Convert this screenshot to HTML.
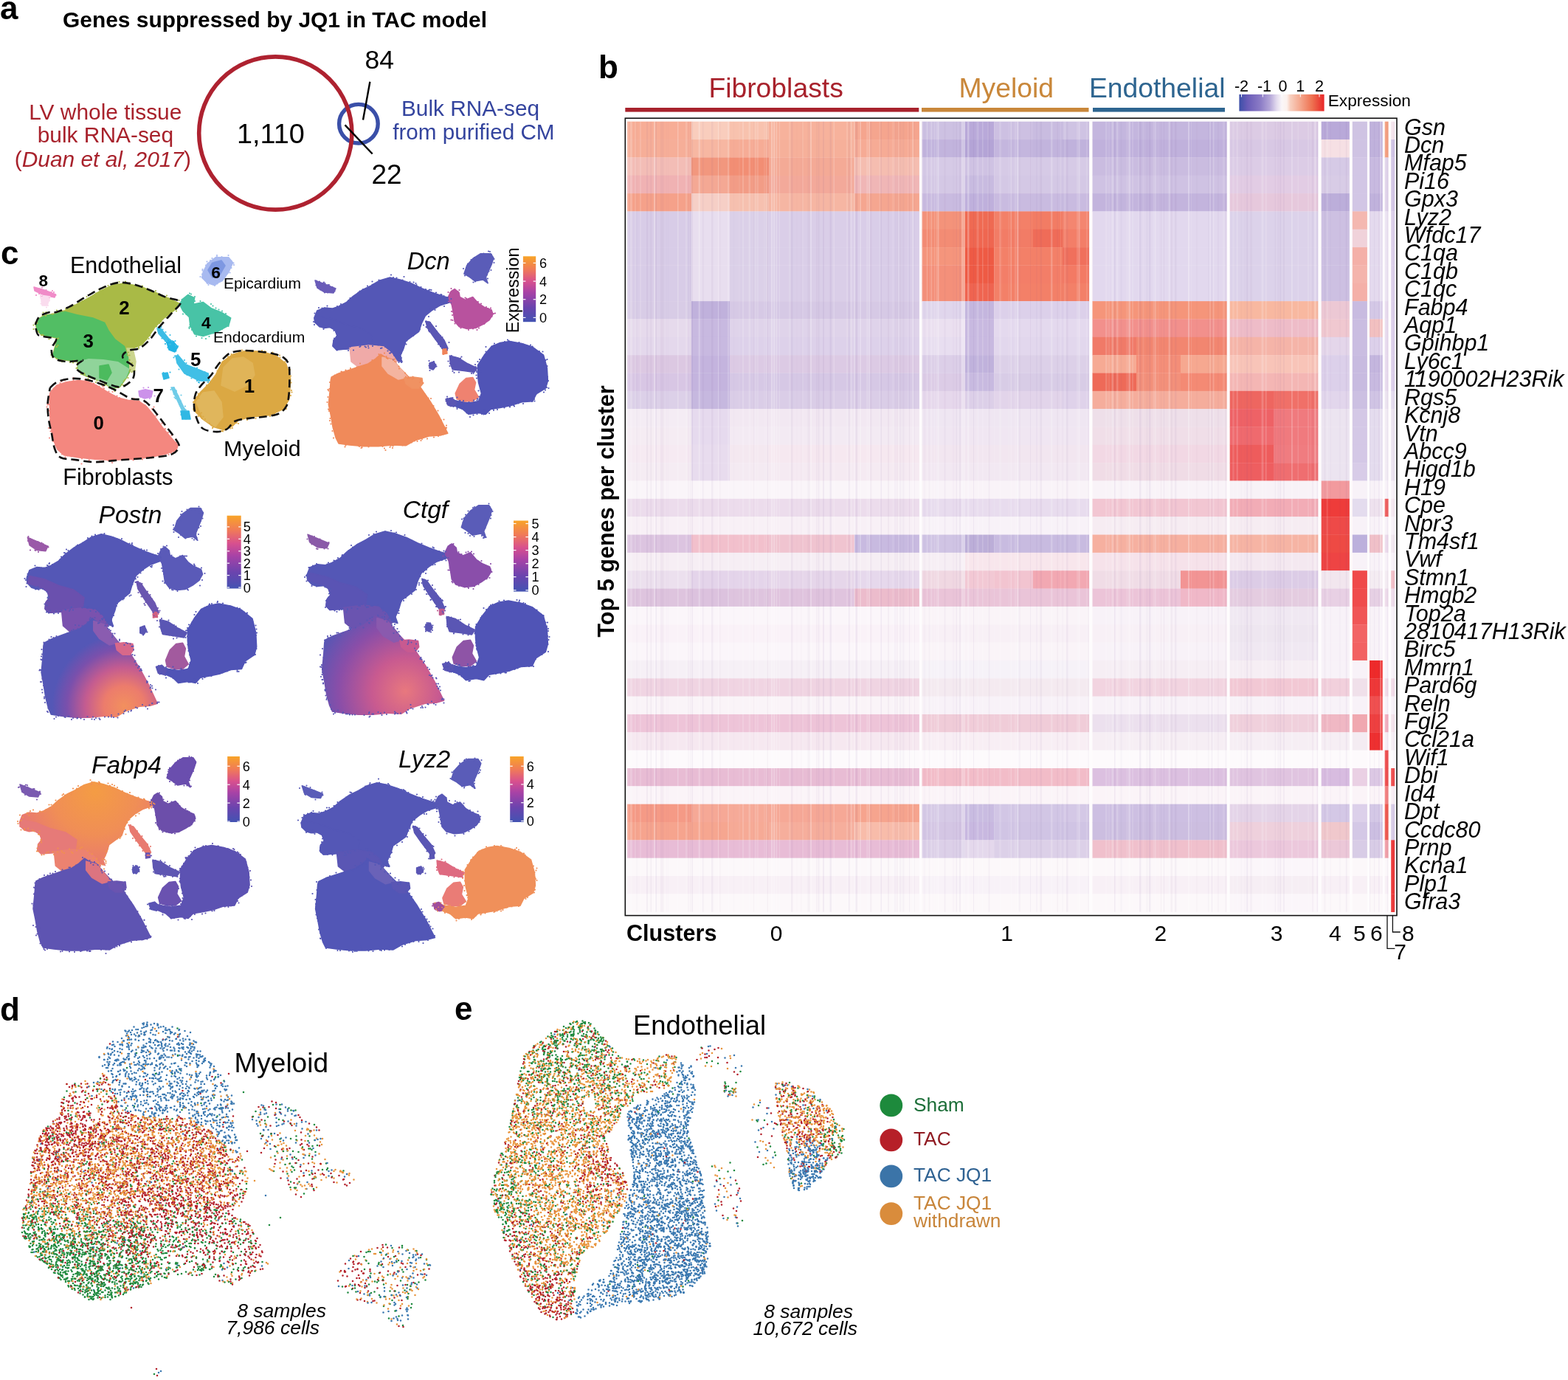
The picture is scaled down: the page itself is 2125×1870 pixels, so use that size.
<!DOCTYPE html>
<html><head><meta charset="utf-8"><title>Figure</title>
<style>
html,body{margin:0;padding:0;background:#fff;}
body{width:2125px;height:1870px;overflow:hidden;position:relative;}
svg{position:absolute;left:0;top:0;}
text{font-family:"Liberation Sans", Arial, sans-serif;}
</style></head><body>
<svg width="2125" height="1870" viewBox="0 0 2125 1870">
<text x="0" y="25.5" font-size="44" fill="#000" font-weight="bold" font-style="normal" text-anchor="start" >a</text>
<text x="85" y="37.2" font-size="28.7" fill="#000" font-weight="bold" font-style="normal" text-anchor="start" textLength="575" lengthAdjust="spacingAndGlyphs">Genes suppressed by JQ1 in TAC model</text>
<text x="142.8" y="162.4" font-size="29.9" fill="#a8222c" font-weight="normal" font-style="normal" text-anchor="middle" >LV whole tissue</text>
<text x="142.9" y="192.8" font-size="29.9" fill="#a8222c" font-weight="normal" font-style="normal" text-anchor="middle" >bulk RNA-seq</text>
<text x="139.4" y="226" font-size="29.9" fill="#a8222c" text-anchor="middle">(<tspan font-style="italic">Duan et al, 2017</tspan>)</text>
<circle cx="485.9" cy="167.7" r="26.3" fill="none" stroke="#3a4fa8" stroke-width="5.4"/>
<circle cx="373.3" cy="180.5" r="103.6" fill="none" stroke="#ae2230" stroke-width="5.6"/>
<text x="366.9" y="193.7" font-size="37.8" fill="#000" font-weight="normal" font-style="normal" text-anchor="middle" >1,110</text>
<text x="494.5" y="92.8" font-size="35.5" fill="#000" font-weight="normal" font-style="normal" text-anchor="start" >84</text>
<text x="503.5" y="249.3" font-size="37" fill="#000" font-weight="normal" font-style="normal" text-anchor="start" >22</text>
<line x1="501.4" y1="110.7" x2="492" y2="162.5" stroke="#000" stroke-width="2.4"/>
<line x1="467.5" y1="169.4" x2="504.7" y2="208.5" stroke="#000" stroke-width="2.4"/>
<text x="637.5" y="157.3" font-size="29.8" fill="#34449e" font-weight="normal" font-style="normal" text-anchor="middle" >Bulk RNA-seq</text>
<text x="641.9" y="188.6" font-size="29.7" fill="#34449e" font-weight="normal" font-style="normal" text-anchor="middle" >from purified CM</text>
<text x="811" y="106.4" font-size="44" fill="#000" font-weight="bold" font-style="normal" text-anchor="start" >b</text>
<text x="1051.6" y="132.3" font-size="37.3" fill="#a8222c" font-weight="normal" font-style="normal" text-anchor="middle" >Fibroblasts</text>
<text x="1363.7" y="132.3" font-size="37.3" fill="#c9873a" font-weight="normal" font-style="normal" text-anchor="middle" >Myeloid</text>
<text x="1568.2" y="132.3" font-size="37.3" fill="#2e6590" font-weight="normal" font-style="normal" text-anchor="middle" >Endothelial</text>
<rect x="847.3" y="146" width="398" height="5.6" fill="#a8222c"/>
<rect x="1249" y="146" width="226.5" height="5.6" fill="#c9873a"/>
<rect x="1481" y="146" width="179" height="5.6" fill="#2e6590"/>
<defs><linearGradient id="hmcb" x1="0" x2="1" y1="0" y2="0">
<stop offset="0" stop-color="#3c4fa8"/><stop offset="0.1" stop-color="#6a5cb8"/><stop offset="0.25" stop-color="#8c7cc6"/>
<stop offset="0.36" stop-color="#b4a6d8"/><stop offset="0.44" stop-color="#e2daee"/><stop offset="0.5" stop-color="#faf6f8"/><stop offset="0.56" stop-color="#fcf2ee"/>
<stop offset="0.6" stop-color="#f8d0c0"/><stop offset="0.72" stop-color="#f4a68c"/><stop offset="0.86" stop-color="#ee7050"/><stop offset="1" stop-color="#e82628"/>
</linearGradient></defs>
<rect x="1679.4" y="127.9" width="115.2" height="22.7" fill="url(#hmcb)"/>
<line x1="1682.5" y1="127.9" x2="1682.5" y2="131.5" stroke="#fff" stroke-width="1"/>
<line x1="1711.3" y1="127.9" x2="1711.3" y2="131.5" stroke="#fff" stroke-width="1"/>
<line x1="1737.1" y1="127.9" x2="1737.1" y2="131.5" stroke="#fff" stroke-width="1"/>
<line x1="1762.3" y1="127.9" x2="1762.3" y2="131.5" stroke="#fff" stroke-width="1"/>
<line x1="1788" y1="127.9" x2="1788" y2="131.5" stroke="#fff" stroke-width="1"/>
<text x="1682.5" y="123.5" font-size="21.6" fill="#000" font-weight="normal" font-style="normal" text-anchor="middle" >-2</text>
<text x="1713.5" y="123.5" font-size="21.6" fill="#000" font-weight="normal" font-style="normal" text-anchor="middle" >-1</text>
<text x="1738.5" y="123.5" font-size="21.6" fill="#000" font-weight="normal" font-style="normal" text-anchor="middle" >0</text>
<text x="1762.3" y="123.5" font-size="21.6" fill="#000" font-weight="normal" font-style="normal" text-anchor="middle" >1</text>
<text x="1788" y="123.5" font-size="21.6" fill="#000" font-weight="normal" font-style="normal" text-anchor="middle" >2</text>
<text x="1799.7" y="144" font-size="22.7" fill="#000" font-weight="normal" font-style="normal" text-anchor="start" >Expression</text>
<rect x="847.3" y="160" width="1046" height="1081" fill="#fefcfd"/>
<rect x="850.0" y="164.70" width="87.4" height="24.64" fill="#f7ad96"/>
<rect x="937.0" y="164.70" width="52.4" height="24.64" fill="#f9cdbd"/>
<rect x="989.0" y="164.70" width="53.4" height="24.64" fill="#f8c2ae"/>
<rect x="1042.0" y="164.70" width="116.4" height="24.64" fill="#f7b29c"/>
<rect x="1158.0" y="164.70" width="87.9" height="24.64" fill="#f5a58e"/>
<rect x="1249.5" y="164.70" width="58.9" height="24.64" fill="#cdc1e2"/>
<rect x="1308.0" y="164.70" width="39.4" height="24.64" fill="#b9a9d9"/>
<rect x="1347.0" y="164.70" width="53.4" height="24.64" fill="#cdc0e2"/>
<rect x="1400.0" y="164.70" width="40.4" height="24.64" fill="#c9bce0"/>
<rect x="1440.0" y="164.70" width="36.1" height="24.64" fill="#cfc3e3"/>
<rect x="1480.5" y="164.70" width="59.9" height="24.64" fill="#c4b6de"/>
<rect x="1540.0" y="164.70" width="60.4" height="24.64" fill="#c4b6de"/>
<rect x="1600.0" y="164.70" width="62.7" height="24.64" fill="#c4b6de"/>
<rect x="1666.7" y="164.70" width="59.7" height="24.64" fill="#dccbe4"/>
<rect x="1726.0" y="164.70" width="60.4" height="24.64" fill="#dccbe4"/>
<rect x="1790.7" y="164.70" width="38.2" height="24.64" fill="#b9a9d9"/>
<rect x="1832.8" y="164.70" width="20.1" height="24.64" fill="#cfc3e3"/>
<rect x="1856.1" y="164.70" width="17.6" height="24.64" fill="#c0b2dc"/>
<rect x="1876.7" y="164.70" width="4.9" height="24.64" fill="#f4a080"/>
<rect x="1885.2" y="164.70" width="5.0" height="24.64" fill="#f4e4ec"/>
<rect x="850.0" y="189.04" width="87.4" height="24.64" fill="#f6ae98"/>
<rect x="937.0" y="189.04" width="52.4" height="24.64" fill="#f7b7a2"/>
<rect x="989.0" y="189.04" width="53.4" height="24.64" fill="#f6ac96"/>
<rect x="1042.0" y="189.04" width="116.4" height="24.64" fill="#f6b09a"/>
<rect x="1158.0" y="189.04" width="87.9" height="24.64" fill="#f6ab95"/>
<rect x="1249.5" y="189.04" width="58.9" height="24.64" fill="#c2b4dd"/>
<rect x="1308.0" y="189.04" width="39.4" height="24.64" fill="#b4a4d6"/>
<rect x="1347.0" y="189.04" width="53.4" height="24.64" fill="#c4b6de"/>
<rect x="1400.0" y="189.04" width="40.4" height="24.64" fill="#c2b4dd"/>
<rect x="1440.0" y="189.04" width="36.1" height="24.64" fill="#c0b2dc"/>
<rect x="1480.5" y="189.04" width="59.9" height="24.64" fill="#c0b1dc"/>
<rect x="1540.0" y="189.04" width="60.4" height="24.64" fill="#c0b1dc"/>
<rect x="1600.0" y="189.04" width="62.7" height="24.64" fill="#c0b1dc"/>
<rect x="1666.7" y="189.04" width="59.7" height="24.64" fill="#d8c8e4"/>
<rect x="1726.0" y="189.04" width="60.4" height="24.64" fill="#d8c8e4"/>
<rect x="1790.7" y="189.04" width="38.2" height="24.64" fill="#f6e0e4"/>
<rect x="1832.8" y="189.04" width="20.1" height="24.64" fill="#cfc3e3"/>
<rect x="1856.1" y="189.04" width="17.6" height="24.64" fill="#c0b2dc"/>
<rect x="1876.7" y="189.04" width="4.9" height="24.64" fill="#f4a080"/>
<rect x="1885.2" y="189.04" width="5.0" height="24.64" fill="#d0c4e4"/>
<rect x="850.0" y="213.38" width="87.4" height="24.64" fill="#f3bdb6"/>
<rect x="937.0" y="213.38" width="52.4" height="24.64" fill="#f2977e"/>
<rect x="989.0" y="213.38" width="53.4" height="24.64" fill="#f28e74"/>
<rect x="1042.0" y="213.38" width="116.4" height="24.64" fill="#f4aa96"/>
<rect x="1158.0" y="213.38" width="87.9" height="24.64" fill="#f5bdb0"/>
<rect x="1249.5" y="213.38" width="58.9" height="24.64" fill="#d6cae6"/>
<rect x="1308.0" y="213.38" width="39.4" height="24.64" fill="#cfc2e3"/>
<rect x="1347.0" y="213.38" width="53.4" height="24.64" fill="#d6cae6"/>
<rect x="1400.0" y="213.38" width="40.4" height="24.64" fill="#d6cae6"/>
<rect x="1440.0" y="213.38" width="36.1" height="24.64" fill="#d6cae6"/>
<rect x="1480.5" y="213.38" width="59.9" height="24.64" fill="#cabce0"/>
<rect x="1540.0" y="213.38" width="60.4" height="24.64" fill="#cabce0"/>
<rect x="1600.0" y="213.38" width="62.7" height="24.64" fill="#cabce0"/>
<rect x="1666.7" y="213.38" width="59.7" height="24.64" fill="#dccce6"/>
<rect x="1726.0" y="213.38" width="60.4" height="24.64" fill="#dccce6"/>
<rect x="1790.7" y="213.38" width="38.2" height="24.64" fill="#d6cae6"/>
<rect x="1832.8" y="213.38" width="20.1" height="24.64" fill="#d2c6e5"/>
<rect x="1856.1" y="213.38" width="17.6" height="24.64" fill="#c8bae0"/>
<rect x="1876.7" y="213.38" width="4.9" height="24.64" fill="#e0d4ea"/>
<rect x="1885.2" y="213.38" width="5.0" height="24.64" fill="#d4c8e6"/>
<rect x="850.0" y="237.72" width="87.4" height="24.64" fill="#f0b2b3"/>
<rect x="937.0" y="237.72" width="52.4" height="24.64" fill="#f4a894"/>
<rect x="989.0" y="237.72" width="53.4" height="24.64" fill="#f29c86"/>
<rect x="1042.0" y="237.72" width="116.4" height="24.64" fill="#f3a99a"/>
<rect x="1158.0" y="237.72" width="87.9" height="24.64" fill="#f0b6b6"/>
<rect x="1249.5" y="237.72" width="58.9" height="24.64" fill="#d4c8e5"/>
<rect x="1308.0" y="237.72" width="39.4" height="24.64" fill="#c8bbe0"/>
<rect x="1347.0" y="237.72" width="53.4" height="24.64" fill="#d4c8e5"/>
<rect x="1400.0" y="237.72" width="40.4" height="24.64" fill="#d4c8e5"/>
<rect x="1440.0" y="237.72" width="36.1" height="24.64" fill="#d4c8e5"/>
<rect x="1480.5" y="237.72" width="59.9" height="24.64" fill="#cfc2e3"/>
<rect x="1540.0" y="237.72" width="60.4" height="24.64" fill="#cfc2e3"/>
<rect x="1600.0" y="237.72" width="62.7" height="24.64" fill="#cfc2e3"/>
<rect x="1666.7" y="237.72" width="59.7" height="24.64" fill="#e2cce4"/>
<rect x="1726.0" y="237.72" width="60.4" height="24.64" fill="#e2cce4"/>
<rect x="1790.7" y="237.72" width="38.2" height="24.64" fill="#d8cce6"/>
<rect x="1832.8" y="237.72" width="20.1" height="24.64" fill="#d2c6e5"/>
<rect x="1856.1" y="237.72" width="17.6" height="24.64" fill="#c8bae0"/>
<rect x="1876.7" y="237.72" width="4.9" height="24.64" fill="#e0d4ea"/>
<rect x="1885.2" y="237.72" width="5.0" height="24.64" fill="#d4c8e6"/>
<rect x="850.0" y="262.06" width="87.4" height="24.64" fill="#f5a18a"/>
<rect x="937.0" y="262.06" width="52.4" height="24.64" fill="#f6cfc6"/>
<rect x="989.0" y="262.06" width="53.4" height="24.64" fill="#f6c0af"/>
<rect x="1042.0" y="262.06" width="116.4" height="24.64" fill="#f6b6a3"/>
<rect x="1158.0" y="262.06" width="87.9" height="24.64" fill="#f5a690"/>
<rect x="1249.5" y="262.06" width="58.9" height="24.64" fill="#c9bbe0"/>
<rect x="1308.0" y="262.06" width="39.4" height="24.64" fill="#bfb0dc"/>
<rect x="1347.0" y="262.06" width="53.4" height="24.64" fill="#c9bbe0"/>
<rect x="1400.0" y="262.06" width="40.4" height="24.64" fill="#c9bbe0"/>
<rect x="1440.0" y="262.06" width="36.1" height="24.64" fill="#c9bbe0"/>
<rect x="1480.5" y="262.06" width="59.9" height="24.64" fill="#c3b4dd"/>
<rect x="1540.0" y="262.06" width="60.4" height="24.64" fill="#c3b4dd"/>
<rect x="1600.0" y="262.06" width="62.7" height="24.64" fill="#c3b4dd"/>
<rect x="1666.7" y="262.06" width="59.7" height="24.64" fill="#e6c8dc"/>
<rect x="1726.0" y="262.06" width="60.4" height="24.64" fill="#e6c8dc"/>
<rect x="1790.7" y="262.06" width="38.2" height="24.64" fill="#bcaeda"/>
<rect x="1832.8" y="262.06" width="20.1" height="24.64" fill="#d2c6e5"/>
<rect x="1856.1" y="262.06" width="17.6" height="24.64" fill="#c0b2dc"/>
<rect x="1876.7" y="262.06" width="4.9" height="24.64" fill="#e0d4ea"/>
<rect x="1885.2" y="262.06" width="5.0" height="24.64" fill="#d4c8e6"/>
<rect x="850.0" y="286.40" width="87.4" height="24.64" fill="#d8cce7"/>
<rect x="937.0" y="286.40" width="52.4" height="24.64" fill="#e8deef"/>
<rect x="989.0" y="286.40" width="53.4" height="24.64" fill="#dbd0e8"/>
<rect x="1042.0" y="286.40" width="116.4" height="24.64" fill="#dacee8"/>
<rect x="1158.0" y="286.40" width="87.9" height="24.64" fill="#d9cde8"/>
<rect x="1249.5" y="286.40" width="58.9" height="24.64" fill="#f4937a"/>
<rect x="1308.0" y="286.40" width="39.4" height="24.64" fill="#ef6a52"/>
<rect x="1347.0" y="286.40" width="53.4" height="24.64" fill="#f38068"/>
<rect x="1400.0" y="286.40" width="40.4" height="24.64" fill="#f27c64"/>
<rect x="1440.0" y="286.40" width="36.1" height="24.64" fill="#f48670"/>
<rect x="1480.5" y="286.40" width="59.9" height="24.64" fill="#e2d8ee"/>
<rect x="1540.0" y="286.40" width="60.4" height="24.64" fill="#e2d8ee"/>
<rect x="1600.0" y="286.40" width="62.7" height="24.64" fill="#e2d8ee"/>
<rect x="1666.7" y="286.40" width="59.7" height="24.64" fill="#dcd2ea"/>
<rect x="1726.0" y="286.40" width="60.4" height="24.64" fill="#dcd2ea"/>
<rect x="1790.7" y="286.40" width="38.2" height="24.64" fill="#cdc0e2"/>
<rect x="1832.8" y="286.40" width="20.1" height="24.64" fill="#f4b8b0"/>
<rect x="1856.1" y="286.40" width="17.6" height="24.64" fill="#e4daee"/>
<rect x="1876.7" y="286.40" width="4.9" height="24.64" fill="#ece4f2"/>
<rect x="1885.2" y="286.40" width="5.0" height="24.64" fill="#dcd0ea"/>
<rect x="850.0" y="310.75" width="87.4" height="24.64" fill="#d8cce7"/>
<rect x="937.0" y="310.75" width="52.4" height="24.64" fill="#e8deef"/>
<rect x="989.0" y="310.75" width="53.4" height="24.64" fill="#dbd0e8"/>
<rect x="1042.0" y="310.75" width="116.4" height="24.64" fill="#dacee8"/>
<rect x="1158.0" y="310.75" width="87.9" height="24.64" fill="#d9cde8"/>
<rect x="1249.5" y="310.75" width="58.9" height="24.64" fill="#f38c74"/>
<rect x="1308.0" y="310.75" width="39.4" height="24.64" fill="#ef6650"/>
<rect x="1347.0" y="310.75" width="53.4" height="24.64" fill="#f27c66"/>
<rect x="1400.0" y="310.75" width="40.4" height="24.64" fill="#ef6c58"/>
<rect x="1440.0" y="310.75" width="36.1" height="24.64" fill="#f37e68"/>
<rect x="1480.5" y="310.75" width="59.9" height="24.64" fill="#e2d8ee"/>
<rect x="1540.0" y="310.75" width="60.4" height="24.64" fill="#e2d8ee"/>
<rect x="1600.0" y="310.75" width="62.7" height="24.64" fill="#e2d8ee"/>
<rect x="1666.7" y="310.75" width="59.7" height="24.64" fill="#dcd2ea"/>
<rect x="1726.0" y="310.75" width="60.4" height="24.64" fill="#dcd2ea"/>
<rect x="1790.7" y="310.75" width="38.2" height="24.64" fill="#cdc0e2"/>
<rect x="1832.8" y="310.75" width="20.1" height="24.64" fill="#f0d2da"/>
<rect x="1856.1" y="310.75" width="17.6" height="24.64" fill="#e4daee"/>
<rect x="1876.7" y="310.75" width="4.9" height="24.64" fill="#ece4f2"/>
<rect x="1885.2" y="310.75" width="5.0" height="24.64" fill="#dcd0ea"/>
<rect x="850.0" y="335.09" width="87.4" height="24.64" fill="#d8cce7"/>
<rect x="937.0" y="335.09" width="52.4" height="24.64" fill="#e8deef"/>
<rect x="989.0" y="335.09" width="53.4" height="24.64" fill="#dbd0e8"/>
<rect x="1042.0" y="335.09" width="116.4" height="24.64" fill="#dacee8"/>
<rect x="1158.0" y="335.09" width="87.9" height="24.64" fill="#d9cde8"/>
<rect x="1249.5" y="335.09" width="58.9" height="24.64" fill="#f5957c"/>
<rect x="1308.0" y="335.09" width="39.4" height="24.64" fill="#ee5a44"/>
<rect x="1347.0" y="335.09" width="53.4" height="24.64" fill="#f38068"/>
<rect x="1400.0" y="335.09" width="40.4" height="24.64" fill="#f38068"/>
<rect x="1440.0" y="335.09" width="36.1" height="24.64" fill="#f0705c"/>
<rect x="1480.5" y="335.09" width="59.9" height="24.64" fill="#e2d8ee"/>
<rect x="1540.0" y="335.09" width="60.4" height="24.64" fill="#e2d8ee"/>
<rect x="1600.0" y="335.09" width="62.7" height="24.64" fill="#e2d8ee"/>
<rect x="1666.7" y="335.09" width="59.7" height="24.64" fill="#dcd2ea"/>
<rect x="1726.0" y="335.09" width="60.4" height="24.64" fill="#dcd2ea"/>
<rect x="1790.7" y="335.09" width="38.2" height="24.64" fill="#cdc0e2"/>
<rect x="1832.8" y="335.09" width="20.1" height="24.64" fill="#f4b0a8"/>
<rect x="1856.1" y="335.09" width="17.6" height="24.64" fill="#e4daee"/>
<rect x="1876.7" y="335.09" width="4.9" height="24.64" fill="#ece4f2"/>
<rect x="1885.2" y="335.09" width="5.0" height="24.64" fill="#dcd0ea"/>
<rect x="850.0" y="359.43" width="87.4" height="24.64" fill="#d8cce7"/>
<rect x="937.0" y="359.43" width="52.4" height="24.64" fill="#e8deef"/>
<rect x="989.0" y="359.43" width="53.4" height="24.64" fill="#dbd0e8"/>
<rect x="1042.0" y="359.43" width="116.4" height="24.64" fill="#dacee8"/>
<rect x="1158.0" y="359.43" width="87.9" height="24.64" fill="#d9cde8"/>
<rect x="1249.5" y="359.43" width="58.9" height="24.64" fill="#f4907a"/>
<rect x="1308.0" y="359.43" width="39.4" height="24.64" fill="#ee5a44"/>
<rect x="1347.0" y="359.43" width="53.4" height="24.64" fill="#f37e68"/>
<rect x="1400.0" y="359.43" width="40.4" height="24.64" fill="#f37e68"/>
<rect x="1440.0" y="359.43" width="36.1" height="24.64" fill="#f37a64"/>
<rect x="1480.5" y="359.43" width="59.9" height="24.64" fill="#e2d8ee"/>
<rect x="1540.0" y="359.43" width="60.4" height="24.64" fill="#e2d8ee"/>
<rect x="1600.0" y="359.43" width="62.7" height="24.64" fill="#e2d8ee"/>
<rect x="1666.7" y="359.43" width="59.7" height="24.64" fill="#dcd2ea"/>
<rect x="1726.0" y="359.43" width="60.4" height="24.64" fill="#dcd2ea"/>
<rect x="1790.7" y="359.43" width="38.2" height="24.64" fill="#cdc0e2"/>
<rect x="1832.8" y="359.43" width="20.1" height="24.64" fill="#f4b4ac"/>
<rect x="1856.1" y="359.43" width="17.6" height="24.64" fill="#e4daee"/>
<rect x="1876.7" y="359.43" width="4.9" height="24.64" fill="#ece4f2"/>
<rect x="1885.2" y="359.43" width="5.0" height="24.64" fill="#dcd0ea"/>
<rect x="850.0" y="383.77" width="87.4" height="24.64" fill="#d8cce7"/>
<rect x="937.0" y="383.77" width="52.4" height="24.64" fill="#e8deef"/>
<rect x="989.0" y="383.77" width="53.4" height="24.64" fill="#dbd0e8"/>
<rect x="1042.0" y="383.77" width="116.4" height="24.64" fill="#dacee8"/>
<rect x="1158.0" y="383.77" width="87.9" height="24.64" fill="#d9cde8"/>
<rect x="1249.5" y="383.77" width="58.9" height="24.64" fill="#f4907a"/>
<rect x="1308.0" y="383.77" width="39.4" height="24.64" fill="#ef6450"/>
<rect x="1347.0" y="383.77" width="53.4" height="24.64" fill="#f38068"/>
<rect x="1400.0" y="383.77" width="40.4" height="24.64" fill="#f38068"/>
<rect x="1440.0" y="383.77" width="36.1" height="24.64" fill="#f38068"/>
<rect x="1480.5" y="383.77" width="59.9" height="24.64" fill="#e2d8ee"/>
<rect x="1540.0" y="383.77" width="60.4" height="24.64" fill="#e2d8ee"/>
<rect x="1600.0" y="383.77" width="62.7" height="24.64" fill="#e2d8ee"/>
<rect x="1666.7" y="383.77" width="59.7" height="24.64" fill="#dcd2ea"/>
<rect x="1726.0" y="383.77" width="60.4" height="24.64" fill="#dcd2ea"/>
<rect x="1790.7" y="383.77" width="38.2" height="24.64" fill="#cdc0e2"/>
<rect x="1832.8" y="383.77" width="20.1" height="24.64" fill="#f4b0a8"/>
<rect x="1856.1" y="383.77" width="17.6" height="24.64" fill="#e4daee"/>
<rect x="1876.7" y="383.77" width="4.9" height="24.64" fill="#ece4f2"/>
<rect x="1885.2" y="383.77" width="5.0" height="24.64" fill="#dcd0ea"/>
<rect x="850.0" y="408.11" width="87.4" height="24.64" fill="#d8cce6"/>
<rect x="937.0" y="408.11" width="52.4" height="24.64" fill="#c0b1dc"/>
<rect x="989.0" y="408.11" width="53.4" height="24.64" fill="#d6c9e5"/>
<rect x="1042.0" y="408.11" width="116.4" height="24.64" fill="#d6c9e5"/>
<rect x="1158.0" y="408.11" width="87.9" height="24.64" fill="#d6c9e5"/>
<rect x="1249.5" y="408.11" width="58.9" height="24.64" fill="#e0d6ec"/>
<rect x="1308.0" y="408.11" width="39.4" height="24.64" fill="#c4b6de"/>
<rect x="1347.0" y="408.11" width="53.4" height="24.64" fill="#dcd0ea"/>
<rect x="1400.0" y="408.11" width="40.4" height="24.64" fill="#dcd0ea"/>
<rect x="1440.0" y="408.11" width="36.1" height="24.64" fill="#dcd0ea"/>
<rect x="1480.5" y="408.11" width="59.9" height="24.64" fill="#f5957a"/>
<rect x="1540.0" y="408.11" width="60.4" height="24.64" fill="#f5957a"/>
<rect x="1600.0" y="408.11" width="62.7" height="24.64" fill="#f5957a"/>
<rect x="1666.7" y="408.11" width="59.7" height="24.64" fill="#f8b8a0"/>
<rect x="1726.0" y="408.11" width="60.4" height="24.64" fill="#f8b8a0"/>
<rect x="1790.7" y="408.11" width="38.2" height="24.64" fill="#ecc8d4"/>
<rect x="1832.8" y="408.11" width="20.1" height="24.64" fill="#c8bbe0"/>
<rect x="1856.1" y="408.11" width="17.6" height="24.64" fill="#d4c8e6"/>
<rect x="1876.7" y="408.11" width="4.9" height="24.64" fill="#e8dcee"/>
<rect x="1885.2" y="408.11" width="5.0" height="24.64" fill="#dcd0ea"/>
<rect x="850.0" y="432.45" width="87.4" height="24.64" fill="#e6daec"/>
<rect x="937.0" y="432.45" width="52.4" height="24.64" fill="#c8b9e0"/>
<rect x="989.0" y="432.45" width="53.4" height="24.64" fill="#dfd3ea"/>
<rect x="1042.0" y="432.45" width="116.4" height="24.64" fill="#dfd3ea"/>
<rect x="1158.0" y="432.45" width="87.9" height="24.64" fill="#dfd3ea"/>
<rect x="1249.5" y="432.45" width="58.9" height="24.64" fill="#ebe0f0"/>
<rect x="1308.0" y="432.45" width="39.4" height="24.64" fill="#c8b9e0"/>
<rect x="1347.0" y="432.45" width="53.4" height="24.64" fill="#e4d9ee"/>
<rect x="1400.0" y="432.45" width="40.4" height="24.64" fill="#e4d9ee"/>
<rect x="1440.0" y="432.45" width="36.1" height="24.64" fill="#e4d9ee"/>
<rect x="1480.5" y="432.45" width="59.9" height="24.64" fill="#f2908c"/>
<rect x="1540.0" y="432.45" width="60.4" height="24.64" fill="#f2908c"/>
<rect x="1600.0" y="432.45" width="62.7" height="24.64" fill="#f2908c"/>
<rect x="1666.7" y="432.45" width="59.7" height="24.64" fill="#eebcc8"/>
<rect x="1726.0" y="432.45" width="60.4" height="24.64" fill="#eebcc8"/>
<rect x="1790.7" y="432.45" width="38.2" height="24.64" fill="#f0c8d0"/>
<rect x="1832.8" y="432.45" width="20.1" height="24.64" fill="#cabde1"/>
<rect x="1856.1" y="432.45" width="17.6" height="24.64" fill="#f2c0c0"/>
<rect x="1876.7" y="432.45" width="4.9" height="24.64" fill="#e8dcee"/>
<rect x="1885.2" y="432.45" width="5.0" height="24.64" fill="#dcd0ea"/>
<rect x="850.0" y="456.79" width="87.4" height="24.64" fill="#e4d8ec"/>
<rect x="937.0" y="456.79" width="52.4" height="24.64" fill="#c8b9e0"/>
<rect x="989.0" y="456.79" width="53.4" height="24.64" fill="#ddd1ea"/>
<rect x="1042.0" y="456.79" width="116.4" height="24.64" fill="#ddd1ea"/>
<rect x="1158.0" y="456.79" width="87.9" height="24.64" fill="#ddd1ea"/>
<rect x="1249.5" y="456.79" width="58.9" height="24.64" fill="#e8def0"/>
<rect x="1308.0" y="456.79" width="39.4" height="24.64" fill="#c8b9e0"/>
<rect x="1347.0" y="456.79" width="53.4" height="24.64" fill="#e2d7ed"/>
<rect x="1400.0" y="456.79" width="40.4" height="24.64" fill="#e2d7ed"/>
<rect x="1440.0" y="456.79" width="36.1" height="24.64" fill="#e2d7ed"/>
<rect x="1480.5" y="456.79" width="59.9" height="24.64" fill="#f07a68"/>
<rect x="1540.0" y="456.79" width="60.4" height="24.64" fill="#f28670"/>
<rect x="1600.0" y="456.79" width="62.7" height="24.64" fill="#f28670"/>
<rect x="1666.7" y="456.79" width="59.7" height="24.64" fill="#f5b4a8"/>
<rect x="1726.0" y="456.79" width="60.4" height="24.64" fill="#f5b4a8"/>
<rect x="1790.7" y="456.79" width="38.2" height="24.64" fill="#e4d6ea"/>
<rect x="1832.8" y="456.79" width="20.1" height="24.64" fill="#cabde1"/>
<rect x="1856.1" y="456.79" width="17.6" height="24.64" fill="#dcd0ea"/>
<rect x="1876.7" y="456.79" width="4.9" height="24.64" fill="#e8dcee"/>
<rect x="1885.2" y="456.79" width="5.0" height="24.64" fill="#dcd0ea"/>
<rect x="850.0" y="481.13" width="87.4" height="24.64" fill="#dcc8e2"/>
<rect x="937.0" y="481.13" width="52.4" height="24.64" fill="#c4b4de"/>
<rect x="989.0" y="481.13" width="53.4" height="24.64" fill="#dccae4"/>
<rect x="1042.0" y="481.13" width="116.4" height="24.64" fill="#dccae4"/>
<rect x="1158.0" y="481.13" width="87.9" height="24.64" fill="#dccae4"/>
<rect x="1249.5" y="481.13" width="58.9" height="24.64" fill="#dccfe8"/>
<rect x="1308.0" y="481.13" width="39.4" height="24.64" fill="#c0b2dc"/>
<rect x="1347.0" y="481.13" width="53.4" height="24.64" fill="#dcd0e8"/>
<rect x="1400.0" y="481.13" width="40.4" height="24.64" fill="#dcd0e8"/>
<rect x="1440.0" y="481.13" width="36.1" height="24.64" fill="#dcd0e8"/>
<rect x="1480.5" y="481.13" width="59.9" height="24.64" fill="#f6aa94"/>
<rect x="1540.0" y="481.13" width="60.4" height="24.64" fill="#f48e78"/>
<rect x="1600.0" y="481.13" width="62.7" height="24.64" fill="#f6a890"/>
<rect x="1666.7" y="481.13" width="59.7" height="24.64" fill="#f8c4b8"/>
<rect x="1726.0" y="481.13" width="60.4" height="24.64" fill="#f8c4b8"/>
<rect x="1790.7" y="481.13" width="38.2" height="24.64" fill="#dcd0ea"/>
<rect x="1832.8" y="481.13" width="20.1" height="24.64" fill="#c8bbe0"/>
<rect x="1856.1" y="481.13" width="17.6" height="24.64" fill="#c4b6de"/>
<rect x="1876.7" y="481.13" width="4.9" height="24.64" fill="#e8dcee"/>
<rect x="1885.2" y="481.13" width="5.0" height="24.64" fill="#dcd0ea"/>
<rect x="850.0" y="505.47" width="87.4" height="24.64" fill="#d8c6e4"/>
<rect x="937.0" y="505.47" width="52.4" height="24.64" fill="#c4b4de"/>
<rect x="989.0" y="505.47" width="53.4" height="24.64" fill="#d6c8e5"/>
<rect x="1042.0" y="505.47" width="116.4" height="24.64" fill="#d6c8e5"/>
<rect x="1158.0" y="505.47" width="87.9" height="24.64" fill="#d6c8e5"/>
<rect x="1249.5" y="505.47" width="58.9" height="24.64" fill="#dccce6"/>
<rect x="1308.0" y="505.47" width="39.4" height="24.64" fill="#c8bae0"/>
<rect x="1347.0" y="505.47" width="53.4" height="24.64" fill="#d8cce6"/>
<rect x="1400.0" y="505.47" width="40.4" height="24.64" fill="#d8cce6"/>
<rect x="1440.0" y="505.47" width="36.1" height="24.64" fill="#d8cce6"/>
<rect x="1480.5" y="505.47" width="59.9" height="24.64" fill="#ee6a58"/>
<rect x="1540.0" y="505.47" width="60.4" height="24.64" fill="#f3907a"/>
<rect x="1600.0" y="505.47" width="62.7" height="24.64" fill="#f48a74"/>
<rect x="1666.7" y="505.47" width="59.7" height="24.64" fill="#f4b6b4"/>
<rect x="1726.0" y="505.47" width="60.4" height="24.64" fill="#f4b6b4"/>
<rect x="1790.7" y="505.47" width="38.2" height="24.64" fill="#dcd0ea"/>
<rect x="1832.8" y="505.47" width="20.1" height="24.64" fill="#c8bbe0"/>
<rect x="1856.1" y="505.47" width="17.6" height="24.64" fill="#c8bae0"/>
<rect x="1876.7" y="505.47" width="4.9" height="24.64" fill="#e8dcee"/>
<rect x="1885.2" y="505.47" width="5.0" height="24.64" fill="#dcd0ea"/>
<rect x="850.0" y="529.81" width="87.4" height="24.64" fill="#dcd0e8"/>
<rect x="937.0" y="529.81" width="52.4" height="24.64" fill="#c6b8df"/>
<rect x="989.0" y="529.81" width="53.4" height="24.64" fill="#dacde7"/>
<rect x="1042.0" y="529.81" width="116.4" height="24.64" fill="#dacde7"/>
<rect x="1158.0" y="529.81" width="87.9" height="24.64" fill="#dacde7"/>
<rect x="1249.5" y="529.81" width="58.9" height="24.64" fill="#e6d8ec"/>
<rect x="1308.0" y="529.81" width="39.4" height="24.64" fill="#dccfe8"/>
<rect x="1347.0" y="529.81" width="53.4" height="24.64" fill="#e2d4ea"/>
<rect x="1400.0" y="529.81" width="40.4" height="24.64" fill="#e2d4ea"/>
<rect x="1440.0" y="529.81" width="36.1" height="24.64" fill="#dfd2ea"/>
<rect x="1480.5" y="529.81" width="59.9" height="24.64" fill="#f5ad9c"/>
<rect x="1540.0" y="529.81" width="60.4" height="24.64" fill="#f5ad9c"/>
<rect x="1600.0" y="529.81" width="62.7" height="24.64" fill="#f5ad9c"/>
<rect x="1666.7" y="529.81" width="59.7" height="24.64" fill="#ee6660"/>
<rect x="1726.0" y="529.81" width="60.4" height="24.64" fill="#f07068"/>
<rect x="1790.7" y="529.81" width="38.2" height="24.64" fill="#e2d6ec"/>
<rect x="1832.8" y="529.81" width="20.1" height="24.64" fill="#ccc0e2"/>
<rect x="1856.1" y="529.81" width="17.6" height="24.64" fill="#d0c4e4"/>
<rect x="1876.7" y="529.81" width="4.9" height="24.64" fill="#ece4f0"/>
<rect x="1885.2" y="529.81" width="5.0" height="24.64" fill="#e4dcee"/>
<rect x="850.0" y="554.15" width="87.4" height="24.64" fill="#f4ecf4"/>
<rect x="937.0" y="554.15" width="52.4" height="24.64" fill="#e6daee"/>
<rect x="989.0" y="554.15" width="53.4" height="24.64" fill="#f2e8f2"/>
<rect x="1042.0" y="554.15" width="116.4" height="24.64" fill="#f2e8f2"/>
<rect x="1158.0" y="554.15" width="87.9" height="24.64" fill="#f2e8f2"/>
<rect x="1249.5" y="554.15" width="58.9" height="24.64" fill="#efe6f2"/>
<rect x="1308.0" y="554.15" width="39.4" height="24.64" fill="#efe6f2"/>
<rect x="1347.0" y="554.15" width="53.4" height="24.64" fill="#efe6f2"/>
<rect x="1400.0" y="554.15" width="40.4" height="24.64" fill="#efe6f2"/>
<rect x="1440.0" y="554.15" width="36.1" height="24.64" fill="#efe6f2"/>
<rect x="1480.5" y="554.15" width="59.9" height="24.64" fill="#eedfe9"/>
<rect x="1540.0" y="554.15" width="60.4" height="24.64" fill="#eedfe9"/>
<rect x="1600.0" y="554.15" width="62.7" height="24.64" fill="#eedfe9"/>
<rect x="1666.7" y="554.15" width="59.7" height="24.64" fill="#ee6266"/>
<rect x="1726.0" y="554.15" width="60.4" height="24.64" fill="#f07a7e"/>
<rect x="1790.7" y="554.15" width="38.2" height="24.64" fill="#ece4f0"/>
<rect x="1832.8" y="554.15" width="20.1" height="24.64" fill="#d4c8e6"/>
<rect x="1856.1" y="554.15" width="17.6" height="24.64" fill="#e4dcee"/>
<rect x="1876.7" y="554.15" width="4.9" height="24.64" fill="#f2ecf4"/>
<rect x="1885.2" y="554.15" width="5.0" height="24.64" fill="#ece4f0"/>
<rect x="850.0" y="578.50" width="87.4" height="24.64" fill="#f5ecf3"/>
<rect x="937.0" y="578.50" width="52.4" height="24.64" fill="#e6daee"/>
<rect x="989.0" y="578.50" width="53.4" height="24.64" fill="#f3eaf3"/>
<rect x="1042.0" y="578.50" width="116.4" height="24.64" fill="#f3eaf3"/>
<rect x="1158.0" y="578.50" width="87.9" height="24.64" fill="#f3eaf3"/>
<rect x="1249.5" y="578.50" width="58.9" height="24.64" fill="#f0e6f2"/>
<rect x="1308.0" y="578.50" width="39.4" height="24.64" fill="#f0e6f2"/>
<rect x="1347.0" y="578.50" width="53.4" height="24.64" fill="#f0e6f2"/>
<rect x="1400.0" y="578.50" width="40.4" height="24.64" fill="#f0e6f2"/>
<rect x="1440.0" y="578.50" width="36.1" height="24.64" fill="#f0e6f2"/>
<rect x="1480.5" y="578.50" width="59.9" height="24.64" fill="#f0dee8"/>
<rect x="1540.0" y="578.50" width="60.4" height="24.64" fill="#f0dee8"/>
<rect x="1600.0" y="578.50" width="62.7" height="24.64" fill="#f0dee8"/>
<rect x="1666.7" y="578.50" width="59.7" height="24.64" fill="#ef6a6e"/>
<rect x="1726.0" y="578.50" width="60.4" height="24.64" fill="#f07a7e"/>
<rect x="1790.7" y="578.50" width="38.2" height="24.64" fill="#ece4f0"/>
<rect x="1832.8" y="578.50" width="20.1" height="24.64" fill="#d4c8e6"/>
<rect x="1856.1" y="578.50" width="17.6" height="24.64" fill="#e4dcee"/>
<rect x="1876.7" y="578.50" width="4.9" height="24.64" fill="#f2ecf4"/>
<rect x="1885.2" y="578.50" width="5.0" height="24.64" fill="#ece4f0"/>
<rect x="850.0" y="602.84" width="87.4" height="24.64" fill="#f6eaf2"/>
<rect x="937.0" y="602.84" width="52.4" height="24.64" fill="#e8dcee"/>
<rect x="989.0" y="602.84" width="53.4" height="24.64" fill="#f4e8f0"/>
<rect x="1042.0" y="602.84" width="116.4" height="24.64" fill="#f6e8f0"/>
<rect x="1158.0" y="602.84" width="87.9" height="24.64" fill="#f6e8f0"/>
<rect x="1249.5" y="602.84" width="58.9" height="24.64" fill="#f2e6f0"/>
<rect x="1308.0" y="602.84" width="39.4" height="24.64" fill="#f2e6f0"/>
<rect x="1347.0" y="602.84" width="53.4" height="24.64" fill="#f2e6f0"/>
<rect x="1400.0" y="602.84" width="40.4" height="24.64" fill="#f2e6f0"/>
<rect x="1440.0" y="602.84" width="36.1" height="24.64" fill="#f2e6f0"/>
<rect x="1480.5" y="602.84" width="59.9" height="24.64" fill="#f2d8e4"/>
<rect x="1540.0" y="602.84" width="60.4" height="24.64" fill="#f2d8e4"/>
<rect x="1600.0" y="602.84" width="62.7" height="24.64" fill="#f2d8e4"/>
<rect x="1666.7" y="602.84" width="59.7" height="24.64" fill="#ee5c5c"/>
<rect x="1726.0" y="602.84" width="60.4" height="24.64" fill="#f07c80"/>
<rect x="1790.7" y="602.84" width="38.2" height="24.64" fill="#ece4f0"/>
<rect x="1832.8" y="602.84" width="20.1" height="24.64" fill="#d4c8e6"/>
<rect x="1856.1" y="602.84" width="17.6" height="24.64" fill="#e4dcee"/>
<rect x="1876.7" y="602.84" width="4.9" height="24.64" fill="#f2ecf4"/>
<rect x="1885.2" y="602.84" width="5.0" height="24.64" fill="#ece4f0"/>
<rect x="850.0" y="627.18" width="87.4" height="24.64" fill="#f5ecf3"/>
<rect x="937.0" y="627.18" width="52.4" height="24.64" fill="#e8dcee"/>
<rect x="989.0" y="627.18" width="53.4" height="24.64" fill="#f4eaf2"/>
<rect x="1042.0" y="627.18" width="116.4" height="24.64" fill="#f5eaf2"/>
<rect x="1158.0" y="627.18" width="87.9" height="24.64" fill="#f5eaf2"/>
<rect x="1249.5" y="627.18" width="58.9" height="24.64" fill="#f2e8f2"/>
<rect x="1308.0" y="627.18" width="39.4" height="24.64" fill="#f2e8f2"/>
<rect x="1347.0" y="627.18" width="53.4" height="24.64" fill="#f2e8f2"/>
<rect x="1400.0" y="627.18" width="40.4" height="24.64" fill="#f2e8f2"/>
<rect x="1440.0" y="627.18" width="36.1" height="24.64" fill="#f2e8f2"/>
<rect x="1480.5" y="627.18" width="59.9" height="24.64" fill="#f0dce6"/>
<rect x="1540.0" y="627.18" width="60.4" height="24.64" fill="#f0dce6"/>
<rect x="1600.0" y="627.18" width="62.7" height="24.64" fill="#f0dce6"/>
<rect x="1666.7" y="627.18" width="59.7" height="24.64" fill="#ee5e60"/>
<rect x="1726.0" y="627.18" width="60.4" height="24.64" fill="#ef6e70"/>
<rect x="1790.7" y="627.18" width="38.2" height="24.64" fill="#ece4f0"/>
<rect x="1832.8" y="627.18" width="20.1" height="24.64" fill="#d8cce8"/>
<rect x="1856.1" y="627.18" width="17.6" height="24.64" fill="#e4dcee"/>
<rect x="1876.7" y="627.18" width="4.9" height="24.64" fill="#f2ecf4"/>
<rect x="1885.2" y="627.18" width="5.0" height="24.64" fill="#ece4f0"/>
<rect x="850.0" y="651.52" width="87.4" height="24.64" fill="#faf5f9"/>
<rect x="937.0" y="651.52" width="52.4" height="24.64" fill="#faf5f9"/>
<rect x="989.0" y="651.52" width="53.4" height="24.64" fill="#faf5f9"/>
<rect x="1042.0" y="651.52" width="116.4" height="24.64" fill="#faf5f9"/>
<rect x="1158.0" y="651.52" width="87.9" height="24.64" fill="#faf5f9"/>
<rect x="1249.5" y="651.52" width="58.9" height="24.64" fill="#f9f3f8"/>
<rect x="1308.0" y="651.52" width="39.4" height="24.64" fill="#f9f3f8"/>
<rect x="1347.0" y="651.52" width="53.4" height="24.64" fill="#f9f3f8"/>
<rect x="1400.0" y="651.52" width="40.4" height="24.64" fill="#f9f3f8"/>
<rect x="1440.0" y="651.52" width="36.1" height="24.64" fill="#f9f3f8"/>
<rect x="1480.5" y="651.52" width="59.9" height="24.64" fill="#f9f3f8"/>
<rect x="1540.0" y="651.52" width="60.4" height="24.64" fill="#f9f3f8"/>
<rect x="1600.0" y="651.52" width="62.7" height="24.64" fill="#f9f3f8"/>
<rect x="1666.7" y="651.52" width="59.7" height="24.64" fill="#f8f2f7"/>
<rect x="1726.0" y="651.52" width="60.4" height="24.64" fill="#f8f2f7"/>
<rect x="1790.7" y="651.52" width="38.2" height="24.64" fill="#f29a9e"/>
<rect x="1832.8" y="651.52" width="20.1" height="24.64" fill="#f8f2f8"/>
<rect x="1856.1" y="651.52" width="17.6" height="24.64" fill="#f8f2f8"/>
<rect x="1876.7" y="651.52" width="4.9" height="24.64" fill="#f8f2f8"/>
<rect x="1885.2" y="651.52" width="5.0" height="24.64" fill="#f8f2f8"/>
<rect x="850.0" y="675.86" width="87.4" height="24.64" fill="#ecdcec"/>
<rect x="937.0" y="675.86" width="52.4" height="24.64" fill="#ecdcec"/>
<rect x="989.0" y="675.86" width="53.4" height="24.64" fill="#ecdcec"/>
<rect x="1042.0" y="675.86" width="116.4" height="24.64" fill="#ecdcec"/>
<rect x="1158.0" y="675.86" width="87.9" height="24.64" fill="#ecdcec"/>
<rect x="1249.5" y="675.86" width="58.9" height="24.64" fill="#e8dcee"/>
<rect x="1308.0" y="675.86" width="39.4" height="24.64" fill="#e8dcee"/>
<rect x="1347.0" y="675.86" width="53.4" height="24.64" fill="#e8dcee"/>
<rect x="1400.0" y="675.86" width="40.4" height="24.64" fill="#e8dcee"/>
<rect x="1440.0" y="675.86" width="36.1" height="24.64" fill="#e8dcee"/>
<rect x="1480.5" y="675.86" width="59.9" height="24.64" fill="#f2c6d2"/>
<rect x="1540.0" y="675.86" width="60.4" height="24.64" fill="#f2c6d2"/>
<rect x="1600.0" y="675.86" width="62.7" height="24.64" fill="#f2c6d2"/>
<rect x="1666.7" y="675.86" width="59.7" height="24.64" fill="#f2acb6"/>
<rect x="1726.0" y="675.86" width="60.4" height="24.64" fill="#f2acb6"/>
<rect x="1790.7" y="675.86" width="38.2" height="24.64" fill="#ee3c3a"/>
<rect x="1832.8" y="675.86" width="20.1" height="24.64" fill="#e4dcee"/>
<rect x="1856.1" y="675.86" width="17.6" height="24.64" fill="#eee2ee"/>
<rect x="1876.7" y="675.86" width="4.9" height="24.64" fill="#ee6060"/>
<rect x="1885.2" y="675.86" width="5.0" height="24.64" fill="#f4e8f0"/>
<rect x="850.0" y="700.20" width="87.4" height="24.64" fill="#f8f0f6"/>
<rect x="937.0" y="700.20" width="52.4" height="24.64" fill="#f8f0f6"/>
<rect x="989.0" y="700.20" width="53.4" height="24.64" fill="#f8f0f6"/>
<rect x="1042.0" y="700.20" width="116.4" height="24.64" fill="#f8f0f6"/>
<rect x="1158.0" y="700.20" width="87.9" height="24.64" fill="#f8f0f6"/>
<rect x="1249.5" y="700.20" width="58.9" height="24.64" fill="#f8f2f8"/>
<rect x="1308.0" y="700.20" width="39.4" height="24.64" fill="#f8f2f8"/>
<rect x="1347.0" y="700.20" width="53.4" height="24.64" fill="#f8f2f8"/>
<rect x="1400.0" y="700.20" width="40.4" height="24.64" fill="#f8f2f8"/>
<rect x="1440.0" y="700.20" width="36.1" height="24.64" fill="#f8f2f8"/>
<rect x="1480.5" y="700.20" width="59.9" height="24.64" fill="#f6ecf2"/>
<rect x="1540.0" y="700.20" width="60.4" height="24.64" fill="#f6ecf2"/>
<rect x="1600.0" y="700.20" width="62.7" height="24.64" fill="#f6ecf2"/>
<rect x="1666.7" y="700.20" width="59.7" height="24.64" fill="#f6ecf2"/>
<rect x="1726.0" y="700.20" width="60.4" height="24.64" fill="#f6ecf2"/>
<rect x="1790.7" y="700.20" width="38.2" height="24.64" fill="#ee4a48"/>
<rect x="1832.8" y="700.20" width="20.1" height="24.64" fill="#f8f2f8"/>
<rect x="1856.1" y="700.20" width="17.6" height="24.64" fill="#f8f2f8"/>
<rect x="1876.7" y="700.20" width="4.9" height="24.64" fill="#f8f2f8"/>
<rect x="1885.2" y="700.20" width="5.0" height="24.64" fill="#f8f2f8"/>
<rect x="850.0" y="724.54" width="87.4" height="24.64" fill="#dcc4e0"/>
<rect x="937.0" y="724.54" width="52.4" height="24.64" fill="#f2c0cc"/>
<rect x="989.0" y="724.54" width="53.4" height="24.64" fill="#f2c0cc"/>
<rect x="1042.0" y="724.54" width="116.4" height="24.64" fill="#f0c4d0"/>
<rect x="1158.0" y="724.54" width="87.9" height="24.64" fill="#c8bae0"/>
<rect x="1249.5" y="724.54" width="58.9" height="24.64" fill="#d0c4e4"/>
<rect x="1308.0" y="724.54" width="39.4" height="24.64" fill="#bcaed8"/>
<rect x="1347.0" y="724.54" width="53.4" height="24.64" fill="#c8bbe0"/>
<rect x="1400.0" y="724.54" width="40.4" height="24.64" fill="#c8bbe0"/>
<rect x="1440.0" y="724.54" width="36.1" height="24.64" fill="#c8bbe0"/>
<rect x="1480.5" y="724.54" width="59.9" height="24.64" fill="#f6b0a0"/>
<rect x="1540.0" y="724.54" width="60.4" height="24.64" fill="#f6b0a0"/>
<rect x="1600.0" y="724.54" width="62.7" height="24.64" fill="#f6b0a0"/>
<rect x="1666.7" y="724.54" width="59.7" height="24.64" fill="#f6b4a4"/>
<rect x="1726.0" y="724.54" width="60.4" height="24.64" fill="#f6b4a4"/>
<rect x="1790.7" y="724.54" width="38.2" height="24.64" fill="#ee4a44"/>
<rect x="1832.8" y="724.54" width="20.1" height="24.64" fill="#bcb0dc"/>
<rect x="1856.1" y="724.54" width="17.6" height="24.64" fill="#f0c0c8"/>
<rect x="1876.7" y="724.54" width="4.9" height="24.64" fill="#ecdcec"/>
<rect x="1885.2" y="724.54" width="5.0" height="24.64" fill="#f2e8f0"/>
<rect x="850.0" y="748.88" width="87.4" height="24.64" fill="#f6eef4"/>
<rect x="937.0" y="748.88" width="52.4" height="24.64" fill="#f6eef4"/>
<rect x="989.0" y="748.88" width="53.4" height="24.64" fill="#f6eef4"/>
<rect x="1042.0" y="748.88" width="116.4" height="24.64" fill="#f6eef4"/>
<rect x="1158.0" y="748.88" width="87.9" height="24.64" fill="#f6eef4"/>
<rect x="1249.5" y="748.88" width="58.9" height="24.64" fill="#f6eef4"/>
<rect x="1308.0" y="748.88" width="39.4" height="24.64" fill="#f8e6ec"/>
<rect x="1347.0" y="748.88" width="53.4" height="24.64" fill="#f8e6ec"/>
<rect x="1400.0" y="748.88" width="40.4" height="24.64" fill="#f8e6ec"/>
<rect x="1440.0" y="748.88" width="36.1" height="24.64" fill="#f8e6ec"/>
<rect x="1480.5" y="748.88" width="59.9" height="24.64" fill="#f6e2ea"/>
<rect x="1540.0" y="748.88" width="60.4" height="24.64" fill="#f6e2ea"/>
<rect x="1600.0" y="748.88" width="62.7" height="24.64" fill="#f6e2ea"/>
<rect x="1666.7" y="748.88" width="59.7" height="24.64" fill="#f4e8f0"/>
<rect x="1726.0" y="748.88" width="60.4" height="24.64" fill="#f4e8f0"/>
<rect x="1790.7" y="748.88" width="38.2" height="24.64" fill="#ee4444"/>
<rect x="1832.8" y="748.88" width="20.1" height="24.64" fill="#f8f2f8"/>
<rect x="1856.1" y="748.88" width="17.6" height="24.64" fill="#f8f2f8"/>
<rect x="1876.7" y="748.88" width="4.9" height="24.64" fill="#f8f2f8"/>
<rect x="1885.2" y="748.88" width="5.0" height="24.64" fill="#f8f2f8"/>
<rect x="850.0" y="773.22" width="87.4" height="24.64" fill="#ece0ee"/>
<rect x="937.0" y="773.22" width="52.4" height="24.64" fill="#e4d4ea"/>
<rect x="989.0" y="773.22" width="53.4" height="24.64" fill="#e4d4ea"/>
<rect x="1042.0" y="773.22" width="116.4" height="24.64" fill="#e6d6ea"/>
<rect x="1158.0" y="773.22" width="87.9" height="24.64" fill="#e6d8ec"/>
<rect x="1249.5" y="773.22" width="58.9" height="24.64" fill="#f0d8e2"/>
<rect x="1308.0" y="773.22" width="39.4" height="24.64" fill="#f2c8d4"/>
<rect x="1347.0" y="773.22" width="53.4" height="24.64" fill="#f2c4d0"/>
<rect x="1400.0" y="773.22" width="40.4" height="24.64" fill="#f2a8b2"/>
<rect x="1440.0" y="773.22" width="36.1" height="24.64" fill="#f2a8b2"/>
<rect x="1480.5" y="773.22" width="59.9" height="24.64" fill="#f0dce6"/>
<rect x="1540.0" y="773.22" width="60.4" height="24.64" fill="#f0dce6"/>
<rect x="1600.0" y="773.22" width="62.7" height="24.64" fill="#f29494"/>
<rect x="1666.7" y="773.22" width="59.7" height="24.64" fill="#dccce6"/>
<rect x="1726.0" y="773.22" width="60.4" height="24.64" fill="#dccce6"/>
<rect x="1790.7" y="773.22" width="38.2" height="24.64" fill="#f2e6ee"/>
<rect x="1832.8" y="773.22" width="20.1" height="24.64" fill="#ef4a4a"/>
<rect x="1856.1" y="773.22" width="17.6" height="24.64" fill="#f4ecf2"/>
<rect x="1876.7" y="773.22" width="4.9" height="24.64" fill="#f4ecf2"/>
<rect x="1885.2" y="773.22" width="5.0" height="24.64" fill="#f2c0c8"/>
<rect x="850.0" y="797.56" width="87.4" height="24.64" fill="#dec4de"/>
<rect x="937.0" y="797.56" width="52.4" height="24.64" fill="#dcc2de"/>
<rect x="989.0" y="797.56" width="53.4" height="24.64" fill="#dec4de"/>
<rect x="1042.0" y="797.56" width="116.4" height="24.64" fill="#e0c4de"/>
<rect x="1158.0" y="797.56" width="87.9" height="24.64" fill="#ecbccc"/>
<rect x="1249.5" y="797.56" width="58.9" height="24.64" fill="#eac4d8"/>
<rect x="1308.0" y="797.56" width="39.4" height="24.64" fill="#eac4d8"/>
<rect x="1347.0" y="797.56" width="53.4" height="24.64" fill="#eac4d8"/>
<rect x="1400.0" y="797.56" width="40.4" height="24.64" fill="#eac4d8"/>
<rect x="1440.0" y="797.56" width="36.1" height="24.64" fill="#eac4d8"/>
<rect x="1480.5" y="797.56" width="59.9" height="24.64" fill="#ecc4d8"/>
<rect x="1540.0" y="797.56" width="60.4" height="24.64" fill="#ecc4d8"/>
<rect x="1600.0" y="797.56" width="62.7" height="24.64" fill="#f0b8c8"/>
<rect x="1666.7" y="797.56" width="59.7" height="24.64" fill="#e4cce0"/>
<rect x="1726.0" y="797.56" width="60.4" height="24.64" fill="#e4cce0"/>
<rect x="1790.7" y="797.56" width="38.2" height="24.64" fill="#e8d0e4"/>
<rect x="1832.8" y="797.56" width="20.1" height="24.64" fill="#ef4c4c"/>
<rect x="1856.1" y="797.56" width="17.6" height="24.64" fill="#e6d0e4"/>
<rect x="1876.7" y="797.56" width="4.9" height="24.64" fill="#eedcea"/>
<rect x="1885.2" y="797.56" width="5.0" height="24.64" fill="#eedcea"/>
<rect x="850.0" y="821.90" width="87.4" height="24.64" fill="#fbf6fa"/>
<rect x="937.0" y="821.90" width="52.4" height="24.64" fill="#fbf6fa"/>
<rect x="989.0" y="821.90" width="53.4" height="24.64" fill="#fbf6fa"/>
<rect x="1042.0" y="821.90" width="116.4" height="24.64" fill="#fbf6fa"/>
<rect x="1158.0" y="821.90" width="87.9" height="24.64" fill="#fbf6fa"/>
<rect x="1249.5" y="821.90" width="58.9" height="24.64" fill="#faf4f8"/>
<rect x="1308.0" y="821.90" width="39.4" height="24.64" fill="#faf4f8"/>
<rect x="1347.0" y="821.90" width="53.4" height="24.64" fill="#faf4f8"/>
<rect x="1400.0" y="821.90" width="40.4" height="24.64" fill="#faf4f8"/>
<rect x="1440.0" y="821.90" width="36.1" height="24.64" fill="#faf4f8"/>
<rect x="1480.5" y="821.90" width="59.9" height="24.64" fill="#f8f2f8"/>
<rect x="1540.0" y="821.90" width="60.4" height="24.64" fill="#f8f2f8"/>
<rect x="1600.0" y="821.90" width="62.7" height="24.64" fill="#f8f2f8"/>
<rect x="1666.7" y="821.90" width="59.7" height="24.64" fill="#f0e8f2"/>
<rect x="1726.0" y="821.90" width="60.4" height="24.64" fill="#f0e8f2"/>
<rect x="1790.7" y="821.90" width="38.2" height="24.64" fill="#f8f2f8"/>
<rect x="1832.8" y="821.90" width="20.1" height="24.64" fill="#f05656"/>
<rect x="1856.1" y="821.90" width="17.6" height="24.64" fill="#f8f2f8"/>
<rect x="1876.7" y="821.90" width="4.9" height="24.64" fill="#f8f2f8"/>
<rect x="1885.2" y="821.90" width="5.0" height="24.64" fill="#f8f2f8"/>
<rect x="850.0" y="846.25" width="87.4" height="24.64" fill="#faf2f8"/>
<rect x="937.0" y="846.25" width="52.4" height="24.64" fill="#faf2f8"/>
<rect x="989.0" y="846.25" width="53.4" height="24.64" fill="#faf2f8"/>
<rect x="1042.0" y="846.25" width="116.4" height="24.64" fill="#faf2f8"/>
<rect x="1158.0" y="846.25" width="87.9" height="24.64" fill="#faf2f8"/>
<rect x="1249.5" y="846.25" width="58.9" height="24.64" fill="#f8f0f6"/>
<rect x="1308.0" y="846.25" width="39.4" height="24.64" fill="#f8f0f6"/>
<rect x="1347.0" y="846.25" width="53.4" height="24.64" fill="#f8f0f6"/>
<rect x="1400.0" y="846.25" width="40.4" height="24.64" fill="#f8f0f6"/>
<rect x="1440.0" y="846.25" width="36.1" height="24.64" fill="#f8f0f6"/>
<rect x="1480.5" y="846.25" width="59.9" height="24.64" fill="#f8f0f6"/>
<rect x="1540.0" y="846.25" width="60.4" height="24.64" fill="#f8f0f6"/>
<rect x="1600.0" y="846.25" width="62.7" height="24.64" fill="#f8f0f6"/>
<rect x="1666.7" y="846.25" width="59.7" height="24.64" fill="#eee6f0"/>
<rect x="1726.0" y="846.25" width="60.4" height="24.64" fill="#eee6f0"/>
<rect x="1790.7" y="846.25" width="38.2" height="24.64" fill="#f8f2f8"/>
<rect x="1832.8" y="846.25" width="20.1" height="24.64" fill="#f26464"/>
<rect x="1856.1" y="846.25" width="17.6" height="24.64" fill="#f8f2f8"/>
<rect x="1876.7" y="846.25" width="4.9" height="24.64" fill="#f8f2f8"/>
<rect x="1885.2" y="846.25" width="5.0" height="24.64" fill="#f8f2f8"/>
<rect x="850.0" y="870.59" width="87.4" height="24.64" fill="#fbf6fa"/>
<rect x="937.0" y="870.59" width="52.4" height="24.64" fill="#fbf6fa"/>
<rect x="989.0" y="870.59" width="53.4" height="24.64" fill="#fbf6fa"/>
<rect x="1042.0" y="870.59" width="116.4" height="24.64" fill="#fbf6fa"/>
<rect x="1158.0" y="870.59" width="87.9" height="24.64" fill="#fbf6fa"/>
<rect x="1249.5" y="870.59" width="58.9" height="24.64" fill="#faf4f8"/>
<rect x="1308.0" y="870.59" width="39.4" height="24.64" fill="#faf4f8"/>
<rect x="1347.0" y="870.59" width="53.4" height="24.64" fill="#faf4f8"/>
<rect x="1400.0" y="870.59" width="40.4" height="24.64" fill="#faf4f8"/>
<rect x="1440.0" y="870.59" width="36.1" height="24.64" fill="#faf4f8"/>
<rect x="1480.5" y="870.59" width="59.9" height="24.64" fill="#f8f2f8"/>
<rect x="1540.0" y="870.59" width="60.4" height="24.64" fill="#f8f2f8"/>
<rect x="1600.0" y="870.59" width="62.7" height="24.64" fill="#f8f2f8"/>
<rect x="1666.7" y="870.59" width="59.7" height="24.64" fill="#f0e8f2"/>
<rect x="1726.0" y="870.59" width="60.4" height="24.64" fill="#f0e8f2"/>
<rect x="1790.7" y="870.59" width="38.2" height="24.64" fill="#f8f2f8"/>
<rect x="1832.8" y="870.59" width="20.1" height="24.64" fill="#f26262"/>
<rect x="1856.1" y="870.59" width="17.6" height="24.64" fill="#f8f2f8"/>
<rect x="1876.7" y="870.59" width="4.9" height="24.64" fill="#f8f2f8"/>
<rect x="1885.2" y="870.59" width="5.0" height="24.64" fill="#f8f2f8"/>
<rect x="850.0" y="894.93" width="87.4" height="24.64" fill="#f6f0f6"/>
<rect x="937.0" y="894.93" width="52.4" height="24.64" fill="#f6f0f6"/>
<rect x="989.0" y="894.93" width="53.4" height="24.64" fill="#f6f0f6"/>
<rect x="1042.0" y="894.93" width="116.4" height="24.64" fill="#f6f0f6"/>
<rect x="1158.0" y="894.93" width="87.9" height="24.64" fill="#f6f0f6"/>
<rect x="1249.5" y="894.93" width="58.9" height="24.64" fill="#f6f2f8"/>
<rect x="1308.0" y="894.93" width="39.4" height="24.64" fill="#f6f2f8"/>
<rect x="1347.0" y="894.93" width="53.4" height="24.64" fill="#f6f2f8"/>
<rect x="1400.0" y="894.93" width="40.4" height="24.64" fill="#f6f2f8"/>
<rect x="1440.0" y="894.93" width="36.1" height="24.64" fill="#f6f2f8"/>
<rect x="1480.5" y="894.93" width="59.9" height="24.64" fill="#f6eef4"/>
<rect x="1540.0" y="894.93" width="60.4" height="24.64" fill="#f6eef4"/>
<rect x="1600.0" y="894.93" width="62.7" height="24.64" fill="#f6eef4"/>
<rect x="1666.7" y="894.93" width="59.7" height="24.64" fill="#f6eef4"/>
<rect x="1726.0" y="894.93" width="60.4" height="24.64" fill="#f6eef4"/>
<rect x="1790.7" y="894.93" width="38.2" height="24.64" fill="#f8f2f8"/>
<rect x="1832.8" y="894.93" width="20.1" height="24.64" fill="#f8f2f8"/>
<rect x="1856.1" y="894.93" width="17.6" height="24.64" fill="#ee2a2a"/>
<rect x="1876.7" y="894.93" width="4.9" height="24.64" fill="#f8f2f8"/>
<rect x="1885.2" y="894.93" width="5.0" height="24.64" fill="#f8f2f8"/>
<rect x="850.0" y="919.27" width="87.4" height="24.64" fill="#f0d4e2"/>
<rect x="937.0" y="919.27" width="52.4" height="24.64" fill="#f0d4e2"/>
<rect x="989.0" y="919.27" width="53.4" height="24.64" fill="#f0d4e2"/>
<rect x="1042.0" y="919.27" width="116.4" height="24.64" fill="#f0d4e2"/>
<rect x="1158.0" y="919.27" width="87.9" height="24.64" fill="#f0d4e2"/>
<rect x="1249.5" y="919.27" width="58.9" height="24.64" fill="#f4eaf0"/>
<rect x="1308.0" y="919.27" width="39.4" height="24.64" fill="#f4eaf0"/>
<rect x="1347.0" y="919.27" width="53.4" height="24.64" fill="#f4eaf0"/>
<rect x="1400.0" y="919.27" width="40.4" height="24.64" fill="#f4eaf0"/>
<rect x="1440.0" y="919.27" width="36.1" height="24.64" fill="#f4eaf0"/>
<rect x="1480.5" y="919.27" width="59.9" height="24.64" fill="#f2d4e0"/>
<rect x="1540.0" y="919.27" width="60.4" height="24.64" fill="#f2d4e0"/>
<rect x="1600.0" y="919.27" width="62.7" height="24.64" fill="#f2d4e0"/>
<rect x="1666.7" y="919.27" width="59.7" height="24.64" fill="#f2c8d4"/>
<rect x="1726.0" y="919.27" width="60.4" height="24.64" fill="#f2c8d4"/>
<rect x="1790.7" y="919.27" width="38.2" height="24.64" fill="#f2d0dc"/>
<rect x="1832.8" y="919.27" width="20.1" height="24.64" fill="#f0e0ea"/>
<rect x="1856.1" y="919.27" width="17.6" height="24.64" fill="#ee3838"/>
<rect x="1876.7" y="919.27" width="4.9" height="24.64" fill="#f2dce8"/>
<rect x="1885.2" y="919.27" width="5.0" height="24.64" fill="#f2dce8"/>
<rect x="850.0" y="943.61" width="87.4" height="24.64" fill="#faf4f8"/>
<rect x="937.0" y="943.61" width="52.4" height="24.64" fill="#faf4f8"/>
<rect x="989.0" y="943.61" width="53.4" height="24.64" fill="#faf4f8"/>
<rect x="1042.0" y="943.61" width="116.4" height="24.64" fill="#faf4f8"/>
<rect x="1158.0" y="943.61" width="87.9" height="24.64" fill="#faf4f8"/>
<rect x="1249.5" y="943.61" width="58.9" height="24.64" fill="#f8f2f8"/>
<rect x="1308.0" y="943.61" width="39.4" height="24.64" fill="#f8f2f8"/>
<rect x="1347.0" y="943.61" width="53.4" height="24.64" fill="#f8f2f8"/>
<rect x="1400.0" y="943.61" width="40.4" height="24.64" fill="#f8f2f8"/>
<rect x="1440.0" y="943.61" width="36.1" height="24.64" fill="#f8f2f8"/>
<rect x="1480.5" y="943.61" width="59.9" height="24.64" fill="#f8f2f8"/>
<rect x="1540.0" y="943.61" width="60.4" height="24.64" fill="#f8f2f8"/>
<rect x="1600.0" y="943.61" width="62.7" height="24.64" fill="#f8f2f8"/>
<rect x="1666.7" y="943.61" width="59.7" height="24.64" fill="#f8f2f8"/>
<rect x="1726.0" y="943.61" width="60.4" height="24.64" fill="#f8f2f8"/>
<rect x="1790.7" y="943.61" width="38.2" height="24.64" fill="#f8f2f8"/>
<rect x="1832.8" y="943.61" width="20.1" height="24.64" fill="#f8f2f8"/>
<rect x="1856.1" y="943.61" width="17.6" height="24.64" fill="#f05050"/>
<rect x="1876.7" y="943.61" width="4.9" height="24.64" fill="#f8f2f8"/>
<rect x="1885.2" y="943.61" width="5.0" height="24.64" fill="#f8f2f8"/>
<rect x="850.0" y="967.95" width="87.4" height="24.64" fill="#eec4d8"/>
<rect x="937.0" y="967.95" width="52.4" height="24.64" fill="#eec4d8"/>
<rect x="989.0" y="967.95" width="53.4" height="24.64" fill="#eec4d8"/>
<rect x="1042.0" y="967.95" width="116.4" height="24.64" fill="#eec4d8"/>
<rect x="1158.0" y="967.95" width="87.9" height="24.64" fill="#eec4d8"/>
<rect x="1249.5" y="967.95" width="58.9" height="24.64" fill="#f0ccd8"/>
<rect x="1308.0" y="967.95" width="39.4" height="24.64" fill="#f0ccd8"/>
<rect x="1347.0" y="967.95" width="53.4" height="24.64" fill="#f0ccd8"/>
<rect x="1400.0" y="967.95" width="40.4" height="24.64" fill="#f0ccd8"/>
<rect x="1440.0" y="967.95" width="36.1" height="24.64" fill="#f0ccd8"/>
<rect x="1480.5" y="967.95" width="59.9" height="24.64" fill="#ece0ee"/>
<rect x="1540.0" y="967.95" width="60.4" height="24.64" fill="#ece0ee"/>
<rect x="1600.0" y="967.95" width="62.7" height="24.64" fill="#ece0ee"/>
<rect x="1666.7" y="967.95" width="59.7" height="24.64" fill="#f0d0dc"/>
<rect x="1726.0" y="967.95" width="60.4" height="24.64" fill="#f0d0dc"/>
<rect x="1790.7" y="967.95" width="38.2" height="24.64" fill="#f0b8c4"/>
<rect x="1832.8" y="967.95" width="20.1" height="24.64" fill="#f0a8b0"/>
<rect x="1856.1" y="967.95" width="17.6" height="24.64" fill="#ee4040"/>
<rect x="1876.7" y="967.95" width="4.9" height="24.64" fill="#f2b0c0"/>
<rect x="1885.2" y="967.95" width="5.0" height="24.64" fill="#f4e4ec"/>
<rect x="850.0" y="992.29" width="87.4" height="24.64" fill="#f6e8f0"/>
<rect x="937.0" y="992.29" width="52.4" height="24.64" fill="#f6e8f0"/>
<rect x="989.0" y="992.29" width="53.4" height="24.64" fill="#f6e8f0"/>
<rect x="1042.0" y="992.29" width="116.4" height="24.64" fill="#f6e8f0"/>
<rect x="1158.0" y="992.29" width="87.9" height="24.64" fill="#f6e8f0"/>
<rect x="1249.5" y="992.29" width="58.9" height="24.64" fill="#f8eef4"/>
<rect x="1308.0" y="992.29" width="39.4" height="24.64" fill="#f8eef4"/>
<rect x="1347.0" y="992.29" width="53.4" height="24.64" fill="#f8eef4"/>
<rect x="1400.0" y="992.29" width="40.4" height="24.64" fill="#f8eef4"/>
<rect x="1440.0" y="992.29" width="36.1" height="24.64" fill="#f8eef4"/>
<rect x="1480.5" y="992.29" width="59.9" height="24.64" fill="#f6eef4"/>
<rect x="1540.0" y="992.29" width="60.4" height="24.64" fill="#f6eef4"/>
<rect x="1600.0" y="992.29" width="62.7" height="24.64" fill="#f6eef4"/>
<rect x="1666.7" y="992.29" width="59.7" height="24.64" fill="#f6eef4"/>
<rect x="1726.0" y="992.29" width="60.4" height="24.64" fill="#f6eef4"/>
<rect x="1790.7" y="992.29" width="38.2" height="24.64" fill="#f6eef4"/>
<rect x="1832.8" y="992.29" width="20.1" height="24.64" fill="#f4ecf2"/>
<rect x="1856.1" y="992.29" width="17.6" height="24.64" fill="#ee3030"/>
<rect x="1876.7" y="992.29" width="4.9" height="24.64" fill="#f6eef4"/>
<rect x="1885.2" y="992.29" width="5.0" height="24.64" fill="#f6eef4"/>
<rect x="850.0" y="1016.63" width="87.4" height="24.64" fill="#fdfafc"/>
<rect x="937.0" y="1016.63" width="52.4" height="24.64" fill="#fdfafc"/>
<rect x="989.0" y="1016.63" width="53.4" height="24.64" fill="#fdfafc"/>
<rect x="1042.0" y="1016.63" width="116.4" height="24.64" fill="#fdfafc"/>
<rect x="1158.0" y="1016.63" width="87.9" height="24.64" fill="#fdfafc"/>
<rect x="1249.5" y="1016.63" width="58.9" height="24.64" fill="#fdfafc"/>
<rect x="1308.0" y="1016.63" width="39.4" height="24.64" fill="#fdfafc"/>
<rect x="1347.0" y="1016.63" width="53.4" height="24.64" fill="#fdfafc"/>
<rect x="1400.0" y="1016.63" width="40.4" height="24.64" fill="#fdfafc"/>
<rect x="1440.0" y="1016.63" width="36.1" height="24.64" fill="#fdfafc"/>
<rect x="1480.5" y="1016.63" width="59.9" height="24.64" fill="#fdfafc"/>
<rect x="1540.0" y="1016.63" width="60.4" height="24.64" fill="#fdfafc"/>
<rect x="1600.0" y="1016.63" width="62.7" height="24.64" fill="#fdfafc"/>
<rect x="1666.7" y="1016.63" width="59.7" height="24.64" fill="#fdfafc"/>
<rect x="1726.0" y="1016.63" width="60.4" height="24.64" fill="#fdfafc"/>
<rect x="1790.7" y="1016.63" width="38.2" height="24.64" fill="#fdfafc"/>
<rect x="1832.8" y="1016.63" width="20.1" height="24.64" fill="#fdfafc"/>
<rect x="1856.1" y="1016.63" width="17.6" height="24.64" fill="#fdfafc"/>
<rect x="1876.7" y="1016.63" width="4.9" height="24.64" fill="#ee5050"/>
<rect x="1885.2" y="1016.63" width="5.0" height="24.64" fill="#fdfafc"/>
<rect x="850.0" y="1040.97" width="87.4" height="24.64" fill="#e8bcd4"/>
<rect x="937.0" y="1040.97" width="52.4" height="24.64" fill="#e8bcd4"/>
<rect x="989.0" y="1040.97" width="53.4" height="24.64" fill="#e8bcd4"/>
<rect x="1042.0" y="1040.97" width="116.4" height="24.64" fill="#e8bcd4"/>
<rect x="1158.0" y="1040.97" width="87.9" height="24.64" fill="#e8bcd4"/>
<rect x="1249.5" y="1040.97" width="58.9" height="24.64" fill="#f2bcc8"/>
<rect x="1308.0" y="1040.97" width="39.4" height="24.64" fill="#f2bcc8"/>
<rect x="1347.0" y="1040.97" width="53.4" height="24.64" fill="#f2bcc8"/>
<rect x="1400.0" y="1040.97" width="40.4" height="24.64" fill="#f2bcc8"/>
<rect x="1440.0" y="1040.97" width="36.1" height="24.64" fill="#f2bcc8"/>
<rect x="1480.5" y="1040.97" width="59.9" height="24.64" fill="#dcc0e0"/>
<rect x="1540.0" y="1040.97" width="60.4" height="24.64" fill="#dcc0e0"/>
<rect x="1600.0" y="1040.97" width="62.7" height="24.64" fill="#dcc0e0"/>
<rect x="1666.7" y="1040.97" width="59.7" height="24.64" fill="#e0c4e0"/>
<rect x="1726.0" y="1040.97" width="60.4" height="24.64" fill="#e0c4e0"/>
<rect x="1790.7" y="1040.97" width="38.2" height="24.64" fill="#d8bce0"/>
<rect x="1832.8" y="1040.97" width="20.1" height="24.64" fill="#ead0e4"/>
<rect x="1856.1" y="1040.97" width="17.6" height="24.64" fill="#dcc8e4"/>
<rect x="1876.7" y="1040.97" width="4.9" height="24.64" fill="#ee5050"/>
<rect x="1885.2" y="1040.97" width="5.0" height="24.64" fill="#ee5050"/>
<rect x="850.0" y="1065.31" width="87.4" height="24.64" fill="#fbf4f8"/>
<rect x="937.0" y="1065.31" width="52.4" height="24.64" fill="#fbf4f8"/>
<rect x="989.0" y="1065.31" width="53.4" height="24.64" fill="#fbf4f8"/>
<rect x="1042.0" y="1065.31" width="116.4" height="24.64" fill="#fbf4f8"/>
<rect x="1158.0" y="1065.31" width="87.9" height="24.64" fill="#fbf4f8"/>
<rect x="1249.5" y="1065.31" width="58.9" height="24.64" fill="#fbf4f8"/>
<rect x="1308.0" y="1065.31" width="39.4" height="24.64" fill="#fbf4f8"/>
<rect x="1347.0" y="1065.31" width="53.4" height="24.64" fill="#fbf4f8"/>
<rect x="1400.0" y="1065.31" width="40.4" height="24.64" fill="#fbf4f8"/>
<rect x="1440.0" y="1065.31" width="36.1" height="24.64" fill="#fbf4f8"/>
<rect x="1480.5" y="1065.31" width="59.9" height="24.64" fill="#fbf4f8"/>
<rect x="1540.0" y="1065.31" width="60.4" height="24.64" fill="#fbf4f8"/>
<rect x="1600.0" y="1065.31" width="62.7" height="24.64" fill="#fbf4f8"/>
<rect x="1666.7" y="1065.31" width="59.7" height="24.64" fill="#fbf4f8"/>
<rect x="1726.0" y="1065.31" width="60.4" height="24.64" fill="#fbf4f8"/>
<rect x="1790.7" y="1065.31" width="38.2" height="24.64" fill="#fbf4f8"/>
<rect x="1832.8" y="1065.31" width="20.1" height="24.64" fill="#fbf4f8"/>
<rect x="1856.1" y="1065.31" width="17.6" height="24.64" fill="#fbf4f8"/>
<rect x="1876.7" y="1065.31" width="4.9" height="24.64" fill="#f28080"/>
<rect x="1885.2" y="1065.31" width="5.0" height="24.64" fill="#f8eef4"/>
<rect x="850.0" y="1089.65" width="87.4" height="24.64" fill="#f59a86"/>
<rect x="937.0" y="1089.65" width="52.4" height="24.64" fill="#f6a896"/>
<rect x="989.0" y="1089.65" width="53.4" height="24.64" fill="#f6aa98"/>
<rect x="1042.0" y="1089.65" width="116.4" height="24.64" fill="#f6a896"/>
<rect x="1158.0" y="1089.65" width="87.9" height="24.64" fill="#f6a48e"/>
<rect x="1249.5" y="1089.65" width="58.9" height="24.64" fill="#d6cae6"/>
<rect x="1308.0" y="1089.65" width="39.4" height="24.64" fill="#c9bce1"/>
<rect x="1347.0" y="1089.65" width="53.4" height="24.64" fill="#d2c6e5"/>
<rect x="1400.0" y="1089.65" width="40.4" height="24.64" fill="#d2c6e5"/>
<rect x="1440.0" y="1089.65" width="36.1" height="24.64" fill="#d4c8e6"/>
<rect x="1480.5" y="1089.65" width="59.9" height="24.64" fill="#cdbfe2"/>
<rect x="1540.0" y="1089.65" width="60.4" height="24.64" fill="#cdbfe2"/>
<rect x="1600.0" y="1089.65" width="62.7" height="24.64" fill="#cdbfe2"/>
<rect x="1666.7" y="1089.65" width="59.7" height="24.64" fill="#e4d4e8"/>
<rect x="1726.0" y="1089.65" width="60.4" height="24.64" fill="#e4d4e8"/>
<rect x="1790.7" y="1089.65" width="38.2" height="24.64" fill="#d4c8e6"/>
<rect x="1832.8" y="1089.65" width="20.1" height="24.64" fill="#dcd0ea"/>
<rect x="1856.1" y="1089.65" width="17.6" height="24.64" fill="#d4c8e6"/>
<rect x="1876.7" y="1089.65" width="4.9" height="24.64" fill="#ee5a50"/>
<rect x="1885.2" y="1089.65" width="5.0" height="24.64" fill="#d8cce6"/>
<rect x="850.0" y="1114.00" width="87.4" height="24.64" fill="#f6a48e"/>
<rect x="937.0" y="1114.00" width="52.4" height="24.64" fill="#f6a690"/>
<rect x="989.0" y="1114.00" width="53.4" height="24.64" fill="#f6aa96"/>
<rect x="1042.0" y="1114.00" width="116.4" height="24.64" fill="#f6ae9c"/>
<rect x="1158.0" y="1114.00" width="87.9" height="24.64" fill="#f8bcaa"/>
<rect x="1249.5" y="1114.00" width="58.9" height="24.64" fill="#d4c6e4"/>
<rect x="1308.0" y="1114.00" width="39.4" height="24.64" fill="#c8b8e0"/>
<rect x="1347.0" y="1114.00" width="53.4" height="24.64" fill="#d0c4e4"/>
<rect x="1400.0" y="1114.00" width="40.4" height="24.64" fill="#d0c4e4"/>
<rect x="1440.0" y="1114.00" width="36.1" height="24.64" fill="#d0c4e4"/>
<rect x="1480.5" y="1114.00" width="59.9" height="24.64" fill="#ccbee0"/>
<rect x="1540.0" y="1114.00" width="60.4" height="24.64" fill="#ccbee0"/>
<rect x="1600.0" y="1114.00" width="62.7" height="24.64" fill="#ccbee0"/>
<rect x="1666.7" y="1114.00" width="59.7" height="24.64" fill="#eed0dc"/>
<rect x="1726.0" y="1114.00" width="60.4" height="24.64" fill="#eed0dc"/>
<rect x="1790.7" y="1114.00" width="38.2" height="24.64" fill="#f0c8cc"/>
<rect x="1832.8" y="1114.00" width="20.1" height="24.64" fill="#d4c8e6"/>
<rect x="1856.1" y="1114.00" width="17.6" height="24.64" fill="#ccbfe2"/>
<rect x="1876.7" y="1114.00" width="4.9" height="24.64" fill="#ee5a50"/>
<rect x="1885.2" y="1114.00" width="5.0" height="24.64" fill="#d8cce6"/>
<rect x="850.0" y="1138.34" width="87.4" height="24.64" fill="#e8bcd6"/>
<rect x="937.0" y="1138.34" width="52.4" height="24.64" fill="#e8bcd6"/>
<rect x="989.0" y="1138.34" width="53.4" height="24.64" fill="#e8bcd6"/>
<rect x="1042.0" y="1138.34" width="116.4" height="24.64" fill="#e8bcd6"/>
<rect x="1158.0" y="1138.34" width="87.9" height="24.64" fill="#e8bcd6"/>
<rect x="1249.5" y="1138.34" width="58.9" height="24.64" fill="#dcd0e8"/>
<rect x="1308.0" y="1138.34" width="39.4" height="24.64" fill="#e4d8ec"/>
<rect x="1347.0" y="1138.34" width="53.4" height="24.64" fill="#dcd0e8"/>
<rect x="1400.0" y="1138.34" width="40.4" height="24.64" fill="#dcd0e8"/>
<rect x="1440.0" y="1138.34" width="36.1" height="24.64" fill="#dcd0e8"/>
<rect x="1480.5" y="1138.34" width="59.9" height="24.64" fill="#f0c0cc"/>
<rect x="1540.0" y="1138.34" width="60.4" height="24.64" fill="#f0c0cc"/>
<rect x="1600.0" y="1138.34" width="62.7" height="24.64" fill="#f0c0cc"/>
<rect x="1666.7" y="1138.34" width="59.7" height="24.64" fill="#ecc8dc"/>
<rect x="1726.0" y="1138.34" width="60.4" height="24.64" fill="#ecc8dc"/>
<rect x="1790.7" y="1138.34" width="38.2" height="24.64" fill="#ecc8d8"/>
<rect x="1832.8" y="1138.34" width="20.1" height="24.64" fill="#d8cce6"/>
<rect x="1856.1" y="1138.34" width="17.6" height="24.64" fill="#d8cce6"/>
<rect x="1876.7" y="1138.34" width="4.9" height="24.64" fill="#f0a0a8"/>
<rect x="1885.2" y="1138.34" width="5.0" height="24.64" fill="#ec3c3c"/>
<rect x="850.0" y="1162.68" width="87.4" height="24.64" fill="#fcf8fa"/>
<rect x="937.0" y="1162.68" width="52.4" height="24.64" fill="#fcf8fa"/>
<rect x="989.0" y="1162.68" width="53.4" height="24.64" fill="#fcf8fa"/>
<rect x="1042.0" y="1162.68" width="116.4" height="24.64" fill="#fcf8fa"/>
<rect x="1158.0" y="1162.68" width="87.9" height="24.64" fill="#fcf8fa"/>
<rect x="1249.5" y="1162.68" width="58.9" height="24.64" fill="#fcf8fa"/>
<rect x="1308.0" y="1162.68" width="39.4" height="24.64" fill="#fcf8fa"/>
<rect x="1347.0" y="1162.68" width="53.4" height="24.64" fill="#fcf8fa"/>
<rect x="1400.0" y="1162.68" width="40.4" height="24.64" fill="#fcf8fa"/>
<rect x="1440.0" y="1162.68" width="36.1" height="24.64" fill="#fcf8fa"/>
<rect x="1480.5" y="1162.68" width="59.9" height="24.64" fill="#fcf8fa"/>
<rect x="1540.0" y="1162.68" width="60.4" height="24.64" fill="#fcf8fa"/>
<rect x="1600.0" y="1162.68" width="62.7" height="24.64" fill="#fcf8fa"/>
<rect x="1666.7" y="1162.68" width="59.7" height="24.64" fill="#fbf6fa"/>
<rect x="1726.0" y="1162.68" width="60.4" height="24.64" fill="#fbf6fa"/>
<rect x="1790.7" y="1162.68" width="38.2" height="24.64" fill="#fcf8fa"/>
<rect x="1832.8" y="1162.68" width="20.1" height="24.64" fill="#fcf8fa"/>
<rect x="1856.1" y="1162.68" width="17.6" height="24.64" fill="#fcf8fa"/>
<rect x="1876.7" y="1162.68" width="4.9" height="24.64" fill="#fcf8fa"/>
<rect x="1885.2" y="1162.68" width="5.0" height="24.64" fill="#ec3c3c"/>
<rect x="850.0" y="1187.02" width="87.4" height="24.64" fill="#f8f0f6"/>
<rect x="937.0" y="1187.02" width="52.4" height="24.64" fill="#f8f0f6"/>
<rect x="989.0" y="1187.02" width="53.4" height="24.64" fill="#f8f0f6"/>
<rect x="1042.0" y="1187.02" width="116.4" height="24.64" fill="#f8f0f6"/>
<rect x="1158.0" y="1187.02" width="87.9" height="24.64" fill="#f8f0f6"/>
<rect x="1249.5" y="1187.02" width="58.9" height="24.64" fill="#f8f2f8"/>
<rect x="1308.0" y="1187.02" width="39.4" height="24.64" fill="#f8f2f8"/>
<rect x="1347.0" y="1187.02" width="53.4" height="24.64" fill="#f8f2f8"/>
<rect x="1400.0" y="1187.02" width="40.4" height="24.64" fill="#f8f2f8"/>
<rect x="1440.0" y="1187.02" width="36.1" height="24.64" fill="#f8f2f8"/>
<rect x="1480.5" y="1187.02" width="59.9" height="24.64" fill="#f8f0f6"/>
<rect x="1540.0" y="1187.02" width="60.4" height="24.64" fill="#f8f0f6"/>
<rect x="1600.0" y="1187.02" width="62.7" height="24.64" fill="#f8f0f6"/>
<rect x="1666.7" y="1187.02" width="59.7" height="24.64" fill="#f6eef4"/>
<rect x="1726.0" y="1187.02" width="60.4" height="24.64" fill="#f6eef4"/>
<rect x="1790.7" y="1187.02" width="38.2" height="24.64" fill="#f8f0f6"/>
<rect x="1832.8" y="1187.02" width="20.1" height="24.64" fill="#f8f0f6"/>
<rect x="1856.1" y="1187.02" width="17.6" height="24.64" fill="#f8f0f6"/>
<rect x="1876.7" y="1187.02" width="4.9" height="24.64" fill="#f8f0f6"/>
<rect x="1885.2" y="1187.02" width="5.0" height="24.64" fill="#ec3c3c"/>
<rect x="850.0" y="1211.36" width="87.4" height="24.64" fill="#fcf8fa"/>
<rect x="937.0" y="1211.36" width="52.4" height="24.64" fill="#fcf8fa"/>
<rect x="989.0" y="1211.36" width="53.4" height="24.64" fill="#fcf8fa"/>
<rect x="1042.0" y="1211.36" width="116.4" height="24.64" fill="#fcf8fa"/>
<rect x="1158.0" y="1211.36" width="87.9" height="24.64" fill="#fcf8fa"/>
<rect x="1249.5" y="1211.36" width="58.9" height="24.64" fill="#fcf8fa"/>
<rect x="1308.0" y="1211.36" width="39.4" height="24.64" fill="#fcf8fa"/>
<rect x="1347.0" y="1211.36" width="53.4" height="24.64" fill="#fcf8fa"/>
<rect x="1400.0" y="1211.36" width="40.4" height="24.64" fill="#fcf8fa"/>
<rect x="1440.0" y="1211.36" width="36.1" height="24.64" fill="#fcf8fa"/>
<rect x="1480.5" y="1211.36" width="59.9" height="24.64" fill="#fcf8fa"/>
<rect x="1540.0" y="1211.36" width="60.4" height="24.64" fill="#fcf8fa"/>
<rect x="1600.0" y="1211.36" width="62.7" height="24.64" fill="#fcf8fa"/>
<rect x="1666.7" y="1211.36" width="59.7" height="24.64" fill="#fbf6fa"/>
<rect x="1726.0" y="1211.36" width="60.4" height="24.64" fill="#fbf6fa"/>
<rect x="1790.7" y="1211.36" width="38.2" height="24.64" fill="#fcf8fa"/>
<rect x="1832.8" y="1211.36" width="20.1" height="24.64" fill="#fcf8fa"/>
<rect x="1856.1" y="1211.36" width="17.6" height="24.64" fill="#fcf8fa"/>
<rect x="1876.7" y="1211.36" width="4.9" height="24.64" fill="#fcf8fa"/>
<rect x="1885.2" y="1211.36" width="5.0" height="24.64" fill="#ec3c3c"/>
<g><rect x="850.0" y="164.7" width="2.0" height="1071.0" fill="#fff" opacity="0.20"/>
<rect x="853.5" y="164.7" width="1.5" height="1071.0" fill="#fff" opacity="0.18"/>
<rect x="855.0" y="164.7" width="2.0" height="1071.0" fill="#fff" opacity="0.19"/>
<rect x="860.0" y="164.7" width="2.0" height="1071.0" fill="#fff" opacity="0.11"/>
<rect x="862.5" y="164.7" width="1.0" height="1071.0" fill="#5a3a8a" opacity="0.03"/>
<rect x="867.0" y="164.7" width="2.0" height="1071.0" fill="#fff" opacity="0.13"/>
<rect x="876.0" y="164.7" width="2.0" height="1071.0" fill="#5a3a8a" opacity="0.05"/>
<rect x="881.5" y="164.7" width="1.5" height="1071.0" fill="#5a3a8a" opacity="0.05"/>
<rect x="886.0" y="164.7" width="2.0" height="1071.0" fill="#fff" opacity="0.28"/>
<rect x="888.5" y="164.7" width="1.5" height="1071.0" fill="#5a3a8a" opacity="0.06"/>
<rect x="895.0" y="164.7" width="2.0" height="1071.0" fill="#5a3a8a" opacity="0.04"/>
<rect x="897.0" y="164.7" width="2.5" height="1071.0" fill="#5a3a8a" opacity="0.04"/>
<rect x="903.0" y="164.7" width="1.0" height="1071.0" fill="#5a3a8a" opacity="0.02"/>
<rect x="905.0" y="164.7" width="1.0" height="1071.0" fill="#5a3a8a" opacity="0.02"/>
<rect x="918.0" y="164.7" width="1.5" height="1071.0" fill="#fff" opacity="0.24"/>
<rect x="929.0" y="164.7" width="2.5" height="1071.0" fill="#fff" opacity="0.15"/>
<rect x="932.5" y="164.7" width="1.0" height="1071.0" fill="#5a3a8a" opacity="0.05"/>
<rect x="935.0" y="164.7" width="1.0" height="1071.0" fill="#5a3a8a" opacity="0.03"/>
<rect x="936.5" y="164.7" width="1.5" height="1071.0" fill="#5a3a8a" opacity="0.03"/>
<rect x="938.0" y="164.7" width="1.0" height="1071.0" fill="#5a3a8a" opacity="0.06"/>
<rect x="946.5" y="164.7" width="2.5" height="1071.0" fill="#fff" opacity="0.22"/>
<rect x="952.0" y="164.7" width="1.5" height="1071.0" fill="#5a3a8a" opacity="0.05"/>
<rect x="964.0" y="164.7" width="2.5" height="1071.0" fill="#5a3a8a" opacity="0.05"/>
<rect x="973.0" y="164.7" width="1.0" height="1071.0" fill="#fff" opacity="0.26"/>
<rect x="975.5" y="164.7" width="1.0" height="1071.0" fill="#5a3a8a" opacity="0.04"/>
<rect x="986.0" y="164.7" width="2.0" height="1071.0" fill="#fff" opacity="0.18"/>
<rect x="994.0" y="164.7" width="1.0" height="1071.0" fill="#5a3a8a" opacity="0.02"/>
<rect x="1001.5" y="164.7" width="1.0" height="1071.0" fill="#fff" opacity="0.11"/>
<rect x="1006.0" y="164.7" width="2.0" height="1071.0" fill="#fff" opacity="0.16"/>
<rect x="1014.5" y="164.7" width="2.5" height="1071.0" fill="#fff" opacity="0.17"/>
<rect x="1021.0" y="164.7" width="1.0" height="1071.0" fill="#5a3a8a" opacity="0.03"/>
<rect x="1023.0" y="164.7" width="1.5" height="1071.0" fill="#fff" opacity="0.17"/>
<rect x="1025.5" y="164.7" width="2.5" height="1071.0" fill="#fff" opacity="0.13"/>
<rect x="1035.0" y="164.7" width="2.0" height="1071.0" fill="#fff" opacity="0.08"/>
<rect x="1038.0" y="164.7" width="1.5" height="1071.0" fill="#fff" opacity="0.17"/>
<rect x="1039.5" y="164.7" width="1.5" height="1071.0" fill="#5a3a8a" opacity="0.04"/>
<rect x="1045.0" y="164.7" width="2.0" height="1071.0" fill="#fff" opacity="0.27"/>
<rect x="1048.0" y="164.7" width="2.5" height="1071.0" fill="#fff" opacity="0.23"/>
<rect x="1052.0" y="164.7" width="1.0" height="1071.0" fill="#fff" opacity="0.27"/>
<rect x="1056.0" y="164.7" width="1.0" height="1071.0" fill="#fff" opacity="0.19"/>
<rect x="1069.0" y="164.7" width="2.5" height="1071.0" fill="#fff" opacity="0.12"/>
<rect x="1072.0" y="164.7" width="2.5" height="1071.0" fill="#5a3a8a" opacity="0.05"/>
<rect x="1079.5" y="164.7" width="1.0" height="1071.0" fill="#5a3a8a" opacity="0.02"/>
<rect x="1085.0" y="164.7" width="1.5" height="1071.0" fill="#5a3a8a" opacity="0.02"/>
<rect x="1087.5" y="164.7" width="1.0" height="1071.0" fill="#fff" opacity="0.18"/>
<rect x="1094.5" y="164.7" width="1.0" height="1071.0" fill="#5a3a8a" opacity="0.04"/>
<rect x="1095.5" y="164.7" width="2.5" height="1071.0" fill="#5a3a8a" opacity="0.03"/>
<rect x="1098.0" y="164.7" width="2.0" height="1071.0" fill="#fff" opacity="0.25"/>
<rect x="1106.0" y="164.7" width="1.5" height="1071.0" fill="#5a3a8a" opacity="0.04"/>
<rect x="1108.5" y="164.7" width="2.0" height="1071.0" fill="#5a3a8a" opacity="0.05"/>
<rect x="1115.0" y="164.7" width="2.0" height="1071.0" fill="#5a3a8a" opacity="0.06"/>
<rect x="1124.5" y="164.7" width="2.5" height="1071.0" fill="#5a3a8a" opacity="0.06"/>
<rect x="1129.5" y="164.7" width="1.5" height="1071.0" fill="#fff" opacity="0.19"/>
<rect x="1147.5" y="164.7" width="1.0" height="1071.0" fill="#fff" opacity="0.27"/>
<rect x="1150.0" y="164.7" width="1.5" height="1071.0" fill="#5a3a8a" opacity="0.06"/>
<rect x="1152.5" y="164.7" width="2.5" height="1071.0" fill="#fff" opacity="0.18"/>
<rect x="1157.0" y="164.7" width="2.0" height="1071.0" fill="#fff" opacity="0.22"/>
<rect x="1159.5" y="164.7" width="2.5" height="1071.0" fill="#5a3a8a" opacity="0.06"/>
<rect x="1163.0" y="164.7" width="1.0" height="1071.0" fill="#fff" opacity="0.12"/>
<rect x="1165.0" y="164.7" width="2.0" height="1071.0" fill="#fff" opacity="0.23"/>
<rect x="1174.5" y="164.7" width="1.5" height="1071.0" fill="#fff" opacity="0.22"/>
<rect x="1177.0" y="164.7" width="2.0" height="1071.0" fill="#fff" opacity="0.23"/>
<rect x="1179.0" y="164.7" width="2.5" height="1071.0" fill="#5a3a8a" opacity="0.04"/>
<rect x="1191.5" y="164.7" width="1.5" height="1071.0" fill="#fff" opacity="0.13"/>
<rect x="1193.5" y="164.7" width="1.5" height="1071.0" fill="#5a3a8a" opacity="0.06"/>
<rect x="1203.0" y="164.7" width="2.0" height="1071.0" fill="#5a3a8a" opacity="0.04"/>
<rect x="1209.0" y="164.7" width="1.0" height="1071.0" fill="#fff" opacity="0.13"/>
<rect x="1211.0" y="164.7" width="1.0" height="1071.0" fill="#fff" opacity="0.17"/>
<rect x="1212.5" y="164.7" width="1.0" height="1071.0" fill="#5a3a8a" opacity="0.06"/>
<rect x="1215.0" y="164.7" width="1.5" height="1071.0" fill="#5a3a8a" opacity="0.04"/>
<rect x="1217.0" y="164.7" width="1.5" height="1071.0" fill="#fff" opacity="0.14"/>
<rect x="1219.0" y="164.7" width="2.5" height="1071.0" fill="#5a3a8a" opacity="0.03"/>
<rect x="1223.0" y="164.7" width="2.5" height="1071.0" fill="#5a3a8a" opacity="0.03"/>
<rect x="1230.0" y="164.7" width="1.0" height="1071.0" fill="#fff" opacity="0.11"/>
<rect x="1232.0" y="164.7" width="1.0" height="1071.0" fill="#5a3a8a" opacity="0.05"/>
<rect x="1236.0" y="164.7" width="1.0" height="1071.0" fill="#fff" opacity="0.18"/>
<rect x="1237.0" y="164.7" width="1.0" height="1071.0" fill="#fff" opacity="0.24"/>
<rect x="1239.0" y="164.7" width="1.0" height="1071.0" fill="#5a3a8a" opacity="0.03"/>
<rect x="1249.5" y="164.7" width="1.0" height="1071.0" fill="#fff" opacity="0.17"/>
<rect x="1251.5" y="164.7" width="2.5" height="1071.0" fill="#5a3a8a" opacity="0.02"/>
<rect x="1256.0" y="164.7" width="1.0" height="1071.0" fill="#fff" opacity="0.24"/>
<rect x="1259.0" y="164.7" width="1.0" height="1071.0" fill="#5a3a8a" opacity="0.03"/>
<rect x="1260.0" y="164.7" width="1.0" height="1071.0" fill="#fff" opacity="0.12"/>
<rect x="1262.0" y="164.7" width="1.0" height="1071.0" fill="#fff" opacity="0.26"/>
<rect x="1266.0" y="164.7" width="1.0" height="1071.0" fill="#fff" opacity="0.16"/>
<rect x="1268.5" y="164.7" width="2.5" height="1071.0" fill="#fff" opacity="0.14"/>
<rect x="1271.0" y="164.7" width="1.5" height="1071.0" fill="#fff" opacity="0.27"/>
<rect x="1279.5" y="164.7" width="2.0" height="1071.0" fill="#5a3a8a" opacity="0.04"/>
<rect x="1291.0" y="164.7" width="2.5" height="1071.0" fill="#5a3a8a" opacity="0.02"/>
<rect x="1295.5" y="164.7" width="1.5" height="1071.0" fill="#5a3a8a" opacity="0.05"/>
<rect x="1300.0" y="164.7" width="2.0" height="1071.0" fill="#5a3a8a" opacity="0.05"/>
<rect x="1303.0" y="164.7" width="2.5" height="1071.0" fill="#fff" opacity="0.25"/>
<rect x="1305.5" y="164.7" width="2.5" height="1071.0" fill="#fff" opacity="0.24"/>
<rect x="1311.0" y="164.7" width="2.5" height="1071.0" fill="#fff" opacity="0.27"/>
<rect x="1319.0" y="164.7" width="1.0" height="1071.0" fill="#5a3a8a" opacity="0.06"/>
<rect x="1323.5" y="164.7" width="1.0" height="1071.0" fill="#fff" opacity="0.14"/>
<rect x="1324.5" y="164.7" width="2.0" height="1071.0" fill="#fff" opacity="0.16"/>
<rect x="1331.0" y="164.7" width="1.5" height="1071.0" fill="#fff" opacity="0.18"/>
<rect x="1338.5" y="164.7" width="1.0" height="1071.0" fill="#fff" opacity="0.20"/>
<rect x="1339.5" y="164.7" width="2.0" height="1071.0" fill="#5a3a8a" opacity="0.04"/>
<rect x="1347.0" y="164.7" width="1.0" height="1071.0" fill="#fff" opacity="0.12"/>
<rect x="1354.5" y="164.7" width="1.5" height="1071.0" fill="#fff" opacity="0.20"/>
<rect x="1356.5" y="164.7" width="1.0" height="1071.0" fill="#fff" opacity="0.12"/>
<rect x="1366.5" y="164.7" width="1.5" height="1071.0" fill="#fff" opacity="0.09"/>
<rect x="1369.5" y="164.7" width="1.5" height="1071.0" fill="#fff" opacity="0.23"/>
<rect x="1375.5" y="164.7" width="1.0" height="1071.0" fill="#fff" opacity="0.27"/>
<rect x="1378.0" y="164.7" width="2.5" height="1071.0" fill="#fff" opacity="0.28"/>
<rect x="1380.5" y="164.7" width="2.5" height="1071.0" fill="#5a3a8a" opacity="0.03"/>
<rect x="1396.0" y="164.7" width="1.0" height="1071.0" fill="#5a3a8a" opacity="0.05"/>
<rect x="1404.5" y="164.7" width="1.0" height="1071.0" fill="#5a3a8a" opacity="0.06"/>
<rect x="1409.5" y="164.7" width="2.5" height="1071.0" fill="#5a3a8a" opacity="0.05"/>
<rect x="1424.0" y="164.7" width="2.5" height="1071.0" fill="#fff" opacity="0.20"/>
<rect x="1432.5" y="164.7" width="1.5" height="1071.0" fill="#5a3a8a" opacity="0.04"/>
<rect x="1437.0" y="164.7" width="1.0" height="1071.0" fill="#fff" opacity="0.10"/>
<rect x="1439.5" y="164.7" width="1.0" height="1071.0" fill="#5a3a8a" opacity="0.03"/>
<rect x="1442.0" y="164.7" width="2.5" height="1071.0" fill="#fff" opacity="0.10"/>
<rect x="1445.0" y="164.7" width="2.5" height="1071.0" fill="#5a3a8a" opacity="0.05"/>
<rect x="1459.5" y="164.7" width="1.0" height="1071.0" fill="#fff" opacity="0.26"/>
<rect x="1461.5" y="164.7" width="2.0" height="1071.0" fill="#fff" opacity="0.25"/>
<rect x="1472.5" y="164.7" width="1.0" height="1071.0" fill="#fff" opacity="0.23"/>
<rect x="1474.5" y="164.7" width="1.2" height="1071.0" fill="#5a3a8a" opacity="0.04"/>
<rect x="1498.0" y="164.7" width="2.5" height="1071.0" fill="#fff" opacity="0.15"/>
<rect x="1502.5" y="164.7" width="1.0" height="1071.0" fill="#fff" opacity="0.19"/>
<rect x="1506.5" y="164.7" width="1.0" height="1071.0" fill="#fff" opacity="0.22"/>
<rect x="1507.5" y="164.7" width="1.5" height="1071.0" fill="#fff" opacity="0.22"/>
<rect x="1510.0" y="164.7" width="1.5" height="1071.0" fill="#5a3a8a" opacity="0.06"/>
<rect x="1513.0" y="164.7" width="2.5" height="1071.0" fill="#fff" opacity="0.18"/>
<rect x="1518.5" y="164.7" width="2.0" height="1071.0" fill="#5a3a8a" opacity="0.03"/>
<rect x="1526.0" y="164.7" width="1.5" height="1071.0" fill="#fff" opacity="0.10"/>
<rect x="1528.5" y="164.7" width="1.0" height="1071.0" fill="#fff" opacity="0.25"/>
<rect x="1530.0" y="164.7" width="2.0" height="1071.0" fill="#fff" opacity="0.27"/>
<rect x="1534.5" y="164.7" width="1.0" height="1071.0" fill="#fff" opacity="0.25"/>
<rect x="1542.0" y="164.7" width="2.0" height="1071.0" fill="#fff" opacity="0.09"/>
<rect x="1544.0" y="164.7" width="2.5" height="1071.0" fill="#5a3a8a" opacity="0.06"/>
<rect x="1548.5" y="164.7" width="2.0" height="1071.0" fill="#fff" opacity="0.09"/>
<rect x="1553.5" y="164.7" width="2.0" height="1071.0" fill="#5a3a8a" opacity="0.03"/>
<rect x="1557.0" y="164.7" width="2.5" height="1071.0" fill="#5a3a8a" opacity="0.06"/>
<rect x="1562.5" y="164.7" width="2.5" height="1071.0" fill="#fff" opacity="0.12"/>
<rect x="1565.0" y="164.7" width="2.0" height="1071.0" fill="#fff" opacity="0.18"/>
<rect x="1569.0" y="164.7" width="1.0" height="1071.0" fill="#fff" opacity="0.08"/>
<rect x="1573.0" y="164.7" width="1.0" height="1071.0" fill="#5a3a8a" opacity="0.04"/>
<rect x="1577.0" y="164.7" width="1.0" height="1071.0" fill="#5a3a8a" opacity="0.05"/>
<rect x="1583.5" y="164.7" width="2.5" height="1071.0" fill="#fff" opacity="0.21"/>
<rect x="1586.5" y="164.7" width="2.5" height="1071.0" fill="#5a3a8a" opacity="0.04"/>
<rect x="1592.0" y="164.7" width="2.5" height="1071.0" fill="#5a3a8a" opacity="0.05"/>
<rect x="1610.0" y="164.7" width="2.0" height="1071.0" fill="#fff" opacity="0.28"/>
<rect x="1614.0" y="164.7" width="1.0" height="1071.0" fill="#fff" opacity="0.11"/>
<rect x="1621.5" y="164.7" width="1.0" height="1071.0" fill="#5a3a8a" opacity="0.04"/>
<rect x="1637.0" y="164.7" width="1.5" height="1071.0" fill="#5a3a8a" opacity="0.03"/>
<rect x="1639.5" y="164.7" width="1.0" height="1071.0" fill="#fff" opacity="0.28"/>
<rect x="1642.0" y="164.7" width="1.0" height="1071.0" fill="#5a3a8a" opacity="0.06"/>
<rect x="1643.5" y="164.7" width="2.0" height="1071.0" fill="#fff" opacity="0.18"/>
<rect x="1650.5" y="164.7" width="1.0" height="1071.0" fill="#5a3a8a" opacity="0.05"/>
<rect x="1657.5" y="164.7" width="1.0" height="1071.0" fill="#fff" opacity="0.21"/>
<rect x="1659.0" y="164.7" width="1.0" height="1071.0" fill="#fff" opacity="0.09"/>
<rect x="1660.5" y="164.7" width="1.8" height="1071.0" fill="#5a3a8a" opacity="0.04"/>
<rect x="1670.2" y="164.7" width="2.5" height="1071.0" fill="#fff" opacity="0.13"/>
<rect x="1675.7" y="164.7" width="2.0" height="1071.0" fill="#fff" opacity="0.18"/>
<rect x="1681.7" y="164.7" width="1.0" height="1071.0" fill="#5a3a8a" opacity="0.03"/>
<rect x="1686.7" y="164.7" width="1.0" height="1071.0" fill="#5a3a8a" opacity="0.03"/>
<rect x="1689.2" y="164.7" width="2.0" height="1071.0" fill="#5a3a8a" opacity="0.06"/>
<rect x="1694.2" y="164.7" width="2.5" height="1071.0" fill="#5a3a8a" opacity="0.04"/>
<rect x="1709.2" y="164.7" width="2.0" height="1071.0" fill="#fff" opacity="0.14"/>
<rect x="1711.2" y="164.7" width="1.0" height="1071.0" fill="#fff" opacity="0.26"/>
<rect x="1714.7" y="164.7" width="2.0" height="1071.0" fill="#fff" opacity="0.17"/>
<rect x="1727.7" y="164.7" width="1.0" height="1071.0" fill="#5a3a8a" opacity="0.05"/>
<rect x="1731.7" y="164.7" width="1.0" height="1071.0" fill="#5a3a8a" opacity="0.05"/>
<rect x="1734.2" y="164.7" width="2.0" height="1071.0" fill="#5a3a8a" opacity="0.05"/>
<rect x="1739.2" y="164.7" width="1.5" height="1071.0" fill="#5a3a8a" opacity="0.06"/>
<rect x="1750.2" y="164.7" width="1.5" height="1071.0" fill="#fff" opacity="0.28"/>
<rect x="1758.7" y="164.7" width="1.0" height="1071.0" fill="#fff" opacity="0.20"/>
<rect x="1772.2" y="164.7" width="1.5" height="1071.0" fill="#fff" opacity="0.17"/>
<rect x="1775.7" y="164.7" width="1.0" height="1071.0" fill="#fff" opacity="0.12"/>
<rect x="1778.2" y="164.7" width="1.5" height="1071.0" fill="#5a3a8a" opacity="0.04"/>
<rect x="1781.2" y="164.7" width="2.5" height="1071.0" fill="#fff" opacity="0.23"/>
<rect x="1784.7" y="164.7" width="1.3" height="1071.0" fill="#5a3a8a" opacity="0.05"/>
<rect x="1794.2" y="164.7" width="2.5" height="1071.0" fill="#5a3a8a" opacity="0.03"/>
<rect x="1797.7" y="164.7" width="2.0" height="1071.0" fill="#fff" opacity="0.14"/>
<rect x="1802.7" y="164.7" width="1.0" height="1071.0" fill="#5a3a8a" opacity="0.03"/>
<rect x="1815.2" y="164.7" width="1.5" height="1071.0" fill="#5a3a8a" opacity="0.03"/>
<rect x="1823.7" y="164.7" width="2.0" height="1071.0" fill="#5a3a8a" opacity="0.05"/>
<rect x="1856.1" y="164.7" width="1.0" height="1071.0" fill="#5a3a8a" opacity="0.05"/>
<rect x="1862.1" y="164.7" width="1.0" height="1071.0" fill="#5a3a8a" opacity="0.05"/>
<rect x="1868.1" y="164.7" width="1.5" height="1071.0" fill="#5a3a8a" opacity="0.05"/>
<rect x="1870.1" y="164.7" width="2.0" height="1071.0" fill="#fff" opacity="0.27"/>
<rect x="1876.7" y="164.7" width="1.0" height="1071.0" fill="#fff" opacity="0.12"/>
<rect x="1879.7" y="164.7" width="1.5" height="1071.0" fill="#5a3a8a" opacity="0.05"/>
<rect x="1888.7" y="164.7" width="1.0" height="1071.0" fill="#5a3a8a" opacity="0.05"/></g>
<rect x="847.3" y="160.2" width="1045.7" height="1080.4" fill="none" stroke="#111" stroke-width="1.6"/>
<text x="1903" y="182.5" font-size="30.5" fill="#000" font-weight="normal" font-style="italic" text-anchor="start" >Gsn</text>
<text x="1903" y="206.9" font-size="30.5" fill="#000" font-weight="normal" font-style="italic" text-anchor="start" >Dcn</text>
<text x="1903" y="231.3" font-size="30.5" fill="#000" font-weight="normal" font-style="italic" text-anchor="start" >Mfap5</text>
<text x="1903" y="255.7" font-size="30.5" fill="#000" font-weight="normal" font-style="italic" text-anchor="start" >Pi16</text>
<text x="1903" y="280.1" font-size="30.5" fill="#000" font-weight="normal" font-style="italic" text-anchor="start" >Gpx3</text>
<text x="1903" y="304.6" font-size="30.5" fill="#000" font-weight="normal" font-style="italic" text-anchor="start" >Lyz2</text>
<text x="1903" y="329.0" font-size="30.5" fill="#000" font-weight="normal" font-style="italic" text-anchor="start" >Wfdc17</text>
<text x="1903" y="353.4" font-size="30.5" fill="#000" font-weight="normal" font-style="italic" text-anchor="start" >C1qa</text>
<text x="1903" y="377.8" font-size="30.5" fill="#000" font-weight="normal" font-style="italic" text-anchor="start" >C1qb</text>
<text x="1903" y="402.2" font-size="30.5" fill="#000" font-weight="normal" font-style="italic" text-anchor="start" >C1qc</text>
<text x="1903" y="426.6" font-size="30.5" fill="#000" font-weight="normal" font-style="italic" text-anchor="start" >Fabp4</text>
<text x="1903" y="451.0" font-size="30.5" fill="#000" font-weight="normal" font-style="italic" text-anchor="start" >Aqp1</text>
<text x="1903" y="475.4" font-size="30.5" fill="#000" font-weight="normal" font-style="italic" text-anchor="start" >Gpihbp1</text>
<text x="1903" y="499.8" font-size="30.5" fill="#000" font-weight="normal" font-style="italic" text-anchor="start" >Ly6c1</text>
<text x="1903" y="524.2" font-size="30.5" fill="#000" font-weight="normal" font-style="italic" text-anchor="start" >1190002H23Rik</text>
<text x="1903" y="548.6" font-size="30.5" fill="#000" font-weight="normal" font-style="italic" text-anchor="start" >Rgs5</text>
<text x="1903" y="573.1" font-size="30.5" fill="#000" font-weight="normal" font-style="italic" text-anchor="start" >Kcnj8</text>
<text x="1903" y="597.5" font-size="30.5" fill="#000" font-weight="normal" font-style="italic" text-anchor="start" >Vtn</text>
<text x="1903" y="621.9" font-size="30.5" fill="#000" font-weight="normal" font-style="italic" text-anchor="start" >Abcc9</text>
<text x="1903" y="646.3" font-size="30.5" fill="#000" font-weight="normal" font-style="italic" text-anchor="start" >Higd1b</text>
<text x="1903" y="670.7" font-size="30.5" fill="#000" font-weight="normal" font-style="italic" text-anchor="start" >H19</text>
<text x="1903" y="695.1" font-size="30.5" fill="#000" font-weight="normal" font-style="italic" text-anchor="start" >Cpe</text>
<text x="1903" y="719.5" font-size="30.5" fill="#000" font-weight="normal" font-style="italic" text-anchor="start" >Npr3</text>
<text x="1903" y="743.9" font-size="30.5" fill="#000" font-weight="normal" font-style="italic" text-anchor="start" >Tm4sf1</text>
<text x="1903" y="768.3" font-size="30.5" fill="#000" font-weight="normal" font-style="italic" text-anchor="start" >Vwf</text>
<text x="1903" y="792.8" font-size="30.5" fill="#000" font-weight="normal" font-style="italic" text-anchor="start" >Stmn1</text>
<text x="1903" y="817.2" font-size="30.5" fill="#000" font-weight="normal" font-style="italic" text-anchor="start" >Hmgb2</text>
<text x="1903" y="841.6" font-size="30.5" fill="#000" font-weight="normal" font-style="italic" text-anchor="start" >Top2a</text>
<text x="1903" y="866.0" font-size="30.5" fill="#000" font-weight="normal" font-style="italic" text-anchor="start" >2810417H13Rik</text>
<text x="1903" y="890.4" font-size="30.5" fill="#000" font-weight="normal" font-style="italic" text-anchor="start" >Birc5</text>
<text x="1903" y="914.8" font-size="30.5" fill="#000" font-weight="normal" font-style="italic" text-anchor="start" >Mmrn1</text>
<text x="1903" y="939.2" font-size="30.5" fill="#000" font-weight="normal" font-style="italic" text-anchor="start" >Pard6g</text>
<text x="1903" y="963.6" font-size="30.5" fill="#000" font-weight="normal" font-style="italic" text-anchor="start" >Reln</text>
<text x="1903" y="988.0" font-size="30.5" fill="#000" font-weight="normal" font-style="italic" text-anchor="start" >Fgl2</text>
<text x="1903" y="1012.4" font-size="30.5" fill="#000" font-weight="normal" font-style="italic" text-anchor="start" >Ccl21a</text>
<text x="1903" y="1036.8" font-size="30.5" fill="#000" font-weight="normal" font-style="italic" text-anchor="start" >Wif1</text>
<text x="1903" y="1061.3" font-size="30.5" fill="#000" font-weight="normal" font-style="italic" text-anchor="start" >Dbi</text>
<text x="1903" y="1085.7" font-size="30.5" fill="#000" font-weight="normal" font-style="italic" text-anchor="start" >Id4</text>
<text x="1903" y="1110.1" font-size="30.5" fill="#000" font-weight="normal" font-style="italic" text-anchor="start" >Dpt</text>
<text x="1903" y="1134.5" font-size="30.5" fill="#000" font-weight="normal" font-style="italic" text-anchor="start" >Ccdc80</text>
<text x="1903" y="1158.9" font-size="30.5" fill="#000" font-weight="normal" font-style="italic" text-anchor="start" >Prnp</text>
<text x="1903" y="1183.3" font-size="30.5" fill="#000" font-weight="normal" font-style="italic" text-anchor="start" >Kcna1</text>
<text x="1903" y="1207.7" font-size="30.5" fill="#000" font-weight="normal" font-style="italic" text-anchor="start" >Plp1</text>
<text x="1903" y="1232.1" font-size="30.5" fill="#000" font-weight="normal" font-style="italic" text-anchor="start" >Gfra3</text>
<text x="0" y="0" font-size="30.6" font-weight="bold" text-anchor="middle" transform="translate(831.7,693) rotate(-90)">Top 5 genes per cluster</text>
<text x="849" y="1274.7" font-size="30.6" fill="#000" font-weight="bold" font-style="normal" text-anchor="start" >Clusters</text>
<text x="1052.1" y="1274.6" font-size="30" fill="#000" font-weight="normal" font-style="normal" text-anchor="middle" >0</text>
<text x="1364.5" y="1274.6" font-size="30" fill="#000" font-weight="normal" font-style="normal" text-anchor="middle" >1</text>
<text x="1572.9" y="1274.6" font-size="30" fill="#000" font-weight="normal" font-style="normal" text-anchor="middle" >2</text>
<text x="1730.2" y="1274.6" font-size="30" fill="#000" font-weight="normal" font-style="normal" text-anchor="middle" >3</text>
<text x="1809.3" y="1274.6" font-size="30" fill="#000" font-weight="normal" font-style="normal" text-anchor="middle" >4</text>
<text x="1842.3" y="1274.6" font-size="30" fill="#000" font-weight="normal" font-style="normal" text-anchor="middle" >5</text>
<text x="1865.4" y="1274.6" font-size="30" fill="#000" font-weight="normal" font-style="normal" text-anchor="middle" >6</text>
<text x="1908.3" y="1274.6" font-size="30" fill="#000" font-weight="normal" font-style="normal" text-anchor="middle" >8</text>
<text x="1897.5" y="1299.7" font-size="30" fill="#000" font-weight="normal" font-style="normal" text-anchor="middle" >7</text>
<polyline points="1880,1240.6 1880,1285.4 1890.4,1285.4" fill="none" stroke="#111" stroke-width="1.3"/>
<polyline points="1887.4,1240.6 1887.4,1263 1897.8,1263" fill="none" stroke="#111" stroke-width="1.3"/>
<defs><radialGradient id="gpostn" gradientUnits="userSpaceOnUse" cx="168.2" cy="956.9" r="125"><stop offset="0" stop-color="#f2905e"/><stop offset="0.22" stop-color="#ec7c6c"/><stop offset="0.42" stop-color="#c45c90"/><stop offset="0.62" stop-color="#7a50ac"/><stop offset="0.78" stop-color="#5457b6"/><stop offset="1" stop-color="#5457b6"/></radialGradient><radialGradient id="gctgf" gradientUnits="userSpaceOnUse" cx="549.1" cy="936.6" r="150"><stop offset="0" stop-color="#e8787e"/><stop offset="0.3" stop-color="#c85a90"/><stop offset="0.6" stop-color="#8a4ea8"/><stop offset="0.85" stop-color="#5856b4"/><stop offset="1" stop-color="#5457b6"/></radialGradient><radialGradient id="gfabp4" gradientUnits="userSpaceOnUse" cx="128.6" cy="1073.0" r="130"><stop offset="0" stop-color="#f49c44"/><stop offset="0.45" stop-color="#f08e56"/><stop offset="0.8" stop-color="#e87870"/><stop offset="1" stop-color="#e06a80"/></radialGradient></defs>
<defs>
<linearGradient id="cb6" x1="0" x2="0" y1="1" y2="0"><stop offset="0" stop-color="#4353b2"/><stop offset="0.22" stop-color="#6a44ae"/><stop offset="0.45" stop-color="#a842a6"/><stop offset="0.62" stop-color="#d8508e"/><stop offset="0.8" stop-color="#f07a58"/><stop offset="1" stop-color="#f8a428"/></linearGradient>
</defs>
<clipPath id="endoclip"><path d="M48.6 440.0L52.9 431.3L61.5 427.0L75.5 424.9L88.4 420.6L104.6 412.0L120.7 403.4L136.9 393.7L153.0 386.1L169.2 384.0L190.7 388.3L212.2 396.9L233.7 406.6L244.5 412.0L239.1 418.4L223.0 430.3L210.1 443.2L201.4 456.1L192.8 466.9L179.9 472.2L174.0 474.0L175.0 484.0L178.5 493.8L176.7 502.3L171.2 512.3L162.3 524.5L151.2 526.7L140.0 517.8L126.7 513.4L112.3 507.8L105.6 500.0L104.5 490.0L95.6 488.9L78.9 486.7L71.1 482.2L72.3 477.6L75.5 466.9L77.7 458.3L66.9 456.1L56.1 454.0L49.7 447.5Z"/></clipPath>
<path d="M48.6 440.0L52.9 431.3L61.5 427.0L75.5 424.9L88.4 420.6L104.6 412.0L120.7 403.4L136.9 393.7L153.0 386.1L169.2 384.0L190.7 388.3L212.2 396.9L233.7 406.6L244.5 412.0L239.1 418.4L223.0 430.3L210.1 443.2L201.4 456.1L192.8 466.9L179.9 472.2L174.0 474.0L175.0 484.0L178.5 493.8L176.7 502.3L171.2 512.3L162.3 524.5L151.2 526.7L140.0 517.8L126.7 513.4L112.3 507.8L105.6 500.0L104.5 490.0L95.6 488.9L78.9 486.7L71.1 482.2L72.3 477.6L75.5 466.9L77.7 458.3L66.9 456.1L56.1 454.0L49.7 447.5Z" fill="#a9ba46" stroke="#a9ba46" stroke-width="1.5" stroke-linejoin="round"/>
<path d="M40.0 420.0L88.4 421.7L104.6 426.0L126.1 430.3L142.2 436.7L147.6 447.5L156.2 459.3L169.2 469.0L172.0 478.0L178.0 490.0L185.0 540.0L40.0 540.0Z" fill="#52be64" stroke="#52be64" stroke-width="0" stroke-linejoin="round" clip-path="url(#endoclip)"/>
<path d="M104.5 490.0L120.0 486.0L140.0 487.0L160.0 490.0L176.0 500.0L171.0 512.0L162.0 524.0L151.0 526.0L140.0 518.0L126.7 513.4L112.3 507.8L105.6 500.0Z" fill="#90d49a" stroke="#90d49a" stroke-width="0" stroke-linejoin="round"/>
<path d="M172.0 472.0L180.0 472.0L184.0 490.0L182.0 505.0L176.0 500.0L175.0 484.0Z" fill="#cbd58e" stroke="#cbd58e" stroke-width="1.5" stroke-linejoin="round"/>
<path d="M67.8 532.3L76.7 522.3L90.0 517.8L106.7 515.6L117.8 516.7L131.2 522.3L145.6 531.2L160.1 538.9L173.4 542.3L187.9 543.4L199.0 551.2L209.0 563.4L220.1 579.0L231.2 592.3L241.2 603.4L239.0 610.1L223.4 615.6L201.2 620.1L179.0 622.3L151.2 623.4L128.9 622.3L106.7 620.1L86.7 616.8L77.8 609.0L72.2 595.6L68.9 579.0L67.8 562.3L67.2 545.6Z" fill="#f4877f" stroke="#f4877f" stroke-width="1.5" stroke-linejoin="round"/>
<path d="M275.2 368.9L280.9 357.3L292.5 348.7L309.8 348.7L315.6 355.9L309.8 368.9L301.2 380.5L289.6 386.2L280.9 383.4L273.7 376.1Z" fill="#a8baf0" stroke="#a8baf0" stroke-width="1.5" stroke-linejoin="round"/>
<path d="M282.0 366.0L288.0 356.0L300.0 353.0L305.0 360.0L298.0 372.0L288.0 376.0Z" fill="#7e98e2" stroke="#7e98e2" stroke-width="1.5" stroke-linejoin="round"/>
<path d="M247.7 405.0L254.9 399.3L263.6 403.6L262.1 412.3L275.2 409.4L286.7 418.0L301.2 423.8L312.7 431.0L309.8 441.2L293.9 449.8L275.2 455.6L263.6 452.7L257.8 441.2L256.4 429.6L247.7 420.9L243.4 412.3Z" fill="#48c3a6" stroke="#48c3a6" stroke-width="1.5" stroke-linejoin="round"/>
<path d="M292.5 507.7L301.2 490.3L315.6 480.2L330.1 475.9L351.8 475.9L373.4 481.6L387.9 493.2L393.7 513.4L392.2 539.4L385.0 553.9L366.2 562.6L337.3 565.5L322.8 569.8L315.6 577.0L304.1 582.8L289.6 578.5L275.2 568.4L262.1 555.3L263.6 542.3L272.3 530.8L283.8 519.2Z" fill="#dba843" stroke="#dba843" stroke-width="1.5" stroke-linejoin="round"/>
<path d="M303.0 498.0L315.0 486.0L330.0 484.0L342.0 492.0L345.0 508.0L335.0 522.0L318.0 530.0L300.0 522.0Z" fill="#e0b458" stroke="#e0b458" stroke-width="1.5" stroke-linejoin="round"/>
<path d="M266.0 545.0L275.0 532.0L290.0 530.0L300.0 545.0L302.0 565.0L292.0 578.0L276.0 568.0Z" fill="#e0b65c" stroke="#e0b65c" stroke-width="1.5" stroke-linejoin="round"/>
<path d="M213.0 445.0L217.0 444.0L228.0 458.0L241.0 470.0L238.0 474.0L226.0 464.0L215.0 452.0Z" fill="#3cbde6" stroke="#3cbde6" stroke-width="1.5" stroke-linejoin="round"/>
<path d="M226.0 464.0L234.0 462.0L241.0 470.0L237.0 477.0L229.0 474.0Z" fill="#22b4e4" stroke="#22b4e4" stroke-width="1.5" stroke-linejoin="round"/>
<path d="M238.0 482.0L242.0 482.0L252.0 494.0L282.0 506.0L284.0 516.0L270.0 516.0L250.0 506.0L240.0 492.0Z" fill="#40bfe6" stroke="#40bfe6" stroke-width="1.5" stroke-linejoin="round"/>
<path d="M220.0 506.0L227.0 505.0L229.0 512.0L222.0 514.0Z" fill="#30b8e4" stroke="#30b8e4" stroke-width="1.5" stroke-linejoin="round"/>
<path d="M232.0 525.0L236.0 525.0L251.0 556.0L247.0 557.0Z" fill="#70cce8" stroke="#70cce8" stroke-width="1.5" stroke-linejoin="round"/>
<path d="M245.0 557.0L256.0 557.0L258.0 568.0L247.0 568.0Z" fill="#30b8e4" stroke="#30b8e4" stroke-width="1.5" stroke-linejoin="round"/>
<path d="M188.0 530.0L197.0 527.8L206.8 530.0L205.0 538.0L196.0 540.0L189.0 537.0Z" fill="#cc92ea" stroke="#cc92ea" stroke-width="1.5" stroke-linejoin="round"/>
<path d="M46.0 389.0L60.0 393.0L75.5 399.0L74.0 403.0L60.0 400.0L47.0 394.0Z" fill="#f08cc8" stroke="#f08cc8" stroke-width="1.5" stroke-linejoin="round"/>
<path d="M55.0 400.0L68.0 402.0L64.0 414.0L57.0 414.0Z" fill="#fadcee" stroke="#fadcee" stroke-width="1.5" stroke-linejoin="round"/>
<path d="M135.0 496.0L147.0 494.0L151.0 505.0L145.0 515.0L135.0 512.0Z" fill="#4cbb5e" stroke="#4cbb5e" stroke-width="1.5" stroke-linejoin="round"/>
<path d="M425.8 430.8L429.7 421.0L439.5 417.1L450.2 418.1L459.0 415.1L469.8 409.3L478.6 401.4L491.3 392.6L503.1 386.8L514.8 379.9L528.5 376.0L542.2 378.9L556.9 383.8L571.6 390.7L586.2 396.5L600.9 401.4L612.0 404.5L610.0 409.5L596.0 414.1L586.2 420.0L576.4 427.8L571.6 437.6L567.6 449.4L556.9 457.2L550.0 462.1L547.1 471.9L542.2 482.6L545.1 490.5L537.3 488.5L527.5 476.8L517.7 469.0L503.1 469.0L483.5 470.9L468.8 472.9L456.1 473.8L451.2 468.9L452.2 461.1L457.1 455.2L454.1 447.4L447.3 443.5L439.5 444.5L432.6 442.5L426.7 436.7Z" fill="#5457b6" stroke="#5457b6" stroke-width="1.5" stroke-linejoin="round"/>
<path d="M427.0 437.0L447.0 443.0L454.0 447.0L457.0 455.0L452.0 461.0L451.0 469.0L456.0 474.0L470.0 473.0L490.0 471.0L503.0 469.0L505.0 455.0L490.0 445.0L470.0 440.0L450.0 432.0L430.0 428.0Z" fill="#5457b6" stroke="#5457b6" stroke-width="1.5" stroke-linejoin="round"/>
<path d="M474.0 471.0L500.0 468.0L520.0 470.0L530.0 478.0L538.0 490.0L528.0 500.0L515.0 502.0L500.0 497.0L485.0 497.0L476.0 490.0Z" fill="#f0aaa8" stroke="#f0aaa8" stroke-width="1.5" stroke-linejoin="round"/>
<path d="M449.2 510.9L459.0 506.0L473.7 501.1L488.4 496.2L498.2 493.3L508.0 487.0L515.8 480.0L522.0 484.0L532.3 487.3L544.0 500.9L555.6 512.6L571.2 514.6L569.3 524.3L582.9 543.7L594.6 563.2L606.8 587.2L596.0 590.1L581.3 591.1L561.8 597.0L550.0 603.8L532.4 602.9L512.8 604.8L493.3 604.8L473.7 602.9L459.0 600.9L455.1 593.1L451.2 579.4L448.3 562.7L445.3 548.1L447.3 528.5L448.3 514.8Z" fill="#f08a5a" stroke="#f08a5a" stroke-width="1.5" stroke-linejoin="round"/>
<path d="M518.0 484.0L532.0 488.0L544.0 501.0L552.0 511.0L540.0 514.0L526.0 506.0L518.0 496.0Z" fill="#f4b4a0" stroke="#f4b4a0" stroke-width="1.5" stroke-linejoin="round"/>
<path d="M548.0 512.0L560.0 511.0L572.0 512.5L573.0 520.0L568.0 526.0L558.0 526.0L550.0 520.0Z" fill="#f09262" stroke="#f09262" stroke-width="1.5" stroke-linejoin="round"/>
<path d="M611.3 394.6L616.2 391.6L622.1 396.5L623.1 402.4L630.9 406.3L640.7 402.4L648.5 411.2L656.3 416.1L666.1 420.0L668.1 425.9L663.2 433.7L654.4 439.6L644.6 444.5L632.8 445.5L622.1 442.5L616.2 435.7L614.2 423.0L612.3 413.2L607.4 402.4Z" fill="#b8529e" stroke="#b8529e" stroke-width="1.5" stroke-linejoin="round"/>
<path d="M628.9 371.1L632.8 359.4L640.7 350.5L651.4 343.7L665.1 343.7L669.0 349.6L666.1 358.4L662.2 367.2L658.3 376.0L661.2 383.8L654.4 378.9L643.6 380.9L635.8 375.0Z" fill="#5a5cb8" stroke="#5a5cb8" stroke-width="1.5" stroke-linejoin="round"/>
<path d="M427.0 380.0L440.0 385.0L455.0 391.0L452.0 397.0L440.0 396.0L430.0 390.0Z" fill="#6a5cb8" stroke="#6a5cb8" stroke-width="1.5" stroke-linejoin="round"/>
<path d="M647.5 494.8L656.3 481.1L666.1 469.4L677.8 464.5L690.6 462.5L707.2 465.4L721.9 470.3L736.6 481.1L741.4 498.7L742.4 516.3L739.5 526.1L726.8 533.9L721.9 543.7L707.2 544.7L692.5 549.6L677.8 552.5L665.1 554.5L658.3 561.3L648.5 559.4L634.8 561.3L627.0 554.5L617.2 550.6L606.4 545.7L609.4 540.8L621.1 543.7L634.8 545.7L648.5 543.7L652.4 533.0L648.5 518.3L647.5 508.5Z" fill="#5054b6" stroke="#5054b6" stroke-width="1.5" stroke-linejoin="round"/>
<path d="M617.2 533.0L623.1 520.2L631.9 512.4L640.7 511.4L644.6 518.3L642.6 528.1L648.5 537.8L640.7 543.7L628.9 543.7L619.1 540.8Z" fill="#ef8270" stroke="#ef8270" stroke-width="1.5" stroke-linejoin="round"/>
<path d="M609.4 482.1L621.1 485.0L633.8 492.8L646.5 498.7L642.6 504.6L628.9 502.6L613.3 500.7L610.3 492.8Z" fill="#5a56b4" stroke="#5a56b4" stroke-width="1.5" stroke-linejoin="round"/>
<path d="M577.0 435.0L583.0 437.0L592.0 449.0L602.0 461.0L607.0 472.0L603.0 477.0L597.0 469.0L588.0 457.0L579.0 444.0Z" fill="#5a56b4" stroke="#5a56b4" stroke-width="1.5" stroke-linejoin="round"/>
<path d="M582.0 492.0L588.0 490.0L591.0 496.0L587.0 501.0L582.0 499.0Z" fill="#5a56b4" stroke="#5a56b4" stroke-width="1.5" stroke-linejoin="round"/>
<path d="M604.0 541.0L612.0 539.0L619.0 545.0L615.0 551.0L607.0 549.0Z" fill="#5a56b4" stroke="#5a56b4" stroke-width="1.5" stroke-linejoin="round"/>
<path d="M600.0 473.0L605.0 473.0L606.0 479.0L600.0 480.0Z" fill="#f0845a" stroke="#f0845a" stroke-width="1.5" stroke-linejoin="round"/>
<path d="M36.1 783.5L39.9 772.8L49.6 768.6L60.1 769.6L68.8 766.4L79.4 760.1L88.1 751.4L100.6 741.9L112.2 735.5L123.7 728.0L137.2 723.8L150.7 726.9L165.1 732.3L179.6 739.8L194.0 746.1L208.4 751.4L219.4 754.8L217.4 760.3L203.6 765.3L194.0 771.7L184.3 780.2L179.6 790.9L175.7 803.7L165.1 812.2L158.3 817.6L155.5 828.2L150.7 839.9L153.5 848.5L145.8 846.3L136.2 833.6L126.5 825.1L112.2 825.1L92.9 827.2L78.4 829.3L65.9 830.3L61.1 825.0L62.1 816.5L66.9 810.1L64.0 801.6L57.3 797.3L49.6 798.4L42.8 796.2L37.0 789.9Z" fill="#5457b6" stroke="#5457b6" stroke-width="1.5" stroke-linejoin="round"/>
<path d="M37.3 790.2L57.0 796.8L63.9 801.1L66.8 809.8L61.9 816.4L60.9 825.1L65.8 830.5L79.6 829.4L99.3 827.3L112.1 825.1L114.0 809.8L99.3 798.9L79.6 793.5L59.9 784.8L40.2 780.4Z" fill="#6a50ae" stroke="#6a50ae" stroke-width="1.5" stroke-linejoin="round"/>
<path d="M83.5 827.3L109.1 824.0L128.8 826.2L138.7 834.9L146.5 848.0L136.7 858.8L123.9 861.0L109.1 855.6L94.4 855.6L85.5 848.0Z" fill="#7a52ae" stroke="#7a52ae" stroke-width="1.5" stroke-linejoin="round"/>
<path d="M59.1 870.7L68.8 865.4L83.2 860.0L97.7 854.7L107.4 851.5L117.0 844.7L124.7 837.1L130.8 841.4L140.9 845.0L152.4 859.8L163.8 872.6L179.2 874.8L177.3 885.3L190.7 906.4L202.2 927.7L214.2 953.8L203.6 957.0L189.1 958.1L170.0 964.5L158.3 971.9L141.0 970.9L121.7 973.0L102.5 973.0L83.2 970.9L68.8 968.8L64.9 960.3L61.1 945.3L58.2 927.1L55.3 911.2L57.3 889.9L58.2 875.0Z" fill="url(#gpostn)" stroke="none" stroke-width="1.5" stroke-linejoin="round"/>
<path d="M126.8 841.4L140.6 845.8L152.4 859.9L160.3 870.8L148.5 874.1L134.7 865.4L126.8 854.5Z" fill="#8a5cb0" stroke="#8a5cb0" stroke-width="1.5" stroke-linejoin="round"/>
<path d="M156.4 871.9L168.2 870.8L180.0 872.5L181.0 880.6L176.1 887.2L166.2 887.2L158.3 880.6Z" fill="#d8688a" stroke="#d8688a" stroke-width="1.5" stroke-linejoin="round"/>
<path d="M218.7 744.0L223.5 740.8L229.3 746.1L230.3 752.5L238.0 756.8L247.6 752.5L255.3 762.1L263.0 767.5L272.6 771.7L274.6 778.1L269.7 786.6L261.1 793.1L251.4 798.4L239.8 799.5L229.3 796.2L223.5 788.8L221.5 775.0L219.7 764.3L214.8 752.5Z" fill="#5a5ab8" stroke="#5a5ab8" stroke-width="1.5" stroke-linejoin="round"/>
<path d="M236.0 718.4L239.8 705.7L247.6 696.0L258.1 688.6L271.6 688.6L275.5 695.0L272.6 704.6L268.8 714.2L264.9 723.8L267.8 732.3L261.1 726.9L250.5 729.1L242.8 722.7Z" fill="#5a5cb8" stroke="#5a5cb8" stroke-width="1.5" stroke-linejoin="round"/>
<path d="M37.3 728.1L50.1 733.6L64.8 740.1L61.9 746.7L50.1 745.6L40.2 739.0Z" fill="#9a5aa8" stroke="#9a5aa8" stroke-width="1.5" stroke-linejoin="round"/>
<path d="M254.3 853.2L263.0 838.3L272.6 825.5L284.1 820.2L296.7 818.0L313.1 821.2L327.5 826.5L342.0 838.3L346.7 857.4L347.7 876.6L344.8 887.3L332.3 895.8L327.5 906.4L313.1 907.5L298.6 912.9L284.1 916.0L271.6 918.2L264.9 925.6L255.3 923.5L241.8 925.6L234.1 918.2L224.5 914.0L213.8 908.6L216.8 903.3L228.3 906.4L241.8 908.6L255.3 906.4L259.1 894.8L255.3 878.8L254.3 868.1Z" fill="#5054b6" stroke="#5054b6" stroke-width="1.5" stroke-linejoin="round"/>
<path d="M224.5 894.8L230.3 880.9L238.9 872.4L247.6 871.3L251.4 878.8L249.5 889.5L255.3 900.0L247.6 906.4L236.0 906.4L226.3 903.3Z" fill="#a25a9e" stroke="#a25a9e" stroke-width="1.5" stroke-linejoin="round"/>
<path d="M216.8 839.4L228.3 842.5L240.8 851.0L253.3 857.4L249.5 863.9L236.0 861.7L220.6 859.6L217.7 851.0Z" fill="#5a56b4" stroke="#5a56b4" stroke-width="1.5" stroke-linejoin="round"/>
<path d="M184.9 788.0L190.8 790.2L199.7 803.3L209.5 816.4L214.4 828.3L210.5 833.8L204.6 825.1L195.7 812.0L186.9 797.9Z" fill="#6a56b0" stroke="#6a56b0" stroke-width="1.5" stroke-linejoin="round"/>
<path d="M189.8 850.1L195.7 848.0L198.7 854.5L194.8 859.9L189.8 857.8Z" fill="#5a56b4" stroke="#5a56b4" stroke-width="1.5" stroke-linejoin="round"/>
<path d="M211.5 903.5L219.4 901.3L226.2 907.9L222.3 914.4L214.4 912.2Z" fill="#5a56b4" stroke="#5a56b4" stroke-width="1.5" stroke-linejoin="round"/>
<path d="M207.5 829.4L212.5 829.4L213.5 836.0L207.5 837.1Z" fill="#d06080" stroke="#d06080" stroke-width="1.5" stroke-linejoin="round"/>
<path d="M415.8 779.6L419.8 768.9L429.9 764.7L441.0 765.8L450.0 762.5L461.2 756.2L470.3 747.6L483.4 738.0L495.5 731.7L507.6 724.2L521.7 720.0L535.9 723.1L551.0 728.4L566.2 736.0L581.3 742.3L596.4 747.6L607.9 751.0L605.8 756.4L591.4 761.4L581.3 767.9L571.2 776.3L566.2 787.0L562.1 799.9L551.0 808.3L543.9 813.7L540.9 824.3L535.9 836.0L538.9 844.6L530.8 842.4L520.7 829.7L510.6 821.2L495.5 821.2L475.3 823.3L460.2 825.4L447.1 826.4L442.0 821.1L443.0 812.6L448.1 806.2L445.0 797.7L438.0 793.4L429.9 794.5L422.8 792.3L416.7 786.0Z" fill="#5457b6" stroke="#5457b6" stroke-width="1.5" stroke-linejoin="round"/>
<path d="M417.0 786.4L437.7 792.9L444.9 797.2L448.0 805.9L442.8 812.5L441.8 821.2L446.9 826.6L461.4 825.5L482.0 823.4L495.4 821.2L497.5 805.9L482.0 795.1L461.4 789.6L440.8 780.9L420.1 776.6Z" fill="#5a54b4" stroke="#5a54b4" stroke-width="1.5" stroke-linejoin="round"/>
<path d="M465.5 823.4L492.3 820.1L513.0 822.3L523.3 831.0L531.5 844.0L521.2 854.9L507.8 857.1L492.3 851.7L476.9 851.7L467.6 844.0Z" fill="#6a54b0" stroke="#6a54b0" stroke-width="1.5" stroke-linejoin="round"/>
<path d="M439.9 866.8L450.0 861.5L465.2 856.1L480.4 850.8L490.5 847.6L500.6 840.8L508.6 833.2L515.0 837.5L525.7 841.1L537.7 855.9L549.7 868.6L565.8 870.8L563.8 881.4L577.9 902.5L589.9 923.7L602.5 949.8L591.4 953.0L576.2 954.1L556.1 960.5L543.9 967.9L525.8 966.9L505.5 969.0L485.4 969.0L465.2 966.9L450.0 964.8L446.0 956.3L442.0 941.4L439.0 923.2L435.9 907.3L438.0 885.9L439.0 871.0Z" fill="url(#gctgf)" stroke="none" stroke-width="1.5" stroke-linejoin="round"/>
<path d="M510.9 837.5L525.4 841.9L537.7 856.0L546.0 866.9L533.6 870.2L519.2 861.5L510.9 850.6Z" fill="#8a5aae" stroke="#8a5aae" stroke-width="1.5" stroke-linejoin="round"/>
<path d="M541.9 868.0L554.2 866.9L566.6 868.5L567.7 876.7L562.5 883.2L552.2 883.2L543.9 876.7Z" fill="#c85a90" stroke="#c85a90" stroke-width="1.5" stroke-linejoin="round"/>
<path d="M607.2 740.2L612.2 736.9L618.3 742.3L619.3 748.7L627.4 752.9L637.5 748.7L645.5 758.3L653.6 763.6L663.7 767.9L665.8 774.3L660.7 782.8L651.6 789.2L641.5 794.5L629.3 795.6L618.3 792.3L612.2 784.9L610.2 771.1L608.2 760.4L603.1 748.7Z" fill="#8a4eaa" stroke="#8a4eaa" stroke-width="1.5" stroke-linejoin="round"/>
<path d="M625.3 714.6L629.3 701.9L637.5 692.2L648.5 684.8L662.7 684.8L666.7 691.2L663.7 700.8L659.7 710.4L655.7 720.0L658.6 728.4L651.6 723.1L640.5 725.3L632.4 718.9Z" fill="#5a5cb8" stroke="#5a5cb8" stroke-width="1.5" stroke-linejoin="round"/>
<path d="M417.0 724.3L430.4 729.8L445.9 736.3L442.8 742.8L430.4 741.7L420.1 735.2Z" fill="#8a5aa8" stroke="#8a5aa8" stroke-width="1.5" stroke-linejoin="round"/>
<path d="M644.5 849.3L653.6 834.4L663.7 821.6L675.8 816.3L689.0 814.1L706.1 817.3L721.3 822.6L736.4 834.4L741.4 853.5L742.4 872.7L739.4 883.3L726.3 891.8L721.3 902.5L706.1 903.6L690.9 908.9L675.8 912.1L662.7 914.2L655.7 921.7L645.5 919.6L631.4 921.7L623.4 914.2L613.3 910.0L602.1 904.7L605.2 899.3L617.3 902.5L631.4 904.7L645.5 902.5L649.6 890.8L645.5 874.8L644.5 864.2Z" fill="#5054b6" stroke="#5054b6" stroke-width="1.5" stroke-linejoin="round"/>
<path d="M613.3 890.8L619.3 876.9L628.4 868.4L637.5 867.3L641.5 874.8L639.5 885.5L645.5 896.1L637.5 902.5L625.3 902.5L615.2 899.3Z" fill="#8e54a6" stroke="#8e54a6" stroke-width="1.5" stroke-linejoin="round"/>
<path d="M605.2 835.4L617.3 838.6L630.4 847.1L643.5 853.5L639.5 859.9L625.3 857.8L609.2 855.7L606.1 847.1Z" fill="#5a56b4" stroke="#5a56b4" stroke-width="1.5" stroke-linejoin="round"/>
<path d="M571.8 784.2L578.0 786.4L587.3 799.4L597.6 812.5L602.7 824.5L598.6 829.9L592.4 821.2L583.1 808.1L573.8 794.0Z" fill="#5a56b4" stroke="#5a56b4" stroke-width="1.5" stroke-linejoin="round"/>
<path d="M576.9 846.2L583.1 844.0L586.2 850.6L582.1 856.0L576.9 853.8Z" fill="#5a56b4" stroke="#5a56b4" stroke-width="1.5" stroke-linejoin="round"/>
<path d="M599.6 899.6L607.9 897.4L615.1 903.9L611.0 910.4L602.7 908.3Z" fill="#5a56b4" stroke="#5a56b4" stroke-width="1.5" stroke-linejoin="round"/>
<path d="M595.5 825.5L600.7 825.5L601.7 832.1L595.5 833.2Z" fill="#c05a90" stroke="#c05a90" stroke-width="1.5" stroke-linejoin="round"/>
<path d="M25.8 1113.9L29.6 1104.1L39.3 1100.2L49.9 1101.2L58.6 1098.2L69.2 1092.4L77.9 1084.4L90.4 1075.6L102.1 1069.8L113.6 1062.9L127.1 1059.0L140.6 1061.9L155.1 1066.8L169.6 1073.7L184.0 1079.5L198.5 1084.4L209.5 1087.5L207.5 1092.6L193.7 1097.2L184.0 1103.1L174.4 1110.9L169.6 1120.7L165.7 1132.5L155.1 1140.3L148.3 1145.2L145.5 1155.0L140.6 1165.7L143.5 1173.6L135.8 1171.6L126.1 1159.9L116.5 1152.1L102.1 1152.1L82.7 1154.0L68.2 1156.0L55.7 1156.9L50.9 1152.0L51.8 1144.2L56.7 1138.3L53.7 1130.5L47.0 1126.6L39.3 1127.6L32.5 1125.6L26.7 1119.8Z" fill="url(#gfabp4)" stroke="none" stroke-width="1.5" stroke-linejoin="round"/>
<path d="M27.0 1120.1L46.7 1126.1L53.6 1130.1L56.6 1138.1L51.6 1144.1L50.7 1152.1L55.6 1157.1L69.4 1156.1L89.1 1154.1L102.0 1152.1L103.9 1138.1L89.1 1128.1L69.4 1123.1L49.7 1115.1L29.9 1111.1Z" fill="#e67a78" stroke="#e67a78" stroke-width="1.5" stroke-linejoin="round"/>
<path d="M73.3 1154.1L99.0 1151.1L118.7 1153.1L128.6 1161.1L136.5 1173.1L126.6 1183.1L113.8 1185.1L99.0 1180.1L84.2 1180.1L75.3 1173.1Z" fill="#ec8270" stroke="#ec8270" stroke-width="1.5" stroke-linejoin="round"/>
<path d="M48.9 1194.0L58.6 1189.1L73.1 1184.2L87.6 1179.3L97.2 1176.4L106.9 1170.1L114.6 1163.1L120.7 1167.1L130.9 1170.4L142.4 1184.0L153.8 1195.7L169.2 1197.7L167.4 1207.4L180.8 1226.9L192.3 1246.4L204.3 1270.4L193.7 1273.3L179.2 1274.3L160.0 1280.2L148.3 1287.0L131.0 1286.1L111.6 1288.0L92.4 1288.0L73.1 1286.1L58.6 1284.1L54.7 1276.3L50.9 1262.6L48.0 1245.9L45.0 1231.3L47.0 1211.6L48.0 1197.9Z" fill="#5e54b2" stroke="#5e54b2" stroke-width="1.5" stroke-linejoin="round"/>
<path d="M116.7 1167.1L130.6 1171.1L142.4 1184.1L150.3 1194.1L138.4 1197.1L124.6 1189.1L116.7 1179.1Z" fill="#dc7480" stroke="#dc7480" stroke-width="1.5" stroke-linejoin="round"/>
<path d="M146.3 1195.1L158.2 1194.1L170.0 1195.6L171.0 1203.1L166.1 1209.1L156.2 1209.1L148.3 1203.1Z" fill="#6a54b0" stroke="#6a54b0" stroke-width="1.5" stroke-linejoin="round"/>
<path d="M208.8 1077.6L213.6 1074.6L219.4 1079.5L220.4 1085.4L228.1 1089.3L237.8 1085.4L245.5 1094.3L253.2 1099.2L262.8 1103.1L264.8 1109.0L260.0 1116.8L251.3 1122.7L241.6 1127.6L230.0 1128.6L219.4 1125.6L213.6 1118.8L211.6 1106.1L209.8 1096.3L204.9 1085.4Z" fill="#6c4eaa" stroke="#6c4eaa" stroke-width="1.5" stroke-linejoin="round"/>
<path d="M226.1 1054.1L230.0 1042.4L237.8 1033.5L248.3 1026.7L261.8 1026.7L265.7 1032.6L262.8 1041.4L259.0 1050.2L255.1 1059.0L258.0 1066.8L251.3 1061.9L240.6 1063.9L232.9 1058.0Z" fill="#6a4eae" stroke="#6a4eae" stroke-width="1.5" stroke-linejoin="round"/>
<path d="M27.0 1063.0L39.8 1068.0L54.6 1074.0L51.6 1080.0L39.8 1079.0L29.9 1073.0Z" fill="#7a5ab0" stroke="#7a5ab0" stroke-width="1.5" stroke-linejoin="round"/>
<path d="M244.5 1177.9L253.2 1164.2L262.8 1152.5L274.4 1147.6L287.0 1145.6L303.4 1148.5L317.9 1153.4L332.4 1164.2L337.1 1181.8L338.1 1199.4L335.2 1209.2L322.7 1217.0L317.9 1226.9L303.4 1227.9L288.9 1232.8L274.4 1235.7L261.8 1237.7L255.1 1244.5L245.5 1242.6L232.0 1244.5L224.3 1237.7L214.6 1233.8L203.9 1228.9L206.9 1224.0L218.4 1226.9L232.0 1228.9L245.5 1226.9L249.3 1216.1L245.5 1201.4L244.5 1191.6Z" fill="#5c52b2" stroke="#5c52b2" stroke-width="1.5" stroke-linejoin="round"/>
<path d="M214.6 1216.1L220.4 1203.3L229.1 1195.5L237.8 1194.5L241.6 1201.4L239.7 1211.2L245.5 1220.9L237.8 1226.9L226.1 1226.9L216.5 1224.0Z" fill="#6a52b0" stroke="#6a52b0" stroke-width="1.5" stroke-linejoin="round"/>
<path d="M206.9 1165.2L218.4 1168.1L231.0 1175.9L243.5 1181.8L239.7 1187.7L226.1 1185.7L210.8 1183.8L207.8 1175.9Z" fill="#5e56b2" stroke="#5e56b2" stroke-width="1.5" stroke-linejoin="round"/>
<path d="M174.9 1118.1L180.9 1120.1L189.7 1132.1L199.6 1144.1L204.5 1155.1L200.6 1160.1L194.7 1152.1L185.8 1140.1L176.9 1127.1Z" fill="#e87a70" stroke="#e87a70" stroke-width="1.5" stroke-linejoin="round"/>
<path d="M179.9 1175.1L185.8 1173.1L188.8 1179.1L184.8 1184.1L179.9 1182.1Z" fill="#5a56b4" stroke="#5a56b4" stroke-width="1.5" stroke-linejoin="round"/>
<path d="M201.6 1224.2L209.5 1222.1L216.4 1228.2L212.4 1234.2L204.5 1232.2Z" fill="#5a56b4" stroke="#5a56b4" stroke-width="1.5" stroke-linejoin="round"/>
<path d="M197.6 1156.1L202.6 1156.1L203.6 1162.1L197.6 1163.1Z" fill="#6a54b0" stroke="#6a54b0" stroke-width="1.5" stroke-linejoin="round"/>
<path d="M408.1 1115.1L412.0 1105.4L421.8 1101.5L432.6 1102.5L441.4 1099.5L452.2 1093.8L461.0 1085.9L473.7 1077.2L485.6 1071.4L497.3 1064.6L511.0 1060.7L524.8 1063.6L539.5 1068.4L554.2 1075.3L568.9 1081.1L583.6 1085.9L594.7 1089.0L592.7 1094.0L578.7 1098.5L568.9 1104.4L559.0 1112.2L554.2 1121.9L550.2 1133.6L539.5 1141.4L532.6 1146.2L529.7 1156.0L524.8 1166.6L527.7 1174.4L519.8 1172.5L510.0 1160.8L500.2 1153.1L485.6 1153.1L465.9 1155.0L451.2 1157.0L438.5 1157.9L433.6 1153.0L434.6 1145.2L439.5 1139.4L436.5 1131.6L429.6 1127.8L421.8 1128.7L414.9 1126.8L409.0 1121.0Z" fill="#5457b6" stroke="#5457b6" stroke-width="1.5" stroke-linejoin="round"/>
<path d="M409.3 1121.3L429.3 1127.3L436.4 1131.2L439.4 1139.2L434.4 1145.1L433.4 1153.1L438.4 1158.1L452.4 1157.1L472.4 1155.1L485.5 1153.1L487.5 1139.2L472.4 1129.2L452.4 1124.3L432.4 1116.3L412.3 1112.4Z" fill="#5457b6" stroke="#5457b6" stroke-width="1.5" stroke-linejoin="round"/>
<path d="M456.4 1155.1L482.5 1152.1L502.5 1154.1L512.5 1162.0L520.5 1173.9L510.5 1183.9L497.5 1185.9L482.5 1180.9L467.4 1180.9L458.4 1173.9Z" fill="#5a56b4" stroke="#5a56b4" stroke-width="1.5" stroke-linejoin="round"/>
<path d="M431.6 1194.7L441.4 1189.8L456.1 1185.0L470.8 1180.1L480.7 1177.2L490.5 1171.0L498.3 1164.0L504.5 1168.0L514.8 1171.3L526.6 1184.8L538.2 1196.4L553.8 1198.4L551.9 1208.0L565.5 1227.3L577.3 1246.7L589.5 1270.5L578.7 1273.4L563.9 1274.4L544.4 1280.3L532.6 1287.0L514.9 1286.1L495.3 1288.0L475.7 1288.0L456.1 1286.1L441.4 1284.1L437.5 1276.4L433.6 1262.8L430.6 1246.2L427.6 1231.7L429.6 1212.2L430.6 1198.6Z" fill="#5256b6" stroke="#5256b6" stroke-width="1.5" stroke-linejoin="round"/>
<path d="M500.5 1168.0L514.5 1172.0L526.6 1184.9L534.6 1194.8L522.6 1197.8L508.5 1189.8L500.5 1179.9Z" fill="#6a62b8" stroke="#6a62b8" stroke-width="1.5" stroke-linejoin="round"/>
<path d="M530.6 1195.8L542.6 1194.8L554.6 1196.3L555.6 1203.8L550.6 1209.7L540.6 1209.7L532.6 1203.8Z" fill="#5a56b4" stroke="#5a56b4" stroke-width="1.5" stroke-linejoin="round"/>
<path d="M594.0 1079.2L598.9 1076.2L604.8 1081.1L605.8 1086.9L613.7 1090.8L623.5 1086.9L631.3 1095.7L639.1 1100.5L648.9 1104.4L650.9 1110.3L646.0 1118.0L637.2 1123.9L627.4 1128.7L615.6 1129.7L604.8 1126.8L598.9 1120.0L596.9 1107.4L595.0 1097.6L590.1 1086.9Z" fill="#5858b6" stroke="#5858b6" stroke-width="1.5" stroke-linejoin="round"/>
<path d="M611.6 1055.8L615.6 1044.2L623.5 1035.4L634.2 1028.6L647.9 1028.6L651.8 1034.5L648.9 1043.2L645.0 1051.9L641.1 1060.7L644.0 1068.4L637.2 1063.6L626.4 1065.6L618.6 1059.7Z" fill="#5a5cb8" stroke="#5a5cb8" stroke-width="1.5" stroke-linejoin="round"/>
<path d="M409.3 1064.7L422.3 1069.6L437.4 1075.6L434.4 1081.6L422.3 1080.6L412.3 1074.6Z" fill="#5a5cb8" stroke="#5a5cb8" stroke-width="1.5" stroke-linejoin="round"/>
<path d="M630.3 1178.7L639.1 1165.1L648.9 1153.5L660.7 1148.6L673.5 1146.6L690.1 1149.5L704.9 1154.4L719.6 1165.1L724.4 1182.6L725.4 1200.1L722.5 1209.8L709.8 1217.6L704.9 1227.3L690.1 1228.3L675.4 1233.2L660.7 1236.0L647.9 1238.0L641.1 1244.8L631.3 1242.9L617.6 1244.8L609.7 1238.0L599.9 1234.2L589.1 1229.3L592.1 1224.4L603.8 1227.3L617.6 1229.3L631.3 1227.3L635.2 1216.7L631.3 1202.1L630.3 1192.3Z" fill="#f0905a" stroke="#f0905a" stroke-width="1.5" stroke-linejoin="round"/>
<path d="M599.9 1216.7L605.8 1204.0L614.7 1196.2L623.5 1195.2L627.4 1202.1L625.4 1211.8L631.3 1221.4L623.5 1227.3L611.6 1227.3L601.8 1224.4Z" fill="#ea7c76" stroke="#ea7c76" stroke-width="1.5" stroke-linejoin="round"/>
<path d="M592.1 1166.1L603.8 1169.0L616.6 1176.7L629.3 1182.6L625.4 1188.5L611.6 1186.5L596.0 1184.6L593.0 1176.7Z" fill="#de6a80" stroke="#de6a80" stroke-width="1.5" stroke-linejoin="round"/>
<path d="M559.6 1119.3L565.6 1121.3L574.7 1133.2L584.7 1145.1L589.7 1156.1L585.7 1161.0L579.7 1153.1L570.7 1141.2L561.6 1128.2Z" fill="#5a56b4" stroke="#5a56b4" stroke-width="1.5" stroke-linejoin="round"/>
<path d="M564.6 1175.9L570.7 1173.9L573.7 1179.9L569.7 1184.9L564.6 1182.9Z" fill="#5a56b4" stroke="#5a56b4" stroke-width="1.5" stroke-linejoin="round"/>
<path d="M586.7 1224.6L594.7 1222.6L601.7 1228.6L597.7 1234.6L589.7 1232.6Z" fill="#a04e9c" stroke="#a04e9c" stroke-width="1.5" stroke-linejoin="round"/>
<path d="M582.7 1157.1L587.7 1157.1L588.7 1163.0L582.7 1164.0Z" fill="#5a56b4" stroke="#5a56b4" stroke-width="1.5" stroke-linejoin="round"/>
<path transform="scale(0.5)" d="M284 777h0m9-3h0m4 4h0m11-6h0m9-4h0m0-2h0m6-2h0m9 4h0m8-5h0m11 4h0m15 9h0m2 0h0m18-1h0m-126 20h0m9-10h0m4 2h0m2 3h0m4 7h0m8-16h0m79 0h0m11 0h0m10 2h0m7 2h0m6-2h0m21 10h0m1-5h0m2 7h0m5 4h0m-214 20h0m8-3h0m12-12h0m5 4h0m6-3h0m201 0h0m3 1h0m2-5h0m4 7h0m5 4h0m2 0h0m9 6h0m13-4h0m-307 23h0m14-6h0m4 1h0m2 4h0m3-9h0m14-7h0m258 1h0m2 17h0m8-9h0m3-2h0m-371 28h0m2-8h0m7 9h0m1-10h0m16 5h0m3 0h0m5-4h0m5-6h0m5 4h0m9-2h0m4 0h0m275 10h0m0 1h0m14-7h0m17-4h0m-382 31h0m4 0h0m1 2h0m332 0h0m4-4h0m14-11h0m-360 31h0m0-11h0m13 17h0m306-4h0m4-4h0m1 4h0m6-11h0m1-2h0m2 4h0m-312 23h0m3-1h0m3 2h0m7 4h0m8 6h0m20-1h0m5-1h0m245 1h0m4-8h0m-258 16h0m4-6h0m4 16h0m229 2h0m7-15h0m0-3h0m4 0h0m-244 20h0m1 0h0m194 15h0m10-6h0m6-7h0m12-1h0m0 3h0m-237 18h0m3 6h0m11 4h0m5 4h0m3 1h0m4 0h0m35 0h0m146-14h0m5 0h0m0 12h0m0 2h0m-183 3h0m22 2h0m8 1h0m9 15h0m2-1h0m1-13h0m148 0h0m-142 21h0m4 9h0m8-2h0m1 3h0m1 0h0m121-9h0m2-4h0m4 6h0m8-4h0m-130 16h0m4 6h0m21 10h0m3-5h0m72 2h0m3-4h0m9-5h0m-71 16h0m1 4h0m6-1h0m1 1h0m2-1h0m9 7h0m13 3h0m11-3h0m11-8h0m4 2h0m-23 16h0" stroke="#a9ba46" stroke-width="4.4" stroke-linecap="round" fill="none"/>
<path transform="scale(0.5)" d="M163 1038h0m4-4h0m9-3h0m12 4h0m1 3h0m10-8h0m0-6h0m3 11h0m11 2h0m17-8h0m3 9h0m6-2h0m3-3h0m12 6h0m-115 20h0m6-6h0m3-2h0m19-6h0m88 3h0m14-1h0m10 1h0m1 6h0m2-1h0m-148 19h0m12-11h0m144 3h0m5-3h0m10 1h0m4 10h0m7 5h0m1-4h0m7 5h0m-195 15h0m0 4h0m4-1h0m1-14h0m1 3h0m4-4h0m187 1h0m10 3h0m3 2h0m15-1h0m9-6h0m10 7h0m0 2h0m4-2h0m0 0h0m16 11h0m0-8h0m-266 13h0m6 10h0m272 4h0m7-9h0m5-5h0m-281 25h0m0 10h0m276-8h0m7 6h0m4-9h0m-285 13h0m1 8h0m2-3h0m290 4h0m4 4h0m4-6h0m-307 13h0m5 9h0m303-8h0m7 11h0m1-10h0m8 10h0m-322 15h0m10 9h0m3-12h0m2-2h0m316-2h0m7 17h0m1 2h0m5 0h0m-329 15h0m1-13h0m0 6h0m317-3h0m8 12h0m3-3h0m-313 13h0m3 5h0m0 0h0m9 8h0m6-4h0m6-3h0m4 5h0m4-5h0m18 5h0m19 2h0m28-6h0m89 6h0m20-1h0m6 0h0m7-3h0m28-1h0m6 3h0m6-9h0m7 4h0m0 5h0m2-5h0m18-3h0m6 3h0m7-6h0m0 2h0m7-3h0m-271 22h0m21 10h0m1-14h0m19 4h0m1 0h0m21 5h0m7 0h0m1-2h0m22-2h0m2-5h0m9 11h0m1-8h0m1-1h0m2-2h0m1 4h0m1-2h0m33-1h0m18 3h0m25-2h0m3-5h0m22 1h0" stroke="#f4877f" stroke-width="4.4" stroke-linecap="round" fill="none"/>
<path transform="scale(0.5)" d="M588 696h0m0-4h0m13 4h0m18-4h0m-61 27h0m3-10h0m9-3h0m5-6h0m2 9h0m30-8h0m20 6h0m2 6h0m4 0h0m1 5h0m-85 15h0m0-3h0m9-5h0m65 14h0m4-13h0m-84 24h0m5-7h0m50 14h0m14-2h0m2-15h0m3 0h0m-60 20h0m4 6h0m0-2h0m1 4h0m3 4h0m17 2h0m3-3h0m4-2h0m7-7h0" stroke="#a8baf0" stroke-width="4.4" stroke-linecap="round" fill="none"/>
<path transform="scale(0.5)" d="M514 795h0m4 2h0m-25 15h0m5 2h0m5-4h0m3-7h0m13 16h0m9-15h0m0 12h0m15 0h0m-59 11h0m7-2h0m2 5h0m28-9h0m3 3h0m20 2h0m6-3h0m4 12h0m18-11h0m5 5h0m8 6h0m8 4h0m-97 12h0m3-6h0m6 7h0m73-11h0m24 2h0m4 9h0m6-2h0m-96 21h0m95 6h0m11-13h0m0 8h0m0-7h0m1-3h0m-110 25h0m0 3h0m2-5h0m0-5h0m1 1h0m4 13h0m70 5h0m12-7h0m7-9h0m10 1h0m-87 27h0m10-7h0m5 12h0m7-12h0m4 14h0m4-12h0m5 6h0m11-9h0m1-3h0m18 2h0" stroke="#48c3a6" stroke-width="4.4" stroke-linecap="round" fill="none"/>
<path transform="scale(0.5)" d="M645 952h0m2 1h0m1 1h0m8-5h0m9 3h0m3 7h0m3-5h0m11 0h0m9-1h0m11 1h0m8-4h0m1 3h0m7-1h0m3 2h0m18 1h0m-122 16h0m1-5h0m8 1h0m1-7h0m5 5h0m101-4h0m17-1h0m8 3h0m1 6h0m-166 17h0m3-4h0m2 16h0m5-12h0m159-6h0m8 9h0m3-9h0m-185 34h0m1-9h0m188-3h0m3-1h0m2 2h0m4-1h0m2 17h0m-224 16h0m6 1h0m9-3h0m206-2h0m1 8h0m3-2h0m-237 21h0m3-1h0m5-13h0m5 2h0m10-6h0m209 9h0m6 9h0m-260 19h0m5 0h0m2-10h0m12-6h0m231 13h0m8-2h0m3-9h0m-267 27h0m3-2h0m12-8h0m233 19h0m3-3h0m6-10h0m-256 22h0m4-8h0m5 14h0m12 5h0m221-7h0m7-6h0m2 2h0m-239 20h0m10 6h0m4-5h0m5 7h0m94-3h0m13 0h0m0-2h0m7 7h0m7-11h0m1 1h0m2 2h0m13 4h0m0-13h0m14 3h0m11-1h0m2 2h0m11-5h0m1 8h0m6-7h0m2-1h0m2 0h0m2 0h0m-176 27h0m5 6h0m4 5h0m49-8h0m15-4h0m0-3h0m5 5h0m-70 12h0m24 8h0m3 0h0m1 1h0m0-6h0m9 1h0m12-3h0m5-1h0" stroke="#dba843" stroke-width="4.4" stroke-linecap="round" fill="none"/>
<path transform="scale(0.5)" d="M429 887h0m2 5h0m6-6h0m4 7h0m-11 9h0m0-2h0m6 8h0m0 1h0m3 8h0m3-2h0m7-15h0m12 8h0m-13 16h0m11 9h0m2-11h0m1 11h0m4-8h0m9-1h0m1 12h0m6 2h0m-26 4h0m21-2h0m1 1h0" stroke="#3cbde6" stroke-width="4.4" stroke-linecap="round" fill="none"/>
<path transform="scale(0.5)" d="M448 932h0m4-4h0m4-6h0m15 5h0m0-1h0m-16 16h0m5 1h0m1 4h0m9 1h0m4 2h0m3 1h0m1-11h0" stroke="#22b4e4" stroke-width="4.4" stroke-linecap="round" fill="none"/>
<path transform="scale(0.5)" d="M471 969h0m3-4h0m7 10h0m1-13h0m7 17h0m11-3h0m-14 15h0m7 8h0m4-13h0m8-2h0m4 14h0m9-2h0m10 1h0m6 0h0m-49 4h0m13 0h0m2 8h0m7 7h0m4 0h0m29-13h0m5 2h0m2 3h0m8 0h0m2 4h0m5 6h0m0 1h0m1-7h0m-44 13h0m15 7h0m2-3h0m2 7h0m2 1h0m9-5h0m2-2h0m13 6h0m1-13h0" stroke="#40bfe6" stroke-width="4.4" stroke-linecap="round" fill="none"/>
<path transform="scale(0.5)" d="M443 1010h0m5 5h0m4 1h0m9-7h0m-17 14h0m1-1h0m1 3h0m7-2h0m50 88h0m1 6h0m8-1h0m-21 8h0m3-3h0m0 14h0m3-3h0m1-1h0m6 4h0m4-13h0m0 7h0m4-6h0" stroke="#30b8e4" stroke-width="4.4" stroke-linecap="round" fill="none"/>
<path transform="scale(0.5)" d="M463 1056h0m5-3h0m3-3h0m2 8h0m4 0h0m-7 5h0m1-1h0m0 6h0m1-5h0m1 14h0m5-17h0m5 13h0m8-2h0m-15 9h0m5 2h0m2 2h0m1-3h0m2 15h0m4-9h0m-2 13h0m12 8h0m2-7h0m1 10h0" stroke="#70cce8" stroke-width="4.4" stroke-linecap="round" fill="none"/>
<path transform="scale(0.5)" d="M389 1051h0m13-1h0m4 9h0m-26 11h0m1 6h0m4-10h0m0 10h0m1-5h0m20-9h0m0 14h0m3-14h0m10 11h0m-13 7h0" stroke="#cc92ea" stroke-width="4.4" stroke-linecap="round" fill="none"/>
<path transform="scale(0.5)" d="M114 779h0m-17 2h0m9 1h0m0 14h0m4-9h0m3-2h0m12 3h0m0-2h0m14 6h0m3-4h0m4 4h0m-48 8h0m12 1h0m3 1h0m21 3h0m5-2h0m4-2h0m5 1h0m3-2h0" stroke="#f08cc8" stroke-width="4.4" stroke-linecap="round" fill="none"/>
<path transform="scale(0.5)" d="M110 807h0m0-6h0m2 0h0m1 16h0m5-15h0m0 9h0m15 1h0m1-8h0m0 11h0m-23 8h0m12 4h0m3 6h0m4-5h0" stroke="#fadcee" stroke-width="4.4" stroke-linecap="round" fill="none"/>
<path transform="scale(0.5)" d="M1027 759h0m25-5h0m4 1h0m4-10h0m6 7h0m8 4h0m1-3h0m16 6h0m4-9h0m-99 25h0m13-12h0m0 9h0m2-1h0m20-9h0m5 2h0m58-1h0m6 3h0m11-2h0m10 1h0m6 3h0m2 4h0m12 6h0m-170 15h0m4-4h0m3 5h0m2-6h0m1 1h0m3-5h0m7-1h0m18-1h0m133 0h0m12 2h0m8 4h0m1-2h0m2-1h0m4 1h0m7 12h0m6-5h0m13 5h0m2 1h0m-253 18h0m1-3h0m4-6h0m248 1h0m6-7h0m11 4h0m9 4h0m-359 24h0m9 1h0m1 1h0m5-1h0m8-6h0m0 6h0m19 2h0m4-3h0m4-4h0m8-1h0m2-5h0m6 1h0m6-2h0m229 16h0m7 0h0m17-13h0m1 1h0m2 0h0m12 3h0m7-8h0m5-2h0m6 0h0m-369 29h0m7-2h0m2-1h0m286 8h0m8-11h0m6 15h0m17-18h0m-329 32h0m294-10h0m0 4h0m-292 14h0m14 2h0m1 3h0m10 7h0m5-4h0m9-7h0m7 6h0m7 9h0m10-1h0m222-1h0m1-2h0m0-8h0m10-3h0m-242 36h0m6-16h0m1 10h0m204-4h0m3 3h0m0-2h0m1-1h0m-216 20h0m1 10h0m0-1h0m71 2h0m12 1h0m9-1h0m12 0h0m15-3h0m0-1h0m7-2h0m66-1h0m3-7h0m0 9h0m2-10h0m-193 22h0m3 4h0m0-2h0m1 2h0m16-6h0m13 0h0m1 7h0m5-10h0m9 9h0m17-9h0m17 1h0m7 2h0m33 1h0m3-1h0m9-3h0m7 11h0m5 6h0m2 0h0m2-2h0m25 1h0m3 1h0m3-15h0m0 7h0m-25 26h0m2-12h0m18 3h0m2 4h0m-7 12h0m7 0h0m-28 456h0m-822 20h0m11-5h0m9-4h0m1 3h0m14 0h0m3 4h0m6-7h0m1-3h0m14 11h0m9 1h0m2-1h0m692-7h0m13-3h0m0 5h0m2 0h0m5-11h0m6 6h0m1 0h0m12-4h0m6-2h0m15 3h0m9 1h0m5-2h0m1 5h0m13 6h0m9 4h0m0-8h0m-887 27h0m5 0h0m9-6h0m15-10h0m1 5h0m3-5h0m74-1h0m3 5h0m10-5h0m7 11h0m14 2h0m6 2h0m1-3h0m1 6h0m593 0h0m20-2h0m13-8h0m5 3h0m1-7h0m115 2h0m7-2h0m2 0h0m0 1h0m2 1h0m23 10h0m0 3h0m3-6h0m-969 25h0m3 1h0m3-10h0m5 3h0m16-6h0m6-6h0m154 3h0m7 5h0m8 1h0m7 6h0m0-7h0m4 9h0m2-2h0m2-4h0m7 0h0m547 1h0m2 0h0m2-2h0m7-7h0m194 3h0m9-1h0m14-2h0m1 12h0m2-10h0m14 9h0m2 1h0m8 4h0m3-6h0m5 2h0m-1046 22h0m4-8h0m5 3h0m4-3h0m241-6h0m3 1h0m4 1h0m9 14h0m2-10h0m2 2h0m469 8h0m11-7h0m11-6h0m1 1h0m0-3h0m4 8h0m259 2h0m7 4h0m8-3h0m3 4h0m0-8h0m6 1h0m-1120 21h0m11 5h0m6 1h0m8 0h0m8-7h0m3 2h0m2-6h0m1-2h0m8 4h0m3 2h0m16-7h0m242 5h0m5 5h0m1-10h0m2 12h0m1-4h0m3-6h0m422 11h0m2 0h0m9-5h0m1 2h0m9-7h0m2 3h0m1 0h0m14 1h0m12-3h0m3-4h0m3 4h0m14-9h0m10 0h0m245 12h0m11-1h0m6-1h0m-1104 26h0m1-1h0m15-10h0m6-3h0m270 15h0m14-4h0m7-8h0m444 13h0m303-1h0m2-6h0m11-1h0m3-4h0m3 8h0m2-10h0m-1089 24h0m3 4h0m4-10h0m292 4h0m0 1h0m2 2h0m5-5h0m453 0h0m4-4h0m1 15h0m14 1h0m282 2h0m12-16h0m-1068 28h0m2-9h0m15 11h0m8 5h0m7-7h0m2 8h0m11-2h0m235 0h0m5-10h0m3-2h0m0-1h0m486 5h0m13 1h0m10-2h0m4 0h0m9 4h0m0-3h0m15 8h0m232 2h0m8-13h0m0-5h0m-1009 24h0m4 12h0m220-1h0m4-2h0m536 5h0m1-9h0m3-2h0m216-3h0m1 3h0m4-6h0m0 9h0m-995 27h0m8-17h0m3 0h0m1 8h0m181 6h0m4 2h0m5-12h0m10 1h0m3-3h0m548 6h0m5-7h0m92 17h0m101-1h0m6-8h0m0 0h0m6-1h0m6-8h0m-974 39h0m1-1h0m0-17h0m9 14h0m16 1h0m15-1h0m10-3h0m1 1h0m10 3h0m2-4h0m3-6h0m1-1h0m4 8h0m25-6h0m13 1h0m3-1h0m0-2h0m6 11h0m8-5h0m7 7h0m2-8h0m50 1h0m4-9h0m566 4h0m6-6h0m3 8h0m16 7h0m0 0h0m6 3h0m7-5h0m6-1h0m4-1h0m9 8h0m3-9h0m0 3h0m11-5h0m16 2h0m3-9h0m4 1h0m14-1h0m4 5h0m0-1h0m4 0h0m8-3h0m4 0h0m15-1h0m10 9h0m2-3h0m1 8h0m37-3h0m6 3h0m-949 6h0m14 2h0m12-1h0m115 2h0m3 13h0m2 2h0m2-4h0m22-15h0m1 11h0m1-10h0m4 7h0m734 4h0m2-8h0m11 11h0m16 0h0m6-14h0m4 1h0m-795 19h0m4 3h0m4 13h0m2-14h0m4 0h0m2-3h0m3 18h0m756-17h0m1 1h0m4 4h0m4 6h0m3-11h0m3 6h0m-50 424h0m-41 26h0m4-2h0m1-4h0m12-5h0m1-4h0m1 7h0m16-3h0m8-5h0m16 8h0m2-2h0m6-3h0m3 3h0m0 4h0m15 6h0m1 1h0m-122 9h0m3 1h0m3 8h0m1-5h0m24-10h0m108-1h0m5 0h0m3 2h0m3 2h0m8 4h0m8 8h0m10 2h0m5-5h0m-215 21h0m8-2h0m4 5h0m2-8h0m1 3h0m8-11h0m197 5h0m1-5h0m3 1h0m4 2h0m3-4h0m14 16h0m0-2h0m9-6h0m6 3h0m12 7h0m-338 20h0m33-1h0m0 1h0m4-9h0m6 0h0m7 6h0m6-11h0m3 0h0m250 9h0m6 3h0m18-10h0m3 6h0m3-4h0m-369 28h0m5-8h0m6 2h0m4-5h0m10-3h0m15 6h0m6-7h0m6 1h0m246 15h0m4 2h0m8-9h0m11-5h0m10 1h0m6 0h0m-348 17h0m9 7h0m1 9h0m293-1h0m4-9h0m2 0h0m7-7h0m-303 20h0m6 4h0m3 10h0m4-3h0m15 4h0m21-1h0m5 3h0m227-7h0m5 0h0m4-6h0m-258 14h0m21 13h0m7 5h0m203-5h0m3-2h0m11-4h0m6 1h0m-236 29h0m4-15h0m2 3h0m202 6h0m1-9h0m13 0h0m-222 19h0m2 9h0m2 0h0m12 5h0m4 1h0m9-4h0m4 5h0m5-9h0m7 5h0m17-7h0m3 12h0m2-6h0m2 5h0m5-8h0m2 2h0m6 0h0m13-6h0m16-3h0m14-2h0m3 6h0m1-5h0m5 15h0m2-14h0m1 5h0m9 8h0m40 2h0m6-15h0m1 9h0m1-1h0m-29 17h0m17 1h0m1 7h0m6-12h0m-30 19h0m9-1h0m0 7h0m3-6h0m8 5h0m7-2h0m1 2h0" stroke="#5457b6" stroke-width="4.4" stroke-linecap="round" fill="none"/>
<path transform="scale(0.5)" d="M1042 957h0m-33 22h0m0-3h0m8 3h0m6-10h0m4-9h0m4 12h0m5-7h0m11 1h0m1 4h0m3 2h0m16 4h0m3-3h0m-120 25h0m17-3h0m4-1h0m5-9h0m11 6h0m3 1h0m81-12h0m10 13h0m1 6h0m-175 18h0m6-2h0m2-1h0m7 0h0m3-7h0m2 1h0m10-5h0m1 3h0m22-4h0m5-1h0m133 10h0m-204 25h0m5-8h0m201-7h0m6 4h0m1-3h0m3 3h0m3-2h0m4 4h0m2-6h0m2 5h0m17 10h0m1-8h0m2 4h0m6 6h0m-258 18h0m2 3h0m2-5h0m3-5h0m242 2h0m-249 25h0m8-10h0m252 7h0m2-5h0m4 6h0m6 5h0m-274 11h0m6-9h0m2 5h0m265-5h0m8-1h0m4 19h0m-282 10h0m2 5h0m0-4h0m4 3h0m279-13h0m0 0h0m1 12h0m3-1h0m4 7h0m4-5h0m-292 21h0m301 5h0m7-2h0m-309 3h0m3 9h0m6 0h0m2-3h0m290-6h0m12 19h0m3-6h0m0 6h0m-309 9h0m7 5h0m1-5h0m265 6h0m15 4h0m6 1h0m7-2h0m2-2h0m4-11h0m1-3h0m-305 26h0m13 9h0m1-6h0m2 7h0m186 1h0m10 1h0m8-4h0m1-8h0m6 9h0m10-2h0m3-4h0m4-4h0m10 3h0m18-4h0m12-3h0m-253 29h0m1-10h0m1 6h0m36 2h0m1 1h0m5 4h0m2-2h0m0 1h0m1-9h0m10 3h0m1 1h0m6 3h0m1-4h0m9 0h0m13-1h0m15 4h0m5 5h0m15-3h0m2-4h0m1-1h0m4 7h0m1-5h0m3-3h0m23 1h0m2-1h0m12-6h0m-60 20h0" stroke="#f08a5a" stroke-width="4.4" stroke-linecap="round" fill="none"/>
<path transform="scale(0.5)" d="M1215 792h0m5 2h0m3-12h0m18 8h0m4-4h0m-29 31h0m5 2h0m6-9h0m17-7h0m13 13h0m4-9h0m3 2h0m6 3h0m12-5h0m9 11h0m3 1h0m2-1h0m-69 12h0m68-4h0m1 3h0m8-6h0m14 9h0m5 4h0m7-1h0m-106 9h0m2 10h0m2-9h0m102 6h0m3 7h0m0-1h0m5-7h0m4-1h0m-119 18h0m4 1h0m6 9h0m5-10h0m2 8h0m2 3h0m70 0h0m2-2h0m9-8h0m-77 17h0m3 4h0m12-2h0m9 7h0m12-3h0m2-5h0m9 8h0m5-5h0m2-7h0" stroke="#b8529e" stroke-width="4.4" stroke-linecap="round" fill="none"/>
<path transform="scale(0.5)" d="M1286 698h0m18-8h0m1 4h0m6-7h0m13-6h0m4 1h0m2 8h0m2 0h0m-64 25h0m9-11h0m3 0h0m5-1h0m5-2h0m41 13h0m8-2h0m0-10h0m-83 26h0m5 11h0m2 0h0m2-14h0m1-3h0m54 5h0m5 8h0m3-14h0m3 11h0m-71 15h0m15 4h0m7 6h0m9 1h0m13-1h0m11-3h0m2-1h0m0 6h0m1-17h0m2 3h0m2 10h0m-39 10h0m5-2h0m-766 615h0m17-5h0m6 6h0m737-3h0m4-2h0m19-2h0m9 2h0m1 4h0m10-13h0m3 9h0m0 1h0m-838 19h0m3-8h0m14-5h0m2 8h0m3-1h0m8-4h0m8-3h0m12 8h0m1-9h0m7 16h0m714-1h0m7-10h0m2 12h0m4-7h0m4-3h0m6-7h0m43 17h0m3-1h0m4-10h0m-846 20h0m1 6h0m3-12h0m47 14h0m4-2h0m5-7h0m703 2h0m3 9h0m2-11h0m1 10h0m57-8h0m3 1h0m12-3h0m-860 30h0m0-12h0m2 8h0m2 3h0m4 3h0m61-7h0m5-4h0m712 4h0m55 7h0m1-15h0m3 9h0m-844 11h0m13 14h0m6-6h0m3-1h0m10 10h0m4-11h0m14 11h0m6-17h0m2 9h0m2-4h0m2 10h0m5-9h0m723-4h0m8 2h0m3-4h0m2 10h0m7-6h0m3 2h0m1 6h0m21-2h0m4 6h0m2-4h0m1 3h0m4-1h0m-791 7h0m734 596h0m4-2h0m23-2h0m8 3h0m-51 20h0m2-10h0m12-7h0m11 1h0m16 0h0m10 10h0m3 5h0m3-5h0m4-12h0m-80 33h0m1 0h0m4-3h0m4 0h0m5-8h0m51 4h0m7 10h0m3-3h0m2-6h0m-81 23h0m8 3h0m3 1h0m14 5h0m36-7h0m3 2h0m1 2h0m-474 20h0m9-3h0m2-1h0m8-3h0m10 5h0m411-3h0m5-7h0m1 11h0m1-4h0m15-8h0m4 1h0m3 8h0m5-9h0m0 13h0m-461 9h0m1 7h0m2 2h0m1-10h0m12 6h0m12-5h0m0-2h0m9 7h0m1 0h0m5 3h0m5-6h0m2 8h0m-25 5h0m5 7h0m6-7h0m2 2h0" stroke="#5a5cb8" stroke-width="4.4" stroke-linecap="round" fill="none"/>
<path transform="scale(0.5)" d="M857 761h0m0 12h0m2-7h0m7-3h0m1 9h0m9-5h0m0 4h0m2-6h0m3 3h0m8 4h0m3 0h0m9 6h0m-36 2h0m3 5h0m12 8h0m8 0h0m7-4h0m1-6h0m8 2h0m0 4h0m3 0h0" stroke="#6a5cb8" stroke-width="4.4" stroke-linecap="round" fill="none"/>
<path transform="scale(0.5)" d="M1333 939h0m6-3h0m1-5h0m28-5h0m6 2h0m2-7h0m3 3h0m8 3h0m15 3h0m5-2h0m2 5h0m3-1h0m6 1h0m20 2h0m5 4h0m-126 1h0m0 13h0m2 6h0m13-16h0m10-3h0m80 2h0m16-1h0m10 8h0m3 2h0m4 3h0m7-2h0m9 1h0m-171 21h0m6 1h0m3-2h0m0-3h0m8-10h0m150 3h0m12 13h0m4-2h0m-188 6h0m6 13h0m171-13h0m3 12h0m3-11h0m5 11h0m-192 25h0m1-9h0m12-1h0m178-5h0m-190 23h0m5-4h0m0-1h0m2 17h0m4 2h0m180-12h0m0 2h0m1-8h0m2 11h0m-189 27h0m5-8h0m160 8h0m12-10h0m4 8h0m4-7h0m5 2h0m-188 23h0m8-12h0m147 4h0m20-4h0m-261 22h0m5 14h0m1-5h0m1-14h0m2 0h0m1 2h0m7 2h0m15 2h0m2 0h0m9 0h0m7 6h0m8-2h0m13-5h0m9 0h0m1-4h0m1 0h0m1 7h0m96 10h0m12-8h0m1 3h0m6-4h0m7 5h0m7-7h0m2 1h0m14-6h0m1 6h0m6-6h0m1 5h0m-219 13h0m9 5h0m0 3h0m14-1h0m12 12h0m0 0h0m1-2h0m47-7h0m2 9h0m22-11h0m1 4h0m10-2h0m1-10h0m18 5h0m9-5h0m6 3h0m0-3h0m12 1h0m-120 29h0m2-9h0m7 4h0m10-3h0m13 0h0m5 1h0m4-1h0m11-2h0m-759 519h0m1-2h0m6-1h0m15-3h0m1-3h0m14 5h0m731 3h0m9-1h0m9-8h0m13-2h0m5 5h0m2 0h0m28-6h0m1 8h0m5-3h0m1-4h0m1 9h0m7 3h0m2-3h0m1-2h0m5 2h0m-893 22h0m23-11h0m7-3h0m7-1h0m27-3h0m13 2h0m8 0h0m7 0h0m9 7h0m11 2h0m0-4h0m4 3h0m3-1h0m12 10h0m649-11h0m7 4h0m2 2h0m7-10h0m3-4h0m4 5h0m81-5h0m35 16h0m5 3h0m0-6h0m-928 13h0m3 6h0m9-9h0m2-2h0m121 8h0m5-4h0m2-3h0m1-1h0m12 17h0m620 1h0m1-5h0m3-4h0m9-7h0m133-1h0m19 3h0m6 3h0m0 1h0m-961 24h0m8 5h0m1-12h0m161-1h0m3 7h0m0-7h0m8 10h0m598-3h0m2 0h0m186-5h0m3 10h0m2-10h0m-977 21h0m1-6h0m1 6h0m2-5h0m177 13h0m3-3h0m1 3h0m3-11h0m1 10h0m591 2h0m1-3h0m1-4h0m2 3h0m191-12h0m0 13h0m4-10h0m0 6h0m-983 18h0m7 2h0m183 8h0m1-16h0m600 9h0m184-8h0m6 1h0m3 10h0m2-8h0m-980 21h0m4 4h0m2 0h0m176-8h0m3 13h0m1 2h0m595-16h0m1 8h0m1 8h0m1-10h0m2 10h0m182 0h0m8-12h0m-974 18h0m1 0h0m2 11h0m3-14h0m152 17h0m17-2h0m2-1h0m4-1h0m601-13h0m7 11h0m163 3h0m5-4h0m1 3h0m8-10h0m9 2h0m-971 30h0m2-16h0m146 16h0m3 0h0m1-11h0m0 10h0m7-11h0m538 15h0m79-3h0m4 2h0m8-15h0m149 3h0m3-6h0m-1029 29h0m14-1h0m1 3h0m9-3h0m3 7h0m9 1h0m7-9h0m4 7h0m18-2h0m0 4h0m13 0h0m6-4h0m3-1h0m1-10h0m79 18h0m11-1h0m12 1h0m2-3h0m1 0h0m10-3h0m14 3h0m565-8h0m6 7h0m0-8h0m8 6h0m4 5h0m4-14h0m0 7h0m3-7h0m4-4h0m7 2h0m2 1h0m1 6h0m21-9h0m2 7h0m12-2h0m1-1h0m13-2h0m70 16h0m16-1h0m12-7h0m1 4h0m1-6h0m7 3h0m11-9h0m5 3h0m2 1h0m7-2h0m6 2h0m8-3h0m4 3h0m-1010 20h0m2-3h0m10 7h0m2 7h0m9-9h0m3 4h0m7 6h0m5-3h0m2-14h0m1 17h0m11-17h0m58 14h0m9 1h0m16-5h0m2 1h0m24-8h0m6-1h0m40-3h0m4 0h0m577 1h0m6 1h0m13 4h0m1 3h0m7-4h0m0 8h0m7 3h0m32 1h0m3 1h0m2 0h0m5 1h0m15-4h0m1 2h0m11-3h0m11-12h0m2 2h0m1-1h0m3 3h0m13-2h0m0 1h0m12-2h0m3 0h0m-876 24h0m6-4h0m3 1h0m6 5h0m0-1h0m4 1h0m7-4h0m5-5h0m6 8h0m3 4h0m13-12h0m0 0h0m721 0h0m1 6h0m3-1h0" stroke="#5054b6" stroke-width="4.4" stroke-linecap="round" fill="none"/>
<path transform="scale(0.5)" d="M1154 872h0m6 6h0m3-6h0m3 2h0m-11 12h0m1 1h0m6 9h0m1-3h0m1 6h0m2-2h0m6-4h0m10-9h0m2 14h0m-10 10h0m6-8h0m0 12h0m0 5h0m0 2h0m2-18h0m1 18h0m9-2h0m2-7h0m2 7h0m3-3h0m-11 19h0m6 6h0m8-12h0m7 11h0m8-10h0m-19 13h0m0 3h0m8-1h0m6 6h0m0-3h0m-49 32h0m52 1h0m9-15h0m1 5h0m6 1h0m3-1h0m10 3h0m1 5h0m3-6h0m3-4h0m-88 24h0m5-6h0m7 14h0m1-19h0m0 12h0m5-4h0m2 5h0m36-1h0m1-7h0m2-4h0m5 7h0m44 0h0m14 11h0m3-11h0m1 6h0m1 3h0m-125 7h0m62 2h0m4 4h0m3-8h0m6 0h0m4 7h0m18-7h0m3-2h0m13 12h0m5 0h0m8-8h0m-79 71h0m15 3h0m12-1h0m-30 10h0m3-7h0m0 14h0m15 4h0m3-13h0m4 11h0m-12 5h0m7 0h0m-78 470h0m0 7h0m1-4h0m8-1h0m-17 7h0m4 3h0m3 15h0m6-17h0m13 12h0m3 4h0m0-11h0m7 11h0m-23 13h0m3-8h0m2 8h0m3 0h0m18 1h0m0-3h0m-15 18h0m1-1h0m8-1h0m2 9h0m9-11h0m7 0h0m4 4h0m2 2h0m-18 16h0m2 0h0m3 1h0m12 12h0m7-12h0m0 10h0m2-11h0m-965 34h0m2-4h0m6 2h0m6-2h0m181 2h0m565 0h0m6-3h0m15-6h0m1 2h0m11 3h0m6 7h0m10 0h0m149-18h0m10 14h0m5-3h0m0 1h0m7 0h0m25 6h0m-1044 15h0m10 1h0m9 1h0m11-3h0m3-7h0m29 3h0m3-1h0m2-6h0m14 14h0m3-7h0m104 8h0m34-15h0m6 17h0m1-16h0m21 3h0m3-5h0m6 13h0m3-1h0m6 1h0m5 3h0m499-7h0m1 1h0m18-10h0m5 7h0m2 1h0m7-8h0m40 4h0m13 9h0m6 5h0m83 0h0m6-11h0m4 0h0m2 8h0m2-5h0m8 4h0m39 3h0m0-5h0m0-10h0m2 15h0m6-14h0m22 0h0m1-4h0m5 6h0m0 3h0m22 7h0m1-4h0m1 7h0m-1089 17h0m11-7h0m0 1h0m5-4h0m12-2h0m81-1h0m4 3h0m4 3h0m5 8h0m6 0h0m74-13h0m1 0h0m2 2h0m4-1h0m2 2h0m4 6h0m1 0h0m40-2h0m2 6h0m3 1h0m24 1h0m10-18h0m2 15h0m4-12h0m1 1h0m2 0h0m17 4h0m409 6h0m4 0h0m13 0h0m15-7h0m2-6h0m2 4h0m1-1h0m1-3h0m13-1h0m21 0h0m82 15h0m0-12h0m9 10h0m1-10h0m4 8h0m73-1h0m14 2h0m4-5h0m51-7h0m5 6h0m1 6h0m0-4h0m1 8h0m2-4h0m23 6h0m13-3h0m3-3h0m4-10h0m7 6h0m5 3h0m-1154 21h0m6-7h0m6 2h0m4 3h0m4-7h0m10 6h0m10-9h0m12 1h0m119 5h0m1-4h0m19 13h0m0-3h0m64-12h0m71 0h0m10 2h0m1 8h0m2-11h0m7 9h0m3-4h0m13-2h0m13 2h0m4-1h0m368 11h0m8-11h0m1 4h0m7-6h0m10 8h0m17-8h0m161 2h0m5 10h0m1 1h0m17 2h0m19-3h0m143-13h0m-1151 38h0m1-18h0m0 1h0m1 7h0m217-1h0m5-6h0m4 2h0m7 1h0m4 7h0m1 0h0m3-1h0m513 7h0m7-8h0m0 3h0m224-7h0m2-4h0m8-1h0m9 16h0m4-12h0m-1016 34h0m1-19h0m1 13h0m245 1h0m3-13h0m3 15h0m503-1h0m15-12h0m244 0h0m7 2h0m-1023 22h0m1 1h0m3 0h0m250 6h0m2-3h0m510-9h0m262 4h0m0-1h0m1 0h0m1-3h0m2 5h0m5 9h0m2-4h0m58 3h0m7 3h0m1-4h0m-1109 23h0m1-2h0m3 1h0m3-8h0m255-6h0m5 8h0m2-5h0m2 2h0m1 11h0m3-2h0m0-3h0m2 4h0m43-9h0m1 10h0m2-14h0m3 15h0m3-13h0m3 5h0m2 7h0m427-11h0m3 1h0m1-6h0m0 1h0m3 10h0m284-4h0m5 5h0m38-12h0m0 12h0m3-12h0m13 6h0m5 9h0m4-15h0m1 12h0m2-10h0m-1115 34h0m289-5h0m29-6h0m0-4h0m9 3h0m3-1h0m1-5h0m424 14h0m3-6h0m1-6h0m290 8h0m4 2h0m3-2h0m2 7h0m9 0h0m1 2h0m36-18h0m-1109 27h0m2 0h0m3-8h0m3 18h0m2-17h0m278 5h0m0 4h0m2-2h0m8 8h0m4 3h0m461-17h0m2 0h0m1 11h0m0-2h0m307 2h0m0 0h0m5 0h0m-1074 16h0m1 8h0m5-15h0m287 3h0m1-3h0m2 13h0m3-10h0m9 4h0m459 2h0m0-2h0m1 3h0m1-3h0m302-9h0m3 5h0m1 2h0m3-6h0m2 10h0m-1074 22h0m0-4h0m7 6h0m1-10h0m755 0h0m2 11h0m1-4h0m6 7h0m306-3h0m1-3h0m4 2h0m-1081 9h0m9 8h0m0 7h0m237-2h0m4 2h0m14-9h0m9 5h0m10-4h0m7-5h0m1 0h0m13 0h0m1-3h0m4 0h0m464 7h0m218 0h0m1 9h0m27-1h0m3-4h0m2 4h0m7-1h0m6-9h0m2 1h0m9-8h0m6 6h0m5 3h0m22-5h0m-1075 23h0m2 2h0m7 0h0m23 8h0m142 0h0m19-3h0m14-1h0m2-6h0m3-3h0m8 4h0m7-2h0m1-2h0m44-4h0m498 1h0m0 0h0m6 13h0m1-8h0m3 5h0m8-7h0m13 8h0m1-3h0m8 5h0m4 0h0m5 0h0m1 2h0m7 0h0m7 0h0m25 1h0m13-5h0m1-3h0m8 5h0m3 0h0m13-5h0m7 3h0m3 5h0m7-7h0m6 5h0m22-1h0m0-6h0m1 5h0m2-2h0m5 2h0m8-1h0m15-4h0m1 1h0m1 3h0m3-9h0m13-3h0m-972 27h0m5-5h0m6-3h0m17 3h0m2 1h0m8-3h0m2 0h0m7 9h0m4-4h0m11 1h0m1-1h0m0-1h0m9 2h0m9 3h0m9-8h0m12 7h0m3-6h0m4 7h0m4-4h0m9 1h0m2 3h0m13-7h0m10 0h0m8 0h0m6 1h0m11 1h0m682-2h0m2-2h0m108 301h0m8 0h0m4 1h0m3-3h0m2 10h0m2 4h0m4-7h0m3-2h0m-3 25h0m0-6h0m1 4h0m0 3h0m9 7h0m3-18h0m4 9h0m3-5h0m3 13h0m-5 19h0m2-3h0m6 3h0m6-8h0m0 1h0m6 3h0m3 2h0m-18 13h0m1 0h0m8 3h0m0 5h0m3-5h0m2-6h0m2 13h0m1-5h0m2 5h0m0 0h0m-14 10h0m3-5h0m3 0h0m2 1h0m5 1h0m-816 33h0m2-11h0m2 11h0m5-11h0m4 11h0m4-6h0m2-1h0m752 4h0m2 2h0m4-3h0m0-3h0m11 1h0m2 4h0m-787 12h0m15-5h0m756 7h0m13-5h0m7 3h0m-753 84h0m11 1h0m2-4h0m5 4h0m0-6h0m5 12h0m6 1h0m-23 4h0m6-1h0m3 2h0m20-2h0" stroke="#5a56b4" stroke-width="4.4" stroke-linecap="round" fill="none"/>
<path transform="scale(0.5)" d="M1202 955h0m0 3h0m0-6h0m4-5h0m3-1h0m2 5h0m-9 9h0" stroke="#f0845a" stroke-width="4.4" stroke-linecap="round" fill="none"/>
<path transform="scale(0.5)" d="M452 1479h0m-16 9h0m7-7h0m5 2h0m3 11h0m5 1h0m-28 5h0m8 5h0m1-4h0m28 4h0m7 10h0m16-8h0m1 2h0m2-1h0m2 2h0m7-3h0m2 0h0m4 0h0m-69 15h0m4 5h0m1 1h0m2-4h0m68 9h0m14-4h0m1 3h0m1 1h0m0 0h0m18 6h0m-108 1h0m3 8h0m3 8h0m5-3h0m93-2h0m13 3h0m-114 21h0m7-11h0m80 14h0m6-4h0m7-3h0m0-10h0m7 11h0m-102 8h0m11 8h0m1 1h0m2 6h0m6 3h0m3 1h0m11-3h0m16 0h0m8-2h0m4 3h0m2 2h0m32-12h0m-61 15h0" stroke="#5a5ab8" stroke-width="4.4" stroke-linecap="round" fill="none"/>
<path transform="scale(0.5)" d="M77 1454h0m-1 12h0m1-2h0m5-4h0m3 12h0m4 1h0m8-5h0m6 0h0m3 2h0m7 1h0m4 3h0m1 3h0m-36 14h0m13 0h0m1 1h0m8 4h0m0-5h0m8 0h0m18-10h0m1 2h0" stroke="#9a5aa8" stroke-width="4.4" stroke-linecap="round" fill="none"/>
<path transform="scale(0.5)" d="M367 1578h0m3 0h0m4-2h0m-1 8h0m3 4h0m9-6h0m-10 24h0m8 11h0m1 0h0m5-8h0m2-5h0m2-1h0m5 5h0m1-4h0m1-1h0m7 9h0m0 0h0m1 6h0m-17 18h0m4-4h0m1-11h0m1 7h0m15-5h0m-19 17h0m16 4h0m7 15h0m8-3h0m4-8h0m0 7h0m3 4h0m2-4h0m-18 5h0m3 8h0m11-7h0" stroke="#6a56b0" stroke-width="4.4" stroke-linecap="round" fill="none"/>
<path transform="scale(0.5)" d="M415 1666h0m5 0h0m0 1h0m3 2h0m1-8h0m2 12h0m3-9h0" stroke="#d06080" stroke-width="4.4" stroke-linecap="round" fill="none"/>
<path transform="scale(0.5)" d="M1220 1477h0m7 0h0m2-3h0m-15 16h0m0 2h0m2-6h0m3-4h0m17 13h0m7 1h0m20 1h0m6-2h0m9 0h0m-77 12h0m7-3h0m6 10h0m7 1h0m27-11h0m3-2h0m3 5h0m17-5h0m8 7h0m5-8h0m4 15h0m-69 16h0m0 4h0m76-16h0m5 5h0m5-5h0m12 14h0m4 4h0m9-10h0m-115 17h0m4 0h0m0-5h0m4 12h0m103-12h0m0 9h0m3-7h0m4 8h0m-108 26h0m1-14h0m1 17h0m21 0h0m57-3h0m11-8h0m3 1h0m8-3h0m-92 17h0m9 5h0m10-3h0m6 6h0m8 0h0m2 3h0m13 2h0m3-7h0m9-7h0m2 2h0" stroke="#8a4eaa" stroke-width="4.4" stroke-linecap="round" fill="none"/>
<path transform="scale(0.5)" d="M836 1453h0m1-1h0m9 1h0m6 1h0m-19 7h0m6 5h0m6 9h0m7 1h0m2-16h0m8 7h0m4 12h0m1-18h0m7 10h0m8 4h0m7-2h0m2-3h0m-33 17h0m3 1h0m0-7h0m18 6h0m5-3h0m5 3h0" stroke="#8a5aa8" stroke-width="4.4" stroke-linecap="round" fill="none"/>
<path transform="scale(0.5)" d="M1186 1655h0m10 4h0m7-5h0m0-2h0m-9 9h0m1 6h0m6-2h0" stroke="#c05a90" stroke-width="4.4" stroke-linecap="round" fill="none"/>
<path transform="scale(0.5)" d="M245 2114h0m4 5h0m19 0h0m-70 18h0m10 0h0m4-7h0m7 3h0m28-8h0m2 0h0m19 0h0m1-1h0m1-3h0m23 2h0m5 6h0m6-3h0m2 11h0m4-8h0m8 5h0m-149 21h0m3-3h0m4 3h0m12-5h0m5 3h0m1-5h0m13-8h0m111 0h0m12 6h0m2-2h0m6 6h0m7 9h0m0-8h0m7-3h0m8 9h0m-209 12h0m0 8h0m8-7h0m10-6h0m187 3h0m12-4h0m3 0h0m4-2h0m15 4h0m2 2h0m18 10h0m1-4h0m5 4h0m3 2h0m-337 19h0m8-3h0m18 4h0m1 0h0m12 0h0m4-5h0m8-13h0m2 8h0m4-8h0m238 11h0m25-8h0m2 7h0m0-2h0m6 0h0m-356 20h0m8 6h0m11-10h0m1-2h0m5 7h0m35-10h0m240 15h0m3-4h0m11 0h0m3-8h0m6 2h0m-329 21h0m1 6h0m8-8h0m287 6h0m1-1h0m3-6h0m3-2h0m-294 28h0m9 0h0m0-3h0m10-1h0m12 5h0m5 3h0m14 0h0m227-12h0m2 0h0m2 6h0m-234 14h0m3 1h0m4 16h0m0-3h0m207-2h0m3-4h0m4 3h0m2-4h0m14-7h0m-240 38h0m4-9h0m7-7h0m45 16h0m63-2h0m3-1h0m71-13h0m6 1h0m-200 23h0m4 0h0m9 10h0m6-1h0m7-5h0m5-2h0m12 0h0m3 7h0m10-7h0m11-3h0m2 4h0m5 2h0m14-11h0m6 8h0m3 3h0m11-7h0m9-5h0m20 6h0m6 7h0m6 2h0m1-1h0m35 5h0m2-12h0m1 1h0m4-7h0m-39 25h0m9 1h0m0 1h0m3 9h0m1 1h0m12-10h0m6 2h0m3 9h0m0-5h0m-9 9h0m4 12h0" stroke="#f09050" stroke-width="4.4" stroke-linecap="round" fill="none"/>
<path transform="scale(0.5)" d="M223 2338h0m1-14h0m2 8h0m2-2h0m15 2h0m3 7h0m10-3h0m-87 21h0m18-6h0m3 0h0m4 5h0m5-4h0m7-7h0m9-1h0m38 0h0m12 0h0m10 13h0m-155 15h0m9 0h0m7-5h0m7 0h0m7-5h0m7 5h0m8-3h0m4-2h0m106-2h0m2 5h0m7-4h0m10 8h0m-199 24h0m11-5h0m1-6h0m1 2h0m14-4h0m175 2h0m2 8h0m3-7h0m2 4h0m13 6h0m6 0h0m10 5h0m6-8h0m-247 15h0m3 2h0m238 3h0m2 4h0m2-11h0m2 16h0m1-8h0m-248 12h0m3-3h0m241 12h0m8-3h0m1 0h0m-258 20h0m4 4h0m1-5h0m4 7h0m0-12h0m0 1h0m256 4h0m3-3h0m0 0h0m-260 27h0m0-3h0m3-2h0m259 0h0m4-1h0m12 4h0m1 7h0m-273 11h0m279-4h0m0 6h0m0-6h0m11 10h0m0-1h0m-301 15h0m7 4h0m5-2h0m2 6h0m3-1h0m288 3h0m1-8h0m-298 25h0m3-4h0m5 3h0m4-10h0m291 11h0m1-4h0m4 5h0m3 2h0m-300 19h0m201 2h0m6 0h0m9-7h0m6 2h0m6 1h0m19-2h0m14-5h0m8-4h0m3 0h0m4 3h0m3-1h0m7-2h0m4 1h0m-285 17h0m5 10h0m3 3h0m6-3h0m14-2h0m14 1h0m8 8h0m5-6h0m0 5h0m3-8h0m7 5h0m9 4h0m22-9h0m8 8h0m3-1h0m1-9h0m13 5h0m1 4h0m1 0h0m5 1h0m2-1h0m1 1h0m27-8h0m1 2h0m1 2h0m13-1h0m24-5h0m6-3h0m7-2h0m0-2h0m-122 19h0m85 4h0" stroke="#5e54b2" stroke-width="4.4" stroke-linecap="round" fill="none"/>
<path transform="scale(0.5)" d="M423 2154h0m7-1h0m2-4h0m-25 25h0m3-6h0m6-4h0m27 3h0m6 9h0m5-4h0m11 1h0m2 3h0m15 2h0m-74 3h0m7 7h0m48-5h0m13-1h0m11 2h0m16 8h0m1 5h0m2 0h0m3 1h0m-87 11h0m3-3h0m1 1h0m81-1h0m6-6h0m13 14h0m0 5h0m1-7h0m-105 18h0m4 4h0m7-12h0m0 0h0m80 17h0m2-1h0m4-3h0m2-13h0m7 3h0m-97 19h0m1 4h0m9 7h0m10 0h0m4-1h0m10 4h0m3-1h0m6 2h0m11-5h0m6-4h0m2-2h0" stroke="#6c4eaa" stroke-width="4.4" stroke-linecap="round" fill="none"/>
<path transform="scale(0.5)" d="M487 2058h0m8-1h0m7 0h0m9-1h0m2-6h0m6 2h0m1 5h0m-45 11h0m7-7h0m3 4h0m38-2h0m2 15h0m5-12h0m0 2h0m-76 31h0m2-8h0m1-5h0m3 2h0m0-7h0m0 2h0m60 11h0m0-6h0m4 2h0m-69 19h0m5 9h0m10 1h0m1-3h0m24 2h0m16-9h0m0-9h0m3 15h0m-39 12h0m17-5h0m7 7h0m8 0h0m4-6h0m3 6h0m4 2h0" stroke="#6a4eae" stroke-width="4.4" stroke-linecap="round" fill="none"/>
<path transform="scale(0.5)" d="M50 2134h0m2-1h0m15-3h0m3-3h0m4 1h0m1 5h0m5 5h0m10 0h0m3 0h0m-33 7h0m6 3h0m2 6h0m2-5h0m14 8h0m13-11h0m3 9h0m2-4h0m6-6h0m2 7h0m-10 15h0" stroke="#7a5ab0" stroke-width="4.4" stroke-linecap="round" fill="none"/>
<path transform="scale(0.5)" d="M529 2297h0m22-4h0m7-1h0m4 4h0m1-1h0m13-9h0m3 8h0m9 1h0m2-2h0m2 0h0m-74 15h0m1 6h0m13-11h0m4-3h0m9 1h0m73-1h0m1 5h0m3-3h0m10-2h0m3 2h0m1 7h0m8 0h0m3 3h0m1 4h0m2 1h0m2-1h0m-149 8h0m1 3h0m3-3h0m4-4h0m149 19h0m4-2h0m3-1h0m-180 23h0m1-5h0m2 2h0m3-3h0m0-5h0m5-8h0m169 5h0m4 6h0m2 22h0m2 4h0m3-17h0m-191 29h0m1-2h0m0-6h0m1 11h0m2-12h0m179 18h0m1-15h0m3 16h0m6-14h0m-196 23h0m8-2h0m1-2h0m6 8h0m157 4h0m19-10h0m7-4h0m-188 19h0m1 13h0m142 4h0m9-4h0m10-7h0m0-3h0m-246 35h0m1-11h0m4 7h0m2 1h0m3-8h0m2 3h0m11-1h0m5 4h0m3 5h0m12-6h0m13 1h0m2-1h0m11 5h0m7-1h0m4-7h0m4-7h0m95 11h0m6 3h0m9-1h0m5 1h0m1 0h0m9 1h0m7-3h0m18-13h0m3 5h0m-213 16h0m7 16h0m0-6h0m12-13h0m2 19h0m1-5h0m41 5h0m21-2h0m6-2h0m3 0h0m1 3h0m20-1h0m9-2h0m1-7h0m11-4h0m6 5h0m6-5h0m0 4h0m-119 19h0m2 2h0m8-1h0m6-7h0m5 12h0m16-4h0m3 1h0m14-7h0m4 9h0" stroke="#5c52b2" stroke-width="4.4" stroke-linecap="round" fill="none"/>
<path transform="scale(0.5)" d="M415 2335h0m0-1h0m7-2h0m6 4h0m7-4h0m3 4h0m9 1h0m-31 8h0m28-4h0m16 5h0m7 10h0m9 1h0m-60 6h0m4 3h0m15 5h0m8 2h0m2 3h0m3-4h0m1 3h0m15-3h0m4 4h0m1-2h0m6 0h0m1-3h0m3-9h0m2 14h0m2-9h0" stroke="#5e56b2" stroke-width="4.4" stroke-linecap="round" fill="none"/>
<path transform="scale(0.5)" d="M349 2236h0m5 0h0m0 8h0m0 8h0m1-7h0m4 14h0m3-13h0m6 8h0m4-2h0m-12 20h0m2-12h0m4 11h0m2 8h0m9-18h0m4 12h0m1-3h0m2 7h0m1-11h0m-10 15h0m1 0h0m2 11h0m4-3h0m3-7h0m15 6h0m5 11h0m3-5h0m-21 12h0m12 12h0m0-1h0m3 0h0m2 1h0m1-11h0" stroke="#e87a70" stroke-width="4.4" stroke-linecap="round" fill="none"/>
<path transform="scale(0.5)" d="M395 2318h0m4-4h0m5-1h0m0 1h0m6 5h0m-11 3h0m7 0h0" stroke="#6a54b0" stroke-width="4.4" stroke-linecap="round" fill="none"/>
<path transform="scale(0.5)" d="M978 2338h0m16-11h0m2 4h0m1-3h0m21 9h0m-70 22h0m11-3h0m4-10h0m6 3h0m12-5h0m11-2h0m25 2h0m9-4h0m6 16h0m1-9h0m1 5h0m-147 27h0m7-5h0m16 2h0m1-11h0m4 8h0m4 4h0m11-10h0m5-2h0m22-5h0m86 3h0m9 5h0m6-1h0m1 10h0m12 2h0m-213 11h0m4 9h0m7-10h0m2 1h0m10-5h0m5-4h0m11 1h0m168 2h0m13 12h0m3-11h0m5 7h0m0 3h0m16-1h0m5-1h0m-248 19h0m5-1h0m237 4h0m5-15h0m4 8h0m-263 14h0m8 16h0m4-2h0m3-1h0m1-4h0m241-7h0m6-3h0m4 13h0m0-2h0m2-2h0m4 9h0m-264 11h0m1 5h0m265-1h0m10 5h0m-275 20h0m1-15h0m4 13h0m279-2h0m1-11h0m3 7h0m-285 18h0m2 7h0m278-15h0m11 3h0m6 7h0m6 7h0m-299 21h0m3-4h0m1-2h0m1 3h0m289-15h0m5 6h0m4 4h0m6 6h0m-305 12h0m275 10h0m19-19h0m7 10h0m0 9h0m9-3h0m-310 7h0m1 1h0m5 2h0m218 12h0m11-4h0m7 1h0m11-3h0m2-6h0m12 6h0m8-7h0m4 11h0m13-8h0m6-7h0m-282 29h0m0-6h0m2 2h0m7 2h0m11 2h0m0-3h0m11 9h0m7 0h0m10-3h0m9-1h0m5 5h0m0-2h0m16 3h0m1-3h0m4 3h0m11-13h0m3 8h0m18 4h0m5-5h0m2 2h0m5 4h0m2-5h0m6-1h0m11 3h0m4 1h0m8-1h0m6-4h0m7 3h0m15-5h0m5-2h0m6-3h0m9 1h0m8-5h0m-142 20h0" stroke="#5256b6" stroke-width="4.4" stroke-linecap="round" fill="none"/>
<path transform="scale(0.5)" d="M1182 2159h0m16-5h0m-19 22h0m0-9h0m20-7h0m10 2h0m7 16h0m2-8h0m15 8h0m1-7h0m5 3h0m18 3h0m-77 6h0m3 9h0m1 7h0m7 0h0m28-18h0m32 7h0m4-5h0m10 16h0m3 0h0m6-3h0m21 3h0m-104 16h0m91-14h0m14 7h0m1 10h0m5-5h0m-113 15h0m5-7h0m1 11h0m3 2h0m7 5h0m82-5h0m3 3h0m8-11h0m0-1h0m1 3h0m-93 20h0m5 11h0m2-5h0m3 0h0m29 2h0m3-1h0m11-1h0m12-1h0m15-10h0m-53 22h0m24-5h0" stroke="#5858b6" stroke-width="4.4" stroke-linecap="round" fill="none"/>
<path transform="scale(0.5)" d="M1318 2295h0m15 4h0m6-4h0m1-3h0m8 4h0m10-4h0m4 3h0m0 0h0m38 3h0m-106 13h0m4 6h0m3-7h0m2-2h0m4-5h0m4 3h0m20-5h0m37 2h0m19 0h0m5 5h0m4-6h0m10 1h0m10 12h0m3 0h0m0 4h0m0-6h0m1 0h0m3 4h0m-147 15h0m0 4h0m1-5h0m0-1h0m3 0h0m2-7h0m-15 21h0m172 8h0m5 2h0m2-7h0m7 12h0m2-6h0m-200 9h0m2 8h0m11 2h0m177 1h0m4-9h0m1 14h0m-196 2h0m6 7h0m8 5h0m181 6h0m3-16h0m3 4h0m-197 14h0m1 14h0m9 0h0m175 3h0m5 2h0m1-7h0m1-1h0m-185 15h0m1 1h0m2 6h0m0-8h0m157 11h0m5-4h0m1-5h0m-252 20h0m9 11h0m7-11h0m9 6h0m3-3h0m12 5h0m0-2h0m28-1h0m3 5h0m7 2h0m2-2h0m2-13h0m13-4h0m102 19h0m0 0h0m6-2h0m5 0h0m1-6h0m18 5h0m2-3h0m1-3h0m7-10h0m-234 24h0m4 5h0m12-9h0m7 11h0m1 3h0m13 1h0m6 1h0m1-16h0m5 6h0m62 8h0m10 5h0m1-3h0m2-4h0m9 3h0m18-6h0m0 0h0m6 3h0m3-2h0m5-1h0m11 0h0m5-3h0m9-6h0m-142 23h0m1 2h0m6 10h0m7-5h0m3-6h0m14 3h0m9-1h0m8 6h0m1-9h0m1 3h0m10-5h0" stroke="#f0905a" stroke-width="4.4" stroke-linecap="round" fill="none"/>
<path transform="scale(0.5)" d="M1193 2335h0m1 0h0m3-6h0m10 6h0m-23 23h0m0-7h0m0-1h0m5 2h0m2 1h0m15-10h0m7-1h0m17 9h0m2 1h0m10 5h0m6 2h0m-54 10h0m13-3h0m5 5h0m3 0h0m1 4h0m9-3h0m6 5h0m9-17h0m3 17h0m4-2h0m1-13h0m5 4h0m1 11h0" stroke="#de6a80" stroke-width="4.4" stroke-linecap="round" fill="none"/>
<path transform="scale(0.5)" d="M1172 2455h0m11-6h0m4 7h0m5-9h0m4 5h0m2 4h0m5 2h0m-25 4h0m11 6h0m2 1h0m6-7h0" stroke="#a04e9c" stroke-width="4.4" stroke-linecap="round" fill="none"/>
<path d="M47.8 440.1C48.7 438.3 50.1 432.1 53.1 429.3C56.1 426.5 61.6 424.5 65.5 423.4C69.4 422.3 71.5 424.2 76.3 422.9C81.1 421.5 88.0 418.7 94.6 415.3C101.2 411.9 108.9 406.5 116.1 402.4C123.3 398.3 130.4 393.8 137.6 390.6C144.8 387.4 152.0 384.0 159.2 383.1C166.4 382.2 173.5 383.6 180.7 385.2C187.9 386.8 195.0 389.8 202.2 392.7C209.4 395.6 216.8 399.6 223.8 402.4C230.9 405.2 243.1 405.7 244.5 409.4C245.9 413.1 237.0 419.1 232.2 424.8C227.4 430.5 220.5 437.5 215.7 443.3C210.9 449.1 207.8 454.9 203.4 459.7C199.0 464.5 193.6 469.5 189.0 472.0C184.4 474.5 179.5 473.3 176.0 474.5C172.5 475.7 169.6 477.4 168.0 479.0C166.4 480.6 165.6 482.5 166.4 484.4C167.2 486.3 170.2 488.4 172.6 490.5C175.0 492.6 179.4 493.6 180.8 497.0C182.2 500.4 182.4 507.1 181.0 511.0C179.6 514.9 176.0 518.1 172.6 520.3C169.2 522.5 166.8 525.2 160.3 524.4C153.8 523.5 142.5 518.8 133.6 515.2C124.7 511.6 111.6 506.4 106.8 502.9C102.0 499.4 103.9 496.5 104.8 494.0C105.7 491.5 112.8 488.8 112.0 488.0C111.2 487.2 104.3 489.2 100.0 489.5C95.7 489.8 90.8 490.2 86.3 489.5C81.8 488.8 75.7 487.9 73.0 485.0C70.3 482.1 69.4 476.2 69.9 472.0C70.4 467.8 77.4 462.3 76.0 459.7C74.6 457.1 65.7 457.6 61.6 456.6C57.5 455.6 53.7 456.2 51.4 453.5C49.1 450.8 48.4 442.3 47.8 440.1" fill="none" stroke="#111" stroke-width="2.6" stroke-dasharray="11 6"/>
<path d="M302.0 486.4C303.7 485.0 307.9 480.1 312.3 478.2C316.8 476.3 322.5 475.4 328.7 475.1C334.9 474.8 342.4 475.5 349.3 476.2C356.2 476.9 364.0 477.8 369.8 479.2C375.6 480.6 380.6 481.8 384.2 484.4C387.8 487.0 390.0 489.5 391.4 494.6C392.8 499.7 392.4 508.4 392.4 515.2C392.4 522.1 392.1 529.9 391.4 535.7C390.7 541.5 390.5 546.0 388.3 550.1C386.1 554.2 382.9 558.0 378.1 560.4C373.3 562.8 366.1 563.5 359.6 564.5C353.1 565.5 345.9 565.6 339.0 566.6C332.1 567.6 323.6 568.3 318.5 570.7C313.4 573.1 312.3 578.6 308.2 581.0C304.1 583.4 299.3 585.1 293.8 585.1C288.3 585.1 279.8 583.8 275.3 581.0C270.9 578.2 269.2 573.8 267.1 568.6C265.1 563.5 263.3 555.9 263.0 550.1C262.7 544.3 263.4 538.5 265.1 533.7C266.8 528.9 269.9 525.5 273.3 521.4C276.7 517.3 282.2 513.1 285.6 509.0C289.0 504.9 291.1 500.5 293.8 496.7C296.5 492.9 300.6 488.1 302.0 486.4" fill="none" stroke="#111" stroke-width="2.6" stroke-dasharray="11 6"/>
<path d="M67.8 525.5C69.5 524.1 73.3 519.3 78.1 517.2C82.9 515.1 90.4 513.6 96.6 513.1C102.8 512.6 108.9 513.2 115.1 514.2C121.3 515.2 127.1 517.1 133.6 519.3C140.1 521.5 146.9 524.1 154.1 527.5C161.3 530.9 170.2 537.4 176.7 539.8C183.2 542.2 188.6 540.2 193.1 541.9C197.6 543.6 200.0 546.7 203.4 550.1C206.8 553.5 209.9 557.7 213.7 562.5C217.5 567.3 221.9 573.4 226.0 578.9C230.1 584.4 235.6 590.8 238.3 595.3C241.1 599.8 243.5 602.2 242.5 605.6C241.5 609.0 238.4 613.5 232.2 615.9C226.0 618.3 214.1 619.0 205.5 620.0C196.9 621.0 189.4 621.3 180.8 622.0C172.2 622.7 163.0 623.4 154.1 624.1C145.2 624.8 136.0 626.3 127.4 626.1C118.8 625.9 110.2 624.1 102.7 623.1C95.2 622.1 87.0 622.6 82.2 620.0C77.4 617.4 76.0 613.2 74.0 607.7C72.0 602.2 71.3 594.0 69.9 587.1C68.5 580.2 66.6 573.5 65.7 566.6C64.8 559.8 64.4 552.9 64.7 546.0C65.0 539.1 67.3 528.9 67.8 525.5" fill="none" stroke="#111" stroke-width="2.6" stroke-dasharray="11 6"/>
<text x="95" y="370" font-size="30.5" font-weight="normal" font-style="normal" text-anchor="start">Endothelial</text>
<text x="52.5" y="387.8" font-size="22.5" font-weight="bold" font-style="normal" text-anchor="start">8</text>
<text x="286.3" y="376.8" font-size="22.8" font-weight="bold" font-style="normal" text-anchor="start">6</text>
<text x="303" y="390.9" font-size="21" font-weight="normal" font-style="normal" text-anchor="start">Epicardium</text>
<text x="161.3" y="425.8" font-size="25.8" font-weight="bold" font-style="normal" text-anchor="start">2</text>
<text x="273" y="444.5" font-size="22.8" font-weight="bold" font-style="normal" text-anchor="start">4</text>
<text x="289" y="463.8" font-size="21.1" font-weight="normal" font-style="normal" text-anchor="start">Endocardium</text>
<text x="112.6" y="471" font-size="25.8" font-weight="bold" font-style="normal" text-anchor="start">3</text>
<text x="257.9" y="495.7" font-size="25.8" font-weight="bold" font-style="normal" text-anchor="start">5</text>
<text x="330.8" y="531.6" font-size="25.8" font-weight="bold" font-style="normal" text-anchor="start">1</text>
<text x="207.5" y="545" font-size="25.8" font-weight="bold" font-style="normal" text-anchor="start">7</text>
<text x="126.4" y="582" font-size="25.8" font-weight="bold" font-style="normal" text-anchor="start">0</text>
<text x="303" y="618" font-size="30.4" font-weight="normal" font-style="normal" text-anchor="start">Myeloid</text>
<text x="85.3" y="657" font-size="30.5" font-weight="normal" font-style="normal" text-anchor="start">Fibroblasts</text>
<text x="551.8" y="364.7" font-size="32.6" font-weight="normal" font-style="italic" text-anchor="start">Dcn</text>
<text x="133.6" y="708.8" font-size="33.5" font-weight="normal" font-style="italic" text-anchor="start">Postn</text>
<text x="545.7" y="702" font-size="33.5" font-weight="normal" font-style="italic" text-anchor="start">Ctgf</text>
<text x="124" y="1047.7" font-size="33.5" font-weight="normal" font-style="italic" text-anchor="start">Fabp4</text>
<text x="540" y="1040" font-size="33.5" font-weight="normal" font-style="italic" text-anchor="start">Lyz2</text>
<rect x="708.9" y="347.3" width="17.3" height="88.9" fill="url(#cb6)"/>
<line x1="722.7" y1="430.4" x2="726.2" y2="430.4" stroke="#fff" stroke-width="1.2"/>
<line x1="708.9" y1="430.4" x2="712.4" y2="430.4" stroke="#fff" stroke-width="1.2"/>
<text x="731.0" y="436.9" font-size="18.2">0</text>
<line x1="722.7" y1="405.7" x2="726.2" y2="405.7" stroke="#fff" stroke-width="1.2"/>
<line x1="708.9" y1="405.7" x2="712.4" y2="405.7" stroke="#fff" stroke-width="1.2"/>
<text x="731.0" y="412.2" font-size="18.2">2</text>
<line x1="722.7" y1="381.1" x2="726.2" y2="381.1" stroke="#fff" stroke-width="1.2"/>
<line x1="708.9" y1="381.1" x2="712.4" y2="381.1" stroke="#fff" stroke-width="1.2"/>
<text x="731.0" y="387.6" font-size="18.2">4</text>
<line x1="722.7" y1="356.4" x2="726.2" y2="356.4" stroke="#fff" stroke-width="1.2"/>
<line x1="708.9" y1="356.4" x2="712.4" y2="356.4" stroke="#fff" stroke-width="1.2"/>
<text x="731.0" y="362.9" font-size="18.2">6</text>
<text x="0" y="0" font-size="23.4" transform="translate(703.2,451.2) rotate(-90)">Expression</text>
<rect x="307.6" y="698.7" width="19.1" height="98.8" fill="url(#cb6)"/>
<line x1="323.2" y1="796.0" x2="326.7" y2="796.0" stroke="#fff" stroke-width="1.2"/>
<line x1="307.6" y1="796.0" x2="311.1" y2="796.0" stroke="#fff" stroke-width="1.2"/>
<text x="329.8" y="802.5" font-size="18.2">0</text>
<line x1="323.2" y1="779.6" x2="326.7" y2="779.6" stroke="#fff" stroke-width="1.2"/>
<line x1="307.6" y1="779.6" x2="311.1" y2="779.6" stroke="#fff" stroke-width="1.2"/>
<text x="329.8" y="786.1" font-size="18.2">1</text>
<line x1="323.2" y1="763.2" x2="326.7" y2="763.2" stroke="#fff" stroke-width="1.2"/>
<line x1="307.6" y1="763.2" x2="311.1" y2="763.2" stroke="#fff" stroke-width="1.2"/>
<text x="329.8" y="769.7" font-size="18.2">2</text>
<line x1="323.2" y1="746.8" x2="326.7" y2="746.8" stroke="#fff" stroke-width="1.2"/>
<line x1="307.6" y1="746.8" x2="311.1" y2="746.8" stroke="#fff" stroke-width="1.2"/>
<text x="329.8" y="753.3" font-size="18.2">3</text>
<line x1="323.2" y1="730.3" x2="326.7" y2="730.3" stroke="#fff" stroke-width="1.2"/>
<line x1="307.6" y1="730.3" x2="311.1" y2="730.3" stroke="#fff" stroke-width="1.2"/>
<text x="329.8" y="736.8" font-size="18.2">4</text>
<line x1="323.2" y1="713.9" x2="326.7" y2="713.9" stroke="#fff" stroke-width="1.2"/>
<line x1="307.6" y1="713.9" x2="311.1" y2="713.9" stroke="#fff" stroke-width="1.2"/>
<text x="329.8" y="720.4" font-size="18.2">5</text>
<rect x="696" y="705.5" width="19.9" height="96.1" fill="url(#cb6)"/>
<line x1="712.4" y1="799.8" x2="715.9" y2="799.8" stroke="#fff" stroke-width="1.2"/>
<line x1="696.0" y1="799.8" x2="699.5" y2="799.8" stroke="#fff" stroke-width="1.2"/>
<text x="720.5" y="806.3" font-size="18.2">0</text>
<line x1="712.4" y1="781.7" x2="715.9" y2="781.7" stroke="#fff" stroke-width="1.2"/>
<line x1="696.0" y1="781.7" x2="699.5" y2="781.7" stroke="#fff" stroke-width="1.2"/>
<text x="720.5" y="788.2" font-size="18.2">1</text>
<line x1="712.4" y1="763.7" x2="715.9" y2="763.7" stroke="#fff" stroke-width="1.2"/>
<line x1="696.0" y1="763.7" x2="699.5" y2="763.7" stroke="#fff" stroke-width="1.2"/>
<text x="720.5" y="770.2" font-size="18.2">2</text>
<line x1="712.4" y1="745.6" x2="715.9" y2="745.6" stroke="#fff" stroke-width="1.2"/>
<line x1="696.0" y1="745.6" x2="699.5" y2="745.6" stroke="#fff" stroke-width="1.2"/>
<text x="720.5" y="752.1" font-size="18.2">3</text>
<line x1="712.4" y1="727.6" x2="715.9" y2="727.6" stroke="#fff" stroke-width="1.2"/>
<line x1="696.0" y1="727.6" x2="699.5" y2="727.6" stroke="#fff" stroke-width="1.2"/>
<text x="720.5" y="734.1" font-size="18.2">4</text>
<line x1="712.4" y1="709.5" x2="715.9" y2="709.5" stroke="#fff" stroke-width="1.2"/>
<line x1="696.0" y1="709.5" x2="699.5" y2="709.5" stroke="#fff" stroke-width="1.2"/>
<text x="720.5" y="716.0" font-size="18.2">5</text>
<rect x="308.2" y="1025" width="16.7" height="89.0" fill="url(#cb6)"/>
<line x1="321.4" y1="1113.1" x2="324.9" y2="1113.1" stroke="#fff" stroke-width="1.2"/>
<line x1="308.2" y1="1113.1" x2="311.7" y2="1113.1" stroke="#fff" stroke-width="1.2"/>
<text x="328.8" y="1119.6" font-size="18.2">0</text>
<line x1="321.4" y1="1088.1" x2="324.9" y2="1088.1" stroke="#fff" stroke-width="1.2"/>
<line x1="308.2" y1="1088.1" x2="311.7" y2="1088.1" stroke="#fff" stroke-width="1.2"/>
<text x="328.8" y="1094.6" font-size="18.2">2</text>
<line x1="321.4" y1="1063.2" x2="324.9" y2="1063.2" stroke="#fff" stroke-width="1.2"/>
<line x1="308.2" y1="1063.2" x2="311.7" y2="1063.2" stroke="#fff" stroke-width="1.2"/>
<text x="328.8" y="1069.7" font-size="18.2">4</text>
<line x1="321.4" y1="1038.2" x2="324.9" y2="1038.2" stroke="#fff" stroke-width="1.2"/>
<line x1="308.2" y1="1038.2" x2="311.7" y2="1038.2" stroke="#fff" stroke-width="1.2"/>
<text x="328.8" y="1044.7" font-size="18.2">6</text>
<rect x="691.2" y="1025" width="18.5" height="89.0" fill="url(#cb6)"/>
<line x1="706.2" y1="1112.5" x2="709.7" y2="1112.5" stroke="#fff" stroke-width="1.2"/>
<line x1="691.2" y1="1112.5" x2="694.7" y2="1112.5" stroke="#fff" stroke-width="1.2"/>
<text x="713.7" y="1119.0" font-size="18.2">0</text>
<line x1="706.2" y1="1087.7" x2="709.7" y2="1087.7" stroke="#fff" stroke-width="1.2"/>
<line x1="691.2" y1="1087.7" x2="694.7" y2="1087.7" stroke="#fff" stroke-width="1.2"/>
<text x="713.7" y="1094.2" font-size="18.2">2</text>
<line x1="706.2" y1="1062.9" x2="709.7" y2="1062.9" stroke="#fff" stroke-width="1.2"/>
<line x1="691.2" y1="1062.9" x2="694.7" y2="1062.9" stroke="#fff" stroke-width="1.2"/>
<text x="713.7" y="1069.4" font-size="18.2">4</text>
<line x1="706.2" y1="1038.2" x2="709.7" y2="1038.2" stroke="#fff" stroke-width="1.2"/>
<line x1="691.2" y1="1038.2" x2="694.7" y2="1038.2" stroke="#fff" stroke-width="1.2"/>
<text x="713.7" y="1044.7" font-size="18.2">6</text>
<path transform="scale(0.5)" d="M1601 2775h0m-15-5h0m-4 1h0m-4 9h0m-25-8h0m-25 10h0m-1047 5h0m1029 8h0m9 12h0m7-15h0m12 13h0m6-7h0m4 6h0m0 3h0m20-23h0m4 9h0m19 4h0m4-8h0m8 8h0m11-4h0m19 19h0m0 11h0m-3-7h0m-1 4h0m-2 2h0m-11-10h0m-4 17h0m-2-10h0m-3-2h0m-12 7h0m-4-16h0m-10 0h0m-5 13h0m-3-3h0m-10 5h0m-25-13h0m-3 6h0m-8-8h0m-18 12h0m-5 0h0m-6 9h0m-11 1h0m-19 1h0m-4-6h0m-1094 29h0m1078-19h0m38 19h0m5-21h0m13 16h0m4-12h0m78 0h0m9 12h0m6 1h0m18 1h0m11-1h0m1 5h0m1-11h0m9-4h0m10-5h0m128 39h0m-35-1h0m-87 3h0m-28-1h0m-13-12h0m-15 2h0m-2 4h0m-6 2h0m-10-11h0m-10-1h0m-3 20h0m-2-16h0m-18 10h0m-30-2h0m-10 1h0m-3-3h0m-47 9h0m-12-6h0m-1-7h0m-1103 29h0m1078-1h0m18-12h0m11 0h0m16 16h0m3 5h0m1-16h0m2-3h0m3 1h0m9 14h0m3-3h0m3-14h0m17 13h0m4-14h0m3 16h0m6-7h0m3-9h0m25 11h0m4-5h0m10 9h0m18-2h0m3 6h0m6-8h0m7-6h0m24 12h0m7 1h0m21-3h0m37-10h0m20 11h0m99-9h0m0-7h0m24 12h0m-74 19h0m-24 1h0m-36 3h0m-12-4h0m-35 15h0m-23-16h0m-7 2h0m-11-3h0m-5-4h0m-1 18h0m-11-16h0m-21 19h0m-4-11h0m-5 2h0m-11 1h0m-19-12h0m-26 18h0m-21-12h0m-6 1h0m-1 3h0m-8 10h0m-8-22h0m-36 18h0m-6 1h0m-1205 20h0m394-14h0m800 10h0m54-11h0m84 18h0m52-3h0m12-15h0m14 22h0m16-13h0m11 13h0m14-17h0m4 13h0m33-3h0m95-11h0m170 5h0m2 11h0m195 1h0m-187 9h0m-152 7h0m-140-2h0m-15-1h0m-11 12h0m-19-1h0m-12-12h0m-21-7h0m-45 10h0m-15 8h0m-23 0h0m-7-7h0m-4 10h0m-5-6h0m-25-1h0m-27-8h0m-27 4h0m-768-4h0m-80 15h0m-282-20h0m-9 10h0m-9-9h0m-75 3h0m554 35h0m635-1h0m20-8h0m1-6h0m42 2h0m24 12h0m20 4h0m1-15h0m37 16h0m20-22h0m10 21h0m10-6h0m68-2h0m67-10h0m1 5h0m341 12h0m56-18h0m51 3h0m37 13h0m-2 28h0m-525-15h0m-2 0h0m-3 1h0m-67 4h0m-16 5h0m-2-8h0m-21-1h0m-27 4h0m-3 5h0m-9-13h0m-6-1h0m-38 19h0m-12-7h0m-18 4h0m-2-6h0m-4 2h0m-1-7h0m-37-6h0m-5 18h0m-11 3h0m-672-20h0m-24 9h0m-200-4h0m-151-5h0m-23 10h0m-12 3h0m137 17h0m260 7h0m14-3h0m8-10h0m30 7h0m11 2h0m617 8h0m6-15h0m47 15h0m13-2h0m7-18h0m25 17h0m11-15h0m2 6h0m11 11h0m56 0h0m3-1h0m7-18h0m34 8h0m4-1h0m2 1h0m28 2h0m28-7h0m383 9h0m93 4h0m44-14h0m81 21h0m7 18h0m-12 2h0m-6 2h0m-11-12h0m-23 12h0m-583-15h0m-20 6h0m-54 0h0m-32 4h0m-2 0h0m-36-8h0m-3 8h0m-96-16h0m-863 11h0m-3 10h0m-127-12h0m-99 2h0m-51 1h0m-125-7h0m12 32h0m1-11h0m20 13h0m34 3h0m282-5h0m1 5h0m67-4h0m40 8h0m123-15h0m3-2h0m75 9h0m611-14h0m43 0h0m80 4h0m4 8h0m26-9h0m16 11h0m16-11h0m8 5h0m16-5h0m30 7h0m1 10h0m112-6h0m378-10h0m66 7h0m60 3h0m1 5h0m2-15h0m30 13h0m-13 11h0m-9 16h0m-3-6h0m-4 0h0m-30-7h0m-176 6h0m-443-1h0m-30 6h0m-9-18h0m-119 16h0m-843-14h0m-171-1h0m-188 6h0m-57 12h0m-14 23h0m153-7h0m42 7h0m27 1h0m35-4h0m101-10h0m18 8h0m190 0h0m53 3h0m11-14h0m46 0h0m499 21h0m5-17h0m4 4h0m20 9h0m68 4h0m34-9h0m18 6h0m0 0h0m34-16h0m52 17h0m617-9h0m23 30h0m-15 4h0m-366-22h0m-254 3h0m-57 2h0m-44 9h0m-25 7h0m-18-7h0m-66-9h0m-11 14h0m-14-6h0m-475-4h0m-81-1h0m-269 11h0m-64-16h0m-34 15h0m-81-3h0m-48-9h0m-212 2h0m133 36h0m25-6h0m6 3h0m215-11h0m29 15h0m73-10h0m5 12h0m74-18h0m3 8h0m140-10h0m58 20h0m498-16h0m5 2h0m15 0h0m10-5h0m13 10h0m16 6h0m39-9h0m6 6h0m1-11h0m13-3h0m52 0h0m42 1h0m32-1h0m23 16h0m21-19h0m27 13h0m12 2h0m-61 26h0m-115-14h0m-27 17h0m-65-11h0m-19 10h0m-33-19h0m-1 20h0m-6-16h0m-566 7h0m-120 5h0m-185-11h0m-11 11h0m-3 6h0m-9-2h0m-58 1h0m-114-12h0m-71-6h0m-108 35h0m7 0h0m6 0h0m36-9h0m8 13h0m131 0h0m130-16h0m8 2h0m0 3h0m98 8h0m5 0h0m108-15h0m141 2h0m37 17h0m521-8h0m2-4h0m0 15h0m15 1h0m27-23h0m4 3h0m3 0h0m47 14h0m11 3h0m4-7h0m74 2h0m11 4h0m24-5h0m1-4h0m85 30h0m-7-3h0m-78 0h0m-40-8h0m-7 11h0m-41 4h0m-12-12h0m-42 6h0m-51-12h0m-16 21h0m-2-16h0m0-7h0m-3 7h0m-10 5h0m-4 9h0m0-7h0m-848-11h0m-19 9h0m-55-2h0m-99 11h0m-65-3h0m-46-6h0m-35-3h0m-70 2h0m-2-1h0m-13 3h0m-19 20h0m9 13h0m5-9h0m41 6h0m21-13h0m8 0h0m2 4h0m4-9h0m6 19h0m19-10h0m0 3h0m70 5h0m65 4h0m54-3h0m41-5h0m35-11h0m17 16h0m64 0h0m14-3h0m10-10h0m803 6h0m1-5h0m3 3h0m1-8h0m1 7h0m12-2h0m1 12h0m3-16h0m10 2h0m3 13h0m1-5h0m39-4h0m22 2h0m38 7h0m3-5h0m38-5h0m37 7h0m10-10h0m25 3h0m4 0h0m49-1h0m126 24h0m-135 16h0m-14-21h0m-38 11h0m-43 5h0m-23-2h0m-74-13h0m-42 16h0m-4-10h0m-1 2h0m-29 1h0m-9-10h0m-3 4h0m-17 5h0m-742-2h0m-140-1h0m-3 11h0m-92-9h0m-20 12h0m-32-13h0m-31-7h0m-32 0h0m-19 16h0m-4-14h0m-5 13h0m-11 4h0m-11-16h0m-21 18h0m-30-22h0m-8 3h0m-1 15h0m-14-17h0m-19 20h0m-15-20h0m-2 19h0m-13-11h0m-2 11h0m-8-21h0m-9 2h0m-6 13h0m1 18h0m6 0h0m3-1h0m13 0h0m11-6h0m2 5h0m6 14h0m2-1h0m6-2h0m3 1h0m19-3h0m3 3h0m8 1h0m5-1h0m6 0h0m19-2h0m3-9h0m15 13h0m15-19h0m21 9h0m9 2h0m6 2h0m73-15h0m3 3h0m15 7h0m22 12h0m33-15h0m31 13h0m26-10h0m6-7h0m24-2h0m4 8h0m40 6h0m7-13h0m6 16h0m6-15h0m18 20h0m73-23h0m24 21h0m75-13h0m637 10h0m93-16h0m4-2h0m22 13h0m38 3h0m2-7h0m10 2h0m51-6h0m10 12h0m1-1h0m40 13h0m-16-2h0m-60 18h0m-88-1h0m-10-2h0m-65-2h0m-735-14h0m-17 4h0m-5 14h0m-42-1h0m-50-19h0m-24 14h0m-4 9h0m0-20h0m-45 20h0m-50-19h0m-14 17h0m-24-17h0m-28-3h0m-11 4h0m-37 1h0m-8 9h0m-22-3h0m-4 6h0m-4-16h0m-15 3h0m-2 16h0m-5-4h0m-5-3h0m-2-14h0m-4 23h0m-11-2h0m-19-6h0m-15-2h0m-7-4h0m-18 9h0m-8-10h0m-4 8h0m-1-4h0m-6 3h0m-1 4h0m-4-13h0m-2 2h0m-3-1h0m-21-2h0m-17 10h0m-5 6h0m-3-8h0m-1-3h0m-1-7h0m-2 4h0m-10 10h0m-5 2h0m-4-11h0m-6-4h0m22 26h0m0 6h0m16-2h0m4 9h0m6 2h0m5-21h0m8 8h0m2 5h0m8 7h0m1-4h0m7-12h0m1 9h0m4 6h0m2 1h0m3-14h0m6-6h0m2 11h0m10 3h0m7 5h0m3-12h0m6 9h0m1-7h0m1 5h0m3 8h0m1-11h0m4-5h0m1 11h0m1 5h0m27-11h0m8-10h0m7 20h0m1-13h0m4 13h0m3-9h0m10 9h0m6-15h0m4 7h0m5 10h0m28-21h0m2 2h0m14 10h0m12-5h0m2 7h0m11-15h0m2 16h0m0-17h0m10 16h0m1 1h0m11 2h0m0-18h0m2 8h0m19 8h0m44-7h0m2 13h0m17-7h0m6-16h0m22 6h0m73 10h0m1-10h0m10 4h0m12-3h0m1 2h0m66-2h0m6 5h0m7-4h0m2-6h0m19 1h0m410 18h0m293 1h0m9-2h0m6-18h0m11-1h0m26 12h0m18-11h0m13 8h0m53 11h0m24-7h0m30 13h0m-83 1h0m-9 0h0m-12-2h0m-837 8h0m-20-10h0m-3 8h0m-8-1h0m-35 0h0m-3 8h0m-41 6h0m-16 2h0m-14-22h0m-18 6h0m-47-5h0m-28 14h0m-4-14h0m-22 12h0m-13-1h0m-8-2h0m-4-9h0m-47 13h0m-2-11h0m-10 12h0m-4 3h0m0-5h0m-4-9h0m-4-1h0m-4 1h0m-4 2h0m0 16h0m-16-4h0m-7-16h0m-2 11h0m-3-1h0m-4-5h0m-4 6h0m-8-4h0m-2-6h0m0 11h0m-6-2h0m-2 4h0m0 0h0m-1-15h0m-8 14h0m-12-10h0m-4 11h0m-9-6h0m-6 4h0m-2-4h0m-8-9h0m-12 14h0m-1 7h0m-1-9h0m0-12h0m-2 4h0m-8 6h0m-9-12h0m-10 3h0m-1 20h0m-1-23h0m-2 8h0m-4 10h0m-10-14h0m-15 6h0m36 29h0m0-13h0m9 14h0m4-10h0m6 14h0m8-7h0m2-2h0m3 12h0m2-15h0m6 13h0m0 1h0m6-15h0m11 14h0m0-5h0m4-9h0m3 7h0m21-12h0m5 15h0m21-12h0m9 12h0m26-15h0m21 20h0m3-21h0m12 1h0m3-2h0m5 21h0m2 1h0m7-7h0m1-4h0m5-11h0m13 23h0m7-18h0m8 5h0m0 12h0m6-20h0m5-2h0m10 10h0m17-1h0m12 9h0m12 5h0m10-2h0m16-20h0m12 15h0m2-1h0m21 0h0m18 3h0m33-16h0m16 20h0m2-17h0m21 14h0m28 1h0m101-7h0m440-13h0m347 11h0m16 9h0m44-14h0m4 0h0m117 20h0m-117 13h0m-23-2h0m-13 8h0m-12-2h0m-515-11h0m-314-4h0m-14 1h0m-14-1h0m-2 5h0m-16 7h0m-24-10h0m-7-5h0m-28 7h0m-17-4h0m-16 6h0m-56-7h0m-23 15h0m-29 4h0m-20-5h0m-12-1h0m-4-9h0m-1 14h0m-5-17h0m-3 9h0m-1-4h0m-6 6h0m-6-8h0m-20 3h0m-2 7h0m-6-13h0m-18 10h0m-2 9h0m-3-19h0m-2 14h0m-19-13h0m-3 14h0m-13 4h0m-4-22h0m-1 7h0m-3-6h0m-2 1h0m-8 10h0m-2 1h0m-1 5h0m-23-7h0m-5-9h0m-6 18h0m-2 2h0m-1-16h0m-6 12h0m0 2h0m-3 2h0m-2-18h0m-18 9h0m-13 7h0m-6-5h0m-5 1h0m-3-7h0m-6-2h0m-18-6h0m-4 6h0m38 29h0m1-4h0m0 1h0m5 6h0m10-1h0m0-5h0m8-1h0m13 7h0m5-9h0m7 13h0m12 2h0m2-3h0m1-14h0m1-1h0m2 0h0m15-1h0m4 13h0m0-6h0m10 8h0m3 5h0m0-14h0m8-7h0m12 14h0m2-6h0m6 8h0m10-4h0m9 3h0m7-7h0m5 13h0m3-4h0m15-8h0m10 10h0m1-20h0m2 21h0m8-20h0m2 1h0m0 11h0m2-5h0m9 8h0m2-14h0m16 10h0m44-6h0m130-3h0m29 15h0m17 3h0m509-3h0m283-1h0m137-8h0m296 21h0m-32 12h0m-269 3h0m-35-11h0m-25-10h0m-4 8h0m-486-8h0m-6 6h0m-32 4h0m-574-10h0m-5 7h0m-5-2h0m-4-6h0m-6 9h0m-14 6h0m-10-6h0m-1 8h0m-1 6h0m-7-19h0m-9 15h0m-5-2h0m-28-4h0m-5-3h0m-3-9h0m-2 0h0m-3 5h0m-13 4h0m-28-1h0m0 3h0m-4-3h0m-5 14h0m-28-20h0m-16 4h0m-1-3h0m45 31h0m13-1h0m9 8h0m2-2h0m2-10h0m15-3h0m28 15h0m3-14h0m11 6h0m9-3h0m709 5h0m76-10h0m340 4h0m83 4h0m-11 18h0m-65 0h0m-338 2h0m-42 18h0m425 18h0" stroke="#1f8a3f" stroke-width="5.2" stroke-linecap="round" fill="none"/>
<path transform="scale(0.5)" d="M1578 2795h0m8 15h0m-24 15h0m-16-2h0m-39 1h0m-13-8h0m-18 34h0m58-13h0m6 15h0m47-7h0m350-1h0m-116 19h0m-15-4h0m-150 8h0m-13-8h0m-22 10h0m-61 6h0m-78-6h0m-62 9h0m151 17h0m8-11h0m192-3h0m33 22h0m21-21h0m1 18h0m-178 20h0m-3-6h0m-38-4h0m-20-5h0m-20 17h0m-105-5h0m-5 8h0m-1237 12h0m44 1h0m15-3h0m2-3h0m318 3h0m807-5h0m93 13h0m132-3h0m5-7h0m15 16h0m96-9h0m16 8h0m6-7h0m196 8h0m190-1h0m-12 26h0m-448-13h0m-76 2h0m-15-9h0m-71 3h0m-26-4h0m-12 3h0m-10 6h0m-60 2h0m-14-11h0m-916 3h0m-147 2h0m-53 14h0m-6-14h0m-6-5h0m-52 15h0m-43 2h0m-7 14h0m6 1h0m32 1h0m64-1h0m1113 6h0m35 2h0m93 0h0m16-1h0m28 4h0m12-10h0m527 10h0m27 3h0m25-5h0m10-8h0m14 9h0m33 4h0m5 4h0m-50 19h0m-10-4h0m-40 1h0m-465 3h0m-6-4h0m-12-2h0m-139-1h0m-3 8h0m-5-7h0m-23 5h0m-11-13h0m-11-6h0m-2 20h0m-38-2h0m-646-4h0m-59-16h0m-371 17h0m-8 0h0m-9-16h0m-3 11h0m-5-10h0m-69 16h0m-8-5h0m-2 1h0m-20 5h0m-30-9h0m-2-7h0m-14 40h0m19-15h0m29 19h0m9-20h0m2 18h0m4-12h0m11 4h0m44 5h0m19-13h0m23 2h0m8 10h0m21-11h0m25 0h0m19 15h0m45-2h0m20 3h0m27-20h0m10 16h0m12 4h0m24-3h0m153-16h0m701 20h0m10-5h0m121 2h0m7 2h0m101-10h0m41 9h0m474 0h0m17-16h0m8 0h0m19-4h0m26 9h0m1 2h0m33 4h0m-56 8h0m-12 19h0m-9 4h0m-5-15h0m-16 12h0m-11-14h0m-11 2h0m-7-8h0m-599 13h0m-64-11h0m-42 12h0m-553-7h0m-15 10h0m-110-14h0m-162 16h0m-4 0h0m-2-4h0m-12-2h0m-40-4h0m-18 9h0m-2-17h0m-16 22h0m-5-17h0m-14 9h0m-6-14h0m-11 11h0m-26 5h0m-17-7h0m-12 11h0m-38-19h0m-6 20h0m-10-4h0m-12-7h0m0-10h0m0 5h0m-5 4h0m-5 1h0m-16 3h0m-22 0h0m-2-12h0m-11 19h0m-3-14h0m-2 7h0m-13 8h0m-1-2h0m-8-7h0m-2 2h0m-21-6h0m-3-1h0m-9 10h0m-37-14h0m-1 6h0m-3-10h0m-5 15h0m-5 5h0m-2-10h0m0 2h0m-7-7h0m-11 8h0m-8 2h0m-1 3h0m-11 27h0m1-8h0m0 3h0m8 4h0m16-5h0m0 0h0m2-4h0m4-2h0m1 13h0m14-20h0m3 12h0m16 4h0m1-11h0m17-3h0m1 6h0m12 11h0m0-10h0m10-3h0m13 6h0m4 1h0m1-7h0m11-5h0m1 19h0m1-22h0m1 20h0m5-15h0m0-1h0m26 1h0m1 18h0m39-3h0m15 1h0m1-10h0m17 2h0m7-10h0m12 12h0m11-3h0m3 11h0m11 0h0m16-3h0m33-9h0m11 2h0m50-9h0m51 4h0m17 4h0m14 1h0m141 8h0m10-21h0m82 17h0m583-16h0m21 3h0m72 3h0m32 9h0m35-13h0m15 2h0m59 2h0m543 15h0m9-6h0m10-5h0m7 10h0m1 0h0m1-19h0m41 18h0m-49 5h0m-6 20h0m-18-17h0m-31 5h0m-9 0h0m-495 14h0m-6-7h0m0 5h0m-7-4h0m-28-4h0m-58 1h0m-16-2h0m-154-12h0m-503 9h0m-33-3h0m-55 12h0m-206-15h0m-3 7h0m-13-5h0m-22 15h0m-4-4h0m-35 2h0m-19-13h0m-17-3h0m-4 12h0m-1 7h0m-14-16h0m-13 14h0m-25-2h0m-3-11h0m-7 0h0m0 8h0m-6-2h0m-14 7h0m-11-4h0m-19 1h0m-4-11h0m-44-1h0m-16 16h0m-34-11h0m-2 12h0m-1-18h0m-4 1h0m-4-3h0m-5 9h0m-11 5h0m-1 7h0m-2-21h0m-10 6h0m-3-2h0m-3 16h0m-3-8h0m-9-6h0m-13-3h0m-33 2h0m-8-5h0m-5 8h0m-3 14h0m-1-6h0m-9-15h0m-19 20h0m-6 19h0m24-2h0m19-11h0m2 18h0m1-3h0m6-13h0m4 2h0m14 13h0m4-4h0m9-13h0m1 5h0m4 4h0m2-9h0m2 17h0m15-15h0m4 8h0m1 9h0m10-9h0m4-6h0m11 4h0m0-2h0m3 11h0m10-6h0m10-9h0m10 15h0m30-17h0m2 2h0m53 11h0m13 3h0m6-14h0m20 7h0m25-1h0m6-10h0m3-1h0m2 6h0m27 13h0m11-15h0m17 10h0m16 7h0m1-2h0m13-18h0m12 10h0m8 9h0m18-2h0m2-7h0m22-4h0m1 15h0m1-15h0m23-3h0m3 16h0m1-18h0m18 4h0m2 3h0m8 12h0m47-22h0m94 17h0m601 4h0m34-14h0m28 5h0m133-4h0m25 9h0m10-15h0m2 16h0m1-4h0m0-12h0m10 21h0m20-23h0m7 11h0m419 5h0m97 3h0m117-4h0m-28 10h0m-46 17h0m-19-11h0m-502 9h0m-18-16h0m-1 0h0m-31 13h0m-1 5h0m-3-14h0m-5 14h0m-6-15h0m-13 19h0m-11-6h0m-16-4h0m-74-6h0m-57 10h0m-34-13h0m-589 15h0m-151 3h0m-24-19h0m-31 19h0m-5-13h0m-33 0h0m-1 5h0m-18-4h0m-4 13h0m-20-19h0m-1 2h0m-4 1h0m-23 10h0m-45-1h0m-1-8h0m-23 9h0m-9 3h0m-2-13h0m-6-1h0m-7 7h0m-16-4h0m-12 10h0m-84 5h0m-2 0h0m-64-10h0m-5-5h0m-13 14h0m-11-17h0m-9 10h0m-22-14h0m-1 3h0m-6 8h0m-1-3h0m-18-4h0m-37-3h0m-5-1h0m-7 1h0m-2 14h0m-1 16h0m11-4h0m25 5h0m4-9h0m0 10h0m27-9h0m37 9h0m9 9h0m5-17h0m11 4h0m15 10h0m4-10h0m3 12h0m3 5h0m1-8h0m1-12h0m20 0h0m23-1h0m7 14h0m3-9h0m8 7h0m7-8h0m18-1h0m8 2h0m9 9h0m7-2h0m1 6h0m2-3h0m1 1h0m11-10h0m32 1h0m17 6h0m14 8h0m4-20h0m21 7h0m9-2h0m0 3h0m5-8h0m2-2h0m30 11h0m16-12h0m17 11h0m15 9h0m19-13h0m11 9h0m24-14h0m11 14h0m3-13h0m8 0h0m3 19h0m8-1h0m190-17h0m24 17h0m0-9h0m20 1h0m4 3h0m19-4h0m489 9h0m33-13h0m133-4h0m33 12h0m0-10h0m17 2h0m14-5h0m8-1h0m8 6h0m3 0h0m5-4h0m11-4h0m5 16h0m19-4h0m7 10h0m7-4h0m462 13h0m-189 15h0m-119-10h0m-167 0h0m-85 7h0m-19-17h0m-41 7h0m-44 14h0m-82-6h0m-43-14h0m-430 1h0m-87 14h0m-64-11h0m-20-6h0m-143 15h0m-6-11h0m-6 5h0m-16-3h0m-5 1h0m-15-4h0m-2 0h0m-14-3h0m-39 13h0m-6-5h0m-26-4h0m-3 18h0m-1-15h0m-3 8h0m-2-10h0m-5 17h0m-16-18h0m-14 0h0m-33 9h0m-22-7h0m-8 0h0m-32 9h0m-17 6h0m-1-9h0m-20 4h0m-12 2h0m-1-18h0m-4 18h0m-11-18h0m-1-1h0m-40 21h0m-2 2h0m-10-7h0m-36 6h0m-21-13h0m-4 7h0m-45 1h0m-5-6h0m-19 9h0m12 24h0m22-13h0m33-5h0m3 20h0m42 0h0m11-17h0m2 1h0m10 5h0m11 5h0m22-15h0m4 19h0m2 2h0m10-16h0m13 0h0m5-4h0m5 1h0m8 10h0m18-11h0m13-1h0m2-1h0m9 17h0m10-4h0m25-1h0m0 1h0m1 1h0m5 6h0m9-5h0m1 7h0m11-18h0m13 9h0m9 4h0m23-12h0m8 9h0m10 3h0m4-10h0m24 8h0m5-12h0m39 8h0m17-8h0m16 18h0m16 2h0m772 0h0m21-14h0m49 13h0m21-8h0m135 0h0m1-14h0m10 13h0m5 10h0m72-3h0m313 2h0m-404 16h0m-8-5h0m-194-5h0m-741 2h0m-12-5h0m-39 18h0m-5-16h0m-15 7h0m-4 1h0m-1 10h0m-11-10h0m-1 4h0m-10-10h0m-9-1h0m-11 12h0m-14-1h0m0 5h0m-27-6h0m-9-3h0m-10-1h0m0 12h0m-6-13h0m-8 11h0m-5-7h0m-2 8h0m-8-7h0m-6-12h0m-11 17h0m-5 4h0m-6-8h0m-8 8h0m-74-11h0m-31 2h0m-38 8h0m-30-8h0m-22-3h0m-31-2h0m-22 13h0m-4-20h0m-5 11h0m-41-11h0m-22 2h0m-17 25h0m62 5h0m9 4h0m25 3h0m45-11h0m31 4h0m38 10h0m16 1h0m3 2h0m6-15h0m18 1h0m13-7h0m10 17h0m1-10h0m5 11h0m0-18h0m3 15h0m10-10h0m12 9h0m1-5h0m6 4h0m11-6h0m0 13h0m29-20h0m8 13h0m6-1h0m33 9h0m6-13h0m3 2h0m10-6h0m8-4h0m1 9h0m13 8h0m8-17h0m14 5h0m23 0h0m1 15h0m0-22h0m9 10h0m4 7h0m4 6h0m10-5h0m2-8h0m46-7h0m717 6h0m38 9h0m16-8h0m145 11h0m110-20h0m281 5h0m56 12h0m1 18h0m-140 7h0m-272-16h0m-23 13h0m-151 2h0m-10 4h0m-763-9h0m-17-12h0m-48 11h0m-2-3h0m-5 2h0m-5 0h0m-1-3h0m-7 1h0m-12-4h0m-22 0h0m-15 14h0m-8-18h0m-3 7h0m-43-3h0m-28-1h0m-24 5h0m-1 3h0m-18-1h0m-36 1h0m-1-10h0m-6 16h0m-48-10h0m-18 8h0m-5 6h0m-3-22h0m-8 10h0m-10 11h0m-31-17h0m-4 12h0m-32 2h0m-17-4h0m-5-7h0m-95 32h0m124-1h0m85 1h0m30 1h0m12-4h0m28-10h0m5 8h0m12-3h0m2 16h0m6-10h0m17 9h0m3-9h0m0 6h0m11-19h0m24 15h0m6-15h0m11 0h0m2 11h0m31-5h0m0-1h0m9-5h0m61 0h0m32 5h0m4-4h0m4 15h0m1-13h0m32 17h0m16 0h0m30 2h0m11-1h0m8-11h0m691 3h0m28-4h0m12-9h0m12 7h0m24 4h0m12-1h0m64 6h0m80 3h0m15-4h0m214 2h0m-321 28h0m-12-14h0m-4-5h0m-36 15h0m-31 4h0m0-17h0m-10-1h0m-6 3h0m-44 0h0m-680-2h0m-52 7h0m-35-6h0m-13 16h0m-6-11h0m-43 8h0m-2-8h0m-19-1h0m-27-7h0m-11 4h0m-17 9h0m-11-15h0m-38 23h0m-21-20h0m-11 0h0m-3 7h0m-40 10h0m-30-12h0m-5 6h0m-20-12h0m-18 7h0m-9 0h0m-3 10h0m-36-8h0m-84-3h0m-32 10h0m-36-4h0m68 22h0m146-1h0m1 6h0m14-3h0m13-12h0m3 19h0m28-8h0m32-12h0m23 8h0m17-1h0m44-5h0m12 17h0m14-1h0m7-17h0m42-1h0m88 22h0m1-5h0m19-9h0m9 8h0m5-17h0m33 10h0m7 6h0m5-12h0m344 16h0m343-19h0m3 2h0m2 19h0m15-4h0m7-16h0m4 4h0m11 0h0m2 13h0m16-11h0m27 13h0m102-4h0m206 16h0m-224 4h0m-60-11h0m-55 20h0m-33-6h0m-10 7h0m-8-21h0m-4 5h0m-250 8h0m-421-5h0m-1-3h0m-31 9h0m-52 4h0m-21 3h0m-10-10h0m-13-4h0m-18 1h0m-21-9h0m-10 5h0m-15 17h0m-41-3h0m-84-12h0m-4 2h0m-8 3h0m-14-4h0m-2-8h0m-24 5h0m0 5h0m-14-10h0m-2 11h0m-93-3h0m-40 0h0m-83-8h0m6 25h0m12 12h0m168 4h0m20 3h0m6-9h0m42-10h0m1 3h0m0-2h0m18-3h0m8 17h0m141-17h0m3 19h0m15 1h0m67-9h0m36 9h0m13-3h0m23-2h0m5-4h0m263 2h0m16 2h0m119 2h0m307-16h0m7 2h0m2 17h0m57-19h0m56 2h0m8 15h0m38 0h0m321 9h0m-324 4h0m-18 11h0m-17-18h0m-7 22h0m-10 1h0m-10 0h0m-16 0h0m-6-14h0m-3 3h0m-14 0h0m-300-5h0m-96 14h0m-15-8h0m-49 0h0m-23 0h0m-17-4h0m-6-7h0m-277-1h0m-133 19h0m-111 1h0m-7-7h0m-9 6h0m-9-15h0m-26 4h0m-22 2h0m-4-1h0m-2 11h0m-35-7h0m-50-13h0m-123 11h0m74 20h0m41-3h0m59 12h0m64-3h0m204-10h0m57-1h0m1 3h0m2 4h0m265 5h0m40 1h0m23 2h0m58-4h0m2 0h0m82 6h0m333-17h0m29 5h0m21 2h0m5-10h0m35 18h0m294-16h0m-189 41h0m-93-1h0m-2 5h0m-57-15h0m-4-2h0m-9 5h0m-5 0h0m-8-2h0m-7 14h0m-7-5h0m-6-14h0m-4 17h0m-4-12h0m-1 14h0m-4-17h0m-4 13h0m-411-8h0m-51-9h0m-625 13h0m-21 8h0m-31-1h0m-30-21h0m-29 19h0m740 4h0m39 21h0m74-1h0m369-17h0m3 7h0m5-5h0m10 13h0m9-13h0m2 13h0m24-6h0m4 9h0m2-9h0m19-5h0m-1 28h0m-7 3h0m-7-9h0m-15-3h0m-1-1h0m-7 3h0m-10 3h0m-11 6h0m-6 5h0m-5-13h0m-1 1h0m-16-6h0m-1093 16h0m1124 15h0m7-3h0m23 3h0m0 12h0m2-17h0m22 14h0m-26 8h0m-427 18h0" stroke="#b3202b" stroke-width="5.2" stroke-linecap="round" fill="none"/>
<path transform="scale(0.5)" d="M467 2783h0m-24-1h0m-15-4h0m-1 1h0m-32 3h0m-5-9h0m-49 22h0m1 12h0m8-14h0m14 10h0m4 4h0m1-17h0m14 12h0m8 3h0m17-6h0m4-8h0m2-6h0m1 19h0m6 1h0m9-20h0m28 5h0m4 11h0m4-3h0m19-6h0m1 12h0m43 20h0m-32-3h0m-38-10h0m0 1h0m-62 16h0m-8-10h0m-55 3h0m-23 15h0m8 14h0m7 2h0m30-2h0m3-3h0m10-2h0m6-6h0m10 0h0m0 1h0m10-3h0m5 9h0m6-11h0m22-1h0m2 21h0m17-23h0m6 13h0m20 3h0m12 1h0m17 2h0m25-10h0m0-3h0m9 11h0m1429 18h0m-49-11h0m-276 6h0m-1098-3h0m-5-1h0m-4 3h0m-1 13h0m-11 2h0m-3-20h0m-24 6h0m-2 11h0m-34-8h0m-15 1h0m-6 0h0m-38 3h0m-4 6h0m0 4h0m-4-13h0m-15 10h0m-11-12h0m-2 15h0m-14-9h0m-2-8h0m-12 7h0m-43 2h0m-23-7h0m15 22h0m4 8h0m14 8h0m8-20h0m15 0h0m1 19h0m9-3h0m1 4h0m2-22h0m16 14h0m19-11h0m9 16h0m17-14h0m24 3h0m11 5h0m20 4h0m13 5h0m8-21h0m16 21h0m47-14h0m0-1h0m10-5h0m24 2h0m1-1h0m7 17h0m1 3h0m988-3h0m88-10h0m186 12h0m3-21h0m34 35h0m-26 11h0m-2-13h0m-4-7h0m-13-2h0m-1244 14h0m-9 4h0m-2 3h0m-11-17h0m-29 1h0m-3 6h0m-42 5h0m-21-15h0m-1 10h0m-21-2h0m-22 11h0m-6-16h0m-9 3h0m-24-4h0m-43 9h0m-4-12h0m-4 8h0m-20-9h0m-4 12h0m8 18h0m1-5h0m34 0h0m10 10h0m13 4h0m3-1h0m1-4h0m15-1h0m12-6h0m14 20h0m32-20h0m2 6h0m1 14h0m27-23h0m3 5h0m12 17h0m0-12h0m23 12h0m9 1h0m5-3h0m4-10h0m4-7h0m5 7h0m28 4h0m21-4h0m8 6h0m1218 4h0m9-4h0m3 3h0m15-12h0m22 12h0m2-2h0m0 4h0m1 0h0m308 3h0m-195 8h0m-30-1h0m-81 8h0m-9 1h0m-7 4h0m-13-15h0m-12 1h0m-28 2h0m-3 8h0m-1-2h0m-5 3h0m-9 1h0m-15 5h0m-1153-6h0m-13-1h0m-33 0h0m-1-12h0m-22 18h0m-10-17h0m0 2h0m-11 0h0m0 7h0m-14 6h0m-16-10h0m-10 9h0m-5-9h0m-5 4h0m-20 7h0m-1-7h0m-20 9h0m-1-9h0m-3 0h0m-21 4h0m-8-11h0m-5 0h0m-3 1h0m-6-1h0m-3-2h0m-30-1h0m-8 9h0m-2-7h0m-20 1h0m-62-7h0m-26 18h0m72 16h0m52 13h0m18-16h0m29 16h0m4-7h0m4-5h0m9-4h0m13-4h0m1 18h0m37-4h0m8-15h0m4 21h0m47-3h0m7-7h0m6 9h0m52 1h0m14-8h0m88 6h0m1039-3h0m51-10h0m0 6h0m13-5h0m0 11h0m14-10h0m10-1h0m9 0h0m0-9h0m2 4h0m10 10h0m8-4h0m9 7h0m3-6h0m316 4h0m-331 25h0m-2-5h0m-12-10h0m-23 7h0m-4-2h0m-1 8h0m-20-7h0m-11-3h0m-3 18h0m-3-13h0m0-8h0m-6 10h0m-3-3h0m-2 5h0m0 7h0m-3-17h0m-1 20h0m-3-14h0m-1-5h0m-36 15h0m-14-16h0m-8 9h0m-6 1h0m-3 6h0m-911 0h0m-34-13h0m-35 11h0m-2-9h0m-98 3h0m-4-8h0m-13 0h0m-3 8h0m-1-5h0m-6 15h0m-1-17h0m-7-3h0m-13 22h0m-5-4h0m-14 3h0m-5-16h0m-12 17h0m-15 0h0m-11-15h0m-8-6h0m-8 0h0m-8 12h0m-34-1h0m-13 4h0m-9-11h0m-2 17h0m-13-2h0m-7-18h0m-3 1h0m-17 10h0m-1 8h0m-1-3h0m-7-8h0m-5-2h0m-22 3h0m-8 0h0m-202 33h0m261-18h0m111 4h0m21 9h0m2-16h0m7 8h0m10 5h0m3 2h0m11-1h0m9-1h0m4 0h0m13 5h0m10-14h0m3 13h0m3 2h0m6-16h0m2 9h0m64-2h0m65-4h0m16 17h0m34-23h0m902 3h0m4 16h0m2-14h0m8 5h0m10 7h0m2-2h0m3-11h0m3 5h0m1 6h0m0 1h0m3-8h0m3 13h0m21-13h0m1-3h0m6 11h0m1 4h0m0-1h0m2-8h0m22 4h0m5 8h0m8-13h0m3 12h0m6-7h0m4-15h0m1 1h0m2 21h0m9-21h0m11 2h0m4 20h0m8-23h0m3 17h0m6-12h0m284-4h0m-282 24h0m-1 16h0m-1 3h0m-3-16h0m-22 17h0m0 2h0m-4-17h0m-7 10h0m-11-9h0m-4 7h0m-2-3h0m-1 0h0m0 5h0m0-14h0m-3 18h0m-4-3h0m-2 5h0m-2-16h0m-7-2h0m-21 12h0m-4-5h0m-2-2h0m-3-6h0m-1-1h0m-1 10h0m-6 8h0m-5-5h0m-11-3h0m-5-10h0m-2 4h0m-5-3h0m-2-1h0m-4 19h0m-4-4h0m-5-5h0m-4-11h0m-57 17h0m-922-4h0m-94-6h0m-4 8h0m-9-2h0m-5-5h0m-6 12h0m-35-16h0m-141 5h0m-24 6h0m-101 25h0m304-10h0m27 11h0m96-17h0m9-1h0m91 1h0m868 16h0m6 6h0m3-13h0m5-5h0m9 9h0m12-5h0m3-8h0m11 2h0m9-1h0m1-2h0m1 8h0m13 0h0m12-6h0m20 7h0m7 2h0m2 1h0m3-7h0m9 16h0m13 0h0m1-9h0m8-8h0m5 9h0m303 10h0m28-2h0m20-1h0m20 8h0m-6 6h0m-18 13h0m-1-21h0m-9 14h0m0 4h0m-1-7h0m-27 0h0m-85 9h0m-209-6h0m-3-5h0m-3-2h0m-1 3h0m-5-3h0m-8 4h0m-5 4h0m-2-1h0m-9-6h0m-32-5h0m-19 17h0m-23-12h0m-23 1h0m-15 12h0m-1-14h0m-3-3h0m-7 6h0m-1-12h0m-99 14h0m-145-2h0m-629-11h0m-51 32h0m40 2h0m28 0h0m858-9h0m3 2h0m9 4h0m3 8h0m8-13h0m9 6h0m11 13h0m10-9h0m11-7h0m1 8h0m5 0h0m3-7h0m1 5h0m3-12h0m8 14h0m6-9h0m1-1h0m2 3h0m15-6h0m11 0h0m9 4h0m1 17h0m10-19h0m8 19h0m4-4h0m8 0h0m5-17h0m267 16h0m2 5h0m10-12h0m3 0h0m5 1h0m20 7h0m23-2h0m5-13h0m1 10h0m4-1h0m1-2h0m10 23h0m-6 0h0m-11 12h0m-8-14h0m-2 12h0m-2-5h0m-7-14h0m-7 12h0m-5 9h0m-1 0h0m-35-20h0m-260 10h0m-13 1h0m0-8h0m-2 6h0m-4 5h0m-12-6h0m-1 6h0m-22 1h0m-7-2h0m-1-12h0m-1 4h0m-3 0h0m-4 12h0m-1 0h0m-6-2h0m-1-13h0m-19 1h0m-7-4h0m-2 0h0m-3 18h0m-17-1h0m-2-14h0m-3 8h0m-13 11h0m-3-5h0m-7-9h0m-1 2h0m-4 9h0m-8 3h0m-1491 9h0m664 12h0m8-16h0m820 15h0m1-3h0m8-7h0m14-2h0m1-4h0m19 6h0m5-6h0m4 20h0m2-22h0m5 11h0m8 9h0m14-15h0m7 17h0m3-18h0m8 12h0m6-1h0m0-13h0m2 2h0m30 9h0m7-8h0m13 7h0m1-12h0m5 1h0m4 21h0m14-7h0m80 8h0m160-19h0m5-1h0m4 10h0m9 5h0m8-9h0m5 6h0m6-5h0m4-5h0m3 6h0m5-3h0m19-3h0m2 3h0m2 10h0m3 2h0m10-12h0m2-3h0m0 2h0m-61 33h0m-2-13h0m-13 17h0m-2-5h0m-206-5h0m-38 8h0m-7-14h0m-8 3h0m-7-7h0m-6 15h0m-5-15h0m-5 11h0m-7-1h0m-2 6h0m-4-8h0m-2-7h0m-8 10h0m-5-8h0m-5 20h0m-18-21h0m-1 21h0m-8-21h0m-6 19h0m-18 0h0m-2-16h0m0 8h0m-6-13h0m-8 21h0m-11-15h0m-1-4h0m-22 9h0m-5 9h0m-2 2h0m-1-6h0m-2-14h0m-1 1h0m-3 17h0m-9 13h0m5 12h0m26-18h0m3 14h0m3 5h0m8-1h0m33-10h0m21-11h0m4 1h0m4 14h0m21 3h0m7-11h0m19-1h0m7 4h0m0 11h0m1 2h0m2-22h0m278 3h0m12 4h0m0-4h0m16 4h0m-242 39h0m-41-14h0m-7 9h0m-2-10h0m0 4h0m-4 1h0m-8 10h0m-2 0h0m0-1h0m-14-7h0m-1-2h0m-5 4h0m-2-9h0m-2 11h0m-6-17h0m-2 15h0m-1-9h0m-8-2h0m-3 16h0m-13 0h0m-11 1h0m-2-10h0m-6-12h0m-1 5h0m-5 3h0m-13 14h0m-4-11h0m0-2h0m-3 7h0m-11-12h0m-1 14h0m-2 0h0m-2 1h0m-5-1h0m-32-1h0m-9-1h0m-1583-12h0m-23 37h0m1590-8h0m8 1h0m3-3h0m4 12h0m3-17h0m6 7h0m5 2h0m5 6h0m5-18h0m8 22h0m18-12h0m13 12h0m2-1h0m19-14h0m1-4h0m8 8h0m0-8h0m2 9h0m5-6h0m4 2h0m1-8h0m2 23h0m8-18h0m3 9h0m12 0h0m5-11h0m3 1h0m5-4h0m2 17h0m4 0h0m2 4h0m1-6h0m3 2h0m0-13h0m13 14h0m5 5h0m4-15h0m7 12h0m6-18h0m2 9h0m5-7h0m88 31h0m-87-2h0m-15 11h0m-5-13h0m-3-3h0m-5 7h0m-4 9h0m-8-13h0m-1-1h0m-1-6h0m-1 19h0m-1-11h0m-5 7h0m-1-10h0m-1-2h0m-15 10h0m0 2h0m-7-8h0m-4-2h0m-2 6h0m-16 1h0m-21 2h0m-9 4h0m-2 1h0m-4-3h0m-1 1h0m-9-8h0m-7-2h0m-3 9h0m0-3h0m-7 3h0m-8-9h0m-11 12h0m-12-16h0m-16-3h0m-166 3h0m-902 31h0m925 6h0m133-1h0m9-3h0m3-8h0m13 1h0m6 2h0m4-6h0m4 18h0m21-10h0m10 9h0m1-17h0m1 9h0m10 0h0m10-2h0m3 11h0m4-9h0m6 6h0m2 3h0m16-4h0m25-13h0m6 13h0m4-5h0m7 10h0m3-4h0m4 3h0m4-9h0m7 6h0m7-12h0m20-3h0m15 14h0m83-4h0m-84 32h0m-2 2h0m-11-11h0m-2-3h0m-2 14h0m-2-15h0m-1 15h0m-5 2h0m-2-17h0m-3 5h0m-3 2h0m-5-9h0m-14 9h0m0 8h0m-6-7h0m-10-7h0m-4-7h0m0 23h0m-3-19h0m-15 3h0m0 4h0m-8-9h0m-2-1h0m-7 15h0m-4 1h0m-33 5h0m-4 0h0m-3 1h0m-1-20h0m-4 13h0m-1-1h0m-1 1h0m-1-9h0m-8 7h0m-3 1h0m-10 3h0m0-16h0m-10 9h0m-9 5h0m-15 3h0m-1 2h0m-2-5h0m-7-14h0m-1 6h0m-7 14h0m-2-13h0m-6 31h0m2 5h0m12-16h0m13 0h0m7 13h0m4 2h0m0-13h0m1 8h0m21-14h0m6 3h0m1 5h0m20 10h0m7-7h0m0 0h0m1 5h0m9 0h0m2 2h0m7-8h0m2 9h0m1-17h0m12 6h0m4 4h0m3 2h0m10-11h0m4 2h0m4-5h0m5 15h0m0-14h0m2 12h0m1 6h0m7-20h0m1 18h0m1-1h0m1-3h0m2 9h0m8-17h0m6-4h0m16 0h0m1 8h0m1 1h0m14 0h0m3 5h0m2 1h0m4-3h0m2-11h0m3 14h0m16 0h0m-20 9h0m-4 9h0m0 8h0m-6 4h0m-3-6h0m-6-3h0m0 4h0m-2-15h0m-2 16h0m-2-4h0m-3 4h0m-5-6h0m-5-2h0m-1 3h0m-1-7h0m-15 4h0m-12 2h0m0 7h0m-12 0h0m-14-5h0m0 0h0m-3 4h0m-6-19h0m-1 4h0m-12 16h0m-15 0h0m-8-13h0m-1 7h0m0 1h0m0-15h0m-16 6h0m-11-4h0m0 14h0m-3-6h0m-15 6h0m-1 7h0m-15-22h0m-17 20h0m-4-11h0m-5-9h0m-600 7h0m-31 7h0m-15-4h0m-87 21h0m77 15h0m34-19h0m5 8h0m601 8h0m12 0h0m3 2h0m3-22h0m0 5h0m4 11h0m2-1h0m15 8h0m2-23h0m16 7h0m8 6h0m1-6h0m5 16h0m4-14h0m3 13h0m13-12h0m10 11h0m5-10h0m2-8h0m4 16h0m3-13h0m1 12h0m3 1h0m17-12h0m2 7h0m2-7h0m11 0h0m1 7h0m3-1h0m2 0h0m1-13h0m3 18h0m7 2h0m9 3h0m8 0h0m1-3h0m1 2h0m0-10h0m2-3h0m7 7h0m5-8h0m4 9h0m16-13h0m8 4h0m6 14h0m6-14h0m4 3h0m1-5h0m0 13h0m3 2h0m-5 10h0m-2 13h0m0-15h0m-1 12h0m-1-11h0m-19 13h0m-2-8h0m-2 0h0m-6-8h0m-3 9h0m-4-8h0m-3 8h0m-9-12h0m-8 17h0m-7-1h0m-17 0h0m-1 6h0m-9-17h0m-2 9h0m-1 7h0m-3 2h0m-7-2h0m-31-17h0m-2 5h0m-2-1h0m-1-3h0m0-4h0m-2 3h0m-22 14h0m-3-7h0m-4-10h0m-1 22h0m-2-23h0m-8 3h0m-9 13h0m-1-13h0m-9 16h0m-6-5h0m0 3h0m-8-16h0m-2 15h0m-10-11h0m-4-2h0m-1 1h0m-1056-1h0m-166 5h0m-67 11h0m-57-14h0m780 28h0m520 7h0m10-4h0m23 6h0m5-13h0m1 8h0m29 1h0m1-3h0m10 7h0m5 1h0m7-16h0m3 11h0m7 1h0m1-13h0m2 11h0m3-7h0m0 5h0m19 0h0m5 8h0m2-1h0m5-7h0m5-6h0m8 7h0m1-3h0m1 3h0m14-10h0m3 16h0m5-11h0m7 5h0m4 7h0m11-3h0m5-4h0m4 5h0m8-11h0m3 5h0m18-2h0m4-9h0m18 21h0m16-18h0m-46 43h0m-13-11h0m-5-8h0m-6 16h0m-11 1h0m-1-13h0m-42 3h0m-11 3h0m-1 7h0m-4-15h0m-10 8h0m-25 10h0m-5-22h0m-16 15h0m-14-5h0m-14-11h0m-2 21h0m-1-13h0m0 2h0m0 1h0m-8-5h0m-1 6h0m-12 4h0m-45-14h0m-2 15h0m-502 3h0m-60-1h0m-53-14h0m-2 22h0m15 0h0m29 7h0m43-5h0m494 9h0m12-1h0m15-11h0m1 5h0m33-7h0m15 7h0m11 8h0m6-3h0m2-5h0m2 12h0m3 3h0m19-5h0m3-14h0m5 20h0m5-7h0m27-14h0m0 0h0m7 19h0m15-16h0m4 3h0m6-6h0m0 19h0m12-12h0m0 10h0m15-8h0m2-5h0m0 10h0m26-8h0m18-3h0m-123 19h0m-35 1h0m-32 1h0m-13 13h0m0-4h0m-14 8h0m-5 2h0m-6-13h0m-1 12h0m-36-9h0m-3 10h0m-1-20h0m-494 1h0m-30 27h0m35-5h0m31 12h0m456-6h0m14-3h0m10 12h0m16-14h0m-515 26h0m-8-1h0m-648 142h0" stroke="#3a78b0" stroke-width="5.2" stroke-linecap="round" fill="none"/>
<path transform="scale(0.5)" d="M1584 2780h0m-7-1h0m-11-7h0m-1136 28h0m1081 5h0m6-13h0m27-8h0m30 0h0m14 23h0m23-8h0m25 32h0m-14-12h0m-57 1h0m-46-4h0m-29-6h0m-10 4h0m-8 11h0m-1018-15h0m-123 15h0m1109 25h0m5-10h0m19-8h0m17 1h0m4 9h0m48 8h0m33 1h0m11-6h0m3-8h0m6 7h0m9-1h0m2 11h0m18-7h0m1-15h0m18 15h0m22-4h0m248 11h0m-6 4h0m-71 10h0m-16-5h0m-26 13h0m-29-4h0m-23-2h0m-29 1h0m-6-1h0m-31 6h0m-9-3h0m-32-4h0m-21-1h0m-32-11h0m-12 10h0m-5 6h0m-15-8h0m0-2h0m-3-6h0m-16 21h0m-9-7h0m-6 8h0m-21-14h0m-21 10h0m-7 2h0m-2-13h0m-21 6h0m0-1h0m-15-7h0m-905 24h0m64 11h0m856-9h0m19 6h0m28-6h0m30 6h0m30 6h0m2-7h0m2-10h0m2-2h0m6 3h0m25 15h0m4 2h0m35 2h0m6-1h0m30-21h0m3 21h0m64-6h0m3 1h0m10-16h0m30 10h0m15-7h0m22 18h0m4-18h0m13 18h0m4 6h0m-19 14h0m-15-1h0m-5-10h0m-2 1h0m-6 15h0m-14-21h0m-9 8h0m-13 11h0m-1-14h0m-52-1h0m-12 12h0m-2-3h0m-6-5h0m0-7h0m-15 12h0m-38 3h0m-14-14h0m-5 1h0m-5 15h0m-11 0h0m-38-19h0m-27-1h0m-21 7h0m-42 4h0m-4 9h0m-1-15h0m-2 11h0m-17-7h0m-11 11h0m0-2h0m-2-8h0m-882-10h0m-212 22h0m-29-1h0m-109 13h0m14 12h0m382-12h0m860 8h0m2-1h0m16 5h0m8-16h0m5-3h0m12 1h0m5 7h0m5 0h0m26-9h0m4 6h0m27-4h0m15 16h0m6 2h0m5-14h0m11 4h0m18-8h0m7 0h0m2 19h0m1-14h0m12 12h0m11-21h0m10 20h0m8-4h0m52-7h0m8 1h0m3 0h0m61 1h0m19 2h0m4 8h0m13-7h0m292 9h0m6-15h0m52 7h0m2 1h0m2 3h0m32 12h0m-5-6h0m-5 20h0m-1-14h0m-8 4h0m-28-7h0m-15 17h0m-1-9h0m-11-7h0m-372 3h0m-23 2h0m-1-3h0m-33 4h0m-41 5h0m-8 1h0m-7 5h0m-6-14h0m-4-5h0m-5 18h0m-29-1h0m-19 2h0m-8-1h0m-3 1h0m-1 0h0m-26-14h0m-18-3h0m-12 11h0m-4 5h0m-3-12h0m-9-5h0m-4 2h0m-2 9h0m-21-7h0m-18-6h0m-7 3h0m-2 12h0m-9-6h0m-6 0h0m-14-7h0m-2 14h0m-793-1h0m-16 2h0m-288 3h0m-68-3h0m-53-7h0m-21 15h0m15 16h0m42-8h0m0-1h0m11-10h0m3 9h0m49-3h0m5 2h0m10 13h0m3-14h0m7 14h0m2-8h0m213 6h0m873 0h0m20-8h0m10 4h0m21 6h0m20-5h0m2-5h0m27-3h0m13 1h0m4 1h0m11 3h0m2-2h0m9-6h0m77 16h0m3 0h0m1-20h0m8 4h0m4-4h0m1 12h0m7 6h0m10-10h0m1 6h0m23-15h0m1 21h0m6-16h0m3 0h0m8 0h0m5 2h0m2 14h0m359-15h0m46 15h0m24-14h0m11 9h0m28-10h0m2-5h0m49 22h0m21-3h0m14 22h0m-5 4h0m-1-17h0m-1 7h0m-25-4h0m-8 0h0m-21 2h0m-1-10h0m-9 3h0m-27 6h0m-5-6h0m-1-3h0m-4 0h0m-473 13h0m-1-11h0m-8 21h0m-1-9h0m-4 6h0m-1-15h0m-3 9h0m-9-13h0m-13 2h0m-6 3h0m-17 7h0m-15 8h0m-20-10h0m-3 2h0m-3 8h0m-1-13h0m-4 8h0m-12-5h0m0-7h0m-24 14h0m-18-14h0m-6 9h0m-15-2h0m-4 11h0m0-10h0m-1-8h0m-22 0h0m-9 0h0m-21 3h0m-8-5h0m-30 10h0m-3-7h0m-646 11h0m-40-9h0m-169 8h0m-178 7h0m-36-1h0m-14-19h0m-4 15h0m-85-13h0m-36-1h0m6 44h0m2-10h0m17-10h0m61 13h0m27 0h0m2 1h0m4-9h0m5-7h0m4 9h0m0 9h0m5-14h0m2 9h0m6-4h0m13-8h0m10 13h0m16-14h0m1 17h0m39-14h0m3 6h0m3 8h0m11-13h0m11 4h0m19-2h0m11 4h0m4 6h0m11-2h0m3-4h0m118-1h0m793-5h0m7 0h0m1 2h0m4 11h0m2-10h0m4-7h0m3 2h0m33 7h0m20 10h0m12-6h0m0-2h0m1 5h0m1-3h0m6-4h0m24-8h0m43 0h0m49 7h0m7 11h0m1-12h0m1-5h0m7-1h0m2 18h0m20-19h0m37-1h0m3 2h0m442 21h0m4-11h0m5 0h0m18 11h0m5-18h0m9-1h0m18 11h0m1 2h0m4 0h0m3 3h0m8-1h0m1-6h0m11 0h0m3 6h0m9-4h0m4-4h0m1 6h0m7-4h0m0-8h0m2 8h0m5-9h0m28 17h0m1 25h0m-12-1h0m-24-9h0m-9-3h0m-5-9h0m-5 22h0m-15-11h0m-18-5h0m-13-4h0m-2 12h0m0 6h0m-27-5h0m0 7h0m-7-8h0m-472-6h0m-7 1h0m-4 0h0m-5-7h0m-5 4h0m-7 15h0m-13-11h0m-2 5h0m-6 3h0m-1-7h0m-15-5h0m-2 1h0m-29 9h0m-21-14h0m-3-2h0m-8 13h0m-6-10h0m-1 9h0m-2-2h0m-2-7h0m-34-2h0m-7 1h0m-22 7h0m-3-1h0m-6 1h0m-6 5h0m-7 5h0m-1-10h0m-10-7h0m-10 21h0m-11-18h0m-12 3h0m-9 4h0m-531 3h0m-19-1h0m-263 7h0m-19-17h0m-9 3h0m-9 2h0m-19 7h0m-5 7h0m-3-16h0m-1-4h0m-21-1h0m-3 12h0m-16-3h0m-5 0h0m-35-7h0m-3 7h0m-4 0h0m-22 3h0m-6-9h0m-6 12h0m-7-16h0m0 6h0m-10-4h0m-1 14h0m-3-13h0m-41 18h0m-2-14h0m-5 9h0m-9-4h0m-17 3h0m-5-5h0m-17-3h0m-4 0h0m-5-3h0m-3 18h0m-32 0h0m-17-20h0m-10 5h0m-13 5h0m-23-8h0m-16 10h0m-24-1h0m-14 31h0m2-8h0m40 0h0m2-12h0m24-1h0m33 11h0m10 7h0m3 3h0m2-2h0m20-8h0m3 5h0m4-3h0m25 0h0m6-6h0m11-5h0m15 10h0m0-3h0m6 8h0m28 0h0m2-5h0m6 11h0m22-17h0m3 0h0m20-2h0m10 7h0m2-1h0m9-7h0m1 1h0m1 6h0m2 0h0m1 10h0m4-3h0m11 2h0m19-17h0m18 18h0m28-1h0m13-5h0m16-11h0m5 5h0m14 12h0m0 3h0m2-12h0m26-11h0m14 3h0m172 19h0m45-3h0m63 4h0m515-3h0m2-11h0m17-3h0m6-3h0m6 4h0m7 15h0m18-21h0m27 14h0m10-13h0m8 11h0m9 8h0m19-7h0m5-4h0m11 1h0m5 3h0m8 5h0m13-12h0m4 1h0m17 14h0m19-21h0m4 14h0m1-9h0m10 15h0m1-5h0m8-10h0m13-3h0m430 17h0m65-3h0m7-1h0m10 7h0m21-22h0m2 16h0m6 2h0m16-12h0m5 12h0m0-9h0m2 9h0m17-13h0m2 4h0m2 11h0m0-18h0m17 7h0m2 12h0m10-17h0m40 32h0m-8-3h0m-46 8h0m-2 0h0m-7 0h0m-9-10h0m-8-1h0m-9 12h0m-9-9h0m-22 9h0m-7-4h0m-27-11h0m-388 9h0m-98-2h0m-27 2h0m-31-11h0m-29 6h0m-45 13h0m-12-15h0m-17-5h0m-8 13h0m-20 6h0m-16-16h0m-12-3h0m-5 12h0m-1 3h0m-4-10h0m-1-6h0m-15 4h0m-20 6h0m-564 6h0m-65-8h0m-29 0h0m-6-4h0m-116 1h0m-3 16h0m-5-18h0m-6-1h0m0 20h0m-15-8h0m0-3h0m-21 12h0m-16-20h0m-7 15h0m-30-8h0m-12 8h0m-28 4h0m-2-2h0m-17-17h0m-3 20h0m-3-19h0m-20-1h0m-27 9h0m-19-10h0m-7 13h0m-4 0h0m-2 6h0m-7-4h0m-5-10h0m-8 3h0m-2-2h0m-10 9h0m-23 6h0m-3-2h0m0-14h0m-9 3h0m-1 9h0m-13 3h0m-14-19h0m-13 2h0m-3-2h0m-5 15h0m-55-1h0m-9-16h0m-43 18h0m-3-2h0m-13 8h0m83 2h0m9 12h0m4-6h0m5-4h0m12 17h0m15-8h0m21-9h0m39 2h0m12 6h0m2 1h0m8-14h0m2 22h0m8-8h0m1-7h0m2 8h0m1-10h0m3 5h0m3-4h0m7 0h0m1 2h0m6-2h0m41-4h0m5 18h0m21-6h0m5 7h0m15-20h0m3 18h0m12-9h0m11-6h0m5 3h0m1 11h0m12-8h0m1 7h0m40 5h0m14-20h0m3 2h0m7 7h0m13 5h0m5 3h0m4-15h0m2-3h0m2 18h0m11-13h0m38-3h0m20 16h0m116-19h0m57 9h0m15-2h0m520 9h0m13-1h0m13-13h0m1 19h0m9-9h0m1-5h0m26 15h0m4-16h0m1 13h0m36 2h0m22-13h0m12 7h0m4-12h0m7-3h0m18 13h0m7 2h0m28 7h0m2-5h0m20-17h0m0 2h0m4 18h0m10-13h0m2 9h0m1-7h0m16-4h0m2 6h0m12-1h0m13 12h0m9-3h0m560-1h0m25-14h0m5 0h0m-8 37h0m-614-15h0m-9 10h0m-28-2h0m-4 2h0m-13 2h0m-4-7h0m-5-6h0m-27 7h0m-4 2h0m-3-1h0m-1-5h0m-1 18h0m-11-20h0m-1 21h0m0-10h0m-6 6h0m-10-15h0m-2-2h0m-3 19h0m-10-9h0m-17 5h0m-12-11h0m-14 3h0m-21 5h0m-4 5h0m-11 2h0m-9-12h0m-1 10h0m-17 1h0m-5-15h0m-520 1h0m-69 15h0m-131-19h0m-8 16h0m-21 5h0m-10-21h0m-13 18h0m-12-7h0m-19 10h0m-11 0h0m-2-20h0m-16 4h0m-13-3h0m-3 11h0m-21-8h0m-1-1h0m-6 1h0m-4 1h0m-12 2h0m-27-9h0m-25 3h0m-9 10h0m-4 2h0m-1-15h0m-6 14h0m-21 2h0m-1 6h0m-14-10h0m-1-2h0m-6 3h0m-3-3h0m-11 12h0m-5-21h0m-3 10h0m-8 10h0m-7-17h0m-2 17h0m-9-13h0m-6 6h0m-3-14h0m-23 13h0m-1-10h0m-21 7h0m0 5h0m-10-11h0m-23 9h0m-5-4h0m-1-7h0m-20 10h0m-1 1h0m-19-12h0m-17 5h0m-6-5h0m-26 13h0m-17-6h0m-1-6h0m-4-1h0m-1 2h0m-2 9h0m-19 21h0m9-4h0m0-6h0m18 10h0m16 12h0m20-13h0m14 12h0m1-5h0m2 3h0m9-18h0m9 15h0m10-15h0m1 5h0m3 2h0m11-7h0m2 9h0m1 3h0m27-4h0m8 1h0m3 13h0m2-19h0m11 7h0m8 7h0m55 5h0m1-8h0m13 5h0m3-13h0m41 7h0m24-13h0m11 3h0m9 4h0m3 5h0m10-7h0m6 6h0m9 11h0m5-23h0m0 5h0m9 9h0m0-2h0m4 9h0m17-9h0m16-10h0m32 1h0m12 8h0m5 6h0m20-8h0m5-8h0m4 10h0m8-1h0m3-2h0m1 11h0m11 0h0m43-14h0m14 1h0m2 1h0m121-4h0m34 16h0m47-4h0m15 8h0m57-9h0m405-14h0m10 4h0m0 0h0m24 5h0m15 7h0m3 7h0m22-23h0m11 12h0m6-4h0m4 12h0m4-19h0m5 20h0m19-21h0m4 12h0m19-10h0m2 12h0m28-7h0m11-2h0m4 1h0m29 12h0m1-14h0m3 3h0m0-7h0m6 3h0m10 6h0m8 7h0m2-3h0m13 3h0m41-1h0m30-15h0m1 19h0m9-1h0m449-10h0m7 1h0m-451 25h0m-12 8h0m-4 2h0m-36-10h0m-33 4h0m-17-6h0m0-4h0m-11 11h0m-7-14h0m-34 11h0m-3 9h0m-24-9h0m-1 0h0m-8-4h0m-8-6h0m-1 4h0m-2 7h0m0-7h0m-12-3h0m-3 13h0m-1-5h0m-6-3h0m-7 13h0m-9-1h0m-4-5h0m0 5h0m-4-15h0m-1 2h0m-15 1h0m-1 10h0m-6 1h0m-6-1h0m-15-4h0m-11-3h0m-26-5h0m-14 14h0m-448-19h0m-264-1h0m-4 1h0m-12 8h0m-7 3h0m0 10h0m-2-18h0m-18 14h0m-8-8h0m-1 13h0m0-12h0m-29 0h0m-2 0h0m-13 4h0m-15-10h0m-2 13h0m-6 2h0m-15-1h0m-11-6h0m-9-8h0m0 5h0m-26-2h0m-2 9h0m-14-1h0m-11 5h0m-20 0h0m-2 1h0m-2-18h0m-4 6h0m-25 6h0m-19-13h0m-8 4h0m-3-5h0m-5 20h0m-9-8h0m-3 8h0m-56-3h0m-8-6h0m-3-11h0m-2 21h0m-5-9h0m-5-14h0m-41 4h0m-13 19h0m-27-21h0m-12 8h0m-9 3h0m-3-8h0m-12 11h0m-33-6h0m-11-10h0m-7 13h0m-5 3h0m3 20h0m1 7h0m7 4h0m3-13h0m9 11h0m13-6h0m9 8h0m10 0h0m9-9h0m22 7h0m7 0h0m16-6h0m20-11h0m2 17h0m2-11h0m6 10h0m3-2h0m10-16h0m8 5h0m1 11h0m13-12h0m1 14h0m3-19h0m1 22h0m2-7h0m3-11h0m11 14h0m2 3h0m3-6h0m4-13h0m13 17h0m2 0h0m11 1h0m1-10h0m8-8h0m2-1h0m14 20h0m3 1h0m18-11h0m15-6h0m5 5h0m39 8h0m2-19h0m1 1h0m73 11h0m8-12h0m27 11h0m9 1h0m1 3h0m14-7h0m18-5h0m14 13h0m32-10h0m14 11h0m28 1h0m5 2h0m690-9h0m34-5h0m10-2h0m4 14h0m3-7h0m1-7h0m6-3h0m20 8h0m2-7h0m17 16h0m21-15h0m13-3h0m20 21h0m8-9h0m12 9h0m21-16h0m12 4h0m10 9h0m8-10h0m19-8h0m3 0h0m1 18h0m27 2h0m1-10h0m20-2h0m29-2h0m295 7h0m-136 19h0m-182 12h0m-10-3h0m-19 5h0m-12-20h0m-7-2h0m-1 3h0m-9 13h0m-3-14h0m-31 16h0m-8-9h0m-4-8h0m-17 22h0m-13-20h0m-18 14h0m0-15h0m-19 0h0m0-1h0m-1 11h0m-11 6h0m-4-12h0m-23 14h0m-5-20h0m-10 19h0m-4-5h0m-11 9h0m-1-4h0m-4 3h0m-22-22h0m-10 0h0m-4 7h0m-11-2h0m-712 5h0m-40 9h0m-15-17h0m-24 12h0m-6-5h0m-10 1h0m-20 11h0m-14 1h0m-3-6h0m-11-16h0m-5 16h0m-31-2h0m-22-10h0m-21 16h0m-5-10h0m-2-4h0m-14-5h0m-49 11h0m-26 8h0m-2-9h0m-6-7h0m-5 8h0m-12 11h0m-25-20h0m-8 4h0m-1-5h0m-6 7h0m-4 7h0m-5-13h0m-21 16h0m-24 1h0m-4-16h0m-4 4h0m-6 9h0m0-7h0m-23-2h0m-4-5h0m-27 3h0m-1-6h0m-17 19h0m-3-3h0m0 1h0m-3-13h0m-25 16h0m-7-7h0m-6 11h0m32 9h0m6 8h0m13 0h0m1-6h0m9-1h0m6 13h0m4-19h0m0 8h0m0 0h0m3 5h0m13-17h0m9 22h0m11-13h0m5-5h0m5 15h0m20 1h0m2-20h0m9 16h0m0-3h0m9 0h0m1 3h0m5 5h0m11-9h0m8-3h0m19-2h0m2 13h0m2-13h0m34 14h0m2-20h0m34 16h0m27-10h0m38-5h0m20 7h0m26-9h0m52 5h0m28-1h0m5 9h0m47-12h0m739 4h0m11 14h0m45-3h0m5-5h0m19-11h0m5 15h0m43 7h0m2-12h0m18 2h0m12-10h0m13-1h0m12 5h0m1-2h0m16 2h0m10-4h0m7 17h0m4-2h0m3-17h0m10 13h0m14 6h0m7-3h0m3-3h0m6-4h0m8 4h0m0 0h0m12-4h0m6-8h0m10 3h0m3 1h0m21 13h0m2-3h0m1 7h0m1-18h0m5-4h0m4 2h0m1 16h0m55 4h0m19-21h0m242 29h0m-330 4h0m-10 12h0m-1-18h0m-8 18h0m-14-1h0m0-1h0m-7 1h0m-1-12h0m-3-8h0m-6 17h0m-2-9h0m-2 2h0m0 4h0m-1-9h0m-2 8h0m0 3h0m-3-9h0m-4 15h0m-39-23h0m-6 22h0m-2-8h0m-3-6h0m-5 4h0m-10 4h0m-21-14h0m0-1h0m-6 3h0m-5 15h0m-11-11h0m-24 2h0m-14 6h0m-6-10h0m-14 9h0m-11 7h0m0-15h0m-14 9h0m-12 3h0m-4 3h0m-17-1h0m-24-16h0m-3 0h0m-706 11h0m-57 4h0m-77-8h0m-38-4h0m-61-1h0m-29-6h0m-45 20h0m-9-17h0m-62-2h0m-10 15h0m-29-4h0m-10 6h0m-4-15h0m-14 19h0m-24-3h0m-22-19h0m-39 19h0m-26-1h0m0-12h0m-8 25h0m50 14h0m23-18h0m21-3h0m10 3h0m25 0h0m11 6h0m7 7h0m16-16h0m13 22h0m25-1h0m16 0h0m9-9h0m11-10h0m3 1h0m23 13h0m4-6h0m21-1h0m7 5h0m180-8h0m8 1h0m87 11h0m23-12h0m721 5h0m20-3h0m42-9h0m2 12h0m4 0h0m6 0h0m24 5h0m2-13h0m30-1h0m15 19h0m13-18h0m5 19h0m7-18h0m13 5h0m2-10h0m7 13h0m1-6h0m6-2h0m1 16h0m14-11h0m6-4h0m4 6h0m22-2h0m10 3h0m5-12h0m106 38h0m-125-13h0m-24 12h0m-11-11h0m-11 13h0m-26 2h0m-17 0h0m-8-2h0m-6-9h0m-10 7h0m-4-5h0m-19 8h0m-12 6h0m-9-22h0m-2 0h0m-12 19h0m-5-9h0m-1-9h0m-26 20h0m-16-17h0m-7 2h0m-26 2h0m-17-8h0m-727 0h0m-228 9h0m-39 9h0m-44-5h0m-7 5h0m-15-1h0m-2-5h0m-16-9h0m-8-3h0m-16 14h0m-22-5h0m-25 2h0m-1 3h0m-20-13h0m-15 5h0m-13-7h0m-61 14h0m-16 19h0m20 3h0m8-7h0m73 1h0m16 7h0m158-5h0m1-2h0m24-3h0m125 6h0m84 6h0m39-11h0m755 8h0m53-5h0m1 11h0m16-11h0m5 0h0m3 16h0m7-9h0m5 5h0m1 2h0m6-8h0m7-11h0m1 20h0m5-21h0m9 6h0m6-4h0m6-3h0m7 3h0m2 4h0m11 9h0m25 0h0m8-2h0m11 7h0m3 2h0m3-19h0m1 13h0m4-12h0m24-4h0m138 11h0m44 33h0m-225-11h0m-17 4h0m-6-5h0m0-8h0m-7 0h0m-17 17h0m-32-15h0m-24 10h0m-11-12h0m-4 14h0m-12 5h0m-20-3h0m-27 0h0m-1 6h0m-282-22h0m-69 12h0m-18-12h0m-20 13h0m-6-13h0m-47 18h0m-325 2h0m-54-9h0m-56 8h0m-55-14h0m-2 2h0m-51 11h0m-44-17h0m-81 4h0m-15-5h0m-1 14h0m-17-7h0m-13 13h0m-113-11h0m-21 2h0m-10-2h0m51 14h0m199 5h0m42 13h0m112-11h0m26 11h0m97-2h0m92-2h0m4 3h0m265-10h0m40 13h0m25-6h0m56 9h0m45-6h0m246 6h0m74-15h0m0-7h0m25 21h0m15-15h0m2-6h0m12 15h0m15-6h0m16 11h0m-11 26h0m-10-6h0m-6-6h0m-23-8h0m-2 11h0m-7 4h0m-5-6h0m-17-7h0m-15-4h0m-32 12h0m-5 2h0m-11 2h0m-4 5h0m-9-13h0m-284 3h0m-55 11h0m-145-8h0m-265 5h0m-1 3h0m-167-21h0m-55 3h0m-47 12h0m-32-10h0m-35 13h0m-53-15h0m-21 6h0m-36 7h0m-2-14h0m-10 36h0m8-7h0m22 2h0m29 9h0m30-19h0m73 21h0m24-8h0m247 7h0m441-11h0m7-7h0m27 12h0m0-7h0m348 10h0m17-13h0m0-4h0m10 16h0m11-9h0m24 15h0m9-9h0m3 3h0m6-6h0m21-7h0m-90 35h0m-2 6h0m-20 1h0m-325-4h0m-5-13h0m-8 17h0m-11-11h0m-1 11h0m-31-20h0m-2 7h0m-78-2h0m-643 13h0m-22 2h0m-4-17h0m-73 30h0m806 0h0m36 9h0m17-20h0m27 6h0m329-1h0m101 3h0m64 18h0m-88 19h0m-23-21h0m-512 0h0m65 47h0m437-19h0" stroke="#e8943c" stroke-width="5.2" stroke-linecap="round" fill="none"/>
<path transform="scale(0.5)" d="M1599 2778h0m-13-4h0m-10 9h0m-4-4h0m-11-9h0m-7 12h0m-36 21h0m8 2h0m9-6h0m6-14h0m6 11h0m2-6h0m2 14h0m3 0h0m0 2h0m1-2h0m25-12h0m2 10h0m18-7h0m20 2h0m3 7h0m13 15h0m-4 10h0m-8-4h0m-2 0h0m-3-6h0m-16-7h0m-2 6h0m-5 3h0m-1-1h0m-10 5h0m-25-9h0m-7 2h0m-22 3h0m-17 9h0m-7-3h0m-5-4h0m0 3h0m-2-11h0m-1-6h0m-14 0h0m-18 14h0m-19 29h0m26-7h0m1 9h0m0-2h0m104-11h0m39 11h0m1-20h0m28 2h0m153 45h0m-100-1h0m-19-11h0m-5-5h0m-16-3h0m-9 0h0m-20 0h0m-26-1h0m-16 1h0m-18 1h0m-1 11h0m-33-1h0m-4 2h0m-9 0h0m0-10h0m-13 2h0m-22 2h0m-39 7h0m-962 26h0m954-17h0m12 21h0m34-20h0m3 13h0m14-16h0m12 21h0m1-1h0m50-20h0m14 12h0m3-1h0m35 1h0m18-2h0m63-1h0m53-5h0m35 13h0m127-17h0m-123 37h0m-48 7h0m-48-1h0m-33 0h0m-25-1h0m-11-7h0m-31 5h0m-35 7h0m-12-1h0m-3-2h0m-1-9h0m-10 5h0m-6-6h0m-13-7h0m-2 0h0m-1 6h0m-22-8h0m-14 0h0m-10 14h0m0 3h0m-35-18h0m-3 0h0m-18 15h0m-828 0h0m-117-9h0m-263 32h0m67-8h0m1156 2h0m36-8h0m20 2h0m0 1h0m1 5h0m1 0h0m12 11h0m6-17h0m23-1h0m6 5h0m17-5h0m8 9h0m11-10h0m1 13h0m62 10h0m19-4h0m3-15h0m5 16h0m14-11h0m86-5h0m5 15h0m40-14h0m20 16h0m143-2h0m29-13h0m193 34h0m-28 4h0m-169-19h0m-247 3h0m-16 4h0m-11 2h0m-1 6h0m-12 7h0m-1-2h0m-2-4h0m-2-4h0m-1 3h0m-23-7h0m-23-9h0m-14 20h0m-59 1h0m-16-20h0m-2 0h0m-50 3h0m0 14h0m-84-1h0m-26-2h0m-1136-15h0m-1 5h0m-28 19h0m68 7h0m60 15h0m181-8h0m887 3h0m21-8h0m50 9h0m10-14h0m8 5h0m1 3h0m6-2h0m7 0h0m1-10h0m17 17h0m83-10h0m8 16h0m11-18h0m28 13h0m430-14h0m49 3h0m14 0h0m14 19h0m-64 9h0m-477-10h0m-59 20h0m-92-4h0m-66-7h0m-41 1h0m-602-2h0m-6-6h0m-185 0h0m-329-1h0m-84 8h0m8 24h0m12-9h0m121 14h0m7 4h0m0-6h0m7-11h0m95 21h0m32-15h0m51 7h0m168-13h0m33 19h0m69 1h0m642-6h0m10 6h0m7-19h0m86-1h0m13 16h0m5-15h0m10 7h0m8 1h0m18 9h0m14 3h0m21-5h0m53-14h0m397 8h0m136-10h0m52 8h0m5 23h0m-22 12h0m-28-1h0m-60 2h0m-301-14h0m-204 10h0m-33-16h0m-9 16h0m-1 2h0m-1-15h0m-53 17h0m-39-22h0m-21 2h0m-22 12h0m-24-12h0m-3 20h0m-63-16h0m-871 12h0m-48-2h0m-14-5h0m-10-5h0m-7-4h0m-63 18h0m-62-14h0m-44-5h0m-43 17h0m-26 4h0m-7 1h0m-5-1h0m-48 11h0m10 10h0m50 0h0m88-11h0m6 10h0m19 3h0m152-9h0m83 7h0m97-8h0m97-10h0m68 16h0m50 1h0m552-10h0m18 15h0m63-11h0m55-11h0m64 20h0m13-15h0m20 7h0m489-4h0m107-3h0m40 5h0m4 30h0m-11 6h0m-5-22h0m-12 17h0m-5 2h0m-14-11h0m-10-8h0m-54 5h0m-570-6h0m-7 0h0m-4 9h0m-55 3h0m-8 11h0m-3-4h0m-102-17h0m-558 6h0m-19 9h0m-62 6h0m-168-10h0m-3 0h0m-12-13h0m-405 21h0m-30 0h0m-10 7h0m1 5h0m220 10h0m70 0h0m139-12h0m27 5h0m4-12h0m139 1h0m95 20h0m515-15h0m54-5h0m7 0h0m22 4h0m28-2h0m16-3h0m768 11h0m25-6h0m-102 26h0m-249 10h0m-385-9h0m-92 14h0m-2-4h0m-29-10h0m-10-2h0m-2 11h0m-522 5h0m-115-10h0m-150 8h0m-12-7h0m-59 3h0m-316-11h0m-3 5h0m-61-6h0m4 36h0m96-15h0m69 15h0m109-16h0m28 17h0m112 2h0m28-14h0m173 3h0m48 8h0m61 5h0m443 1h0m4-13h0m2-1h0m19 2h0m10 6h0m16 7h0m31-20h0m3 12h0m11 0h0m9-8h0m27 4h0m43 7h0m626 8h0m-583 20h0m-25-3h0m-85-16h0m-56 10h0m-2-4h0m-7 3h0m-13-4h0m-33 5h0m0-5h0m-489-6h0m-282 11h0m-64-9h0m-11 1h0m-104 17h0m-33 1h0m-24-7h0m-92-14h0m-115 12h0m-17 17h0m163 2h0m54 9h0m0-13h0m125 12h0m15-3h0m108 7h0m24-11h0m1-3h0m56 1h0m4 10h0m9-12h0m664 15h0m5 1h0m41-9h0m7 1h0m7-6h0m18 9h0m29 4h0m86-8h0m422 24h0m-298-10h0m-42 15h0m-2-14h0m-33 12h0m-74 3h0m-11-6h0m-40 4h0m-11-5h0m-1-1h0m-20 2h0m-8 0h0m-4-5h0m-3 14h0m-5-11h0m-9 8h0m-8-9h0m-1 10h0m-5-20h0m-24 15h0m-4-3h0m-708 9h0m-144-17h0m-28 5h0m-38-7h0m-25 10h0m-157 8h0m-92-10h0m-35-2h0m-31 7h0m-9-10h0m-12 30h0m7 4h0m16-8h0m27 12h0m22 4h0m20-7h0m38 3h0m40 1h0m60-10h0m179 11h0m11-9h0m77 11h0m7-9h0m12 1h0m12-8h0m750 11h0m3 2h0m2-6h0m7 2h0m1-15h0m4 12h0m6 1h0m15 6h0m26-4h0m13 7h0m2-22h0m5 16h0m79-13h0m22 18h0m8-13h0m42 10h0m19-15h0m76 19h0m1-19h0m188 7h0m-316 26h0m-113-4h0m-1 12h0m-2-5h0m-22-6h0m-9-2h0m-14-1h0m-4 11h0m-10 5h0m-611-11h0m-147-12h0m-41 21h0m-40-20h0m-8 20h0m-13-4h0m-39-9h0m-21 6h0m-24-4h0m-30 5h0m-2-6h0m-23 14h0m-88-23h0m-20 13h0m-27-2h0m-13-8h0m-39 19h0m-9-2h0m-29-20h0m-21 19h0m-9-11h0m-1 11h0m-6-10h0m-11 7h0m-6-5h0m-4 1h0m-15-4h0m-9-4h0m-1 6h0m0 14h0m18 10h0m7-8h0m1 7h0m22 7h0m0-8h0m29-2h0m4-5h0m3 12h0m15-2h0m31-1h0m20-7h0m16-1h0m33 6h0m17 6h0m5 6h0m2-16h0m3-4h0m9 23h0m16-18h0m14 0h0m25 10h0m6-15h0m2 2h0m3 4h0m19 11h0m36-12h0m71 3h0m1 12h0m31-5h0m23-10h0m25 14h0m3-3h0m805 5h0m33-16h0m7 0h0m53 9h0m29-1h0m53-2h0m4 0h0m30-7h0m2 18h0m27-22h0m19 11h0m113 2h0m-63 13h0m-125 17h0m-21-11h0m-21-8h0m-49 9h0m-43 0h0m-20-6h0m-12 19h0m-18-8h0m-1-14h0m-10 5h0m-699 16h0m-21-20h0m-23 11h0m-51 6h0m-102-1h0m-3-2h0m-20 0h0m-41-5h0m-3 1h0m-3 6h0m-6 6h0m0-1h0m-11-8h0m-12-6h0m-3 3h0m-10-6h0m-23-1h0m-3 18h0m-1-6h0m-18 2h0m-19-3h0m-8-4h0m-18-10h0m-13 4h0m-22 8h0m-1-10h0m-12 19h0m-13-14h0m-6 9h0m-1-5h0m-1 10h0m-4-17h0m-5 14h0m-18-4h0m-1-5h0m-1 8h0m-2-7h0m-7 3h0m-7-2h0m-8-8h0m-23 11h0m0-5h0m-9-4h0m-16 3h0m-17 13h0m-9-14h0m0 12h0m-3 1h0m38 4h0m9 16h0m43-10h0m0 9h0m23-13h0m0 12h0m2 2h0m3 0h0m10-7h0m1 9h0m5-15h0m21 16h0m27 2h0m2-1h0m3-11h0m3-5h0m7 0h0m3 3h0m6-8h0m2 17h0m1 6h0m2-14h0m49 3h0m3-8h0m6 3h0m0-7h0m26 6h0m1 10h0m3-15h0m28 21h0m13-17h0m13 13h0m15-14h0m12-1h0m54 13h0m3 2h0m0-14h0m7 6h0m4 10h0m11 3h0m69-19h0m54-4h0m28 19h0m14-9h0m353 3h0m44 3h0m317-3h0m2 3h0m11-13h0m44 5h0m2-2h0m9 16h0m37-17h0m3 15h0m68 10h0m-11-2h0m-22 3h0m-23 2h0m-18 14h0m-5-16h0m-1-3h0m-19-4h0m-1 13h0m-37 5h0m-10-3h0m-330-11h0m-60 13h0m-16-7h0m-32-2h0m-320 3h0m-11-2h0m-13-1h0m-67-8h0m-19 9h0m-60-1h0m-2 15h0m-16-22h0m-28 6h0m-14 5h0m-5 1h0m-57-7h0m-5 12h0m-15-3h0m-33-10h0m-1 16h0m-3 2h0m-3-4h0m-1 0h0m-1-3h0m-8-11h0m-6 9h0m-9 4h0m-8 3h0m-1 2h0m-20-10h0m-13 6h0m-6-17h0m0 7h0m-6-6h0m-2 4h0m0 7h0m-2-9h0m-4-4h0m-9 10h0m-7 6h0m-8-9h0m-1 1h0m-6 0h0m-8 14h0m-9-18h0m-1 7h0m-7 2h0m-1 5h0m-9-2h0m-5-10h0m-2 11h0m-5-14h0m-18 18h0m-20-5h0m-25 3h0m0-12h0m11 23h0m19 3h0m0 7h0m3-17h0m24 20h0m2-18h0m2 2h0m4 3h0m1-7h0m2 12h0m1-2h0m3-1h0m0 4h0m4 9h0m8-13h0m14-9h0m1 12h0m6-5h0m6-6h0m2 4h0m1 2h0m3 1h0m20-1h0m15 3h0m1 1h0m2 5h0m1 5h0m3-2h0m26 0h0m7-15h0m1-4h0m0 17h0m5-8h0m20 8h0m5 4h0m2-5h0m32-12h0m33 8h0m5 3h0m2-12h0m13 18h0m1-5h0m10-1h0m1-14h0m3 22h0m53-6h0m3 0h0m56 1h0m21 5h0m27-17h0m17 17h0m31-4h0m0 0h0m362-10h0m116-8h0m47 5h0m252 9h0m21 8h0m9-18h0m22 3h0m47-1h0m40 14h0m21-18h0m160 17h0m28 16h0m-199-1h0m-52 9h0m-48 2h0m-34-9h0m-3 6h0m-342-6h0m-73 6h0m-341-17h0m-90 3h0m-6 3h0m-17 2h0m-2-3h0m-11-1h0m-1-5h0m-33 14h0m-48-7h0m-9 12h0m-2-1h0m-8-14h0m-11 11h0m-15-14h0m-3 5h0m-24 9h0m-24 6h0m-3-14h0m-15 12h0m-2-18h0m-17 4h0m-3 3h0m-3-5h0m-3 15h0m-1-18h0m-8 13h0m-7-5h0m-6 12h0m-18-10h0m-1-11h0m-4 19h0m-4-6h0m-3 5h0m-1-2h0m-3-10h0m-2 16h0m-2-3h0m-6-4h0m-1 5h0m-1 0h0m-4-19h0m-9 21h0m-4-9h0m-3-2h0m-6-4h0m-19-4h0m-2 19h0m0-19h0m-6 7h0m-7-6h0m-8-1h0m-23 5h0m-6 10h0m-8-17h0m17 29h0m4 2h0m8-3h0m8 13h0m19-14h0m1 18h0m6-12h0m15 0h0m12-4h0m9 5h0m6-3h0m1 2h0m10-6h0m6 13h0m11-11h0m10 2h0m0 2h0m1 0h0m17-8h0m7 9h0m16 6h0m7-2h0m13-6h0m4 1h0m3 6h0m7 6h0m3-5h0m8-8h0m4 12h0m8-16h0m2 0h0m12 11h0m1-2h0m4 7h0m18-15h0m6-3h0m14 0h0m82-3h0m73 3h0m26 15h0m383-16h0m19 17h0m4-4h0m12-3h0m87 10h0m306-10h0m10-3h0m33 14h0m256-7h0m1-15h0m-174 44h0m-64 1h0m-5-7h0m-375-9h0m-9-4h0m-142 2h0m-19 19h0m-540-23h0m-17 3h0m-32 11h0m-2-14h0m-26 20h0m-7-9h0m0-3h0m-8-8h0m-14 13h0m-3 9h0m-16-22h0m-12 13h0m-3-6h0m-7 14h0m-12-10h0m-4 7h0m-4-7h0m-1 3h0m-1-11h0m-3 14h0m-7 3h0m-5-19h0m-1 4h0m0 10h0m-1-7h0m-13-4h0m-12 0h0m46 22h0m3 16h0m3-18h0m2 15h0m3-5h0m5-6h0m6-1h0m2-3h0m0 6h0m1-6h0m12 14h0m10-7h0m12-1h0m1-1h0m3-5h0m2 8h0m31-4h0m3-4h0m1195 11h0m16-5h0m-53 28h0m-438-4h0m491 28h0" stroke="#1f8a3f" stroke-width="5.2" stroke-linecap="round" fill="none"/>
<path transform="scale(0.5)" d="M1594 2783h0m-90 13h0m105 7h0m4-3h0m29 21h0m-115 9h0m-21-8h0m-1-12h0m-34 17h0m-989-17h0m-184 19h0m1137 21h0m12-11h0m25 9h0m6-12h0m9 5h0m19-1h0m415 7h0m1 15h0m-11-5h0m-364 32h0m16 1h0m29 8h0m101-6h0m43 10h0m235-22h0m-248 32h0m-43 12h0m-42 3h0m-18-6h0m-1-16h0m-66 21h0m-14-3h0m-10-3h0m-2-14h0m-81 1h0m-1157 13h0m-6 5h0m-3-10h0m-8 8h0m-91 15h0m56-1h0m57 2h0m22-11h0m1088 9h0m56-4h0m67-3h0m8 12h0m72-1h0m21 0h0m66 0h0m6-11h0m73 1h0m27 11h0m164 1h0m157-4h0m2 4h0m5-2h0m3-5h0m18 8h0m28 6h0m13 8h0m-40-2h0m-4 17h0m-33-21h0m-400 21h0m-58-10h0m-3-8h0m-115 17h0m-57-3h0m-15-15h0m-34 0h0m-1121 16h0m-48-18h0m-22 12h0m-15-8h0m-3 3h0m-56 39h0m7-18h0m19 17h0m5-1h0m20-2h0m11-6h0m4-8h0m15-2h0m1 16h0m2-16h0m50-2h0m3 1h0m13 8h0m1079 7h0m101 4h0m164-19h0m12 1h0m9 5h0m13-2h0m3 10h0m410-4h0m45 2h0m46 1h0m31 4h0m2 3h0m15 12h0m0 3h0m-3 3h0m-21-4h0m-1 8h0m-26-13h0m-21 11h0m-3-11h0m-2-6h0m-448 14h0m-39-6h0m-15-8h0m-13 0h0m-13 21h0m-65 0h0m-47-5h0m-47 5h0m-7-19h0m-762-1h0m-100-1h0m-257 21h0m-15-6h0m-39-12h0m-26 1h0m-2 16h0m-36-20h0m-31 5h0m-16-2h0m-26 16h0m-4 10h0m3 16h0m2-3h0m9-2h0m0-14h0m5 9h0m13 8h0m0-12h0m2-3h0m25 8h0m9-11h0m19 10h0m7 0h0m11 9h0m25 3h0m21-7h0m15-15h0m7 3h0m16 14h0m31 0h0m1-6h0m12 6h0m11 5h0m4-1h0m24-10h0m5-2h0m11-1h0m12 8h0m20-3h0m34 8h0m117-21h0m155 19h0m26-16h0m5 8h0m20 9h0m718-7h0m26-2h0m39 11h0m479-3h0m17 0h0m14-10h0m24 9h0m12-16h0m22 13h0m20 0h0m15 5h0m24 16h0m-17 3h0m-2-3h0m-43-11h0m-10 17h0m-8 1h0m-542-3h0m-48-2h0m-4-3h0m-47-7h0m-63 2h0m-599 8h0m-49 6h0m-268-4h0m-27 5h0m-8-6h0m-7 7h0m-4-22h0m0 14h0m-12-3h0m0-9h0m-19 13h0m-2-13h0m-25 7h0m-53 6h0m-5-6h0m-18-8h0m-39 10h0m-13-8h0m-1 11h0m-40 2h0m-20-15h0m-2 16h0m-1-3h0m-5-7h0m-2 2h0m-2-2h0m-13-7h0m-5 4h0m-16-1h0m-4 13h0m-10-13h0m-5 13h0m-16-2h0m-16-15h0m-12 21h0m-1 1h0m-17-6h0m-18 29h0m2-11h0m10-9h0m2 22h0m4-18h0m25 4h0m11 10h0m2-17h0m5 19h0m12-17h0m0-1h0m4 3h0m1 0h0m9 10h0m56-5h0m5 11h0m8-20h0m6 6h0m2-3h0m7-4h0m18 10h0m17-2h0m1 14h0m2-6h0m1-5h0m18 7h0m10-18h0m4 19h0m33 2h0m16-6h0m1 0h0m0-13h0m41 8h0m61-4h0m20-3h0m2 16h0m6-18h0m20 13h0m25-3h0m10 7h0m6 0h0m118-12h0m740 14h0m148-7h0m37-7h0m147-6h0m362 8h0m3 1h0m20-2h0m29-5h0m28 7h0m33 23h0m-125 7h0m-1-15h0m-486 21h0m-2-18h0m-60 5h0m-53 14h0m-49-20h0m-10 13h0m-94-9h0m-780 9h0m-6 6h0m-2-4h0m-40-1h0m-10-10h0m-16 16h0m-6-3h0m-8-10h0m-26-10h0m-8 21h0m-8-13h0m-31 6h0m-10-7h0m-10 15h0m-29-9h0m-71-2h0m-6 10h0m-3-3h0m-28-15h0m-14 1h0m-1 13h0m-3-2h0m-5-4h0m0-8h0m-5 1h0m-8 15h0m-16-16h0m-2 7h0m-42 9h0m-3-13h0m-23-4h0m-5-1h0m-6 1h0m-20 6h0m-2 11h0m-1 1h0m-1 1h0m-11 2h0m-1-1h0m0-3h0m-2-4h0m-9 4h0m0 21h0m15 7h0m17-3h0m2-8h0m0-8h0m11 5h0m7 11h0m0-15h0m26 18h0m6-3h0m21-18h0m1 21h0m17-17h0m1 1h0m5-4h0m39 14h0m33 6h0m32-23h0m12 10h0m26-10h0m10 22h0m7 0h0m3-5h0m22-12h0m7 9h0m4-12h0m12 10h0m3 11h0m9-14h0m1 4h0m6 0h0m1 7h0m1-4h0m2-12h0m15 16h0m14-20h0m51 16h0m59-12h0m1 3h0m45 16h0m203-8h0m510-4h0m80 8h0m71-19h0m2 12h0m11-1h0m36-11h0m81 0h0m6 11h0m12 7h0m150-4h0m418-1h0m25 5h0m16-1h0m10-14h0m-59 36h0m-24 3h0m-18-2h0m-502-3h0m-26-7h0m-3 9h0m-2-3h0m-1 1h0m-6-9h0m-6 10h0m-12-9h0m-8 4h0m-48 8h0m-2 5h0m-44-17h0m-70 16h0m-575-11h0m-18 8h0m-106-8h0m-129-1h0m-16-3h0m-28 5h0m-10 3h0m-20-8h0m-19 7h0m-15-9h0m-13 2h0m-28 11h0m-12-1h0m-3 6h0m-11-21h0m-1 4h0m-17 8h0m-30-4h0m0-2h0m-12 0h0m-3 0h0m-1 15h0m-1-1h0m-11 0h0m-5-6h0m-36-9h0m-10 7h0m-15 0h0m-9-4h0m-1-5h0m-5-1h0m-5-3h0m-11 14h0m-10 5h0m-14-7h0m-2 2h0m-1-4h0m-41-5h0m-14 17h0m-27-18h0m-3 16h0m-7 2h0m-7-9h0m-21 0h0m-18 4h0m-8-9h0m2 37h0m1 2h0m34-8h0m25 5h0m20-9h0m80-11h0m8 5h0m21 9h0m14-2h0m9 1h0m12 5h0m13-4h0m8 2h0m4-16h0m7 3h0m15 0h0m3 17h0m36-9h0m17 8h0m10-17h0m16 5h0m12-1h0m5 2h0m6 11h0m3-17h0m8 18h0m24-14h0m11 7h0m5-7h0m20-6h0m4 17h0m11 5h0m5-5h0m3-15h0m0 7h0m3-3h0m7 12h0m5-8h0m3 11h0m19-1h0m20-6h0m192-8h0m8 12h0m39-15h0m478 15h0m24-1h0m65-2h0m50-3h0m16 5h0m3 6h0m14-20h0m66 16h0m14 1h0m4-11h0m10 2h0m2 2h0m10-13h0m27 17h0m245-9h0m263 12h0m69-13h0m-281 24h0m-57 1h0m-192 2h0m-3 1h0m-7 3h0m-9-9h0m-19 15h0m-6-10h0m-5 7h0m-11-16h0m-4 17h0m-30-5h0m-17-5h0m-7-8h0m-4 11h0m-100-7h0m-81 12h0m-13 6h0m-442-4h0m-5-13h0m-83-2h0m-50 11h0m-14 4h0m-140-17h0m-10 14h0m-8-7h0m-38 3h0m-33-11h0m-2 9h0m-2-2h0m-3 5h0m-23-2h0m-3 9h0m-4 2h0m-11-8h0m-5-8h0m-3 0h0m-2 1h0m-12-6h0m-3 6h0m-24 11h0m-5 2h0m-14-12h0m-10-2h0m-63 0h0m-2 5h0m-27 8h0m-5 3h0m-17-4h0m-22 4h0m-4-11h0m-35-9h0m-39 14h0m-8-9h0m-24 4h0m-3 0h0m-33 3h0m-15-9h0m-10 1h0m-24 18h0m-2-8h0m2 12h0m21 18h0m4-9h0m34 4h0m6 6h0m40-5h0m15-16h0m17 22h0m12-8h0m31 7h0m11-19h0m32 0h0m1 9h0m1-11h0m2 9h0m7-9h0m5 11h0m50-5h0m3 7h0m22-6h0m4 5h0m26-10h0m9 12h0m8 8h0m9-22h0m1 19h0m14-9h0m10 1h0m14 0h0m10 4h0m4 1h0m4-17h0m7 14h0m9-9h0m55 5h0m28-2h0m13 15h0m5-17h0m210 4h0m482 5h0m139 8h0m15-22h0m105 14h0m8-15h0m19 8h0m3 14h0m8-16h0m44 13h0m4-10h0m323 2h0m3-6h0m-375 41h0m0-4h0m-4-10h0m-24-1h0m-21 9h0m-52-15h0m-2 19h0m-45-11h0m-135 12h0m-715-14h0m-16-5h0m-12-1h0m-23 17h0m-1 3h0m-10-2h0m-7-13h0m-7-2h0m-15 3h0m-8-1h0m-48-6h0m-22 1h0m-5 22h0m-11-10h0m-3-9h0m-6 3h0m-1 13h0m-1-8h0m0-4h0m-10 10h0m-17-1h0m-6-1h0m-8-16h0m-15 16h0m-22-1h0m-9 3h0m-2-13h0m-10 4h0m-3 7h0m-4 6h0m-5-4h0m-11-5h0m-3 8h0m-3-16h0m-129-3h0m-29 20h0m-2-20h0m-25 11h0m-37 7h0m-7-19h0m18 31h0m128 0h0m18 1h0m35-7h0m0 19h0m67 1h0m8-17h0m4 14h0m11-18h0m1 19h0m20-5h0m28 0h0m28 7h0m5-8h0m4 3h0m1 2h0m38-19h0m6 9h0m13-5h0m19 0h0m25 9h0m2-4h0m0 10h0m1 0h0m9-6h0m0-5h0m3-6h0m16 16h0m1 5h0m2-13h0m2 0h0m3 12h0m4-7h0m13-5h0m1-6h0m6-3h0m1 17h0m791 1h0m68-15h0m41 9h0m85 6h0m68-11h0m284-7h0m3 29h0m-302 3h0m-50 11h0m-8 2h0m-54-13h0m-57 13h0m-54-19h0m-11 3h0m-33 5h0m-756 2h0m-5-7h0m-3 15h0m-4 1h0m-2-19h0m-1-2h0m-15 0h0m-10 10h0m-8-3h0m-3-2h0m-26 8h0m-26-12h0m-29 6h0m-5-5h0m-34 16h0m-15-3h0m-2-6h0m-27-6h0m-3 17h0m-4-12h0m-3-5h0m-3-1h0m-15 18h0m-9-16h0m-8 1h0m-5 2h0m-11 6h0m-9-14h0m0 4h0m-13 13h0m-5-12h0m-11-1h0m-30 17h0m-44-20h0m-35 11h0m0-6h0m-29 13h0m-2-3h0m-1 3h0m-33-15h0m-58 14h0m-3 7h0m54 22h0m23-19h0m5 14h0m4-7h0m19 8h0m5-12h0m41 8h0m26-9h0m14-2h0m15 9h0m31-4h0m6-9h0m10 13h0m5-12h0m23 3h0m15 11h0m0 8h0m11 0h0m16-7h0m7-10h0m10 7h0m13 2h0m0-10h0m17 11h0m1-6h0m5 10h0m49-11h0m4 10h0m5-19h0m10 21h0m1-14h0m0-3h0m1 4h0m4-5h0m16 9h0m41 10h0m3-7h0m15 4h0m20-15h0m17 5h0m799-4h0m5 16h0m61-10h0m27-2h0m4 6h0m103-12h0m2 11h0m-50 27h0m-86-13h0m-1 14h0m-46-10h0m-12-8h0m-19 2h0m-14 5h0m-22 8h0m-4-3h0m-5 2h0m-17-4h0m-675 10h0m-27-12h0m-2 1h0m-11-1h0m-34 6h0m-7 9h0m-2-14h0m-10-4h0m-9 10h0m-17-11h0m-6 13h0m-2 5h0m-11-12h0m-13 1h0m-10 4h0m-3-3h0m-20 5h0m-7 5h0m0-22h0m-14 12h0m-6-7h0m-7-1h0m-31 6h0m-65 1h0m-4-4h0m-9 10h0m-11-13h0m-7 10h0m-7-14h0m-10 20h0m-32-17h0m-26 9h0m-14-4h0m-63 13h0m-10-8h0m-44 3h0m-13 7h0m-38-5h0m0-7h0m-3 10h0m20 26h0m50-20h0m30 10h0m69-1h0m44 10h0m14-19h0m34-1h0m34 20h0m29-3h0m21-6h0m22-8h0m10 16h0m7-6h0m23 5h0m32-18h0m6 8h0m43-5h0m20-3h0m19 5h0m11 0h0m30 1h0m14 11h0m27 1h0m381 1h0m289-19h0m10 15h0m19 3h0m36-17h0m20 20h0m72-5h0m271 12h0m-226 0h0m-8 8h0m-88-9h0m-29 8h0m-9-3h0m-5 13h0m-739-7h0m-22 5h0m-8-3h0m-63-10h0m-20-3h0m-2 18h0m0-9h0m-2-6h0m-10 13h0m-9-21h0m-6 10h0m-3-5h0m-42 10h0m-14 3h0m-35 1h0m-3-12h0m-72 7h0m0 1h0m-8 3h0m-7-14h0m-77 4h0m-36 11h0m-5-18h0m-74 37h0m20-11h0m16 18h0m20-7h0m22 8h0m10-11h0m104-11h0m44 23h0m17-3h0m72-4h0m121-16h0m7 7h0m2 11h0m8-17h0m58 13h0m238 3h0m22-6h0m21 7h0m57 0h0m52-3h0m307-4h0m4 8h0m7-16h0m6-2h0m22 15h0m24-10h0m61 17h0m14-9h0m15-9h0m355 30h0m-390 5h0m-33-9h0m-23 9h0m-6 6h0m-25-9h0m-5-4h0m-270 12h0m-52-19h0m-113 17h0m-308-1h0m-4-5h0m-28-1h0m-37-5h0m-34-6h0m-233 22h0m-5-5h0m-14-6h0m-28-7h0m-20 2h0m-12-6h0m-59 41h0m10-6h0m62 8h0m20-2h0m89-11h0m210 8h0m12-14h0m18 16h0m51-16h0m265 2h0m26 5h0m23 14h0m421-17h0m11-4h0m39 9h0m12 0h0m5-3h0m6 12h0m7-3h0m0-14h0m16 10h0m2-1h0m0 10h0m10 2h0m11-3h0m6-4h0m-18 30h0m-4-4h0m-19-13h0m-3 5h0m-2-3h0m-9 5h0m-1 8h0m-2-7h0m-13 10h0m-26-8h0m-15-10h0m-325-3h0m-101 17h0m-9-9h0m-33 2h0m-20-5h0m-560 2h0m-1-4h0m-17 1h0m-17 6h0m-122 7h0m792 27h0m446-10h0m4 8h0m9-15h0m15 2h0m4 2h0m12-3h0m16-1h0m10 7h0m25 30h0m-4-13h0m-6 18h0m-2-22h0m0 6h0m-7 10h0m-12 4h0m-29 2h0m-6-9h0m-26 3h0m-4-12h0m-371 13h0m395 6h0m10 13h0m1 3h0m6-14h0m9 0h0m1 9h0m9-2h0m2 7h0m3-10h0m9 14h0m5-9h0m2 5h0m-1113 142h0" stroke="#b3202b" stroke-width="5.2" stroke-linecap="round" fill="none"/>
<path transform="scale(0.5)" d="M399 2778h0m0-7h0m0 10h0m-10-4h0m-50 16h0m15 5h0m2 6h0m2-12h0m33 11h0m0-5h0m18-6h0m39-1h0m4 1h0m10 4h0m1 1h0m12 3h0m13 2h0m13-8h0m15 4h0m-1 29h0m-1-9h0m-33 11h0m-1 1h0m-2-15h0m-18 5h0m-1 10h0m-4-20h0m-4 6h0m-2 13h0m-13-5h0m-9-1h0m-19 2h0m-33-16h0m-25 4h0m-2-3h0m-2 8h0m-1 10h0m-9-7h0m-17 3h0m-11 7h0m-11 11h0m7-10h0m28 1h0m16-1h0m19 23h0m22-22h0m14 17h0m10-9h0m8 6h0m14-6h0m3-8h0m17 2h0m11 12h0m5-8h0m13 9h0m10-7h0m3-3h0m19 16h0m6-17h0m3 9h0m1086-8h0m42-1h0m267-1h0m-112 37h0m-320-10h0m-32-7h0m-900 12h0m-5 9h0m-12-1h0m0-8h0m-14-1h0m-21-2h0m-22-3h0m-7-5h0m-10 9h0m-20-9h0m-10 12h0m-7-12h0m-4 18h0m-19-17h0m-7 3h0m-6 13h0m-4-12h0m-21-4h0m-17 11h0m-1 3h0m0-10h0m-8 9h0m-4 1h0m-22 0h0m-17-4h0m-1 10h0m-14-20h0m-14 8h0m25 37h0m2-19h0m5 18h0m24-15h0m27 3h0m13-4h0m4 0h0m8 0h0m0 10h0m6-8h0m5-3h0m7-1h0m13 1h0m24 12h0m29-5h0m45-11h0m26 0h0m2 4h0m35-4h0m1278 5h0m4 17h0m17-9h0m8 16h0m-3-2h0m-4 17h0m-1 0h0m-10-3h0m0-5h0m-3 5h0m-3-3h0m-203 2h0m-1051-7h0m-7-2h0m-29 13h0m-2-4h0m-26-2h0m-2-2h0m-49-11h0m-18 11h0m-46-1h0m-2-3h0m-1 10h0m-2-11h0m-17 4h0m-7 2h0m-21-10h0m-4 12h0m-1 6h0m-11 0h0m-3-5h0m-10-4h0m-15-6h0m-1 1h0m-9 6h0m-9 1h0m-1-7h0m18 28h0m8 3h0m39-11h0m20 19h0m26-12h0m15-9h0m7 0h0m20 12h0m3 1h0m4-6h0m3 8h0m15-9h0m11-7h0m12 2h0m23 20h0m16-19h0m43 12h0m29-1h0m962 6h0m263-11h0m4 9h0m2-16h0m1 8h0m30 6h0m224 4h0m31-8h0m12 4h0m-161 23h0m-7-5h0m-113-9h0m-3 15h0m-6 6h0m-2-4h0m-4-11h0m-2 11h0m-1-17h0m-6 13h0m-7 8h0m-13-16h0m-5-2h0m-9 12h0m-1-7h0m-1188 11h0m-7-18h0m-49 0h0m-9 0h0m-1 18h0m-17-11h0m-25-6h0m-1 13h0m-32-9h0m-2-3h0m-10 14h0m-2 3h0m-28-2h0m-1-20h0m-4 21h0m-3-6h0m0-8h0m-20 13h0m-17-12h0m-11-8h0m-12 17h0m-2 2h0m-2-13h0m-9 14h0m-28-11h0m-14-9h0m-7 0h0m23 45h0m11-8h0m10-11h0m17 13h0m8 4h0m8-2h0m15-4h0m5 4h0m65-16h0m14 6h0m2-4h0m5 1h0m23 10h0m8-4h0m3 13h0m6-9h0m1 4h0m7-5h0m29-6h0m7-6h0m27 18h0m17 1h0m11-11h0m2 3h0m5 3h0m115 2h0m15 0h0m632-11h0m360 9h0m16 5h0m7-3h0m16-9h0m12 15h0m2-14h0m0 11h0m5-8h0m5-9h0m1-2h0m12 8h0m44 7h0m1-4h0m363 22h0m-35-6h0m-122-1h0m-222 18h0m-3-18h0m-5-1h0m-1 11h0m-27 1h0m-3 7h0m-9-12h0m-4-7h0m-2 7h0m-2 3h0m-11-6h0m-10 13h0m-9-17h0m-11-2h0m-10 9h0m-8 2h0m-7 11h0m0 0h0m-13-17h0m-17 6h0m-913 0h0m-16 0h0m0-5h0m-7 17h0m-26-3h0m-41 0h0m-92 0h0m-12-18h0m-5 3h0m-17 0h0m-11 14h0m-36-2h0m-6-8h0m-46 14h0m-32-16h0m-8 3h0m-4-9h0m-13 6h0m89 23h0m10-5h0m7 3h0m2 14h0m3-7h0m3 7h0m8 0h0m0-18h0m12 22h0m29-9h0m1 7h0m8-9h0m18-9h0m3 16h0m9 3h0m5-2h0m198-3h0m879-16h0m3 4h0m2 9h0m7 9h0m7-17h0m0 3h0m9 1h0m5-3h0m4 7h0m15 0h0m1-5h0m2 13h0m5-20h0m0 2h0m12 10h0m10 0h0m19-1h0m17-1h0m4 0h0m10 6h0m6 0h0m9-10h0m2-4h0m1 19h0m4-11h0m4 3h0m3-8h0m266 5h0m57 31h0m-60-17h0m-63 7h0m-13 7h0m-191 5h0m-10 3h0m-2-6h0m-1-14h0m-15 4h0m-4 1h0m-24 2h0m-2-8h0m-10 13h0m-1 4h0m-9-15h0m-2 11h0m0 5h0m-5 1h0m-3 2h0m-7-20h0m-3 0h0m-3 2h0m-24 17h0m-5 1h0m-5-11h0m-1 11h0m-3-16h0m0 0h0m-14 15h0m0-14h0m-4 0h0m-987-2h0m-6 9h0m-88-9h0m-6 0h0m-26-3h0m-1 20h0m-5-4h0m-11-10h0m-261 5h0m275 12h0m10 19h0m2-2h0m18-11h0m14-5h0m6 15h0m86-9h0m34 4h0m6 6h0m7-8h0m94 3h0m839-2h0m4 0h0m4-12h0m3 0h0m1 8h0m12 12h0m0 1h0m11-1h0m3-12h0m2 6h0m3-9h0m1-3h0m2 14h0m6 0h0m4-5h0m3 5h0m5-3h0m3-12h0m1 3h0m2 6h0m10 0h0m2-7h0m13 18h0m10-19h0m0 5h0m6 11h0m2-17h0m1 21h0m3-10h0m11-12h0m9 12h0m2 8h0m15-20h0m3 20h0m182 3h0m147-9h0m1 8h0m33-21h0m-21 32h0m-13 11h0m-2-3h0m-10-3h0m-12 6h0m-11-8h0m-15-8h0m-5 14h0m-260 3h0m-1 0h0m-2-10h0m-1 11h0m-2 1h0m0-10h0m-1-13h0m0 14h0m0-13h0m-2 10h0m-1 5h0m0-11h0m-6-5h0m-3 6h0m-4-2h0m-7 7h0m-1 12h0m-1-6h0m-7-3h0m-1-1h0m-5-6h0m0 13h0m-10-14h0m-5 6h0m-11 4h0m-9-14h0m-12 1h0m-4 13h0m-3 5h0m-10-10h0m-16 8h0m-1-1h0m-10-5h0m-1-11h0m-19 9h0m-6 5h0m-3-14h0m-912-1h0m-70 3h0m-84 11h0m-19-12h0m0-3h0m-518 4h0m45 23h0m487-1h0m120 19h0m948-14h0m4 1h0m0-5h0m5 12h0m14-4h0m0 6h0m5-9h0m5-7h0m7 13h0m8-1h0m0-12h0m13 11h0m3-10h0m2 16h0m1-7h0m1 1h0m11 2h0m2-4h0m6 11h0m14-2h0m3-2h0m14 4h0m1-16h0m0 2h0m5 0h0m6 0h0m2-6h0m2 6h0m10 4h0m19 8h0m6-13h0m5 9h0m173-13h0m37 15h0m43 2h0m40-11h0m20 13h0m3-12h0m4-7h0m9 14h0m3-5h0m15 8h0m1 0h0m1 22h0m-20-7h0m-9 9h0m0 3h0m-25-16h0m0-3h0m-3 13h0m-3-12h0m-19 2h0m-3 12h0m-7-8h0m-2-3h0m-253 13h0m-3-14h0m-6 0h0m-4-1h0m-21-5h0m-2 6h0m-2-2h0m-11 3h0m-11 11h0m-10-3h0m-12-11h0m-1 2h0m-4 4h0m-2-4h0m-8 5h0m-7 3h0m-24-6h0m-3-7h0m-6 15h0m-4 5h0m-9-7h0m-7-4h0m-271-1h0m-571 21h0m43 15h0m785-12h0m5-2h0m8 3h0m3 13h0m22-5h0m26-15h0m3 3h0m2 17h0m3-17h0m4 15h0m18-2h0m10 3h0m28-3h0m17-5h0m10-13h0m9 2h0m10 7h0m244 9h0m3-9h0m4 12h0m8-6h0m1 2h0m12-7h0m1 10h0m12-2h0m0-19h0m0 7h0m3 12h0m1-11h0m4-4h0m1 2h0m6 17h0m4-1h0m7-14h0m10-8h0m4 22h0m1-11h0m10-10h0m-27 29h0m-1 4h0m-9-8h0m-2 13h0m-5 2h0m-19-13h0m-13 4h0m-7 0h0m0 2h0m-1 4h0m-168 5h0m-44 4h0m-35-7h0m-3-1h0m-3-2h0m-9-8h0m-24 0h0m-8 2h0m-14-5h0m-11 19h0m-7-4h0m-63-4h0m-45 5h0m-323-8h0m-586 7h0m-27-16h0m-530 12h0m-61 30h0m1519 4h0m3-14h0m9 1h0m7-10h0m13 15h0m0-6h0m14 0h0m2-5h0m5-4h0m11 23h0m12-6h0m1-2h0m6 2h0m30-17h0m2 4h0m8 0h0m28 12h0m3-7h0m0-6h0m4 10h0m3 7h0m13-18h0m2 21h0m11-18h0m5 17h0m4 0h0m292-22h0m-189 32h0m-43-4h0m-61 9h0m-2 6h0m-1 3h0m-6-13h0m-9 11h0m-3-4h0m-2-6h0m-2 10h0m-15-3h0m-13-15h0m-3 3h0m-3 10h0m0 8h0m-10-9h0m-14-4h0m-10-10h0m-19 4h0m-3 15h0m-8-2h0m-7-11h0m-15 16h0m-1-6h0m-10 2h0m-10-11h0m-10 2h0m-1-9h0m-6 23h0m-7-3h0m-49-6h0m-1452 9h0m-123-6h0m253 19h0m1085-11h0m277 0h0m2 22h0m16-5h0m1 1h0m1 2h0m7-4h0m2-12h0m6 13h0m2-12h0m2 9h0m0 7h0m2-21h0m23 9h0m3 8h0m1-10h0m3 2h0m2 11h0m11-20h0m5 18h0m5-11h0m8-4h0m29-3h0m1 1h0m1 18h0m6-2h0m1-9h0m0 4h0m4-10h0m0 17h0m20-7h0m6 10h0m4-10h0m4 3h0m4-7h0m9-4h0m1-5h0m2 17h0m6-9h0m2 15h0m37-6h0m56-10h0m-89 29h0m-7 2h0m-7 9h0m-1-1h0m-2-14h0m-2-3h0m-5 13h0m-19-6h0m-2-8h0m0 13h0m-5 0h0m-16-17h0m-8 0h0m-3 3h0m-8 9h0m-30 10h0m-1-7h0m-5-10h0m-3 18h0m-3-3h0m-8-11h0m-4 10h0m-8-2h0m-15-6h0m-6 0h0m0 8h0m-4-12h0m-25 12h0m-3-18h0m-15 6h0m-3 16h0m-1336 0h0m-63 5h0m1099 3h0m298 0h0m7 10h0m1-1h0m1-12h0m19 18h0m17-17h0m4 2h0m4 7h0m8-5h0m12 8h0m5-3h0m13-6h0m1 5h0m1-13h0m12 9h0m1-7h0m1 21h0m11-6h0m4-9h0m1 4h0m1-10h0m11 8h0m10 8h0m13-9h0m17-5h0m1 10h0m6 2h0m22-10h0m9 12h0m4-15h0m2-2h0m3 0h0m2 36h0m-11-12h0m-5 3h0m-5 8h0m-1 4h0m-34 3h0m-7-6h0m-1 9h0m-4-7h0m-8 3h0m-2-7h0m-1 10h0m-4-16h0m0 2h0m-5 3h0m-5-3h0m-21 9h0m-6 7h0m-10-5h0m-1 5h0m-11-14h0m-11-8h0m-9 20h0m-1-21h0m-8 2h0m-1-1h0m-7 6h0m-1 14h0m-8-10h0m-9 5h0m-15-6h0m-5 0h0m-4 13h0m-2-15h0m-7 8h0m-1181 7h0m-185 10h0m1368-1h0m5-7h0m3 11h0m5 10h0m0-16h0m2 12h0m0-1h0m7 2h0m6 1h0m3-2h0m5-16h0m3 21h0m17-6h0m13 4h0m6-15h0m10-1h0m10 14h0m3-6h0m4 5h0m4 0h0m13-11h0m1 4h0m7 7h0m2-15h0m2 7h0m0 10h0m9-15h0m11 11h0m15-4h0m13 8h0m14-5h0m6-12h0m1 2h0m2 13h0m8 3h0m14 2h0m5-5h0m3 7h0m-4 10h0m-2-5h0m-4-2h0m-7 15h0m-5-9h0m-5 0h0m-8 2h0m-8 5h0m-1-8h0m-7-8h0m-1 7h0m-6 10h0m-7 1h0m-4 0h0m-19-15h0m-2 9h0m-32 4h0m-8-3h0m-1 8h0m-6-16h0m-6 0h0m-1 17h0m-3 0h0m-9-7h0m-1-2h0m-13-4h0m0 11h0m0-17h0m-13 0h0m-1 19h0m-1-21h0m-11 20h0m0-14h0m-10 2h0m-5 5h0m-1-15h0m-9 1h0m-8 16h0m-8 0h0m-560 0h0m-10-5h0m-9-6h0m-129 14h0m61 15h0m79 3h0m4 1h0m19-14h0m29 19h0m507-19h0m4 17h0m1-11h0m9 12h0m6-9h0m3 10h0m11-14h0m2-2h0m1 17h0m1-10h0m7 11h0m1-17h0m5 2h0m12-7h0m1 9h0m0-9h0m12 16h0m25 4h0m1-8h0m13 8h0m1-7h0m23-5h0m3 13h0m4-18h0m0 12h0m2-6h0m7 10h0m0-18h0m5 0h0m5 19h0m1-7h0m9 8h0m6-11h0m2-3h0m2-7h0m5 6h0m6 16h0m3-16h0m10-3h0m1-1h0m2 2h0m6 3h0m5 5h0m8-2h0m6 10h0m2 23h0m-1-4h0m0-14h0m-2 8h0m-4 9h0m0-8h0m-4-6h0m-1 14h0m-3 4h0m-3-14h0m-1 15h0m-5-2h0m-2-16h0m-5-3h0m-15 19h0m-3 1h0m-4-22h0m-7 22h0m-11-7h0m-8 4h0m-19 3h0m-11-22h0m-11 20h0m-1-9h0m-10 12h0m-3-22h0m-1 18h0m-14-10h0m0 5h0m-2-9h0m-11-2h0m-8 5h0m-4 7h0m-6-3h0m-31-12h0m-10 7h0m-1-2h0m-5 11h0m-7-7h0m-2 6h0m-3 7h0m-5-20h0m-4 20h0m0-3h0m-517 3h0m-20-20h0m-86 0h0m-437 7h0m-432-7h0m433 36h0m401-8h0m86 1h0m31 0h0m328-2h0m186 14h0m22-2h0m7 1h0m36-12h0m3 6h0m13 5h0m9-2h0m6-11h0m6 8h0m0 4h0m5-13h0m24 9h0m7 7h0m1 4h0m5-7h0m18 1h0m1-10h0m5-5h0m0 11h0m1-1h0m3-4h0m1 14h0m2-13h0m3 13h0m3-14h0m7-1h0m8 3h0m6-10h0m9 18h0m2-14h0m2 17h0m8-5h0m0-16h0m1 1h0m1-1h0m1 6h0m3 2h0m7-8h0m4 12h0m6-11h0m1 11h0m7 2h0m4-7h0m2 1h0m-24 20h0m-1 0h0m-19 11h0m-6 8h0m0-22h0m-4 7h0m-7-8h0m-1 7h0m-14 2h0m-6 5h0m-22-3h0m-7 4h0m-7 4h0m-6 3h0m0-18h0m-4 12h0m-2-3h0m-4-11h0m-10 15h0m0 1h0m-1-13h0m0-3h0m-2 4h0m-5 13h0m-18-4h0m-4-9h0m-1 16h0m0-16h0m-14 16h0m-8-7h0m-18-12h0m-6-1h0m-6 17h0m-4-11h0m-3-2h0m-11 3h0m-3-2h0m-3 7h0m-9 1h0m-11-10h0m-4-5h0m-68 10h0m-421 1h0m-16-10h0m-23 2h0m-50 7h0m-87-6h0m-37 2h0m-664 10h0m1289 28h0m33-1h0m24 2h0m3-3h0m5-10h0m3 2h0m24 12h0m2-4h0m15-11h0m22-3h0m4 11h0m4-15h0m22 23h0m0-8h0m2-9h0m2-2h0m2 18h0m8-20h0m1 7h0m3-8h0m17 21h0m4-11h0m9 3h0m2 4h0m0 0h0m3-7h0m1-7h0m7-2h0m1 1h0m11 2h0m1 5h0m9 7h0m24-13h0m5 1h0m37-5h0m-181 34h0m-5-10h0m-4 8h0m-1-1h0m-4-1h0m-16 0h0m-6 7h0m-28 3h0m0 5h0m-7-9h0m-32-6h0m-466 11h0m-31-11h0m-65-4h0m60 43h0m39-8h0m468 6h0m-513 9h0" stroke="#3a78b0" stroke-width="5.2" stroke-linecap="round" fill="none"/>
<path transform="scale(0.5)" d="M346 2806h0m30 0h0m44-18h0m62 16h0m1030-1h0m27-5h0m81 4h0m26 22h0m-1 6h0m-10-18h0m-37-2h0m-11 14h0m-20 5h0m-4-13h0m-38 15h0m-7-5h0m-20 2h0m-4-5h0m-1088 28h0m1093-11h0m52 3h0m3 7h0m6-6h0m2-9h0m36 17h0m12-3h0m46-7h0m2 6h0m11 4h0m261 2h0m-112 14h0m-8-7h0m-16 4h0m-60 12h0m-48-10h0m-12 2h0m-61-6h0m-20 16h0m-5-19h0m-36 12h0m-67-16h0m-2 13h0m-16 8h0m-14-21h0m-22 12h0m-939 1h0m-101 27h0m1031-7h0m0-8h0m25 22h0m32-6h0m24 6h0m1-7h0m17-12h0m2 5h0m43-1h0m11 15h0m9-15h0m30 8h0m0-4h0m2-1h0m19-11h0m13 5h0m7-3h0m1 5h0m5-5h0m3 20h0m28-5h0m13 6h0m32-12h0m9 8h0m25-5h0m7-6h0m2 7h0m3 2h0m6-9h0m181 8h0m-157 26h0m-13-8h0m-2-6h0m-40-4h0m-42 23h0m-29-7h0m-43 3h0m-27 4h0m-5-14h0m-32-4h0m-30 16h0m-7-18h0m-1-1h0m-29 9h0m-26-1h0m-1 5h0m-3-15h0m-2 22h0m-7-14h0m-8-2h0m-5 4h0m-7 13h0m-3-20h0m-32 3h0m-903 8h0m-131-14h0m-96 21h0m-2 1h0m-6-12h0m-52 16h0m1175 17h0m1-2h0m8-15h0m1 17h0m15-12h0m4 1h0m5 7h0m4-11h0m5 12h0m64-4h0m2-8h0m8-4h0m23 18h0m1-13h0m7 14h0m12-12h0m22 10h0m7 0h0m9-14h0m3 7h0m12 9h0m2-6h0m4-12h0m15 21h0m8-6h0m4 3h0m41-1h0m0-3h0m3-9h0m18 11h0m18-7h0m6 4h0m13 6h0m14-8h0m15-8h0m5 6h0m12-2h0m21-5h0m290 20h0m4-2h0m2 1h0m23-10h0m14 11h0m46 19h0m-25-5h0m-22-1h0m-8 5h0m-3-1h0m-22 0h0m-2-16h0m-127 10h0m-25-5h0m-199 1h0m-26 0h0m-9-6h0m-11 1h0m-1 8h0m-11 11h0m-14-15h0m-16 13h0m-9-14h0m-13-2h0m-1 2h0m-13 18h0m-10-2h0m-10-4h0m-8 0h0m-47-16h0m-9 15h0m-29-9h0m-12 10h0m-8-4h0m-17 2h0m-36-5h0m-7-7h0m-7 6h0m0 11h0m-9-4h0m-1033 1h0m-108-10h0m-37-5h0m-23 45h0m36-1h0m44-9h0m5-5h0m26 5h0m195 6h0m81-1h0m782 6h0m8-18h0m15 9h0m9 4h0m4-18h0m19 8h0m17 11h0m11-5h0m5-12h0m0 11h0m11-8h0m0-3h0m3 0h0m13 6h0m9 2h0m29-5h0m9-4h0m9 16h0m10-7h0m39-1h0m3 0h0m11-1h0m2-4h0m0 13h0m16-15h0m17 19h0m9-8h0m10-7h0m6-6h0m6 4h0m9 3h0m433 16h0m10-19h0m5 13h0m6-15h0m21 3h0m21 3h0m19-2h0m31 29h0m-21-1h0m-14 3h0m-8-3h0m-21 12h0m-1-6h0m-14-4h0m-5 3h0m-28 6h0m0-11h0m-14 1h0m-12 11h0m-7-6h0m-431 6h0m-6-14h0m-16 4h0m-54 2h0m-6 9h0m-6-3h0m-8-18h0m-1 8h0m-21 11h0m-1-4h0m-6-9h0m-13 3h0m-4-2h0m-2-7h0m-3 20h0m-3-21h0m-3 8h0m-12 10h0m-3-11h0m-9-1h0m-9 5h0m-6 4h0m-5 7h0m-5-3h0m-7 2h0m-1-17h0m-1 6h0m-15-7h0m-25-1h0m-4 8h0m-17 4h0m-2-7h0m-7 15h0m-7-7h0m-830-12h0m-284 10h0m-9-1h0m-60 5h0m-10-14h0m-2 9h0m-27-5h0m-18 28h0m39-3h0m64 7h0m8 7h0m19-6h0m5 6h0m8-22h0m16 16h0m28 1h0m23-14h0m9-3h0m18 4h0m2 12h0m3 1h0m8 4h0m12-6h0m1 0h0m21 1h0m2-5h0m82 4h0m203 7h0m668-16h0m32 2h0m5-9h0m0 1h0m2 8h0m3-6h0m16 18h0m5-11h0m26-8h0m4 14h0m7 2h0m5-13h0m17-5h0m13 7h0m3-3h0m7 18h0m17-14h0m12 9h0m8-16h0m1 18h0m9-11h0m25 10h0m0-6h0m13 3h0m9-7h0m12 11h0m9-5h0m1 5h0m2-9h0m1 11h0m16-11h0m445 0h0m0-7h0m13 18h0m1-20h0m11 3h0m2 8h0m17 6h0m3-14h0m5 8h0m19-11h0m2 11h0m8 9h0m26-20h0m4 4h0m1 18h0m0-23h0m4 1h0m23 11h0m3 11h0m3-8h0m25 20h0m-9-9h0m-8 12h0m-5-8h0m-5-4h0m-2-1h0m-5 16h0m-10-5h0m-24 7h0m-4-8h0m-2 4h0m-20-9h0m-47 14h0m-9-17h0m-305 6h0m-169-7h0m-29 9h0m-3 0h0m-11 10h0m-4-3h0m-9-16h0m-54 4h0m-4 5h0m-15-5h0m-5 7h0m-15 3h0m-22-14h0m-4 12h0m-13-10h0m-4-3h0m-2 0h0m-13 22h0m-5-12h0m-12 7h0m-13-17h0m-10-1h0m-26 2h0m0 1h0m-6 17h0m-2 1h0m-579-5h0m-41 7h0m-37-22h0m-185 14h0m-2-1h0m-16-12h0m-12 16h0m-9 0h0m-31-6h0m-5 11h0m-9-21h0m-5 17h0m-31-8h0m-3-7h0m-22-2h0m-14 17h0m-3-8h0m-1 0h0m-9-4h0m-2 0h0m-1-4h0m0 5h0m-3 8h0m-2-5h0m-1-6h0m-18 15h0m-9-10h0m-12-8h0m-2 15h0m-14 1h0m-2 1h0m-4-2h0m-39-12h0m-37 16h0m-18-17h0m-11 17h0m-2-6h0m-41 5h0m-24 9h0m2 5h0m2 5h0m55 1h0m1 6h0m9 0h0m3-9h0m18-5h0m1 12h0m8-18h0m2-1h0m16 16h0m13-11h0m6 3h0m17-7h0m3 3h0m1 9h0m2-2h0m0 3h0m0 2h0m2-15h0m10 21h0m16-18h0m5 12h0m6-9h0m2-3h0m4 5h0m6-8h0m0 7h0m48-1h0m6 9h0m2-1h0m3-9h0m5-2h0m21 3h0m21 0h0m7 11h0m7-7h0m16 6h0m3 4h0m5-18h0m6 14h0m2-10h0m1-7h0m0 20h0m19-10h0m10 11h0m24 0h0m12 1h0m15-7h0m170-10h0m91 14h0m1-14h0m24-1h0m22 9h0m518 7h0m47-4h0m5-8h0m5 2h0m5-11h0m2 22h0m32-12h0m4 0h0m15 12h0m8-11h0m10 6h0m1-7h0m27-6h0m1 3h0m4 15h0m12-6h0m15-6h0m2 11h0m25-17h0m7 19h0m4-17h0m2 15h0m504-2h0m6-9h0m5 7h0m13-14h0m7 12h0m20 6h0m21-17h0m2 16h0m20-18h0m55 44h0m-1-18h0m-23-3h0m-9 17h0m-26-17h0m-25 10h0m-46 11h0m-3-7h0m-2-14h0m-522 2h0m-2 20h0m-59-11h0m0-6h0m-7 1h0m-28-2h0m-7 14h0m-3-14h0m-4 10h0m-39-12h0m-21 6h0m-2-7h0m-5 8h0m-2 2h0m-29-6h0m-4 4h0m-3-2h0m-2 2h0m-7-6h0m0 18h0m-6-15h0m-7 10h0m-7 4h0m-505-15h0m-117 2h0m-123 14h0m-27-3h0m-23-2h0m-5-7h0m-11-8h0m-4 8h0m-15 9h0m-3-15h0m-1 19h0m-18-17h0m-8 15h0m-3-15h0m-2 15h0m-2-12h0m-6 13h0m-21-22h0m-11 0h0m-3 1h0m-4 3h0m-18 17h0m-3-12h0m-7-2h0m-7-6h0m-20 17h0m-10-13h0m-6 13h0m-19-18h0m-9 15h0m-57 2h0m-6-17h0m-9 13h0m-10 6h0m-4-1h0m-1-7h0m-10-6h0m-20 7h0m-34 0h0m-2 0h0m-26 4h0m-13-13h0m-10 5h0m-5-5h0m-10 7h0m-1 12h0m0-5h0m-13 4h0m-13-3h0m-28 23h0m17 4h0m43-8h0m7 10h0m4-4h0m9-7h0m41-4h0m7-4h0m5-3h0m46 11h0m30-11h0m2 20h0m4-2h0m2-1h0m11-1h0m0 3h0m38-20h0m4 6h0m0-2h0m2 1h0m13 4h0m1 5h0m4-7h0m0-1h0m23 11h0m30-6h0m10-9h0m8 4h0m10 7h0m17-7h0m14 14h0m15-1h0m7-18h0m12 7h0m4 12h0m15-6h0m3 9h0m22-10h0m5-8h0m28 4h0m23 13h0m23-9h0m100-8h0m14 18h0m54-15h0m60 14h0m495-5h0m22 2h0m13-7h0m8 5h0m5-5h0m3 2h0m27-6h0m3 2h0m4 6h0m13-1h0m9 6h0m5-18h0m6 7h0m1-6h0m4 13h0m5-10h0m15 15h0m1-14h0m3-8h0m5 1h0m21 4h0m7-4h0m22 6h0m10-6h0m1 22h0m8-17h0m10 15h0m2-21h0m28 12h0m186-1h0m252 7h0m61 5h0m0-20h0m26 6h0m9-8h0m14 3h0m3 12h0m2-4h0m63-12h0m-13 33h0m-31 13h0m-27-5h0m-536-7h0m-13 7h0m-7-3h0m-1-5h0m-3 12h0m-8-2h0m-11 4h0m-1-4h0m-4-8h0m-4-6h0m-12 0h0m-4 8h0m-15 1h0m-19 4h0m-29-2h0m-2-11h0m-12 9h0m-8 6h0m-16-16h0m-6 9h0m-80-12h0m-1 6h0m-34 6h0m-572-3h0m-25-3h0m-123-1h0m-39-1h0m-5 18h0m-10-4h0m-6-19h0m-2 3h0m-6 8h0m-16 2h0m-14 4h0m-7-13h0m0 6h0m-9-1h0m-4-6h0m-3 14h0m-11 3h0m-11-1h0m-3-17h0m-29 13h0m-5-14h0m-22 21h0m-6-16h0m-17-6h0m-8 22h0m-2-11h0m-2-6h0m-7 18h0m-13-14h0m-8-4h0m-8 10h0m-11-14h0m-13 7h0m-5-1h0m-2 10h0m-21-7h0m-2 9h0m-18 2h0m-3-11h0m-22 1h0m-6 8h0m-16-14h0m-25 13h0m-7-18h0m-8 0h0m-3 17h0m-49 5h0m-32 0h0m0-16h0m-1 15h0m-13-7h0m-1 9h0m-12-22h0m-3 14h0m3 16h0m3 13h0m18 2h0m1-12h0m11 5h0m5-1h0m8-7h0m16 3h0m6-5h0m13 13h0m5-12h0m5 13h0m29-5h0m6 0h0m2-13h0m5 22h0m6-12h0m24-3h0m11 0h0m30-1h0m3-5h0m3 11h0m2-8h0m0 6h0m2 9h0m1 1h0m2-12h0m2-3h0m7-4h0m17 15h0m14 0h0m2-12h0m41 6h0m35-4h0m5 9h0m7-3h0m31 6h0m11 3h0m7-3h0m25-5h0m3-13h0m6 9h0m12 6h0m1-6h0m8-8h0m22 15h0m1-3h0m3 1h0m9-3h0m17-5h0m1 10h0m2-17h0m35 23h0m5-7h0m20-7h0m76-6h0m42 4h0m34 14h0m117-11h0m18 7h0m1-5h0m402-2h0m2 3h0m5-5h0m5-5h0m20 16h0m1-11h0m4 7h0m7-9h0m13 13h0m13-12h0m3 7h0m17-11h0m3 5h0m9 15h0m7-23h0m16 12h0m4 5h0m4-1h0m18-12h0m12 16h0m5-9h0m6 6h0m17 4h0m1-5h0m44 4h0m14-9h0m25-7h0m37 11h0m1-9h0m277 11h0m5 2h0m196-17h0m72 2h0m-42 43h0m-482-9h0m-18 1h0m-1-3h0m-26-12h0m0 1h0m-1 0h0m-7 20h0m-29-20h0m-5 13h0m-19-9h0m-25 5h0m-19 0h0m-10 2h0m-6-11h0m-3 11h0m-22 8h0m-5-14h0m-16 12h0m-15 3h0m-2-20h0m-9 3h0m-40 7h0m-23 2h0m-18 6h0m-2 0h0m-23 2h0m-385-16h0m-122 12h0m-22 2h0m-181-5h0m-3 8h0m-15 0h0m-3-6h0m-22-5h0m-4 2h0m-1 6h0m-22-19h0m-1 17h0m-5-3h0m-14-3h0m-23 5h0m-15 3h0m-9-15h0m-3 7h0m-1-3h0m-1-1h0m-2 10h0m-3-2h0m-6-11h0m-28 3h0m-24-1h0m-47 11h0m-9 0h0m-33-8h0m-2 4h0m-2 2h0m-3 2h0m-1-14h0m-21 17h0m-22-1h0m-10-15h0m-1 9h0m-32-10h0m-1 7h0m-9 4h0m-14 3h0m-39-16h0m-3-1h0m-2 19h0m-3-7h0m-6 10h0m-1-11h0m-1 2h0m-7 3h0m-1-5h0m-8 7h0m-8 1h0m0-3h0m-10-6h0m-6 11h0m-14-15h0m-4 4h0m-2-10h0m-8 4h0m-15 40h0m38 3h0m11-23h0m30 12h0m14-4h0m3 9h0m4-8h0m38 2h0m7-11h0m23 17h0m1 6h0m12-16h0m6 15h0m10-4h0m10-7h0m10 3h0m18-4h0m24 8h0m11-11h0m4 13h0m0-20h0m5 12h0m5 1h0m12 4h0m1-4h0m5 1h0m21-1h0m43-6h0m11-5h0m25 17h0m48-5h0m9-10h0m19 15h0m6-6h0m21 1h0m51-3h0m20 2h0m140-7h0m58-4h0m485 17h0m10-10h0m9-3h0m19 9h0m6-9h0m11-2h0m18 3h0m28-5h0m0 19h0m16-18h0m16-2h0m6 14h0m7-11h0m4 2h0m28 8h0m7-3h0m35 4h0m5 7h0m4-15h0m0 13h0m30-4h0m1-4h0m37-5h0m8 12h0m1-8h0m0 1h0m8 9h0m24-6h0m2 5h0m13 0h0m253 1h0m-176 23h0m-59-3h0m-41 0h0m-2-11h0m-8 13h0m-7-17h0m-11 8h0m-3-10h0m-11 5h0m-10 0h0m-4-5h0m-6 7h0m-9 6h0m-12-8h0m-16 16h0m-13-14h0m-8 2h0m-5 1h0m-26 3h0m-19-6h0m-6 7h0m-3-14h0m-10 17h0m-3-13h0m-7 3h0m-15 6h0m-2-9h0m0 7h0m-5-9h0m-17 19h0m-31-9h0m-4 1h0m-6-2h0m-39 8h0m-8-16h0m-755-3h0m-27 20h0m-1 1h0m-20 1h0m-53-22h0m-1 23h0m-18-8h0m-6-5h0m-10-2h0m-10-1h0m-11 3h0m-4 13h0m-21-9h0m-25-13h0m-73 14h0m-5-3h0m-2 9h0m-2 2h0m-26-18h0m-4 2h0m-19-2h0m-11 3h0m-14 6h0m-20-7h0m-27 0h0m-16 5h0m-19-12h0m-9 12h0m-1 9h0m-11-20h0m-1 2h0m-1 13h0m-1-16h0m-5 1h0m-6 8h0m-13-9h0m-7 20h0m7 24h0m13-8h0m8 10h0m35-15h0m19 13h0m2-9h0m25 4h0m0-15h0m1 22h0m8-13h0m0-8h0m25 10h0m18 4h0m10 5h0m11-8h0m19 11h0m3-4h0m6-16h0m8 0h0m0 0h0m2 1h0m8 18h0m2-10h0m4 3h0m7 3h0m6-2h0m16-2h0m6 7h0m3-19h0m5 17h0m17-7h0m18 8h0m16-3h0m5-7h0m38 11h0m22-11h0m33-6h0m15 8h0m10 7h0m83-14h0m716 15h0m8-9h0m7-11h0m7 23h0m0-2h0m14-3h0m2 4h0m42-11h0m5-7h0m11 4h0m14-3h0m1 11h0m11-16h0m7 15h0m60 3h0m19-15h0m1 17h0m2-14h0m11 7h0m2-11h0m0-1h0m3 1h0m2 21h0m11-23h0m1 15h0m6-7h0m17 3h0m0 3h0m3-1h0m26 4h0m11-4h0m35-9h0m4 1h0m0-4h0m225 16h0m-246 19h0m-3 0h0m-1-5h0m-24 8h0m-6-3h0m-2-10h0m-6 3h0m-42 7h0m-4-4h0m-17 5h0m-13-10h0m-9 10h0m0 9h0m-11-13h0m-3 0h0m-6 10h0m-2-13h0m-11-6h0m-1 0h0m-7 3h0m-2 7h0m-35 13h0m-5-1h0m-7-17h0m-36 15h0m-26 2h0m-6-17h0m-781 6h0m-98-2h0m-33 1h0m-11-9h0m-59 19h0m-21-12h0m-4 11h0m-21-3h0m-16 7h0m-2-8h0m-4-10h0m-11 13h0m-21-13h0m-70 12h0m-5-13h0m-45 10h0m-9-9h0m-11 7h0m-37-5h0m-5-4h0m-7 16h0m-3-7h0m-15-8h0m-11 18h0m-10-6h0m4 14h0m3-6h0m11 0h0m2 17h0m36-7h0m50 3h0m5 1h0m7 6h0m10-2h0m15-14h0m32-1h0m5 11h0m0 3h0m7-12h0m31 2h0m7-6h0m28 9h0m5 9h0m5-4h0m10-12h0m10 1h0m17 8h0m20 0h0m39 5h0m0 4h0m255 1h0m696-10h0m83-12h0m5 22h0m29-3h0m3-9h0m13 10h0m8 3h0m3-14h0m0 12h0m0-3h0m19-1h0m0-14h0m4 19h0m3 0h0m16-18h0m5 1h0m5 12h0m30-6h0m0-2h0m1 5h0m10-7h0m4 10h0m12-9h0m1 0h0m64 36h0m-3-1h0m-49-19h0m-18 14h0m-19-4h0m-15 8h0m-3-11h0m0 4h0m-9 0h0m-4 2h0m-13 5h0m-22 4h0m-2-15h0m-1 7h0m-36 0h0m-33-14h0m-21 3h0m-15-1h0m-32 14h0m-8-12h0m-746 9h0m-27 1h0m-27 1h0m-111 2h0m-97-7h0m-51 6h0m-9 4h0m-42-4h0m-34-2h0m-5 6h0m-2-7h0m-7-10h0m-6 9h0m-2-10h0m-26 10h0m0-5h0m-6-7h0m-49 22h0m3 9h0m29 11h0m2-3h0m3 2h0m1 0h0m51 1h0m4-9h0m51-7h0m2 6h0m30 3h0m32 11h0m34-14h0m63-4h0m185 8h0m45 7h0m3 4h0m706-21h0m3 12h0m26-7h0m11 8h0m4-14h0m4-1h0m82 20h0m6-5h0m15 7h0m21-9h0m16 3h0m6-1h0m9-6h0m1 3h0m17 0h0m3-1h0m10-7h0m61 12h0m229-5h0m-340 25h0m-1-5h0m-2 6h0m-9 4h0m-38-14h0m-1 18h0m-2-2h0m-30-17h0m-4 8h0m-7 10h0m-31-20h0m-2 1h0m-1 18h0m-19-10h0m-13-4h0m-285 6h0m-49 2h0m-15-9h0m-48 10h0m-315 1h0m-341-12h0m-2 6h0m-2-9h0m-50 21h0m-6-15h0m-29 15h0m-147-15h0m2 31h0m125-8h0m54 3h0m94 9h0m28-3h0m194 9h0m430-4h0m10-3h0m41 0h0m52-12h0m249 17h0m15-11h0m2 1h0m29 1h0m12 0h0m21-2h0m10 12h0m9-16h0m1-5h0m14 18h0m12 3h0m3-19h0m4 8h0m12-9h0m13-1h0m241 6h0m108-2h0m-163 29h0m-196 6h0m-23-5h0m-5 6h0m-44-17h0m-22 1h0m-3 22h0m-10-22h0m-12-1h0m-2 13h0m-302-5h0m-44-5h0m-405 11h0m-126-10h0m-137-3h0m-28 15h0m-48-9h0m-39 8h0m-35 6h0m-28-9h0m-17 16h0m142 10h0m45 8h0m196-5h0m12-2h0m12-13h0m349 17h0m31-2h0m83-13h0m9 1h0m14 0h0m310 5h0m40-10h0m9 20h0m44-6h0m38 0h0m108-13h0m150 0h0m-256 36h0m-2-2h0m-8-2h0m-3 14h0m-74-17h0m-13-1h0m-4-4h0m-10 19h0m-316-12h0m-65 5h0m-67 10h0m-654-14h0m-1 5h0m-5-5h0m720 31h0m11-9h0m10 2h0m29 2h0m336 0h0m11 9h0m75-10h0m24-10h0m5 17h0m104-10h0m127 5h0m-288 13h0m-12 13h0m-27-6h0m-406-3h0m-3 14h0m421 7h0m5-1h0m-402 36h0" stroke="#e8943c" stroke-width="5.2" stroke-linecap="round" fill="none"/>
<path transform="scale(0.5)" d="M1585 2773h0m-7 1h0m-3 1h0m-3 8h0m-8-15h0m-19 6h0m-51 26h0m1 6h0m46-21h0m12 3h0m2 13h0m0-5h0m17 1h0m42 2h0m0 3h0m14 9h0m-6 3h0m-32-2h0m-16 18h0m-2-14h0m-1 13h0m-12-1h0m-6-20h0m-5 8h0m-3 9h0m0 0h0m-16-4h0m-3 8h0m-1-12h0m-1-5h0m-12 8h0m-4 2h0m-64 32h0m3-19h0m46 18h0m12-20h0m34 16h0m12 2h0m12-13h0m2-4h0m41 2h0m22 8h0m2 1h0m14-7h0m286 38h0m-100 2h0m-47-4h0m-144-9h0m0 6h0m-9-5h0m-9-2h0m-5 3h0m-37 2h0m-17 7h0m-13-7h0m-12-7h0m-17 6h0m-13-9h0m-17 3h0m-16-4h0m-7 17h0m-22 3h0m-16-20h0m-7 13h0m-8 23h0m6 1h0m25 2h0m49-10h0m0-4h0m18 17h0m8 2h0m2-16h0m16 14h0m11-19h0m41 5h0m8 16h0m4-6h0m57-16h0m1 16h0m6-10h0m43-3h0m82 10h0m155-11h0m-199 25h0m-8 1h0m-18 6h0m-4-5h0m-28 18h0m-11-15h0m-10 8h0m-2-8h0m-3 6h0m-3-14h0m-7 1h0m-10-1h0m-5 4h0m0 9h0m-7-3h0m-9 7h0m-8-7h0m-21 2h0m-25-1h0m-19 2h0m-18-9h0m-3 15h0m-23-19h0m-6 15h0m-13-4h0m-2 12h0m-11-8h0m-5-1h0m-1 9h0m-7-12h0m-3 12h0m-6-7h0m-43 0h0m-986-10h0m-133 17h0m1129 1h0m10 23h0m20-23h0m34 15h0m16-13h0m21 4h0m10 17h0m42-19h0m13 15h0m60 1h0m3-6h0m4 0h0m25-14h0m58 13h0m19 10h0m35-16h0m2-5h0m16 7h0m37 0h0m122-4h0m175 1h0m68 37h0m-62-5h0m-18-8h0m-7-5h0m-134 6h0m-6-2h0m-17-1h0m-287 13h0m-18-8h0m-37 6h0m-10-3h0m-16 3h0m0-8h0m-26-1h0m-10 8h0m-31-10h0m-10 10h0m0-2h0m-2 7h0m-3-12h0m-1 4h0m-23-4h0m-24-2h0m-1 17h0m-17-15h0m-1 15h0m-18-8h0m-1248-9h0m-7 17h0m103 19h0m272-15h0m191 16h0m661 2h0m28-8h0m56 3h0m15-10h0m11 7h0m15 4h0m3 3h0m9-3h0m2-11h0m81 11h0m11-12h0m54 17h0m3 1h0m429 1h0m99-17h0m-28 26h0m-32 1h0m-12-1h0m-11-6h0m-476 18h0m-3 3h0m-7-12h0m-10-6h0m-75-3h0m-26 14h0m-23 6h0m-11-17h0m-57 1h0m-45-6h0m-641 6h0m-519 6h0m-49 10h0m188 20h0m18-12h0m24 7h0m963-1h0m20 7h0m6-14h0m8 16h0m42-2h0m73-8h0m2 1h0m53-11h0m13 16h0m46-5h0m405 3h0m142 3h0m92 18h0m-24-2h0m-65 3h0m-91-13h0m-455 8h0m-47 1h0m-122 2h0m-8-11h0m-9 6h0m-38 4h0m-576-10h0m-12 17h0m-389-1h0m-38-8h0m-167 13h0m-23 1h0m-43-1h0m-61-3h0m28 17h0m163 11h0m269-13h0m127-9h0m53 15h0m44-8h0m626 0h0m36 16h0m86-4h0m8-2h0m23-1h0m16-1h0m12 0h0m19-9h0m6 7h0m232 0h0m270-1h0m8 5h0m90-7h0m1 12h0m1-12h0m0 12h0m45-2h0m2-14h0m-6 39h0m-17-3h0m-7-6h0m-18 7h0m-4-15h0m-144 7h0m-490 2h0m-18-4h0m-78 14h0m-123-5h0m-1 5h0m-753-2h0m-49-9h0m-26-12h0m-4 6h0m-23 8h0m-44-1h0m-48-2h0m-46-1h0m-24 8h0m-25-1h0m-59-13h0m-71 4h0m-33 10h0m-84 25h0m84-14h0m75 16h0m40-6h0m12-12h0m105 10h0m55-12h0m196 22h0m112-23h0m70 12h0m526 10h0m23-8h0m8-12h0m55 18h0m2-8h0m3-9h0m37 16h0m110-6h0m33-3h0m465-7h0m2 8h0m164 5h0m-26 16h0m-163 1h0m-8 3h0m-390 10h0m-56-10h0m-23 11h0m-45-18h0m-39 18h0m-47-21h0m-54-1h0m-10 4h0m-7-3h0m-25 15h0m-587-8h0m-319 1h0m-51 9h0m-30-10h0m-81 4h0m-65 9h0m-14-11h0m-142 24h0m277 9h0m12-1h0m52-11h0m200-3h0m117 1h0m37 7h0m66-2h0m41-9h0m457 15h0m4-5h0m3-4h0m66 5h0m9-6h0m72 1h0m26-6h0m124 12h0m41-2h0m261-8h0m41 0h0m160 10h0m22 25h0m-175 1h0m-119-6h0m-231 6h0m-11 1h0m-146 1h0m-5 4h0m-43-14h0m-17 6h0m-34-11h0m-5 13h0m-12-9h0m-563 4h0m-192 9h0m-80-15h0m-48-5h0m-3 14h0m-61-7h0m-7 2h0m-142 12h0m-11-18h0m-10 3h0m-126 3h0m-40 10h0m4 9h0m4-1h0m87 17h0m51-7h0m171-7h0m177-5h0m265 5h0m490 2h0m23-4h0m8 4h0m9 12h0m1-5h0m6-1h0m12 1h0m45 4h0m10-11h0m55 7h0m11 8h0m92-23h0m32 11h0m33 12h0m-7 6h0m-78-5h0m-37 3h0m-3 6h0m-8 7h0m-49-10h0m-78-4h0m-5 21h0m-10-13h0m-36 12h0m-14-14h0m-6 5h0m-695-8h0m-18 2h0m-87-7h0m-10 1h0m-1 21h0m-32-9h0m-90-10h0m-175 15h0m-14-10h0m-51 7h0m-81-11h0m-5 3h0m-5 12h0m20 26h0m24-17h0m2 6h0m1 12h0m14-19h0m9 17h0m10 0h0m3-8h0m2-3h0m41-7h0m40-2h0m76 16h0m38-11h0m3 3h0m78 9h0m1 1h0m37-17h0m17 8h0m64-7h0m779-2h0m4 15h0m2 3h0m2 5h0m7-18h0m14 17h0m72-16h0m23-1h0m11 7h0m96-12h0m12 19h0m94-17h0m334 42h0m-39-7h0m-276 10h0m-34-15h0m-51-7h0m-30 1h0m-79 12h0m-12-12h0m-35 16h0m-5-6h0m-23-11h0m-3-1h0m-37 1h0m-1 7h0m-24 10h0m-4-7h0m-707 6h0m-17 4h0m-36-12h0m-16 6h0m-3-14h0m-81 2h0m-26 7h0m-16 3h0m-48 8h0m-40-14h0m-7 8h0m-18-2h0m-3-7h0m-42 4h0m-4 12h0m-22-13h0m-40-6h0m-53 10h0m-2-9h0m-4 18h0m-35 1h0m-41-12h0m-6 3h0m-8 8h0m-2-15h0m-3 7h0m-14 26h0m10 3h0m3-4h0m7-11h0m8 8h0m13 6h0m17-11h0m14 10h0m37-2h0m9 0h0m54-9h0m19 10h0m22-7h0m32-1h0m12 15h0m35-13h0m11 5h0m7-12h0m5 0h0m29 18h0m7-18h0m38 14h0m27-1h0m164 7h0m8-14h0m20 3h0m690-6h0m8-5h0m7 10h0m31 1h0m1-8h0m97 1h0m40-3h0m13 6h0m8 6h0m24 9h0m14-1h0m41-5h0m352-14h0m-384 43h0m-6-15h0m-27 15h0m-65-15h0m-32 10h0m-8-13h0m-22 13h0m-6 6h0m-1-11h0m-26-3h0m-9 13h0m-30-13h0m-778 0h0m-34-5h0m-5 9h0m-5 6h0m-14-5h0m-21-4h0m-4-8h0m-44 17h0m-20-12h0m-38 9h0m-1 4h0m-1-1h0m-27 4h0m-4-22h0m-4 19h0m-16-10h0m-28-7h0m-46-2h0m-16 18h0m0-9h0m-5-7h0m-55 7h0m-30-1h0m-11 2h0m-11 9h0m-4-8h0m-10 10h0m-8-2h0m-1 3h0m0-11h0m-14-6h0m-6 1h0m-1 5h0m-13 5h0m-17-12h0m-9 3h0m-3 1h0m-2 4h0m-1 1h0m-8 0h0m-1 6h0m-1-2h0m14 26h0m2-1h0m1-9h0m5-5h0m4-1h0m17 15h0m1-6h0m2-13h0m3 0h0m3 18h0m5-7h0m4 0h0m8-9h0m10 15h0m5-1h0m8-11h0m10-5h0m7 1h0m2 3h0m7-2h0m2 21h0m8-17h0m9 1h0m0-1h0m0 16h0m7-6h0m9 1h0m6-1h0m7 0h0m17-9h0m25 5h0m8 1h0m3-1h0m27-5h0m13 13h0m8-19h0m17 3h0m4 4h0m3 10h0m0-8h0m7 11h0m2 0h0m6 0h0m3-6h0m48-4h0m19 7h0m7 2h0m10-7h0m21 5h0m5-1h0m3-3h0m26 4h0m4-8h0m2-8h0m8 20h0m1-17h0m8-5h0m12 8h0m72-4h0m5 15h0m49-13h0m714 5h0m41 12h0m25-10h0m43 6h0m3-4h0m7 0h0m30-6h0m40-8h0m5 19h0m323 16h0m-138 9h0m-190-10h0m-160-8h0m-2 17h0m-4-17h0m-419 7h0m-36 10h0m-295-5h0m-19 4h0m-100-10h0m-104 4h0m-10-7h0m-24 7h0m-35 5h0m-3-18h0m-6 21h0m-14-3h0m-2-13h0m-1 5h0m-13 13h0m-2-14h0m-4 5h0m-2 7h0m-13-20h0m-2 12h0m-10-5h0m-15-5h0m-10 10h0m-6 4h0m0-17h0m-7 4h0m-1 10h0m-6-5h0m-25 6h0m-7 7h0m-3-20h0m-15 19h0m-4-9h0m-5 0h0m-5 4h0m-4-5h0m-15-10h0m-1 11h0m-7-4h0m-2 13h0m-5-4h0m-10-8h0m-4 4h0m-3-13h0m-3 21h0m-11-12h0m-4-6h0m-6 14h0m-4-4h0m-25-3h0m27 18h0m6 7h0m3 2h0m17 5h0m1 0h0m12 3h0m4-15h0m25-6h0m4 14h0m3 7h0m2-11h0m8-9h0m3-1h0m3 19h0m1-18h0m2 11h0m2-1h0m2 9h0m1-5h0m18 7h0m13-5h0m2-9h0m1 5h0m12 3h0m1 3h0m12-12h0m12 12h0m13 1h0m4-11h0m0 6h0m10-6h0m11 0h0m11 12h0m9-2h0m14-3h0m13-8h0m9 5h0m10 1h0m8-2h0m20-6h0m4 17h0m2-6h0m14-17h0m2 5h0m2 13h0m1-12h0m11-6h0m27 14h0m43-4h0m32 7h0m10-6h0m5-9h0m28 1h0m28 3h0m16 10h0m15-7h0m345 7h0m27 2h0m1-4h0m48-2h0m5-4h0m80 13h0m243-20h0m7 18h0m55-1h0m8 5h0m29-1h0m19-5h0m27-17h0m2 6h0m0 12h0m16-15h0m-1 21h0m-6 15h0m-5 1h0m-1 1h0m-10 0h0m-6-6h0m-17 2h0m-39 2h0m-1-9h0m-14 11h0m-16 5h0m-11-9h0m-4 8h0m-287-12h0m-55 6h0m-3-6h0m-62 9h0m-371-7h0m-116 12h0m-49-3h0m-14-17h0m-17 2h0m-28 16h0m-22-7h0m-44 0h0m-12-5h0m-10-4h0m-29 11h0m-8-11h0m-2 7h0m-11 9h0m-16-11h0m-3-4h0m-2-1h0m-3 6h0m0-3h0m-5 4h0m-18 8h0m-13 1h0m-7-6h0m-5-3h0m-1-4h0m-4-8h0m-7 23h0m-1-8h0m0-15h0m-1 19h0m-4 1h0m-8-16h0m-14 0h0m-4 9h0m-1 6h0m-8-18h0m-12 11h0m-1 6h0m-11-1h0m20 9h0m8 9h0m23-1h0m12-7h0m14 13h0m1-2h0m12-13h0m0 13h0m7-5h0m4 14h0m1-2h0m0-8h0m8 5h0m8-11h0m2 4h0m16 9h0m8-7h0m6 1h0m15 5h0m3-12h0m3 16h0m1-21h0m10 16h0m0-12h0m3-3h0m9 18h0m1-3h0m13 4h0m11-18h0m2 15h0m1 1h0m3-2h0m18-13h0m8 2h0m11 1h0m16-6h0m231 6h0m431 7h0m67-2h0m271-10h0m32 11h0m410 1h0m-151 16h0m-160 15h0m-31-4h0m-4-14h0m-44 1h0m-33-4h0m-332 14h0m-14 2h0m-40 2h0m-17-18h0m-25 20h0m-66-20h0m-21 6h0m-548-5h0m-19-1h0m-6 8h0m-14 8h0m-7-14h0m-23 10h0m-7-2h0m-4 7h0m-15-1h0m-2-13h0m-4 18h0m-5-22h0m-2 17h0m-4 2h0m-2 1h0m-3-18h0m-8 16h0m-5-14h0m-2 13h0m-11-8h0m-2-6h0m-2 18h0m-6-14h0m-1 0h0m-1 7h0m-6-8h0m-10-2h0m-13 9h0m-2-7h0m36 29h0m7-5h0m0 3h0m7 1h0m5 4h0m4-4h0m12-9h0m1 0h0m0 7h0m38 5h0m693-7h0m9-6h0m37 10h0m19-4h0m1 14h0m42-9h0m368-3h0m77 14h0m-436 18h0m-74-4h0m31 13h0m449 5h0m12 3h0m4-9h0m-444 40h0" stroke="#1f8a3f" stroke-width="5.2" stroke-linecap="round" fill="none"/>
<path transform="scale(0.5)" d="M1604 2795h0m35 35h0m-26-18h0m-10 2h0m-23 2h0m-1138 1h0m1069 25h0m17 8h0m85-13h0m3 17h0m31-3h0m299 15h0m-118-3h0m-198 15h0m-48-6h0m-36-3h0m-56-13h0m-5 10h0m-11 5h0m-36-12h0m29 43h0m5-12h0m1 7h0m39-17h0m17 0h0m82 9h0m43 0h0m42 4h0m2 10h0m4-13h0m95-3h0m-10 29h0m-184-1h0m-21 8h0m-7-5h0m-42-9h0m-102 15h0m-19-2h0m-1018 4h0m-206 20h0m33 1h0m65-13h0m1232-1h0m28-5h0m190 19h0m6-1h0m45 2h0m315-2h0m18-8h0m35 32h0m0-3h0m-3-5h0m-23-8h0m-10 18h0m-144-5h0m-336-15h0m-5 8h0m-65-7h0m-9 1h0m-6 11h0m-10-9h0m-17 9h0m-109-2h0m-4 10h0m-871-9h0m-291-8h0m-46 18h0m-3-3h0m-4-11h0m-32 28h0m18 8h0m12-17h0m12 12h0m63-12h0m65 2h0m400 4h0m713 12h0m6-6h0m119 5h0m60 1h0m470-21h0m28 9h0m68 12h0m1-19h0m13 27h0m-56 1h0m-14 14h0m-2-4h0m-12-3h0m-10 0h0m-42-10h0m-405 7h0m-173 1h0m-692 11h0m-64 0h0m-333-18h0m-52 18h0m-14-5h0m-48-14h0m-55 20h0m-19-21h0m-9 21h0m-2-8h0m-41-10h0m-4 10h0m0 7h0m-22 24h0m17-4h0m3 1h0m20-18h0m7 21h0m2-1h0m14 2h0m21-22h0m0 3h0m38 19h0m1-1h0m1-13h0m24-6h0m39 15h0m22-5h0m12 3h0m85-14h0m28 8h0m9-4h0m5 2h0m112 10h0m781-2h0m0-2h0m12 1h0m25-12h0m4 14h0m143-10h0m36-7h0m98 8h0m375 15h0m24-1h0m34-4h0m7-15h0m28 17h0m12 3h0m19-14h0m19 14h0m34-19h0m-37 20h0m-4 17h0m-23-6h0m-30-10h0m-5 8h0m-19 3h0m-18 8h0m-58-9h0m-469-2h0m-2-3h0m0 3h0m-32 6h0m-166-11h0m-789 2h0m-34 13h0m-10 0h0m-23 1h0m-5-20h0m-4 11h0m-3-7h0m-20 18h0m-19-21h0m-51 13h0m-1-3h0m-4 3h0m-8-14h0m-15 14h0m-19 6h0m-3-16h0m-3-1h0m-4 10h0m-1 7h0m-18-7h0m-37-2h0m-27 6h0m-7-17h0m-4 10h0m-19-10h0m-5 17h0m-1-5h0m-13 0h0m-15-8h0m-6 11h0m-16-9h0m-3 1h0m-10 2h0m-6-3h0m-10 3h0m-25 9h0m-4-14h0m-8 6h0m-3 11h0m-1-12h0m-3 6h0m-4-5h0m-1 13h0m-4-13h0m-3 12h0m-17 15h0m1 5h0m1-11h0m15 8h0m3-12h0m2 11h0m13-8h0m4 9h0m1 8h0m7-11h0m4-2h0m11-6h0m6 11h0m5-15h0m19 0h0m11 8h0m3 7h0m2 8h0m1-7h0m4 0h0m1-12h0m20 8h0m2-3h0m0-4h0m16 1h0m7 16h0m1-7h0m8-3h0m2-9h0m3 15h0m2-9h0m3-3h0m2 17h0m34-3h0m2-9h0m3 10h0m23-4h0m9-11h0m14 11h0m29-6h0m6 1h0m3 1h0m3 8h0m3-10h0m21 12h0m1-10h0m17 8h0m11-10h0m15-2h0m9 5h0m0 0h0m11 3h0m21-6h0m14 11h0m12-5h0m1 5h0m3-6h0m3-15h0m5 9h0m897 2h0m137-7h0m23 1h0m7 3h0m500 4h0m7 10h0m29-20h0m2 0h0m4 13h0m13-5h0m0-5h0m6 9h0m7-10h0m26-4h0m27 21h0m3-7h0m12 25h0m-74-12h0m-102-2h0m-284 14h0m-171-6h0m-39 5h0m-13 0h0m-8 5h0m-167-8h0m-566-2h0m-13 10h0m-6-16h0m-4 3h0m-29 9h0m-41-6h0m-28 6h0m-127 1h0m-46-3h0m-13 1h0m-6 0h0m-13-14h0m-19 7h0m-1 6h0m-12 1h0m-1 4h0m-24-16h0m-1 7h0m-2 8h0m-28-2h0m-9 4h0m-2-4h0m-21-11h0m-25 13h0m-2-4h0m-33 5h0m-30-16h0m-1 1h0m-15 9h0m0-4h0m-4-8h0m-14 5h0m-15 14h0m-2-15h0m-2 11h0m-2-9h0m-14 1h0m-2 12h0m-4-6h0m-1 8h0m-2-20h0m-34 0h0m-20-1h0m-12 7h0m-2-4h0m-13 1h0m-9 16h0m0-15h0m-7 8h0m-3-7h0m-12 8h0m-10-8h0m-4 16h0m4 7h0m5 16h0m8-10h0m7-10h0m7 17h0m21 2h0m4-21h0m6 0h0m1 14h0m6-5h0m7 6h0m13-7h0m21 1h0m12-4h0m3 18h0m17-11h0m1-9h0m0 15h0m3 3h0m17-8h0m3-4h0m11 6h0m3-5h0m7-2h0m18 0h0m9-5h0m3 20h0m16-5h0m1-15h0m3-1h0m1 5h0m27-6h0m13 12h0m10-13h0m4 22h0m16 1h0m5-20h0m32 13h0m31-9h0m23 9h0m7-4h0m15-4h0m18-2h0m9 1h0m6 14h0m17-8h0m2-11h0m3-1h0m11 14h0m15-11h0m109 0h0m39 19h0m45-6h0m656-15h0m13 4h0m4 4h0m144-1h0m27 11h0m507-9h0m15-11h0m38 7h0m32 5h0m19-5h0m13-5h0m-23 26h0m-583 13h0m-8-15h0m-25 3h0m-27 9h0m-74-6h0m-9 7h0m-23 0h0m-93-9h0m-22 3h0m-537 0h0m-27-9h0m-8 8h0m-158 9h0m-12-12h0m-12-4h0m-10 3h0m-20 10h0m-23-1h0m-4 1h0m-3-8h0m-11 1h0m-8 8h0m-22 4h0m0-16h0m-8 20h0m-4-10h0m-10 1h0m0-10h0m-13 9h0m-4-9h0m-27 18h0m-6-1h0m-6-15h0m-12 0h0m-6-2h0m-4 4h0m-5-2h0m-16 7h0m-3-6h0m-21-7h0m-1 9h0m-16-2h0m-31-1h0m-12 13h0m-1-1h0m-19 1h0m-3-7h0m-10-12h0m-24 23h0m-6 0h0m-21-21h0m-9 14h0m-37-13h0m-5 16h0m-23-18h0m-15 5h0m-8 13h0m-6-19h0m-19 10h0m-14 12h0m-4-16h0m-2 8h0m35 32h0m11-4h0m15-13h0m34 7h0m16 9h0m31-3h0m2-14h0m8 3h0m29 3h0m6 10h0m11 3h0m58-3h0m0-9h0m6-2h0m22-4h0m18 8h0m1 9h0m27-5h0m6 4h0m11-15h0m6 13h0m3-13h0m20 4h0m33 2h0m35 9h0m10 1h0m5-13h0m33 5h0m26-6h0m19-7h0m143 6h0m80 7h0m72 4h0m470 2h0m46-17h0m27 15h0m40-16h0m83 0h0m19 5h0m20-1h0m7 8h0m16 5h0m1 4h0m191-16h0m346-2h0m-490 32h0m-22-2h0m-2-2h0m-14-7h0m-9 20h0m-38-1h0m-8 0h0m-3-2h0m-32 2h0m-51-2h0m-52-13h0m-19 13h0m0 0h0m-10-1h0m-9-1h0m-478-3h0m-8 7h0m-35-9h0m-281 0h0m-12 2h0m-4 1h0m-12 5h0m-2 2h0m0-6h0m-50 0h0m-9-4h0m-28-2h0m-3-1h0m-35-6h0m-63 8h0m-11 6h0m-2-1h0m-9-13h0m-10 14h0m-3-10h0m-2-2h0m-16 3h0m-8 6h0m-8-5h0m-4 5h0m-36 3h0m-10 1h0m-6-4h0m-6-9h0m-7 11h0m-1-14h0m-14 21h0m-2-3h0m-24-18h0m-5 6h0m-57-8h0m-11 7h0m-2-6h0m-9 0h0m-11 22h0m-11-6h0m-13-8h0m-2-5h0m-5 8h0m-4 2h0m-5-7h0m-15 38h0m45 2h0m8-1h0m15 0h0m25-19h0m30 20h0m33-3h0m31-15h0m40 0h0m21 6h0m2 6h0m7-4h0m3 4h0m11-1h0m7-10h0m2 0h0m16 5h0m13 12h0m15-15h0m3-4h0m27 16h0m16-7h0m9-3h0m2 10h0m1-8h0m8-2h0m20-7h0m2-3h0m20 16h0m1 3h0m20-14h0m11 16h0m12-7h0m13-11h0m19 2h0m31-2h0m8 16h0m2-3h0m7-5h0m10 12h0m823-11h0m100 11h0m50-13h0m63 6h0m21-9h0m255 34h0m-10-13h0m-299 0h0m-3 7h0m-57-4h0m-19 13h0m-46-1h0m-862-12h0m-4 10h0m-16-2h0m-31-12h0m-12 2h0m-36 17h0m-7-10h0m-16 1h0m-27-9h0m-13 4h0m0 5h0m-1-7h0m-4 15h0m-6 0h0m-8-13h0m-5 10h0m-3-13h0m-2 13h0m-2 2h0m-26-10h0m-6-8h0m-2-2h0m-5 0h0m-12 1h0m-4 22h0m-5-15h0m-20-4h0m-32-4h0m-12 18h0m-2-1h0m-11-6h0m-25 5h0m-2 1h0m-10-4h0m-1-8h0m-5-2h0m-2 8h0m-18-5h0m-24 3h0m-9 12h0m-21 1h0m-32-21h0m-36 20h0m-3-16h0m-22 11h0m-10-7h0m-20-2h0m-17 6h0m9 18h0m46-3h0m17 18h0m0-1h0m63-11h0m5 13h0m33-1h0m46-10h0m6 3h0m21-4h0m10 10h0m1 2h0m13-3h0m32 1h0m41-2h0m7-9h0m23 5h0m6 2h0m7-14h0m4 15h0m8-18h0m3 6h0m2-4h0m4 13h0m3 7h0m13 0h0m11-4h0m9-13h0m1 10h0m12 3h0m6-14h0m21 7h0m7-1h0m24-10h0m8 20h0m0-14h0m4-3h0m33 11h0m713-14h0m96 15h0m64 4h0m140 4h0m16-23h0m328 11h0m-530 36h0m-16-15h0m-15 15h0m-32-19h0m-785 13h0m-17-2h0m-3-11h0m-22 4h0m-50 6h0m-3 2h0m-8-8h0m-11-3h0m-1 1h0m-5-5h0m-9 1h0m-4 10h0m-10 11h0m-4-18h0m-25 3h0m-4-5h0m-6 17h0m-17 3h0m-33-13h0m-20-5h0m-5 0h0m-3 15h0m-6-20h0m-7 5h0m-7 0h0m-17 18h0m-22-20h0m-8-3h0m-2 12h0m-2 1h0m-28 7h0m-7-11h0m-35-8h0m-2 10h0m-47-8h0m-73 20h0m-24-3h0m-3-7h0m32 32h0m31-20h0m55 6h0m79-7h0m37 12h0m21 5h0m8-6h0m15 9h0m5-6h0m4 0h0m12 6h0m11-2h0m27-12h0m26 4h0m15 12h0m10-18h0m2-3h0m5 7h0m9 3h0m2 2h0m59-11h0m21 18h0m34-7h0m3-9h0m27 15h0m22-7h0m28-12h0m3 0h0m10 7h0m717-3h0m1-4h0m41 0h0m4 9h0m16-8h0m19 12h0m6 1h0m7-14h0m76 15h0m16-8h0m20 1h0m56 3h0m36 5h0m157 3h0m-77 14h0m-163 10h0m-12 2h0m-29-1h0m-68-1h0m-23-7h0m-27 5h0m-1 0h0m-37-13h0m-7 18h0m-5-19h0m-18 11h0m-692-8h0m-13 1h0m-24 14h0m-10-13h0m-7 9h0m-16 6h0m-6-16h0m-54-1h0m-13-3h0m-1 6h0m-8-4h0m-36-3h0m-5 0h0m-15 4h0m-3-2h0m-59 8h0m-12 5h0m-6 0h0m-2-7h0m-8 2h0m-10 2h0m-18-2h0m-2 2h0m0-5h0m-3-4h0m-18-1h0m-13 17h0m-7-16h0m-10 8h0m-11-5h0m-1 14h0m-48-12h0m-31-8h0m-127 11h0m108 23h0m23 4h0m3-4h0m10-12h0m3 10h0m11-2h0m42-5h0m42 2h0m13 9h0m7 5h0m3-5h0m10 7h0m1-3h0m7-13h0m9 5h0m4 4h0m5 6h0m10-15h0m0 16h0m2-7h0m8-11h0m27 14h0m5-16h0m25 14h0m12 3h0m16 3h0m55-20h0m18 5h0m7 2h0m25 8h0m2 3h0m2-19h0m5 0h0m7 23h0m11 0h0m8-17h0m30-5h0m15 7h0m7 9h0m5-15h0m331 20h0m27-1h0m318-20h0m34 2h0m8 4h0m4 13h0m12 0h0m24-11h0m56 1h0m9 0h0m10 1h0m253-2h0m-208 31h0m-6-7h0m-48-6h0m-24 12h0m-16-13h0m-26 12h0m-3 2h0m-23-1h0m-2 7h0m-350-2h0m-20 2h0m-358-22h0m-9 10h0m-9-9h0m-12 14h0m0-13h0m-37 5h0m-70 10h0m-5-5h0m-35-3h0m-22 12h0m-10-1h0m-29-14h0m-19 4h0m-35 12h0m-2-6h0m-1-7h0m-44-2h0m-8-4h0m-3 8h0m-74-10h0m-8 8h0m-63 7h0m-26 7h0m-1-17h0m-11 5h0m-27 2h0m-9-4h0m-18 20h0m15 5h0m130 12h0m20-10h0m4-11h0m5 15h0m32 6h0m6-10h0m40 2h0m0 9h0m172-8h0m19 4h0m27-6h0m85-6h0m19-2h0m12-5h0m266 18h0m455 2h0m38-4h0m18-13h0m93-1h0m3 14h0m288-9h0m-296 33h0m-43 5h0m-74-6h0m-20-10h0m-8 0h0m-3 7h0m-329 1h0m-12 4h0m-85 2h0m-15-11h0m0-1h0m-33 8h0m-12-3h0m-212-5h0m-29 5h0m-10 4h0m-13-5h0m-106-10h0m-43 20h0m-54 0h0m-61-21h0m-22 0h0m-15 2h0m-106 17h0m-29 19h0m27 2h0m59-12h0m281-4h0m34 11h0m304-10h0m45 7h0m24-1h0m26 5h0m386-9h0m9 6h0m11-9h0m3 2h0m9 2h0m8 6h0m48 2h0m316 29h0m-267 2h0m-21 3h0m-3-9h0m-17 5h0m-10-18h0m-3 11h0m-14-9h0m-1-2h0m-15 4h0m-2 3h0m-1 4h0m-6 5h0m-14 0h0m-2-2h0m-1-3h0m-368 8h0m-94-14h0m-13-4h0m-24 5h0m-600 7h0m-126 10h0m765 19h0m92-5h0m15-7h0m358-3h0m31 3h0m26-6h0m11 17h0m0 3h0m8-2h0m5 1h0m3-16h0m5 19h0m11-13h0m6 1h0m4-10h0m-10 42h0m-3 2h0m-18-10h0m-1 6h0m-26-8h0m-4 15h0m-12-7h0m-1 17h0m25-5h0m20 19h0" stroke="#b3202b" stroke-width="5.2" stroke-linecap="round" fill="none"/>
<path transform="scale(0.5)" d="M427 2775h0m-9-1h0m-20 2h0m-11-2h0m-15 25h0m2-9h0m3 16h0m5-11h0m11 9h0m49-8h0m7 4h0m4-8h0m7-1h0m65 30h0m-1 9h0m-5-2h0m-4 3h0m-2-14h0m-5-9h0m-22 23h0m-1-22h0m-1 18h0m-7-11h0m-10 5h0m-26-2h0m-19-1h0m-17-3h0m-1 0h0m0 9h0m-28-4h0m-19 8h0m-26 2h0m-1-16h0m-40 27h0m1-3h0m2 17h0m11-12h0m1 9h0m20-10h0m6 2h0m24-11h0m34 6h0m5-3h0m2 16h0m25-1h0m2-10h0m26-6h0m13 3h0m0 9h0m23-7h0m2 1h0m6-2h0m4 4h0m10-5h0m3 2h0m1 11h0m3-19h0m4 5h0m25 12h0m1447 11h0m-1434 14h0m-2 1h0m-1-4h0m-4-9h0m-34 2h0m-4 7h0m-10-6h0m-14-5h0m-19-1h0m-20 2h0m-11 0h0m-5 9h0m-58-2h0m-24-12h0m-1 14h0m-2-14h0m-15 22h0m-10-17h0m-21-5h0m-1 3h0m-6-2h0m11 39h0m20-12h0m3-4h0m24 4h0m3 19h0m31-6h0m4-4h0m0-9h0m12 0h0m17 10h0m7-5h0m8-6h0m4-2h0m11 9h0m16-7h0m7-1h0m6 18h0m1 3h0m4-13h0m20-10h0m32 7h0m45 3h0m1197 4h0m64 8h0m7-11h0m3-4h0m22 2h0m137 0h0m-131 29h0m-3-13h0m-18 16h0m-19-6h0m0-2h0m-1247 5h0m-22-12h0m-37 5h0m-2 16h0m0-18h0m-24 2h0m-26 13h0m-5-6h0m-2-8h0m-8-2h0m0-1h0m-34 4h0m-3 1h0m-17 10h0m-6 0h0m-6-10h0m-6-3h0m-5 9h0m-31-8h0m-3 15h0m-3-1h0m-3-13h0m-28-7h0m-8 22h0m-10-16h0m-38 22h0m40 2h0m3-6h0m23 17h0m10-8h0m9 9h0m28-7h0m22 10h0m21-13h0m13-6h0m2 19h0m6-4h0m22 2h0m16-5h0m0-9h0m15 15h0m0-10h0m12 6h0m5 3h0m1 2h0m4-8h0m28 6h0m27-18h0m12 12h0m16 0h0m871-6h0m387-7h0m5 19h0m10-8h0m6 1h0m227-3h0m-3 30h0m-135-12h0m-84-1h0m-21 21h0m-23-17h0m-1226-5h0m-5-1h0m-12 7h0m-20 11h0m-1-2h0m-12 4h0m-15-16h0m-2 0h0m-3 4h0m-4 0h0m-7 9h0m-5-3h0m-2 8h0m-24-6h0m0 0h0m-7 2h0m-6-6h0m-3-12h0m-5 21h0m-9-5h0m-1 2h0m-3-13h0m-13 5h0m-5 7h0m-5 6h0m-4-9h0m-41 0h0m-11 2h0m-9 0h0m-19 2h0m-17-8h0m0 8h0m-16-17h0m-5 1h0m-21 5h0m35 17h0m19 4h0m4 16h0m22-10h0m16-4h0m23 0h0m7 12h0m3 1h0m5-17h0m15 18h0m6-14h0m16 16h0m16-2h0m0-20h0m6 1h0m1 13h0m1 7h0m17-19h0m4 17h0m28-15h0m11 8h0m33 7h0m8-2h0m1-13h0m1 2h0m29 10h0m775-9h0m332 12h0m18-12h0m3 3h0m20-4h0m0 0h0m7-3h0m1 7h0m9 10h0m2-13h0m6-7h0m0 15h0m2 6h0m9 2h0m3 0h0m1-4h0m5-19h0m4 8h0m2-6h0m7 4h0m5 14h0m12-12h0m10-6h0m11 21h0m2-12h0m2 3h0m300 5h0m3 10h0m-101 13h0m-201-15h0m-2 11h0m-13 0h0m-52 8h0m-9-8h0m-5 1h0m-5 5h0m-6-4h0m-4-2h0m-14 1h0m-2 4h0m-2-14h0m-5 15h0m-25-17h0m-8 3h0m0-6h0m-2 3h0m-922 20h0m-28-22h0m-12 18h0m-45 0h0m-105-16h0m-31 19h0m-11-2h0m-5-11h0m-13 5h0m-17-2h0m-7 9h0m-7-14h0m-8 10h0m-13-15h0m-36 0h0m-22 5h0m-8 3h0m-9-1h0m-2-6h0m-1 14h0m-4 2h0m-16-8h0m-6-6h0m-29 3h0m-28 0h0m70 17h0m10 0h0m111 6h0m5 12h0m166-15h0m48 14h0m69-1h0m896 0h0m11 3h0m4-11h0m6 10h0m3-14h0m9 8h0m3-13h0m6 13h0m1-8h0m34 5h0m7-3h0m3 5h0m11-2h0m2-9h0m14-1h0m18 23h0m13-3h0m5-4h0m191-5h0m-192 13h0m-3 10h0m-4 9h0m-12 2h0m-1-16h0m-8 3h0m-2 7h0m-1 2h0m-1-11h0m-1-5h0m-6 10h0m0-9h0m-5 2h0m-14 7h0m-5-10h0m-2 6h0m-1 6h0m-2 9h0m-11-21h0m-11 17h0m-1 5h0m-4-4h0m-13-3h0m-11-11h0m-15 5h0m0 11h0m-11-3h0m-963-16h0m-5 2h0m-36 10h0m-85-12h0m-28 14h0m-12-14h0m-15 19h0m-51-17h0m-27 21h0m112 9h0m11-5h0m3 3h0m2 3h0m14 0h0m1-2h0m3 9h0m66-4h0m146 4h0m850-3h0m2-3h0m3 3h0m3 4h0m8-7h0m19-7h0m3 13h0m2-18h0m5 17h0m8-8h0m2 10h0m8-11h0m1-2h0m2 1h0m9-3h0m3 4h0m10-1h0m12 0h0m21-7h0m5 8h0m10 0h0m0 8h0m9-6h0m3 12h0m1-22h0m10 19h0m6-2h0m265 6h0m37-9h0m24 5h0m46 26h0m-25-8h0m-3 5h0m-13 4h0m-13-12h0m-1-2h0m-25-6h0m-6 11h0m-6 9h0m-278-3h0m-14-18h0m-1 1h0m-3 15h0m-6 2h0m-1-18h0m0 9h0m-20 4h0m-2-7h0m-17-2h0m-2 5h0m-5 13h0m-8-10h0m-3 1h0m-4 0h0m-5 5h0m-3-16h0m-7 9h0m-1-10h0m-8 20h0m-16-22h0m-9 10h0m-2-5h0m-9 10h0m-8-9h0m-2 4h0m-4 10h0m-2 1h0m-860-5h0m-116 2h0m-94 5h0m-3-22h0m-8 0h0m-8 1h0m-463 38h0m636 5h0m919-8h0m1 3h0m2 1h0m1-15h0m3 10h0m4-8h0m12 1h0m6 3h0m18 1h0m8-4h0m5 16h0m0-19h0m20 4h0m0-1h0m15 13h0m3-16h0m0 8h0m2-8h0m1 0h0m9 20h0m22-1h0m4 0h0m0-7h0m24 3h0m270-5h0m8-6h0m6-3h0m16 6h0m1 0h0m2-6h0m1 6h0m4 12h0m3-5h0m13 5h0m8-18h0m1 1h0m7 11h0m3-5h0m27 13h0m-21 3h0m0 18h0m-1-17h0m-1 18h0m-2-8h0m-6 2h0m-11 5h0m-1-7h0m-4-7h0m-4 0h0m-13 5h0m-6 0h0m-10 6h0m-11-4h0m-12-12h0m-2 10h0m-249 2h0m0 7h0m-3-18h0m-4-2h0m-3 10h0m-15-6h0m-2-4h0m-2 11h0m-1-10h0m-2 6h0m-6-4h0m-26 0h0m-13-1h0m0 8h0m-1 2h0m-9-4h0m-4 15h0m-5-16h0m-3 6h0m-7-3h0m-2-2h0m-2 7h0m-18-1h0m-15-7h0m-6 8h0m-23 1h0m-1558 12h0m665 7h0m22-6h0m95 9h0m784-12h0m10 2h0m0 8h0m21-2h0m26 13h0m6-6h0m13-6h0m18 10h0m7-7h0m10 9h0m3-21h0m4 6h0m9 1h0m11 4h0m2 0h0m2 0h0m8-10h0m0 1h0m7 2h0m16 1h0m1 5h0m2 6h0m240-5h0m5-2h0m8-7h0m0-4h0m17 15h0m5 5h0m1-15h0m9 12h0m6-17h0m3 23h0m13-9h0m18 9h0m-7 1h0m-8 0h0m-3 7h0m-13 2h0m-21-9h0m-6 17h0m-2-4h0m-10-5h0m-202 10h0m-57-2h0m-2-3h0m-4 8h0m0-2h0m-17-7h0m-6-3h0m-6 7h0m-12 6h0m-5-6h0m-16 0h0m-7-2h0m-4 6h0m0-1h0m-23-8h0m0 9h0m-4-11h0m-2 6h0m-11-11h0m-3 5h0m-5-4h0m0 4h0m-2-5h0m-13 14h0m-4-7h0m-3 7h0m-1-2h0m-8 2h0m-6-16h0m-3-2h0m-7 5h0m-3 3h0m0-7h0m-2 17h0m-884-6h0m-435-2h0m-244-7h0m-34 34h0m711-7h0m888 12h0m8-17h0m0 8h0m6 2h0m11-3h0m1-6h0m3-1h0m14 20h0m0-9h0m18 9h0m4-15h0m4 11h0m35-12h0m7 12h0m4 4h0m4-5h0m5-14h0m34 1h0m1 7h0m17 4h0m2 8h0m0-17h0m11 5h0m258 0h0m0-6h0m21 2h0m4-6h0m-287 29h0m-2 9h0m0 3h0m-15-5h0m-9 10h0m-9-2h0m-2-6h0m-35-4h0m-9 10h0m-2-1h0m-4 0h0m-20-6h0m-2 6h0m-12-7h0m-14 8h0m-6-5h0m-7-15h0m-5 15h0m-2 2h0m-8-8h0m0-3h0m-11-2h0m-20 10h0m-3-8h0m-1 3h0m0-9h0m-986 0h0m-287 20h0m109 18h0m1156-10h0m16 10h0m4 1h0m2-4h0m8 8h0m2-13h0m1 1h0m9 13h0m17 0h0m5 2h0m1-10h0m4 7h0m30-6h0m4-2h0m2-9h0m0 3h0m1 14h0m5-16h0m3 16h0m2-19h0m13 7h0m6 14h0m1-10h0m7-6h0m1-5h0m7 19h0m2-13h0m2 15h0m3-20h0m2 15h0m8-1h0m1-5h0m5-7h0m5 10h0m10 9h0m22-14h0m52 30h0m-61-9h0m-8 17h0m-2-6h0m-2-12h0m-11 1h0m-2-1h0m-3 3h0m-3 11h0m-2-12h0m-6-5h0m-2 21h0m-3-14h0m-8-7h0m-4 8h0m-7 11h0m-2-4h0m-1-6h0m-13 11h0m-4-4h0m-1 5h0m-13-14h0m-5-8h0m-11 2h0m0 17h0m-7-12h0m-7 11h0m0-5h0m-3-5h0m-2 14h0m-2 0h0m-9 0h0m-2-19h0m-6 5h0m-13 13h0m-20-12h0m-2-7h0m-10 3h0m-11-2h0m-2-1h0m-1100 17h0m849 12h0m196-6h0m60 15h0m8-8h0m7 12h0m2 3h0m2-19h0m8 10h0m8 2h0m3 7h0m3-4h0m2-15h0m15-3h0m2 15h0m12 0h0m8 7h0m13-5h0m4 5h0m3-4h0m3 3h0m0-4h0m0-3h0m3-11h0m24 17h0m1-21h0m6 8h0m27 11h0m2 0h0m19-4h0m3 4h0m9 3h0m1-8h0m103-11h0m-78 36h0m-1-12h0m-2 19h0m-3-18h0m-6 5h0m-3 1h0m-4-7h0m-5 4h0m-10 5h0m-1-4h0m-4-8h0m-5 5h0m-1 5h0m-4 2h0m-9-5h0m-13 2h0m-3 14h0m-1-14h0m-6-7h0m-2 0h0m-10 3h0m-3 2h0m-12 8h0m-3 4h0m-14 4h0m-13-7h0m-2-13h0m-5 11h0m-8 6h0m-1-10h0m-10-7h0m-3 16h0m-4-12h0m-2 10h0m-2 1h0m-20-7h0m-17-4h0m-3 4h0m-15 6h0m-6 5h0m-316-21h0m-870 43h0m914-19h0m272 11h0m5-5h0m2-3h0m2 18h0m6 1h0m6-2h0m0-7h0m17 0h0m2-1h0m8 2h0m9-7h0m1-2h0m0 10h0m0 4h0m6-20h0m1 6h0m18-2h0m6 11h0m5 8h0m4-19h0m5-4h0m0 16h0m1-3h0m13 5h0m1 0h0m10-15h0m4 20h0m4-15h0m3-5h0m2 19h0m4-7h0m2-5h0m2 5h0m4-13h0m3 12h0m1-1h0m0-3h0m3-8h0m1 15h0m8-9h0m0-5h0m14 20h0m6-16h0m23 16h0m7-3h0m7-16h0m15 13h0m-10 15h0m-6 5h0m-9-13h0m-5 2h0m-4 15h0m-11-16h0m-12 17h0m-11-16h0m-4-1h0m-2 10h0m-1 1h0m-6 8h0m-25-16h0m-8 12h0m0-4h0m0-3h0m-1 2h0m-20-4h0m-6 12h0m-17-18h0m-1 3h0m-6 6h0m-3 11h0m-3 0h0m0-9h0m-5 4h0m-9-10h0m-10-4h0m-1 4h0m-12 10h0m0 1h0m-6 6h0m0-18h0m-1 10h0m-1-7h0m-7 1h0m-7-3h0m-13 1h0m-537 8h0m-1051-6h0m388 36h0m126-5h0m103 7h0m359-9h0m81 3h0m533-13h0m15 0h0m12 12h0m13-9h0m8-5h0m3 7h0m2 13h0m1-12h0m2-4h0m3 8h0m4-2h0m1 2h0m12-8h0m14 7h0m7-7h0m10 16h0m11-17h0m4 0h0m7-1h0m1 3h0m14 1h0m7-3h0m6 6h0m2-9h0m8-1h0m5 15h0m3-11h0m9 2h0m2 13h0m4-5h0m1 5h0m4-15h0m14 14h0m7 1h0m12 3h0m4 2h0m-11 13h0m-16-5h0m-3 12h0m-14 0h0m-5 0h0m-3 1h0m-1-7h0m-1-6h0m-1 9h0m-2-3h0m-14 4h0m0-2h0m-1-15h0m-11 14h0m-2-14h0m-5 14h0m-4-2h0m-21-2h0m-4 2h0m-4-7h0m-1 13h0m-7-3h0m-19 4h0m-21-18h0m-1 2h0m-2 16h0m-7-8h0m-1-1h0m-17 7h0m-1-1h0m-14-8h0m-8 13h0m-4-15h0m-13 8h0m-1-11h0m-2 9h0m-18 6h0m-514 1h0m-38-13h0m-24 7h0m-677 17h0m710-5h0m44-3h0m468 15h0m3-2h0m10 6h0m17-3h0m13 4h0m10-19h0m18 16h0m18-3h0m5 3h0m0 1h0m6-12h0m6-1h0m3-4h0m0 12h0m6-3h0m2-10h0m1 15h0m9 6h0m0-4h0m6 4h0m3 1h0m1-2h0m12-18h0m1 20h0m3-16h0m6-4h0m5 19h0m0-5h0m1-8h0m6 7h0m1 3h0m0 0h0m0-17h0m4 2h0m1 3h0m4 12h0m5 5h0m1-15h0m6-7h0m0 14h0m2 0h0m10 2h0m5-12h0m26-4h0m1 11h0m1-2h0m4-10h0m7 19h0m6 0h0m9-9h0m-11 20h0m-1-1h0m-23 18h0m-7-1h0m-4-6h0m-14-4h0m-6 8h0m-1-14h0m-6 15h0m-6-12h0m-2 0h0m-1-1h0m-7 0h0m-2-4h0m-3 16h0m-12-10h0m-2 4h0m-20-3h0m-5 11h0m-4-10h0m-2 2h0m-12 7h0m-2-4h0m-3-2h0m-6 6h0m-9-14h0m0 11h0m-3-6h0m-8 2h0m-1-10h0m-3-1h0m-1 5h0m-7 8h0m-10-8h0m-6 2h0m-8 9h0m-2-7h0m-1-10h0m-6 16h0m-14-4h0m-9 5h0m-7-16h0m-2 20h0m-6-6h0m-1-15h0m-492-1h0m-27 10h0m-741 0h0m679 23h0m20-4h0m451-6h0m71 9h0m9-6h0m34 7h0m3 8h0m16-11h0m17 4h0m6 4h0m1 2h0m3-3h0m7 6h0m16-18h0m6 12h0m30 8h0m4-10h0m2-2h0m7 5h0m7-1h0m1 3h0m2-10h0m15-7h0m0 4h0m15 9h0m5-12h0m32 9h0m-200 23h0m-26 12h0m-14 0h0m-8-13h0m-9 2h0m-495-1h0m-72-6h0m56 23h0m21 15h0m29-15h0m3 21h0m455-16h0m4-6h0m6 16h0m-1135 147h0" stroke="#3a78b0" stroke-width="5.2" stroke-linecap="round" fill="none"/>
<path transform="scale(0.5)" d="M1570 2780h0m-15-11h0m-27 22h0m20-2h0m3-4h0m26-1h0m33 25h0m-35 16h0m-11-6h0m-8-5h0m-37 9h0m-5 6h0m-4-15h0m-16 9h0m-973 5h0m-173-14h0m-18 41h0m1127-8h0m11-15h0m75 1h0m17 15h0m8 4h0m1-9h0m74-5h0m8 16h0m305-12h0m24 26h0m-148 3h0m-1 8h0m-2-16h0m-31 0h0m-14 4h0m-2 2h0m-54 7h0m-12-6h0m-40-2h0m-43-1h0m-2-5h0m-44 7h0m-23 2h0m-19-1h0m-8-9h0m-27 15h0m-18 1h0m0-3h0m-5-11h0m-30-4h0m-8 3h0m0 15h0m-7-20h0m-9 7h0m-2-6h0m-962 3h0m-187-5h0m57 25h0m17 2h0m86 3h0m19 16h0m984-6h0m15-13h0m12 7h0m2-6h0m2 4h0m22-1h0m64 0h0m7 9h0m48 0h0m9-16h0m1 20h0m19-14h0m8 17h0m44-5h0m27 3h0m4-9h0m9-10h0m29-2h0m39 5h0m15-2h0m91 6h0m-93 30h0m-1 2h0m-4 6h0m-4-1h0m-4-9h0m-6 0h0m-23-4h0m-5 5h0m-76 5h0m-13-10h0m-5 14h0m-1-4h0m-1-16h0m0 19h0m-21-19h0m-3 8h0m-10 11h0m-10-5h0m-17-13h0m-7 6h0m-30-3h0m-4 6h0m-12-2h0m-4 6h0m-22-11h0m-7-1h0m-12 16h0m-48 0h0m-5-15h0m-6 5h0m-19 5h0m-5-7h0m-13 12h0m-12-11h0m-1131-4h0m-74 34h0m1 2h0m12-2h0m25 0h0m23-8h0m15-3h0m18 7h0m155-3h0m956 5h0m7 4h0m19 2h0m43-16h0m6 17h0m2-13h0m5 4h0m38-4h0m13-2h0m39 5h0m12-7h0m6 14h0m7-17h0m11 13h0m4 0h0m5-6h0m2 3h0m7 3h0m3 1h0m41-11h0m67 5h0m42-1h0m24 7h0m182 7h0m110 1h0m17-18h0m13 17h0m71 10h0m-13 9h0m-19-1h0m-19-11h0m-28 3h0m0 2h0m-131 9h0m-2-12h0m-14 8h0m-265 3h0m-28-17h0m-12 2h0m-8 6h0m-26-6h0m-14 2h0m-11 8h0m-5-7h0m-2-1h0m-14 0h0m-4 4h0m-1 7h0m-25 2h0m-16-14h0m-1-1h0m-1 2h0m-8 17h0m-15-1h0m-6-8h0m-7-1h0m-1-10h0m-19 9h0m-8 6h0m-3 4h0m-2-7h0m-5-14h0m-22 0h0m-16 13h0m-13-9h0m-3-2h0m-14 14h0m-4-2h0m-1100 7h0m-11-17h0m-20 9h0m-69-4h0m74 23h0m37 15h0m311-21h0m791 12h0m5-6h0m10 2h0m26-7h0m3 17h0m6-3h0m2-3h0m13-12h0m1 6h0m7-1h0m27 8h0m3 7h0m8 1h0m6-19h0m32-4h0m14 4h0m49 15h0m21-18h0m6 6h0m15-2h0m10-2h0m13 15h0m3 1h0m351-2h0m60-15h0m8 9h0m4 10h0m9-10h0m7 12h0m1-21h0m1 3h0m15 10h0m2-4h0m13 10h0m33-15h0m2 3h0m4 11h0m5-1h0m21 3h0m11-1h0m9 9h0m-6-3h0m-11 5h0m-11 11h0m-5 3h0m-3-19h0m-2 10h0m-3 9h0m-11-2h0m-1-11h0m-2-1h0m-20 14h0m-4-14h0m-6-2h0m-41 8h0m-4-3h0m-273-6h0m-104 18h0m-14-16h0m-84 7h0m-5-12h0m-16 3h0m-56 1h0m-23 12h0m-14-7h0m-11 8h0m-3-4h0m-5 5h0m-12-16h0m-45 4h0m-21 11h0m-10-18h0m-2 6h0m-11 11h0m-707 3h0m-402-7h0m-22 9h0m-3 0h0m-9-15h0m-56-5h0m-28 40h0m30-10h0m70 8h0m35-1h0m1-15h0m0 13h0m21 6h0m2 1h0m13-20h0m3 5h0m16 15h0m15-18h0m3 6h0m3 9h0m4-11h0m11 6h0m9-5h0m2 5h0m19 6h0m20-6h0m35-2h0m6-3h0m15 5h0m0 8h0m10-6h0m4 7h0m100-8h0m760-12h0m5-1h0m5 5h0m1 8h0m0-12h0m1 11h0m5-5h0m12 2h0m0 7h0m3-2h0m10 4h0m8 1h0m5-1h0m1-12h0m1 0h0m8 0h0m0-3h0m4 18h0m5-11h0m4-9h0m9 20h0m12-22h0m6 19h0m35-1h0m3-11h0m3 12h0m0-2h0m1-9h0m17 13h0m3-19h0m12 5h0m2 10h0m14-9h0m5 12h0m0 0h0m6-12h0m1 13h0m32-20h0m5 15h0m4 1h0m15-2h0m4 3h0m6-15h0m2 2h0m6 13h0m446-7h0m25 7h0m9-13h0m4 0h0m14 6h0m14 4h0m6 5h0m11 3h0m3-20h0m9 9h0m4 8h0m17 0h0m4-15h0m12 12h0m33 18h0m-16 1h0m-10-6h0m-4-4h0m-4 18h0m-16-16h0m-1 5h0m-15 3h0m-2 2h0m-1 4h0m-15 3h0m-34-5h0m-14-1h0m-21-14h0m-8 14h0m-466-2h0m-1-1h0m-5-6h0m-29 17h0m-16-4h0m-1-5h0m-2 0h0m-8-6h0m-1 5h0m-2-11h0m-14 12h0m-11-2h0m-9 10h0m-1-11h0m-23 12h0m-1-5h0m-16-12h0m-14-3h0m-7 2h0m-3-1h0m-8 0h0m-3 8h0m-16 9h0m-1-4h0m-3-7h0m-2-8h0m-9 2h0m-1-2h0m-5 7h0m-10-1h0m-1 10h0m-1-13h0m-10 2h0m-8 6h0m-19 10h0m-2-2h0m0-8h0m-4 1h0m-547 6h0m-5-7h0m-3-2h0m-266 7h0m-2-1h0m-1-3h0m-18-12h0m-1 21h0m-2-10h0m-4-7h0m-1 7h0m-10-10h0m-6 11h0m0-14h0m-32 5h0m-14 18h0m-15-20h0m-4 16h0m-6-8h0m-6 7h0m-15 5h0m-12-3h0m-4 2h0m-4-6h0m-7 2h0m-1-17h0m-26 20h0m-2-6h0m-1-9h0m-7-1h0m-26 13h0m-4-8h0m-11-2h0m-3-3h0m-7 1h0m-15-2h0m-7 19h0m-4-1h0m-7-17h0m-65 3h0m-5-7h0m-49 11h0m-1 6h0m-38-1h0m-5 14h0m18 14h0m18-2h0m25 1h0m26-17h0m24 14h0m0 2h0m13-18h0m4 0h0m24 14h0m4-15h0m31 3h0m10 2h0m16 5h0m15-10h0m7 6h0m6 14h0m0 3h0m40-5h0m2-8h0m17-3h0m16-1h0m47 6h0m42 10h0m19 1h0m27-14h0m1 11h0m3-13h0m5 3h0m16 10h0m31 2h0m232-9h0m516 2h0m4-2h0m17 10h0m14-21h0m23 4h0m7 9h0m4-8h0m3 15h0m9-4h0m0-14h0m3 3h0m8-2h0m7-4h0m3 17h0m2-18h0m12 8h0m14 9h0m10-8h0m4 9h0m7-15h0m1 0h0m15 0h0m17 10h0m23-8h0m10 7h0m15 1h0m10 0h0m21-12h0m102 1h0m329 20h0m53-17h0m5 9h0m48-6h0m13 5h0m1-9h0m13-3h0m10 17h0m16-16h0m6 15h0m1-16h0m5 6h0m5 1h0m12-7h0m-2 31h0m-3 0h0m-4-4h0m-26 19h0m-40-21h0m-1 6h0m-1-5h0m-11 9h0m-25-6h0m-2-1h0m-65 2h0m-294-7h0m-146 14h0m-1-10h0m-5 5h0m-9-2h0m-5-2h0m-24-4h0m-5 4h0m-1 11h0m-11 7h0m-6-21h0m-1-2h0m-4 1h0m-2 9h0m-9-4h0m-17-2h0m-7 8h0m-4-5h0m-11-6h0m-11 19h0m-3-17h0m-3 0h0m-3 10h0m-20 4h0m-5-7h0m-3 12h0m-10-2h0m-10-4h0m-18-11h0m-16 1h0m-12 9h0m-1-7h0m-21 6h0m-557 5h0m-41 3h0m-4-13h0m-7-7h0m-2 14h0m-154 4h0m-2-10h0m-11 1h0m-1 2h0m-3 7h0m-19-6h0m-5-13h0m-6 17h0m-6-1h0m-1-17h0m-2 15h0m-1-10h0m-12-3h0m-10 3h0m-21-5h0m-3 0h0m-1 1h0m-7 5h0m-12 8h0m-1-1h0m-1 1h0m-19-2h0m-3-6h0m-3-4h0m-10 2h0m-24 19h0m-31-6h0m-9-4h0m-46 7h0m-20-14h0m-6-1h0m-8 2h0m-6 3h0m-3 9h0m-17-11h0m-16 6h0m-5 4h0m-29-1h0m-54 4h0m-22-20h0m-13 12h0m-19 5h0m-23-7h0m9 36h0m13-20h0m10 2h0m1 11h0m23-9h0m11 3h0m11 7h0m6-6h0m5 5h0m49 5h0m6-10h0m5-2h0m18 14h0m14-11h0m8-7h0m18 13h0m16 5h0m2-21h0m1 10h0m2-9h0m28 11h0m7-11h0m2 1h0m1 9h0m8 3h0m0-9h0m8 9h0m3 0h0m12-10h0m12 11h0m7-17h0m13 18h0m1-9h0m20-9h0m15 15h0m14-14h0m53 11h0m15 0h0m7 6h0m4-5h0m11-12h0m6 6h0m30-6h0m0 12h0m127 4h0m131-10h0m506-6h0m11 13h0m10-11h0m10 11h0m4 5h0m21-5h0m6-7h0m4 1h0m6 7h0m1-3h0m17 11h0m7-6h0m37-13h0m16 15h0m2-3h0m0-11h0m6 3h0m19 4h0m13 4h0m6-10h0m4 5h0m5-7h0m7 19h0m4-7h0m22-13h0m2 6h0m8-8h0m15 22h0m6-21h0m550 15h0m22 3h0m35-10h0m1-3h0m4 10h0m-15 16h0m-26-5h0m-122 4h0m-447 6h0m-5 7h0m-1-1h0m-15 2h0m-2-10h0m-21-8h0m-9 14h0m-10-6h0m-10-11h0m-6 8h0m-10 8h0m-2-9h0m-4 2h0m-17 7h0m-3-16h0m-38 19h0m-4 0h0m-4-9h0m-12 9h0m-9 1h0m-2-13h0m-4 1h0m-30-8h0m-2 0h0m-16-1h0m-5 7h0m-30 9h0m-6-12h0m-1 16h0m-1-15h0m-10-4h0m-483 10h0m-111 11h0m-16-4h0m-135-13h0m-10 6h0m-7 10h0m-1-18h0m-14 20h0m0-10h0m-3 2h0m-1 6h0m-18-19h0m-5 19h0m-6-17h0m-3 13h0m-2-15h0m-1 3h0m0 8h0m-15-4h0m-3 3h0m-37 7h0m-17-2h0m-2 2h0m-25-8h0m-12-5h0m-15 12h0m-1-4h0m-11-13h0m-2 10h0m-6 5h0m-12-9h0m-3-2h0m0-3h0m-18 8h0m-3 7h0m-3-9h0m-6 6h0m-6 1h0m-7-12h0m-10 1h0m-2 15h0m-8 4h0m-5-8h0m-14 8h0m-2-14h0m-17 12h0m-3 2h0m-7-12h0m-8 11h0m-31-20h0m-6 13h0m-26-10h0m-15 10h0m-11 1h0m-8-5h0m-11-3h0m-10 14h0m-9-9h0m-19-6h0m-2 8h0m-24 28h0m13-3h0m4-16h0m19 18h0m3 1h0m6-15h0m0 19h0m6-15h0m7 6h0m2 7h0m8-14h0m2-1h0m24 15h0m6-2h0m13-8h0m1 11h0m47-20h0m2 6h0m0 6h0m3-7h0m3 13h0m14 0h0m1-4h0m6-15h0m3 11h0m11 10h0m0-15h0m6-1h0m15 6h0m5 9h0m48-11h0m0 11h0m3 0h0m0-10h0m32-5h0m15 6h0m4-7h0m5 6h0m19 11h0m38-18h0m7-3h0m17 9h0m10-9h0m0 13h0m52-4h0m9 7h0m29-15h0m6 12h0m12-10h0m2 8h0m41 5h0m173-11h0m18 16h0m50-16h0m4-4h0m443 10h0m30 11h0m3-3h0m11-15h0m10 13h0m9-3h0m12-2h0m2 3h0m8 2h0m21-18h0m6 1h0m14 7h0m2 11h0m8 1h0m2-13h0m0 7h0m9-1h0m5 9h0m10-7h0m5 0h0m33-10h0m6 10h0m1-3h0m20 0h0m7-9h0m7 18h0m2-20h0m1 14h0m20-4h0m2-6h0m2 6h0m5 6h0m30 6h0m5-8h0m4-3h0m3 6h0m6 3h0m26 23h0m-11-10h0m0 7h0m-11-2h0m-2 5h0m0-6h0m-4-14h0m-4 6h0m-4 7h0m-22-9h0m-27 1h0m-30-5h0m-3 10h0m-3-1h0m-14-1h0m-5 10h0m-19-3h0m-22-3h0m-2 11h0m-3-20h0m-3-2h0m-4 13h0m-1 6h0m-25-4h0m-10 4h0m-6-1h0m-23-13h0m0 8h0m-5-13h0m-6 9h0m-2 5h0m-2 0h0m0-2h0m-1-4h0m-13 13h0m-17-10h0m-19 11h0m-2-4h0m-21-16h0m-2 4h0m-661 1h0m-19-7h0m-41 3h0m-4 9h0m-6 1h0m-5-8h0m-4 6h0m-24-3h0m-4 6h0m-5 2h0m-12 3h0m-12 2h0m-32-22h0m-7 16h0m-75-6h0m-18 1h0m-12-8h0m-5 10h0m-5-4h0m-4 12h0m-5-20h0m-9 4h0m-20 7h0m-25 0h0m-5-8h0m-5 10h0m-1-2h0m-8 9h0m-8-17h0m-7 14h0m-5-16h0m-14 13h0m-11-3h0m-5-7h0m-36 11h0m-4 3h0m-6-6h0m-6 7h0m-8-2h0m-13 2h0m-11-4h0m-11-7h0m-9 5h0m-11 8h0m-3-6h0m-4-10h0m-6 16h0m-20-4h0m0-14h0m-5 17h0m-9-5h0m-4-2h0m-2 9h0m-10 11h0m5-9h0m5 15h0m7 4h0m3-13h0m5 11h0m10-18h0m3 14h0m3 8h0m0-9h0m3 9h0m1-8h0m1-8h0m2 7h0m4-2h0m5-8h0m14 20h0m16-23h0m18 21h0m8-15h0m2-5h0m10 16h0m2 3h0m15-8h0m8-3h0m0 10h0m8-9h0m0-4h0m14-5h0m37 9h0m29 10h0m6-4h0m2 5h0m0-10h0m6 9h0m11 2h0m10-2h0m22-8h0m2 2h0m0-14h0m13 18h0m6-16h0m17 20h0m17-5h0m16-7h0m6-5h0m32 8h0m10-10h0m8 19h0m26-9h0m13-12h0m7 18h0m9-13h0m5 13h0m21-17h0m73 12h0m139-4h0m24-4h0m516 17h0m15-10h0m7-2h0m1-2h0m27-5h0m2-3h0m13 5h0m21-1h0m1 3h0m3 12h0m18-2h0m6-6h0m20-7h0m2 11h0m8 3h0m1-11h0m9-8h0m5 23h0m13-18h0m4 12h0m17 2h0m17-3h0m13-11h0m13 13h0m6-17h0m7 7h0m14 0h0m10-5h0m28 5h0m29 15h0m8-16h0m8 13h0m5 9h0m-3 10h0m-5-5h0m-7-3h0m-1 4h0m-12 12h0m-1 0h0m-19-17h0m-7 0h0m-24 6h0m-13-5h0m-13-4h0m-2-3h0m-5 9h0m0-3h0m-2-1h0m-2 16h0m-15-9h0m-10 3h0m-4 4h0m-7-7h0m-4 10h0m-2-7h0m-21-11h0m-15 2h0m-24 2h0m-1 14h0m-16-20h0m-2 18h0m-16-18h0m-5 20h0m-15-5h0m-7-6h0m-11-10h0m-26 6h0m-1-3h0m-5-2h0m-758 0h0m-39 9h0m-21-7h0m0 15h0m0-1h0m-14 1h0m-11-18h0m-13 5h0m-6 17h0m-2-2h0m-43-14h0m-10-6h0m-6 5h0m-28 3h0m-41 1h0m-15-3h0m-21-1h0m-26-6h0m-3 9h0m-21-8h0m-13 17h0m-9-10h0m-15 1h0m-2 13h0m-1-6h0m-3-8h0m-1 4h0m-4-5h0m-4 13h0m-11-9h0m-13 1h0m0-12h0m-16 16h0m-20-14h0m-1 2h0m-4 9h0m-3 2h0m-68-15h0m-44 38h0m7 1h0m3-14h0m5 9h0m20-10h0m21 4h0m1 15h0m1-12h0m11 13h0m6-19h0m18 17h0m0-12h0m11 12h0m11-11h0m10 12h0m13-9h0m15 2h0m0-9h0m2 2h0m9 10h0m9 3h0m5-15h0m10 9h0m42-6h0m6-4h0m19 16h0m16-10h0m11 13h0m5-17h0m40 12h0m30-4h0m11-12h0m7 7h0m45 12h0m24-19h0m3 10h0m8 7h0m130-13h0m692 11h0m18-11h0m1-2h0m6 7h0m20 14h0m4-18h0m0-5h0m1 11h0m7 12h0m31-22h0m21 2h0m7 13h0m3 6h0m29-17h0m7 5h0m1-3h0m3-2h0m4 12h0m29-9h0m1 3h0m24 4h0m3-10h0m1 8h0m3 7h0m26-16h0m16-1h0m32 8h0m2 6h0m10 2h0m6-14h0m14 0h0m1 17h0m2-14h0m151-4h0m40 10h0m83-10h0m-283 21h0m-5 9h0m-3-7h0m-3 4h0m-2 13h0m-16-15h0m-2-5h0m-24 3h0m0 3h0m-34 12h0m-1-13h0m-21 15h0m-12 2h0m-5-3h0m-7-1h0m-14-4h0m-8-9h0m-6 11h0m-8 6h0m-5-7h0m0-7h0m-4 7h0m-1 7h0m-24-20h0m-6 19h0m-28-3h0m-27-8h0m-15-3h0m-9 7h0m-758 3h0m-62-17h0m-160 7h0m-12 15h0m-8-8h0m-6-10h0m-24-2h0m-3 6h0m-4-8h0m-9 23h0m-14-15h0m-8 4h0m-4-11h0m-5 7h0m-4-8h0m-10 4h0m-10 1h0m-8 8h0m-16-2h0m-3-10h0m-9 8h0m-9 10h0m-6-5h0m-4 8h0m-34-8h0m-26-7h0m-25 12h0m-71 7h0m27 8h0m63-3h0m1-1h0m60 3h0m0 11h0m1-4h0m7-12h0m19 1h0m3-5h0m2 8h0m8 9h0m11-17h0m33 21h0m5 1h0m14-5h0m40 3h0m14 0h0m27-19h0m4 20h0m102-18h0m49-1h0m76 2h0m26 8h0m0-10h0m3 20h0m704 0h0m59-6h0m15 1h0m10-17h0m8 22h0m11-17h0m0 14h0m1-3h0m14-13h0m13 0h0m2-3h0m11 23h0m11-7h0m30-16h0m14 3h0m0 15h0m10-1h0m10-5h0m5 6h0m0-8h0m6 8h0m1-5h0m2 2h0m0 3h0m6 5h0m36-4h0m260 13h0m-251-8h0m-4 4h0m-1-1h0m-20 9h0m-3-8h0m-6 6h0m-26-7h0m-47 7h0m-11 12h0m-9-18h0m-2 5h0m0 2h0m-13 8h0m-9-8h0m-1 2h0m-54 6h0m-27 1h0m-44-1h0m-789-17h0m-72 20h0m-46-21h0m-154-1h0m-18 21h0m-1-17h0m-10 14h0m-10-9h0m-19 14h0m-20-2h0m-47-5h0m-77-16h0m-9 18h0m26 12h0m17-4h0m58 5h0m65 4h0m42-11h0m30 4h0m36 5h0m6 4h0m1008 0h0m5-11h0m28-1h0m45-1h0m0 19h0m6-14h0m12-3h0m10 18h0m10-16h0m10 7h0m23 9h0m13 0h0m4-3h0m22 5h0m4-22h0m7 14h0m1-5h0m0-4h0m1 9h0m22 6h0m212 1h0m14 14h0m-274 0h0m-9-6h0m-4 14h0m-4-3h0m-16-1h0m-20-4h0m-2 8h0m-8-18h0m-29 7h0m-8 13h0m0-13h0m-52 1h0m-12 4h0m-11-10h0m-258 3h0m-61 3h0m-27-3h0m-38-3h0m-519 13h0m-81-5h0m-24 5h0m-49 5h0m-44-21h0m-30 4h0m-84 13h0m-26-5h0m-47 8h0m143 5h0m326 10h0m122-4h0m277-2h0m16 14h0m59-15h0m365 8h0m11 8h0m21-12h0m70-2h0m3-1h0m3-3h0m9 6h0m10 9h0m3-4h0m23-5h0m352-7h0m-180 27h0m-166 12h0m-6-12h0m-2 3h0m-6-1h0m-9 16h0m-32-7h0m-30-6h0m-10-3h0m-39-5h0m-279 7h0m-29-5h0m-106 17h0m-322-9h0m-66 10h0m-23-19h0m-25 0h0m-127 2h0m-49 14h0m-30-1h0m-64 3h0m-89 2h0m-34 23h0m31-13h0m132 8h0m49-9h0m5-3h0m581 9h0m42-6h0m10-4h0m4 3h0m107 1h0m3-3h0m275 11h0m15-2h0m5-10h0m3 0h0m73 7h0m37 24h0m-11 2h0m-4 9h0m-12-1h0m-34-13h0m-17 14h0m-23-20h0m-21 0h0m-2 3h0m-10-4h0m-290 14h0m-790 4h0m-70-4h0m-1-10h0m0 38h0m6-6h0m700 3h0m19-9h0m10 10h0m454 0h0m5-11h0m27 18h0m3-10h0m18 1h0m10-11h0m173 7h0m-178 20h0m-11 9h0m-401-4h0m-18-5h0m-4 5h0m-65-8h0m463 33h0m47 8h0m6-17h0" stroke="#e8943c" stroke-width="5.2" stroke-linecap="round" fill="none"/>
<path transform="scale(0.5)" d="M1596 2772h0m-17-5h0m-5 15h0m-27-6h0m-37 20h0m13 9h0m2-3h0m9-16h0m0 10h0m19-11h0m3 6h0m11 10h0m4-12h0m0-4h0m6 22h0m12-3h0m4-18h0m18 1h0m2 6h0m22 20h0m-8 7h0m-32 8h0m-47-13h0m-47 14h0m-5-18h0m-4 1h0m-58 41h0m11-6h0m9 0h0m5-3h0m11-1h0m1-4h0m3-3h0m1-2h0m3 10h0m7 9h0m7-4h0m3 2h0m15-18h0m1 8h0m46-8h0m17 21h0m11-9h0m4-1h0m16 2h0m5 1h0m1-2h0m7-4h0m5 10h0m12-3h0m2 0h0m23-7h0m2 10h0m239-12h0m-68 27h0m-19-2h0m-27-1h0m-67 10h0m-2-3h0m-18 7h0m-109-2h0m-7-1h0m-6-14h0m-6 1h0m-30 7h0m-21 7h0m-10-3h0m-5-2h0m-9-10h0m-9-4h0m0 4h0m-4-1h0m-3 11h0m-8 6h0m-50-13h0m-941-3h0m929 43h0m10-10h0m36-3h0m6-1h0m7 0h0m4 9h0m3-3h0m4-13h0m27 18h0m2-17h0m4 6h0m12 2h0m7 2h0m17-4h0m10-1h0m25-2h0m6 6h0m2-7h0m14 16h0m7-13h0m14-3h0m0-4h0m67 8h0m4 1h0m89 5h0m219 9h0m-204 7h0m-2 8h0m-63 5h0m-4-5h0m-54-9h0m-7 4h0m-12 9h0m-54-1h0m-19-17h0m-23 4h0m-21-5h0m-14 3h0m-6 10h0m-36-7h0m-5 13h0m-8-9h0m-32-4h0m-3 3h0m-24-1h0m-2 0h0m-4 14h0m-1138-3h0m-69 14h0m52 7h0m1175-15h0m1 12h0m4-9h0m12 11h0m23-9h0m17 4h0m22-6h0m29 19h0m4 0h0m15-14h0m17 11h0m26-5h0m17-6h0m16 2h0m20 4h0m26 0h0m10-5h0m13 8h0m107-11h0m2 6h0m157 3h0m6 0h0m11 6h0m136-10h0m86 35h0m-51-14h0m-18 8h0m-24-6h0m-373-9h0m-33 2h0m-39 8h0m-40-1h0m-16 10h0m-29-2h0m-16-17h0m-15 4h0m-12 9h0m-8-5h0m-8-6h0m-27 0h0m-4 0h0m-3 12h0m-9 0h0m-18-8h0m-19 8h0m-41 7h0m-1173-15h0m-59 30h0m31-1h0m111-12h0m1095 5h0m18 11h0m13-14h0m25 3h0m7 3h0m27 12h0m12-15h0m25-2h0m28 5h0m3 5h0m48 1h0m23-6h0m13-1h0m23 15h0m34-9h0m441-1h0m7 2h0m0-8h0m66 2h0m-34 32h0m-43-4h0m-361 0h0m-103 4h0m-2-13h0m-6 10h0m-12-1h0m-22 4h0m-87 3h0m-4-20h0m-2 0h0m-54 13h0m-13-7h0m-20-3h0m-69 10h0m-589-4h0m-612 23h0m55-3h0m345-4h0m910 15h0m85 7h0m20-4h0m63-7h0m596 8h0m1 9h0m-2 12h0m-10-1h0m-15-2h0m-45 4h0m-610-5h0m-25-11h0m-57 15h0m-5 2h0m-31-14h0m-3 7h0m-2 11h0m-2-22h0m-57 19h0m-15-7h0m-852-6h0m-43-2h0m-35 3h0m-78-3h0m-243 33h0m380-8h0m49 6h0m272 8h0m4-13h0m568-3h0m15 0h0m116 6h0m53 11h0m612-12h0m23 11h0m11-18h0m35 3h0m6 12h0m2 4h0m0-3h0m2-10h0m-7 28h0m-2 0h0m-12-1h0m-4-7h0m-1-1h0m-6 18h0m-604 1h0m-98-22h0m-4 9h0m-27-1h0m-78 12h0m-3-1h0m-589-9h0m-2 10h0m-8-3h0m-17-4h0m-73-1h0m-355 3h0m-19-6h0m-55 7h0m-36-15h0m-1 5h0m-99-5h0m-75 22h0m7 2h0m205 7h0m27 10h0m432 2h0m16-20h0m9 20h0m567-6h0m30 1h0m9 7h0m6-6h0m7-8h0m18 4h0m28-11h0m30 1h0m38 17h0m39-2h0m6-8h0m555 13h0m135-13h0m-292 22h0m-378 16h0m-33 0h0m-68-21h0m-5 2h0m-42 10h0m-18-4h0m-1-5h0m-9 3h0m-3-1h0m-34-7h0m-15 12h0m-578 8h0m-4-3h0m-192-7h0m-6-7h0m-63 17h0m-48-7h0m-112 7h0m-15-19h0m-21 22h0m-3 0h0m-117-4h0m-31-17h0m-63 22h0m16 21h0m59-21h0m55 12h0m83-4h0m36 1h0m155 14h0m66-5h0m22-3h0m24-2h0m14-1h0m224-10h0m57 3h0m439-4h0m8 6h0m10 12h0m55-17h0m44 0h0m130 10h0m10 11h0m346-16h0m258-7h0m-280 26h0m-392 9h0m-18 9h0m-23-4h0m-38 4h0m-81 1h0m-12-16h0m-23 15h0m-2-8h0m-794-5h0m-51 8h0m-48-5h0m-114 13h0m-1-4h0m-19 0h0m-178-14h0m-27-1h0m-39 18h0m1 17h0m37 4h0m27-6h0m78 7h0m34-3h0m8-2h0m91-3h0m99 1h0m185 6h0m147-16h0m4 0h0m529 18h0m4-16h0m50-1h0m1 16h0m1-18h0m5 3h0m146-5h0m63 15h0m86-4h0m59 15h0m-92 15h0m-35-9h0m-15-7h0m-16 6h0m-14 2h0m-69 0h0m-37-3h0m-5 12h0m-10-13h0m-1 13h0m-21-3h0m-25 7h0m-20-1h0m-13 0h0m-16-3h0m-3 3h0m-791-3h0m-116-5h0m-11-9h0m-87 2h0m-81 14h0m-90-1h0m-22-2h0m-17 6h0m-4-19h0m-9-3h0m-49 17h0m8 9h0m22 9h0m13 0h0m17-7h0m10 16h0m8-15h0m42 0h0m4 12h0m14-4h0m7 1h0m5 5h0m16-8h0m94-10h0m4 19h0m94-10h0m1-8h0m67 16h0m8-16h0m6 8h0m43-4h0m24 8h0m4 1h0m42-16h0m732 3h0m13 13h0m2-6h0m15 11h0m1-10h0m0 5h0m19 6h0m0-17h0m3 17h0m16-20h0m1 15h0m3-16h0m106 8h0m134 9h0m204 17h0m-218 12h0m-48-4h0m-81-15h0m-90 17h0m-6-10h0m-21 10h0m-40-10h0m-5 12h0m-719-1h0m-21-6h0m-45-5h0m-13-3h0m-27 6h0m-10-2h0m-19-2h0m-12 13h0m-49-10h0m0 3h0m-70-11h0m-63 18h0m-14-3h0m-1 1h0m-45-1h0m-8-20h0m-10 11h0m-13 3h0m-14 1h0m-2 1h0m0-5h0m-13-11h0m-36 11h0m-17 7h0m-11-3h0m-5-4h0m0 7h0m-9-15h0m-10 7h0m-17-2h0m-4-5h0m-2 13h0m-6-11h0m-11 7h0m-8 0h0m-2-10h0m13 43h0m11-6h0m16-9h0m0 8h0m1 4h0m16-12h0m14 13h0m10-17h0m41 6h0m27-4h0m10 0h0m9 1h0m1 5h0m8 8h0m10-8h0m32-5h0m15 15h0m19-6h0m4-6h0m10-3h0m8 11h0m22 0h0m4-9h0m6 4h0m6 8h0m6 3h0m7 1h0m1-6h0m9-3h0m58-10h0m8 1h0m14-3h0m2 11h0m6 0h0m7-11h0m8 14h0m8 4h0m22 2h0m65-10h0m5-8h0m9-1h0m27 1h0m733 0h0m9 17h0m44-3h0m16 0h0m6-16h0m35 0h0m17 6h0m28 12h0m8-18h0m24 17h0m26-6h0m18 6h0m0-17h0m44 12h0m5-13h0m227 5h0m-134 41h0m-133-16h0m-64 1h0m-40 7h0m0 4h0m-31-18h0m-25 14h0m0-12h0m-16 14h0m-20 0h0m-16-3h0m-1-12h0m-25-2h0m-9 18h0m-1-15h0m-677 5h0m-117 7h0m-10-10h0m-52-1h0m-11 2h0m-84-3h0m-32 12h0m-2-1h0m-16 2h0m-2-4h0m-24 7h0m-9-19h0m-48 0h0m-11 4h0m-5 13h0m-1-8h0m-1 12h0m-11-11h0m-8-8h0m-6-1h0m0 11h0m-2 8h0m0-19h0m-4 14h0m-3-14h0m-14 4h0m-10 17h0m-15-10h0m-15 2h0m-2 6h0m-5-12h0m-6 8h0m-17 4h0m-6-20h0m-18 0h0m-2 20h0m-3-18h0m-28 10h0m-18-5h0m-3-6h0m-6 3h0m19 37h0m9-1h0m11-1h0m6 6h0m2-5h0m18 4h0m5-1h0m16-6h0m1 10h0m0-21h0m1 10h0m6-11h0m2 8h0m23 12h0m15-7h0m1 3h0m2-15h0m7 5h0m11 1h0m5-5h0m2 4h0m4 2h0m7 6h0m6 0h0m1-5h0m8-8h0m1 10h0m42-10h0m1 18h0m10-14h0m30 10h0m4-14h0m10 13h0m4 5h0m34-8h0m10-1h0m51 2h0m23 0h0m2-8h0m2-3h0m2 19h0m8-15h0m19 1h0m45-1h0m40 9h0m37-3h0m58-2h0m382 12h0m342-8h0m23-10h0m104 7h0m38 24h0m-65 2h0m-39 0h0m-77 7h0m-260-14h0m-61 16h0m-65-14h0m-16 14h0m-304-22h0m-76 10h0m-10 13h0m-34-19h0m-31 19h0m-43-19h0m-3 15h0m-34-7h0m-11-6h0m-6-2h0m-6 19h0m-6-7h0m-28-7h0m-23-5h0m-2 0h0m-20 0h0m-3 14h0m-47-12h0m-24 13h0m-4 1h0m-11-16h0m-8 19h0m-7-2h0m-3 0h0m-12-8h0m-2 3h0m-15-8h0m0 12h0m-6-20h0m0 2h0m-4 15h0m-12-4h0m-26 5h0m-2-17h0m-11 4h0m-6 10h0m-1-2h0m-12 9h0m0-12h0m-3-8h0m-12 7h0m-3-1h0m-5 10h0m-4 4h0m-3-15h0m-2 16h0m-1-23h0m-2 1h0m-10 1h0m-2 1h0m28 29h0m8-5h0m5 14h0m6-12h0m6 6h0m12 6h0m11-8h0m27 5h0m31-3h0m1 9h0m0-2h0m10 1h0m1 2h0m12 2h0m2-13h0m4 13h0m4-12h0m10 5h0m1-2h0m0-9h0m30 13h0m0-17h0m12 22h0m4-3h0m4 3h0m7-3h0m5 0h0m15-18h0m7 5h0m1 9h0m6-10h0m1 7h0m4-11h0m4 5h0m3 10h0m1-13h0m4 11h0m12-11h0m2-3h0m8 13h0m89 8h0m29-10h0m48-5h0m123 15h0m26-10h0m323 9h0m361-17h0m14 10h0m5-8h0m47-4h0m6 19h0m8-1h0m40-20h0m8 12h0m6 10h0m35-20h0m-6 39h0m-1-9h0m-81-5h0m-25 11h0m-7 2h0m-393 7h0m-360-10h0m-18-8h0m-40 3h0m-49 14h0m-26-18h0m-12 3h0m0 5h0m-4-2h0m0-9h0m-18 8h0m-6 9h0m-4 0h0m-32 4h0m-10-8h0m-15-11h0m-6 8h0m-26 5h0m-24-11h0m-1 17h0m-1-21h0m-17 10h0m-3-11h0m-1 5h0m-17 6h0m-6-7h0m-5 12h0m-3 4h0m-11-5h0m-4-10h0m-1 11h0m-17-11h0m-17 12h0m-4-2h0m-7 8h0m-18-20h0m-1 8h0m-6-10h0m-5 19h0m-13-13h0m-2-5h0m-8 7h0m-3 6h0m-1 3h0m-15-1h0m-2 2h0m-2-13h0m-25 7h0m-2-8h0m-3 16h0m-2 0h0m-3-6h0m-5-6h0m-6 7h0m0 7h0m-1-2h0m-4 0h0m-7-19h0m-2 8h0m-5-10h0m-11 1h0m-2 3h0m27 27h0m6 5h0m4-12h0m13 9h0m1-2h0m5 9h0m22-1h0m5-2h0m6 10h0m16-15h0m12-8h0m2 9h0m0 2h0m6 5h0m1-3h0m5-13h0m2 0h0m0 8h0m3 12h0m4-18h0m2 2h0m3 17h0m4-9h0m16 3h0m7 4h0m2-12h0m34 4h0m3-2h0m9-6h0m2 1h0m2-2h0m1 6h0m10 4h0m26-9h0m3-3h0m8 10h0m26 1h0m16-5h0m6 1h0m187 4h0m377 6h0m427-6h0m14 2h0m15-10h0m19 2h0m27 4h0m5 11h0m36-17h0m94 21h0m-95 19h0m-23-8h0m-50 12h0m-3-1h0m-12-7h0m-28 0h0m-9 6h0m-2-15h0m-360 13h0m-106 2h0m-11-7h0m-577-6h0m-23-8h0m-20 9h0m-7-4h0m-3 8h0m-3 6h0m-4 4h0m-5 0h0m-9 0h0m-8-14h0m-4 2h0m-15 11h0m-1-17h0m-1 1h0m-5-4h0m-4 14h0m0-1h0m-15-10h0m-13 14h0m-22-1h0m0-12h0m0-1h0m-3 7h0m-9 4h0m-1-4h0m-7 1h0m22 12h0m8 4h0m23 11h0m9-16h0m8 13h0m20-1h0m7-1h0m0-7h0m11 7h0m9-1h0m716-4h0m77 10h0m373 5h0m43-18h0m25 41h0m-15-10h0m-54 3h0m-20-8h0m-403 40h0m27-6h0m-663 157h0" stroke="#1f8a3f" stroke-width="5.2" stroke-linecap="round" fill="none"/>
<path transform="scale(0.5)" d="M1507 2796h0m23 6h0m4-5h0m73 11h0m-45 21h0m-24-6h0m-89 13h0m39 1h0m154 9h0m8 0h0m253-5h0m44-1h0m-31 26h0m-5 0h0m-22 6h0m-176 0h0m-42-4h0m-54-1h0m-3 5h0m-24 3h0m-104 0h0m-66-5h0m-2 13h0m43 10h0m109 5h0m5 1h0m28-10h0m32-6h0m20 3h0m16 12h0m328 14h0m-9-7h0m-276 20h0m-26-13h0m-50-6h0m-123 1h0m-59 7h0m-16 9h0m-5-10h0m-815-3h0m-45 8h0m-294-1h0m-85 25h0m0 3h0m6-5h0m34 7h0m33-6h0m7-2h0m22 11h0m1187 1h0m20-9h0m58 4h0m48 2h0m63-19h0m38 3h0m64 8h0m374 7h0m-1 19h0m-25-8h0m0 12h0m-10-11h0m-368-1h0m-19-4h0m-55 2h0m-165 10h0m-80 6h0m-1121-10h0m-44 12h0m0-5h0m-47 4h0m-17 2h0m-28 14h0m16-2h0m9-10h0m3 7h0m93 3h0m1-1h0m11 12h0m12-3h0m3 4h0m430-11h0m727-5h0m19 5h0m53-7h0m14-2h0m18 12h0m61-9h0m468 16h0m15-1h0m56-12h0m4-6h0m13 8h0m16 30h0m-11-3h0m-63 9h0m-26-11h0m-22 5h0m-459-15h0m-8 5h0m-22 16h0m-28-10h0m-49 8h0m-56-14h0m-9 12h0m-39-8h0m-1 1h0m-15-4h0m0 2h0m-656-6h0m-19-4h0m-380 16h0m-35-13h0m-1-3h0m-7 6h0m-7 12h0m-7-16h0m-16 11h0m-4-6h0m-27 10h0m-3 0h0m-2 5h0m0-2h0m-30-6h0m-25 5h0m-17-10h0m-24 30h0m10 6h0m1-12h0m6 0h0m15-2h0m3-6h0m4 10h0m41 12h0m1-18h0m1-5h0m57 20h0m14-8h0m8-5h0m6 16h0m6-18h0m9 12h0m14-5h0m2-10h0m2 18h0m12-13h0m19 1h0m9 3h0m9-5h0m7 5h0m19 1h0m7 10h0m21-4h0m8-10h0m35-1h0m28 11h0m191-7h0m61 4h0m649 3h0m47-1h0m15-5h0m92 3h0m55-12h0m487 11h0m5-3h0m5 1h0m33 8h0m14-4h0m0 2h0m8-6h0m3-4h0m7 13h0m25-5h0m0-15h0m12 12h0m16-6h0m14 36h0m-10-1h0m-26-1h0m-13-5h0m-9 5h0m-19-7h0m-29-6h0m-25 14h0m-474 1h0m-10-1h0m-45 3h0m-2-14h0m-3 1h0m-85 9h0m-4-12h0m-42 8h0m-3-3h0m-667-8h0m-216 21h0m-9-7h0m-13-2h0m-12 9h0m-8-3h0m-5-17h0m-21 18h0m-16-1h0m-14-8h0m-36 1h0m-7-9h0m-18 2h0m-61-6h0m-58 18h0m-3 3h0m-2-8h0m-45-6h0m-17 4h0m-5-6h0m-16 9h0m-4 6h0m-11-6h0m-3 3h0m-11-13h0m-5 12h0m-2-6h0m-12-2h0m-6 1h0m-30 0h0m-9 15h0m6 2h0m2-2h0m3 20h0m1-15h0m1 11h0m8-10h0m19-1h0m1 13h0m4-17h0m2 16h0m4-10h0m21-4h0m7-1h0m2 3h0m0-2h0m7 15h0m1-18h0m6 11h0m31 9h0m2-16h0m27 8h0m5-5h0m6 10h0m25-5h0m2 5h0m6-2h0m22 1h0m19-13h0m8 3h0m8 2h0m65-8h0m28 15h0m36-11h0m4 11h0m16-1h0m8-2h0m3 10h0m12-21h0m14 6h0m195-3h0m644 14h0m148-17h0m31 12h0m8-3h0m25 4h0m27-7h0m427-5h0m29 5h0m74 16h0m4-8h0m4-14h0m9 2h0m4 7h0m2 7h0m4-3h0m13 3h0m31 5h0m11-16h0m13 32h0m-20-2h0m-17-10h0m-2 14h0m-66 2h0m-28-18h0m-480 19h0m-176 1h0m-59 3h0m-17-11h0m-19 1h0m-7-9h0m-606 15h0m-139 0h0m-18-12h0m-1 15h0m-1-2h0m-2-6h0m-25-4h0m-8 3h0m-10-11h0m-26 7h0m-1-1h0m-8-2h0m-2 4h0m-6 10h0m-22-17h0m-57 9h0m0 3h0m-5-4h0m-5-3h0m-8-4h0m-4-1h0m-7 17h0m-15-15h0m-11 13h0m-10-9h0m-14-7h0m-2 0h0m-11 7h0m-3 2h0m-1 0h0m-6 3h0m-7-6h0m-5 15h0m-19-19h0m-7 15h0m-1-8h0m-29-8h0m-18-2h0m-7 11h0m-10-4h0m-12-1h0m-6-1h0m-5 7h0m-2-4h0m-7 1h0m-7 9h0m-21-5h0m-12 5h0m-27 4h0m-4-23h0m-1 16h0m-14-12h0m-23 42h0m3-16h0m6 16h0m45-20h0m4 17h0m1-4h0m5 7h0m34-8h0m7-11h0m15 11h0m17-1h0m3-2h0m1-9h0m0 1h0m10 10h0m4 9h0m12-9h0m6-6h0m51 6h0m10 9h0m4-15h0m3-3h0m23 2h0m43 12h0m13-14h0m7 10h0m6 0h0m5-8h0m7-2h0m3 6h0m5-4h0m4 13h0m5 4h0m2-18h0m34-5h0m12 19h0m29-3h0m66 4h0m6-2h0m1-8h0m6 3h0m36 3h0m767-4h0m64 9h0m49-17h0m39 11h0m1-10h0m24 5h0m5 4h0m1-1h0m2 4h0m5-1h0m13-1h0m21-8h0m5 10h0m526-13h0m53 18h0m24-10h0m6 1h0m14 4h0m-27 20h0m-60-2h0m-9 6h0m-16-17h0m-297 7h0m-189 2h0m-19-1h0m-4 13h0m-2-8h0m-2-8h0m-2 14h0m-2-1h0m-4 1h0m-19 3h0m-2 1h0m-111-6h0m-114-8h0m-1 12h0m-2-13h0m-31-1h0m-483 3h0m-255-2h0m-38 8h0m-39-13h0m-9 17h0m-5-6h0m-6-2h0m-1-4h0m-16 3h0m-4-7h0m-16 8h0m-21 1h0m-19 10h0m0-18h0m-10 8h0m-33-6h0m-20 4h0m-4-7h0m-4 18h0m-5-11h0m-1 10h0m-9-14h0m-10-3h0m-19 0h0m-2 9h0m-8-5h0m-16-6h0m-2 12h0m-4 5h0m0-8h0m-20-7h0m-30 4h0m-27 1h0m-23 14h0m-25-21h0m-18 9h0m-2 11h0m-3-19h0m-1 10h0m-12 3h0m-27 4h0m-2-18h0m-14 13h0m-5 17h0m23-5h0m3 9h0m16 5h0m28-10h0m12-1h0m7 15h0m10-4h0m1 5h0m34-2h0m37-4h0m7-6h0m11-5h0m6 16h0m1-11h0m12 7h0m2 1h0m1-1h0m0-15h0m22 15h0m30-4h0m2-5h0m11 2h0m8-8h0m35 7h0m5 0h0m7 11h0m30-19h0m4 22h0m3-9h0m11-3h0m4 3h0m32-13h0m3 5h0m5 2h0m35 6h0m10 6h0m13-12h0m12-3h0m19 6h0m10-6h0m18-3h0m28 5h0m247 16h0m544-18h0m139 6h0m3 4h0m16-3h0m30 11h0m1-13h0m8 4h0m11-11h0m1 11h0m12 4h0m2-18h0m9 22h0m13-11h0m306 20h0m-297 5h0m-13 4h0m-6-13h0m-17 4h0m-12 13h0m-17-13h0m-17-7h0m-33 5h0m-7-3h0m-234 19h0m-495 2h0m-41-20h0m-148 4h0m-7 9h0m-5-16h0m-15 11h0m-15 4h0m-15 2h0m-13-13h0m-9 17h0m-6-21h0m-5 9h0m-13-4h0m-3 2h0m-2 15h0m-8-4h0m-30-15h0m-3-1h0m-13 5h0m-2 9h0m-11-7h0m-16 13h0m-13-2h0m-15-12h0m-14-5h0m-4 8h0m-3 9h0m-1-18h0m-39 18h0m-1-5h0m0-2h0m-7-11h0m-24 17h0m-2-8h0m0-8h0m0 10h0m-9 2h0m-16-2h0m-9-6h0m-22-6h0m-1 10h0m-10-1h0m-40-6h0m-22 16h0m-64-20h0m-14 23h0m-10-13h0m-5-3h0m-13 8h0m-23-2h0m-1-8h0m-6 27h0m8 5h0m5-12h0m2 8h0m53 1h0m77-6h0m10 7h0m31 11h0m18-13h0m40-7h0m22 8h0m11 3h0m11 8h0m6-15h0m2-4h0m12 6h0m2 10h0m5-2h0m0 7h0m5 0h0m6-9h0m4-7h0m2-1h0m0 11h0m10 6h0m7-18h0m3 18h0m2-22h0m8 19h0m4-15h0m22 5h0m12 9h0m10 3h0m1-9h0m2-7h0m13 3h0m9-5h0m3 5h0m1 14h0m14-13h0m10-4h0m5 3h0m2-5h0m15 12h0m6-16h0m25 6h0m3-6h0m2 6h0m25 13h0m19 2h0m10-13h0m11 6h0m138 7h0m554-15h0m91 6h0m6-4h0m8-8h0m51 18h0m47-3h0m33-9h0m1-5h0m15 11h0m7-5h0m25 5h0m39-5h0m4-4h0m8-3h0m257 9h0m60 30h0m-27-15h0m-103 9h0m-189-6h0m-10 19h0m-64-5h0m-4-2h0m-23 4h0m-8-16h0m-218-3h0m-12 9h0m-534-5h0m-157-4h0m-27 4h0m-1 8h0m-14 8h0m-1 1h0m-7-20h0m-25-1h0m-11 6h0m-11 0h0m-9-2h0m0 1h0m-11 15h0m-16-2h0m-10 0h0m-1-9h0m-2 8h0m-3-7h0m-30-8h0m-6 5h0m-19 4h0m-7 0h0m-19 7h0m-2 0h0m-25-5h0m-8 0h0m-2-4h0m0 2h0m-15-9h0m0 13h0m-5-13h0m-8 3h0m-2-2h0m-8 4h0m-4 2h0m-11 5h0m-1 2h0m-8 5h0m-9-12h0m-44 3h0m-70 6h0m-4-13h0m-23 17h0m-31-15h0m-8-1h0m-21 16h0m-6-6h0m-10 0h0m-32 19h0m18 8h0m7-9h0m8-7h0m35 18h0m31-1h0m4-19h0m28 1h0m2 4h0m23 9h0m32 0h0m9 7h0m13-20h0m56 20h0m3 0h0m2-19h0m5-2h0m35 3h0m6 4h0m3 5h0m7-1h0m15 1h0m18-11h0m0 9h0m4 0h0m4 1h0m1-10h0m20 4h0m22 10h0m6-15h0m4 2h0m4 1h0m18-1h0m4-2h0m12 5h0m1 4h0m1-4h0m4 15h0m21-1h0m2-5h0m1-8h0m18-7h0m12 1h0m10 6h0m4 7h0m0-4h0m4-5h0m8 1h0m6-1h0m863 17h0m90-5h0m41-9h0m35-6h0m-235 23h0m-41 17h0m-749 4h0m-26-14h0m-30 1h0m-9 9h0m-5 0h0m-4 2h0m-11-12h0m0-3h0m-4 6h0m-8-3h0m-8 15h0m-2-16h0m-62 5h0m-8-12h0m-4 7h0m-7 3h0m-12-7h0m-29 8h0m-10 8h0m-86-7h0m-3 7h0m-13-3h0m-59-8h0m-132 17h0m32 0h0m83 10h0m27 4h0m45-14h0m9 20h0m3-1h0m5-12h0m27 11h0m2-9h0m18-6h0m118 0h0m39 17h0m0-18h0m24 10h0m12-2h0m2 11h0m32-18h0m17 2h0m12-3h0m10 17h0m10-15h0m12 8h0m33-8h0m721-3h0m2 16h0m13-13h0m82 2h0m28 1h0m4-2h0m335-3h0m-252 41h0m-65-7h0m-28 2h0m-75-8h0m-40-4h0m-713 10h0m-6 9h0m-1-19h0m-31 13h0m-16-15h0m-9 8h0m0-1h0m-5-4h0m-22 9h0m-19-11h0m-21 11h0m-1 2h0m-26-4h0m-24 11h0m-43-15h0m-4-6h0m-17 18h0m-15 2h0m-10-9h0m-3-5h0m-11 7h0m-19-9h0m-12 8h0m-9-13h0m-1 16h0m-4 2h0m-2-11h0m-16 1h0m-5 10h0m-28-5h0m-4 2h0m-21 1h0m-24-11h0m-77 13h0m-33-15h0m-70 13h0m130 20h0m37 4h0m1 7h0m10-16h0m15-1h0m11 15h0m10-9h0m30 11h0m16-4h0m7-14h0m17 12h0m2-7h0m32 5h0m16 1h0m5-16h0m14 1h0m73 10h0m32-1h0m32 11h0m17-19h0m12 15h0m0-10h0m7 12h0m9-18h0m4 8h0m19-1h0m19 15h0m46-2h0m12-7h0m332 0h0m364 3h0m20 5h0m12-3h0m11-1h0m61-15h0m73 0h0m-109 25h0m-49 13h0m-20-4h0m-11 3h0m0 0h0m-248 2h0m-163-10h0m-11 13h0m-260 0h0m-4-2h0m-21-4h0m-15-7h0m-16 10h0m-128-6h0m-38-11h0m-92 5h0m-8 4h0m-23 3h0m-10 0h0m-4 3h0m-31-4h0m-41 3h0m-62-2h0m-6-10h0m-43 29h0m38 11h0m34-12h0m105 13h0m30-10h0m18 0h0m18 3h0m16 3h0m2-4h0m29 1h0m47-13h0m4 10h0m48 10h0m14-20h0m12 4h0m15 5h0m0 1h0m1-1h0m24 4h0m46-2h0m2 7h0m8-17h0m24 12h0m250-10h0m20 14h0m435 0h0m29 3h0m38-13h0m2-5h0m2 16h0m5-8h0m10-6h0m5 10h0m9 6h0m43-18h0m5 31h0m-6 10h0m-4 0h0m-56 3h0m-6-13h0m-1-9h0m-30 9h0m-21 10h0m-8-10h0m-289 14h0m-102-6h0m-27-9h0m-48 5h0m-21-1h0m0 3h0m-228-7h0m-15-6h0m-4-2h0m-13 4h0m-148-2h0m-45 8h0m-5 3h0m-59-9h0m-11 7h0m-43-10h0m-8 21h0m-64-10h0m-2 8h0m-22-20h0m-21 19h0m-89-16h0m-20-2h0m21 30h0m60 16h0m62-12h0m16-11h0m3 9h0m14-2h0m2-2h0m23 15h0m195-20h0m115 13h0m324-13h0m448 15h0m8 2h0m64 0h0m15-10h0m29 5h0m-8 21h0m-29-6h0m-20 2h0m-7 18h0m-16-15h0m-7 10h0m-1-15h0m-9 8h0m-8 6h0m-354-13h0m-83 1h0m-364-4h0m-260 7h0m-178-1h0m78 29h0m56-9h0m643 16h0m19 3h0m465-6h0m9-4h0m0 2h0m4-11h0m4 14h0m4 5h0m4-12h0m8 11h0m22-3h0m3 3h0m11-19h0m5 0h0m20 16h0m6-13h0m-18 25h0m-7 15h0m-9-10h0m-4-1h0m-6 8h0m0-1h0m-15-2h0m-1 2h0m-6-17h0m-4 15h0m-7 2h0m-4-3h0m-9 6h0m-9-17h0m13 25h0m62 4h0m9 3h0m9-8h0m1 4h0m6-3h0m-45 20h0m-416 20h0m-667 132h0" stroke="#b3202b" stroke-width="5.2" stroke-linecap="round" fill="none"/>
<path transform="scale(0.5)" d="M436 2783h0m-27-6h0m-46 6h0m-19 18h0m3-5h0m38-10h0m5-2h0m2 14h0m4-3h0m28-1h0m25-8h0m23 17h0m14-13h0m1017 13h0m-971 22h0m-29-8h0m-7 13h0m0-15h0m-4 13h0m-4-9h0m-40-1h0m-10 10h0m-8-4h0m-4-3h0m-6-1h0m-4 6h0m-8-8h0m-1 5h0m-29-15h0m-11 9h0m0 1h0m-11-1h0m-5 1h0m-24 13h0m-2 0h0m-19-8h0m-3 21h0m7 4h0m34-11h0m5 2h0m0-3h0m1 8h0m33 8h0m1-6h0m1 5h0m2-3h0m3 1h0m0-11h0m18 17h0m2-16h0m10-7h0m11 0h0m7 0h0m1 5h0m2 6h0m2 5h0m2-8h0m28 3h0m12-11h0m28 20h0m1-5h0m3-5h0m3 7h0m1405-14h0m-1359 43h0m-14 0h0m-5-14h0m-4 0h0m-8-6h0m-2 7h0m-1-8h0m-20 8h0m-6-9h0m-11 3h0m-1 3h0m-41 3h0m-6 8h0m-7-12h0m-7 4h0m-1 2h0m-14 1h0m-12 1h0m-28-4h0m-10-5h0m-24 6h0m-8 12h0m-15-5h0m-2-2h0m-3 4h0m-4-1h0m-2-15h0m-15 6h0m-4 13h0m-8-6h0m-1 0h0m-4 17h0m14 5h0m2-6h0m0-5h0m13 3h0m12 1h0m9-1h0m11 15h0m35 0h0m4-21h0m8 11h0m6 5h0m20-15h0m0 3h0m7 17h0m4-15h0m10-1h0m9 0h0m2 10h0m2-2h0m40 4h0m1 0h0m4 0h0m10-10h0m5 3h0m9-8h0m20 10h0m34 1h0m2-5h0m10 13h0m4 1h0m1254-9h0m2 0h0m6 3h0m22 7h0m4-12h0m121 3h0m-130 20h0m-3 6h0m-11-8h0m-1271-7h0m-11 9h0m-8 1h0m-17-9h0m-11 8h0m-12 0h0m-2 6h0m-4-7h0m-25-4h0m-3 12h0m-22-15h0m-14 20h0m-11-21h0m-3 14h0m-3 4h0m-1-16h0m-5 18h0m-5-3h0m-7 0h0m-36-5h0m-4 10h0m-7-3h0m-4-17h0m-7 16h0m-16-14h0m-101 36h0m14-11h0m52-4h0m29 7h0m4 0h0m40-2h0m2 16h0m4-3h0m1-12h0m8-2h0m6-4h0m32 15h0m30-8h0m5 10h0m6-16h0m6 11h0m9 1h0m41-10h0m8-4h0m1 21h0m46-1h0m0 1h0m20-6h0m4-13h0m1227 3h0m11 0h0m1 4h0m15 1h0m1-3h0m0 3h0m12 10h0m250-6h0m78 28h0m-12 3h0m-218-3h0m-96-11h0m-40 10h0m0-4h0m-2 9h0m-5-21h0m-16 20h0m-3-2h0m-1-4h0m-9 3h0m0-6h0m-164-8h0m-203 3h0m-857-3h0m-18 2h0m-14 14h0m-33-15h0m-14 6h0m-37-1h0m0-1h0m-32-7h0m-13 9h0m-10 8h0m-6 0h0m-3-20h0m-7 5h0m-1 1h0m-19 13h0m-1 4h0m-8-12h0m-1-11h0m-1 19h0m-3 4h0m-7-15h0m-6 12h0m-17-5h0m-8-3h0m-6 0h0m-1-9h0m19 27h0m1 16h0m15-1h0m25-12h0m1-4h0m16 15h0m5-6h0m23-6h0m17 15h0m18-17h0m37 17h0m0-11h0m17-8h0m10-1h0m34 1h0m1-3h0m3 16h0m12-10h0m3 8h0m5-9h0m34 3h0m3-5h0m5 2h0m3-1h0m91 14h0m1020 1h0m0 2h0m25-9h0m15-10h0m22-2h0m18 12h0m11 9h0m15-17h0m0 15h0m16-3h0m11 4h0m4-14h0m194 5h0m163-8h0m-182 21h0m-167 5h0m-3 4h0m-5-8h0m-3 16h0m-4 4h0m-6-14h0m-13 4h0m-21 1h0m-3 3h0m-16-10h0m-6-5h0m-19 7h0m-4 1h0m-1 12h0m-3-2h0m-17-11h0m-2 4h0m0-10h0m-5 16h0m-5 3h0m-4 2h0m-2-17h0m-6 13h0m-3-2h0m-11-4h0m-7 8h0m-910-11h0m-37 4h0m-41-7h0m-11 8h0m-76-8h0m-27 8h0m-6-11h0m-14 3h0m0-5h0m-8 17h0m-6-13h0m-5 16h0m-8-9h0m-1-8h0m-3 13h0m-15 0h0m-4-6h0m-53-5h0m-2 3h0m-6-3h0m-10-5h0m-9 1h0m-5-1h0m-2 8h0m-5 6h0m-7-15h0m-3 3h0m-12 13h0m-7 1h0m0-4h0m-44-5h0m-5-7h0m43 23h0m155 1h0m2 13h0m14-6h0m10-5h0m15 1h0m23 14h0m70-6h0m1 9h0m73-1h0m12-6h0m23 6h0m899-8h0m2-3h0m2-6h0m1 16h0m8-12h0m3 1h0m5 9h0m2-7h0m1-6h0m6 10h0m4-14h0m3 16h0m16 5h0m11 1h0m4-12h0m9-11h0m3 9h0m5 4h0m3 8h0m1-12h0m2 2h0m10 4h0m2 4h0m3 3h0m29-9h0m21 10h0m7-19h0m5 2h0m221 10h0m174 14h0m-169 5h0m-243-6h0m-2 6h0m-6 4h0m-10-8h0m-11 11h0m-5-2h0m-19 7h0m-9-9h0m-7 4h0m-21 5h0m-3-11h0m-8 1h0m0-10h0m-20 7h0m-29-7h0m-846 12h0m-39-4h0m-16-8h0m-104 0h0m-78 1h0m-6 4h0m-11-8h0m-6 17h0m-3-12h0m-2 15h0m-7-7h0m-14-13h0m-27 0h0m-41 7h0m-130 8h0m-36-9h0m252 25h0m17 2h0m5 3h0m3 7h0m5 0h0m241-3h0m843-10h0m10 2h0m6 2h0m10 8h0m8-14h0m12 13h0m17-13h0m20 7h0m1-11h0m16 2h0m6 10h0m3 8h0m5-18h0m1 0h0m8 18h0m7-1h0m2-5h0m2-7h0m5-7h0m3 9h0m10 12h0m6-14h0m298 2h0m35 7h0m61-1h0m-30 16h0m-14 14h0m-3-7h0m-1 7h0m-4-1h0m-5-12h0m-3 10h0m-1 5h0m-12-20h0m-43 19h0m-289-13h0m-2 5h0m-10 5h0m-9-6h0m-2-9h0m-12 6h0m-7 11h0m-12-8h0m-4-7h0m-2 0h0m-10-3h0m-3 19h0m-6-6h0m-5 4h0m-11-19h0m-1 22h0m-6-19h0m-2 1h0m-9 11h0m-5 5h0m-4-2h0m-1-19h0m-1 10h0m-3-6h0m-1 5h0m-5 12h0m-1-16h0m-5 18h0m-991-22h0m-111-1h0m-14 18h0m-324-6h0m-1-12h0m370 27h0m182 15h0m893 4h0m7-20h0m20 8h0m11 12h0m3-16h0m7 11h0m13-12h0m0 5h0m1 10h0m2-4h0m11-8h0m14 2h0m5-3h0m4-2h0m22 11h0m7-11h0m24 6h0m9-6h0m262 0h0m3 6h0m18 4h0m26 2h0m11-16h0m1 11h0m8 10h0m9-15h0m29 12h0m-5 5h0m-9 14h0m-8 1h0m-9-1h0m-11 4h0m-1 4h0m-11-1h0m-4-15h0m-6 8h0m-4-10h0m-11 2h0m-6 14h0m-13-13h0m-5 15h0m-246 1h0m-12-3h0m-12-7h0m-1 10h0m-5-12h0m-33 2h0m-1-11h0m-1-2h0m-5 6h0m-6 13h0m-7-19h0m-5 10h0m0-10h0m0 7h0m-4-5h0m-10 2h0m-4 11h0m-1-8h0m-3 3h0m-7 13h0m-2-22h0m-24 9h0m-2 12h0m-19-20h0m-14 4h0m-1-6h0m-828 8h0m-72 5h0m-708-13h0m523 30h0m1089 15h0m9-1h0m6-1h0m1-13h0m5-5h0m10 7h0m17 4h0m2-11h0m2 14h0m6-11h0m5 7h0m0 5h0m0 3h0m9-5h0m4 7h0m1-7h0m3 7h0m9-2h0m2-11h0m11 14h0m6-6h0m9-9h0m1 9h0m2-14h0m19 15h0m3-9h0m1 8h0m2 2h0m6-8h0m1 4h0m9 6h0m3-5h0m4-10h0m3 18h0m252-17h0m5 0h0m5 7h0m2 7h0m11-3h0m3 1h0m2-13h0m7-3h0m1 11h0m2-5h0m1 6h0m3 6h0m1-17h0m4 14h0m11-11h0m1 8h0m3 6h0m0-6h0m8-9h0m3 3h0m7-6h0m1 22h0m-14 8h0m-4-7h0m-9 17h0m-1-10h0m-4 2h0m-2-9h0m-1 5h0m-2 0h0m-1-1h0m-3 11h0m-16 4h0m-11-11h0m-4 13h0m-2-11h0m-246-6h0m-5 3h0m-14-2h0m-34 0h0m-4 13h0m-2-5h0m-2-3h0m-6-4h0m-1 16h0m-8-17h0m-2 7h0m-2 5h0m-2 0h0m-3 0h0m-4-11h0m-2 13h0m-7-8h0m-2-12h0m-1 16h0m-6-13h0m-4-2h0m-5 3h0m-5 17h0m-1-3h0m-4 3h0m-3-18h0m-10 6h0m-19 14h0m-1-13h0m-5 11h0m0-11h0m-3 1h0m-3-2h0m-12 6h0m-2-3h0m-1 0h0m-1308 0h0m-2-12h0m-278 28h0m1527 8h0m59-12h0m12 1h0m4 13h0m2-4h0m8 5h0m1-3h0m14 11h0m0-14h0m24-9h0m5 7h0m3 13h0m2 1h0m12-11h0m4-2h0m4 7h0m1 2h0m1 0h0m9-10h0m14 0h0m4 14h0m5-12h0m1 6h0m3 5h0m21-6h0m29-3h0m5 1h0m96 5h0m164-8h0m17-6h0m6-2h0m-280 26h0m-1 2h0m-2 16h0m-1-15h0m-4 11h0m-3-11h0m-12 2h0m-20 6h0m-1-5h0m0-9h0m-9 23h0m-5-15h0m-3 1h0m-1-6h0m-6 16h0m-12-18h0m-4 14h0m-13 7h0m-1-11h0m-20-3h0m-10 13h0m-6-1h0m-16-8h0m-6-5h0m-4 1h0m-22-7h0m-10 0h0m-8 12h0m-9 6h0m-20-14h0m-46 1h0m-280 9h0m357 31h0m2-10h0m2-6h0m24-2h0m5 19h0m7-13h0m3-2h0m4-3h0m5-1h0m2 12h0m8 5h0m3-11h0m7 11h0m2-19h0m2-1h0m3 10h0m12-1h0m1-10h0m4 13h0m9 8h0m3-4h0m7 6h0m13-11h0m2 10h0m5-16h0m2 2h0m1 14h0m10-12h0m13-7h0m8 20h0m9 0h0m3-19h0m1 10h0m19 4h0m-7 17h0m-3 12h0m-22-8h0m-6-5h0m-11 7h0m-4-5h0m-9 5h0m0-15h0m-10 4h0m0 12h0m-3 0h0m-5 0h0m-8 2h0m-12-9h0m0 2h0m-2 3h0m-13-5h0m-7-10h0m-7 14h0m-12-11h0m-18 3h0m-17 6h0m-12 1h0m-3-11h0m-2 19h0m-1-13h0m-4-1h0m-3 2h0m-6 5h0m-3-4h0m0-5h0m-1 6h0m-1486 14h0m221 16h0m1255-18h0m14 18h0m31-11h0m5-6h0m3 22h0m1-20h0m13 9h0m9 7h0m1-6h0m4 8h0m1-4h0m7 6h0m2 0h0m6-16h0m0-2h0m1 2h0m5 9h0m0-16h0m0 23h0m6-22h0m18 18h0m4-5h0m4-3h0m13 11h0m2-5h0m11-13h0m0 1h0m5 10h0m2 4h0m5 2h0m1-2h0m2-18h0m6 17h0m2-8h0m1 11h0m4-20h0m2 6h0m9 0h0m1-2h0m2 2h0m19 0h0m0-4h0m6 27h0m-2 11h0m-1-7h0m-10 12h0m-10-12h0m0 9h0m-5-19h0m-2 12h0m-11-1h0m-6 3h0m-1-4h0m-1 0h0m-12 9h0m-13 1h0m-10-8h0m0 7h0m-4-2h0m-4-14h0m-7 20h0m-4-6h0m-11 6h0m-4-21h0m-17 13h0m-1-1h0m-16-3h0m-3-4h0m-6 6h0m-3 5h0m0-12h0m-1-1h0m-2 16h0m-4-6h0m-3-2h0m-41-10h0m0 0h0m-9 17h0m-1439 24h0m86-19h0m720 15h0m618-9h0m7 11h0m22-18h0m12 18h0m14-18h0m1 17h0m14 5h0m4-12h0m1 5h0m0-15h0m2 22h0m16-12h0m13 11h0m8-17h0m1 0h0m7 16h0m3-11h0m19-4h0m13 18h0m4-6h0m18 6h0m20-9h0m10 6h0m7-16h0m3 3h0m12-1h0m4 3h0m2-5h0m2-4h0m1 7h0m5 10h0m1-7h0m-16 36h0m-1-19h0m-16 19h0m-5 1h0m-13-21h0m-10 7h0m0 7h0m-16 7h0m-8-8h0m-1 8h0m-9-4h0m-15-16h0m0 16h0m-3-19h0m-2 14h0m-5-6h0m-1 7h0m-1 4h0m-18 1h0m0 2h0m-6-7h0m-2-13h0m-2 3h0m-2 10h0m-3 0h0m-12 3h0m-3-16h0m-2 20h0m-6-13h0m-9-7h0m-14 7h0m-3-6h0m-2 12h0m-6-1h0m-9-1h0m-29-11h0m-547 15h0m-6 5h0m-30-7h0m-711-8h0m660 19h0m24 20h0m10-13h0m15 1h0m30-10h0m8 8h0m1-3h0m38 16h0m499-11h0m3-2h0m36 6h0m3 5h0m2-1h0m2-5h0m11 5h0m14-18h0m6 6h0m1 11h0m2-10h0m3 13h0m1-14h0m1-4h0m1 19h0m1-1h0m0-1h0m1-14h0m4 2h0m3-4h0m5 4h0m15-7h0m29 22h0m8-14h0m1 15h0m15-4h0m8 3h0m13-22h0m0 0h0m2 14h0m3 4h0m2 2h0m8-10h0m15-2h0m0-6h0m1 1h0m1 6h0m3 3h0m7-2h0m2 11h0m0-13h0m5 8h0m7-8h0m1 9h0m3-5h0m4-9h0m-14 24h0m-10 8h0m-3 3h0m-2-6h0m-1 12h0m0-16h0m-14 14h0m-5 2h0m-6-12h0m-7 0h0m-2 4h0m0-11h0m-2 8h0m-4 7h0m-1 7h0m-6-23h0m-3 16h0m-7-12h0m-4 17h0m-2 2h0m-5-17h0m-2 0h0m-1-2h0m-9 11h0m-2-14h0m-6 16h0m0-12h0m-7 2h0m0 2h0m-3 11h0m0-18h0m-5 13h0m-13-9h0m-3 10h0m-8-2h0m-18-1h0m-5-3h0m-4 13h0m-8-13h0m-13 8h0m-2-7h0m-3-4h0m-9 14h0m-6-9h0m-2 7h0m-34-7h0m-1 0h0m-246-3h0m-291 10h0m-6-19h0m-39 21h0m-129-15h0m48 30h0m72-11h0m44 8h0m7 12h0m492 2h0m43-21h0m2 16h0m10-10h0m0 1h0m2-3h0m6 3h0m0-7h0m10 20h0m3-5h0m18 1h0m0-10h0m7 4h0m0-8h0m4-3h0m1 14h0m13-5h0m2 1h0m4-7h0m1 19h0m2-14h0m0-5h0m6 16h0m4-13h0m14 15h0m3-16h0m7 2h0m2 14h0m1-17h0m0 14h0m2-19h0m0 21h0m0-3h0m0-6h0m5-12h0m3 12h0m5 10h0m13-6h0m4 4h0m5-12h0m2-7h0m3 19h0m26-17h0m7 7h0m4-9h0m6-1h0m3 0h0m1 6h0m1 15h0m3-17h0m1-2h0m1 17h0m7-3h0m8-5h0m5-2h0m6-9h0m2 6h0m-38 19h0m-10 0h0m-4 19h0m-4-4h0m-3 3h0m-4-10h0m-2 14h0m-28-3h0m-2-10h0m-2 1h0m-12-2h0m-5 14h0m-4-10h0m-13-3h0m-17 0h0m-7 10h0m-2-7h0m-1 8h0m-8-2h0m-12-18h0m-2 22h0m-10-17h0m-21 12h0m-7-14h0m-13 15h0m-4-8h0m-9 5h0m-4-13h0m-8 1h0m-17 4h0m-9 6h0m-19 1h0m-514 8h0m-111-3h0m32 11h0m83 1h0m17 4h0m468-1h0m23 7h0m0-9h0m6 7h0m2-12h0m5 18h0m0-12h0m10 7h0m18-14h0m11-3h0m13 19h0m10-11h0m18 15h0m2-14h0m28-3h0m2 0h0m0 5h0m7 5h0m9 7h0m4-16h0m2 15h0m9-22h0m2 8h0m6 10h0m1-13h0m4 4h0m6-2h0m5 4h0m24-11h0m3 8h0m7-8h0m6 6h0m15 1h0m-91 18h0m-31 3h0m-54 7h0m0-8h0m-20 5h0m-6-1h0m-13-6h0m-13 3h0m-8 0h0m-20-4h0m-467 21h0m-4 0h0m-24 25h0m13-9h0m474-5h0m4 9h0m4-11h0m20-2h0m1 3h0m7-5h0" stroke="#3a78b0" stroke-width="5.2" stroke-linecap="round" fill="none"/>
<path transform="scale(0.5)" d="M1600 2780h0m-36-4h0m-53 14h0m19 8h0m9-10h0m35-2h0m20 5h0m22 31h0m-25-9h0m-28 15h0m-8-14h0m-58 14h0m-40 1h0m-1107-3h0m24 11h0m1069 12h0m4 2h0m5-18h0m10 5h0m31 0h0m4 10h0m41 2h0m3-15h0m48 11h0m0 5h0m9-4h0m34 8h0m347 7h0m-79 7h0m-74 10h0m-4-10h0m-9-2h0m-1-4h0m-1-4h0m-29 13h0m-10 1h0m-7 3h0m-14-1h0m-9 2h0m-63-1h0m-9-1h0m-33-16h0m-10 3h0m-19 12h0m-16-4h0m-55-7h0m-39 16h0m-8-1h0m-3-22h0m-30 3h0m-27 4h0m-4-7h0m-1032 32h0m1029 5h0m12-13h0m4 15h0m20-11h0m4 0h0m6 8h0m4-9h0m15 6h0m29 12h0m1-20h0m54 4h0m1-3h0m22 7h0m6 5h0m11 7h0m10-11h0m35 13h0m6-6h0m0 1h0m6-16h0m5 9h0m8 12h0m13-1h0m45-3h0m15-4h0m9-9h0m5 13h0m7-16h0m26 9h0m4 1h0m18 1h0m3-9h0m0 17h0m101-12h0m-128 19h0m-19 6h0m-22 7h0m-26-9h0m-1 1h0m-11-8h0m-17-1h0m-16 20h0m-3-3h0m-33 1h0m-12-10h0m-11 14h0m-15-15h0m-50-2h0m-17 11h0m-12-1h0m-24-3h0m-8-7h0m-2 5h0m-3 7h0m-11-10h0m-9 1h0m-8 7h0m-8 0h0m-18-1h0m-3 4h0m-14-1h0m-912 3h0m-170-2h0m-113 15h0m30-2h0m8 15h0m3-17h0m261 15h0m875-10h0m4-7h0m1-2h0m10 13h0m16-8h0m25-2h0m9 16h0m3-8h0m4 10h0m12-5h0m11 3h0m18-2h0m27 4h0m23-21h0m5 7h0m12-5h0m5-3h0m5 4h0m32 12h0m18-6h0m10 9h0m5-2h0m3-15h0m32 5h0m1 6h0m19-6h0m7 9h0m2-16h0m13 6h0m2 9h0m4-1h0m7-13h0m27 15h0m29-16h0m1 13h0m292-6h0m0 6h0m27 7h0m16 0h0m60 13h0m-30 4h0m-21-8h0m-8-6h0m0 9h0m-158-5h0m-1-4h0m-220 6h0m-73-4h0m0 10h0m0 8h0m-16-10h0m-31 13h0m-6-11h0m-1-8h0m-12 5h0m0-2h0m0-3h0m-24 5h0m-11-3h0m0 7h0m-10-10h0m-1 20h0m-6-20h0m-20 3h0m-17 3h0m-1 4h0m-2 4h0m-6-5h0m-4 11h0m-32-9h0m-4-8h0m-36 1h0m-11 7h0m-11-7h0m-5 14h0m-4-10h0m-21 3h0m-824 0h0m-299 6h0m-6-12h0m-18 15h0m-24-18h0m-40 12h0m119 12h0m53-1h0m118 6h0m67-9h0m847 6h0m28 15h0m15-14h0m24 7h0m14 8h0m2-22h0m12 6h0m11-1h0m1 0h0m34-4h0m10 21h0m10-5h0m56-14h0m22 2h0m8 3h0m28-4h0m6 0h0m2 3h0m17 3h0m186-7h0m224-2h0m2 7h0m7-1h0m2-5h0m2 0h0m68 5h0m1-8h0m6 13h0m7-1h0m8-8h0m9 18h0m10-11h0m2 10h0m28 23h0m-18-14h0m-6-2h0m0 12h0m-2-10h0m-53 11h0m0-5h0m-53-3h0m-448 9h0m-8-7h0m-4 3h0m-16 2h0m-4 3h0m-2-16h0m-8 14h0m-21-15h0m-7 14h0m-17 0h0m-8-5h0m-1-3h0m-32 3h0m-16-9h0m-50 8h0m-21 8h0m-4 3h0m-3-4h0m-1 3h0m-11-3h0m-20-13h0m-4 12h0m-10 3h0m-8-15h0m-2 16h0m-11-2h0m-888-15h0m-107 10h0m-61-4h0m-15 0h0m-13 13h0m-22-15h0m-20-4h0m-27 17h0m-26 3h0m-4-6h0m-8-15h0m-27-2h0m-1 19h0m-6-3h0m-20 30h0m9 1h0m51-7h0m94 3h0m10-16h0m11 3h0m9 4h0m31 1h0m9-11h0m12 23h0m7-21h0m2 2h0m5 4h0m20 9h0m2-12h0m14 12h0m22-3h0m7 6h0m2-5h0m17 6h0m0 2h0m5-18h0m34 15h0m2-13h0m60 11h0m32-14h0m93 14h0m85-7h0m9 11h0m593-9h0m11-8h0m1 13h0m5-18h0m5 19h0m2-8h0m12 0h0m3 10h0m10-9h0m16 5h0m14-6h0m1 7h0m6-7h0m17-4h0m7 5h0m2 0h0m13 4h0m29-6h0m14 11h0m1 1h0m21-10h0m29 5h0m4-3h0m3 6h0m3-13h0m6 2h0m1 5h0m3 5h0m14-5h0m18-2h0m4-10h0m9 9h0m364 0h0m72-11h0m11 10h0m1 11h0m10-16h0m10 17h0m2-8h0m0 1h0m3-12h0m10-1h0m1 18h0m3-16h0m2 13h0m1-14h0m6 9h0m10 8h0m11-1h0m0-7h0m5-5h0m4 16h0m7-1h0m24-5h0m51 24h0m-26-1h0m-31-11h0m-11 15h0m-4-9h0m-20 8h0m-15-1h0m-8-14h0m-14 8h0m-20-12h0m-7 17h0m-2 1h0m-2-9h0m-464-7h0m-2 12h0m-10-1h0m-3 4h0m-2 5h0m-4-14h0m-12 8h0m0-13h0m-16-3h0m-2 11h0m-16 2h0m-2 3h0m-5 2h0m-3-4h0m-4-6h0m-7 8h0m-17 7h0m-1-6h0m-3 4h0m-8-8h0m-5-5h0m-3-6h0m-4 11h0m-8 1h0m0 8h0m-1 0h0m-24-10h0m-5 1h0m-16 4h0m-13-5h0m-11 3h0m-5-9h0m-1 0h0m-10-3h0m-13 6h0m-5-7h0m-11 4h0m-7 2h0m-2-4h0m0 5h0m-692-8h0m-135 20h0m-36-11h0m-35-7h0m-8 17h0m-11 2h0m-2-14h0m-2-7h0m-26 4h0m-11-3h0m-7-1h0m-12 0h0m-8 21h0m-18-13h0m-2-1h0m-1-4h0m-3 7h0m-10 8h0m-13 0h0m-8-6h0m-20-4h0m-7 14h0m-26-4h0m-30 4h0m-10-16h0m-13 5h0m-11 0h0m-8 10h0m-6 0h0m-22-12h0m-53 3h0m-43 22h0m7 10h0m4-3h0m99-3h0m20 5h0m9-19h0m1 10h0m2 11h0m16 0h0m1-8h0m10-4h0m1 7h0m1-15h0m4 17h0m18-1h0m7 2h0m18-18h0m8 12h0m12-6h0m2 0h0m1 9h0m3-2h0m6-9h0m30 13h0m7-16h0m7 13h0m42-10h0m11 16h0m21-6h0m12-9h0m2 6h0m9-2h0m0 2h0m17 3h0m29 3h0m15-15h0m5 15h0m5-18h0m0 0h0m20 19h0m131-2h0m16-1h0m633 5h0m7-3h0m30-9h0m2 10h0m15-13h0m7-5h0m0 13h0m15-12h0m6 14h0m23-16h0m0 20h0m21 2h0m6-3h0m6-10h0m37-2h0m3 6h0m4-11h0m4 20h0m34-16h0m8-2h0m6 5h0m4 4h0m5 6h0m10-1h0m140-18h0m368 0h0m9 17h0m35-11h0m30 7h0m4-2h0m28-3h0m1 9h0m34-7h0m7 0h0m4 3h0m-46 21h0m0 5h0m-55-6h0m-18-10h0m-32 23h0m-57-5h0m-429-5h0m-14-3h0m-22 0h0m-3-3h0m0 2h0m-28-3h0m-5 11h0m-11-11h0m-17 14h0m-8-20h0m-24 14h0m-30-7h0m-18-4h0m-1 16h0m-12-1h0m-11-13h0m-1 12h0m-9-17h0m-5 22h0m-1-17h0m-5 11h0m-12-13h0m-11 4h0m-6 12h0m-1-17h0m-6 10h0m-2-11h0m-9 19h0m-4-4h0m-603 2h0m-5-13h0m-164-4h0m-14 8h0m-3 4h0m-3 1h0m-2-5h0m0-2h0m-3 4h0m-2 1h0m-1 9h0m-31-21h0m-4 3h0m-5 12h0m-9-6h0m-22 14h0m-10-3h0m-10-4h0m-22-13h0m-16 7h0m-1 7h0m-19-7h0m-7 13h0m-10-6h0m-16-14h0m-2 4h0m0-4h0m-2 1h0m-20-1h0m-11 18h0m-1-9h0m-8-10h0m-17 7h0m-1 4h0m-6-9h0m-20 3h0m-6 7h0m-1-6h0m-14 11h0m-1-13h0m-8 3h0m-2 14h0m-5-2h0m-39 1h0m-11-11h0m-7 10h0m-3-11h0m-29-6h0m-21-3h0m-34 21h0m-31 19h0m3-14h0m14-3h0m3 7h0m2 5h0m6-1h0m43 1h0m23-5h0m41 0h0m3 2h0m21-2h0m3-2h0m22-1h0m1 13h0m2 0h0m12-12h0m12 11h0m6 1h0m7-8h0m14-6h0m7 16h0m12-14h0m1 4h0m18 10h0m1-6h0m2-10h0m8 1h0m18 4h0m17 0h0m2 14h0m8-3h0m13-16h0m25 0h0m4 15h0m47 3h0m13-4h0m19-7h0m15 4h0m1 3h0m2 2h0m19-4h0m2-11h0m1-2h0m16 7h0m21 6h0m7 7h0m16-2h0m9-13h0m127 6h0m594-12h0m12 11h0m2-6h0m4-3h0m1 20h0m4-4h0m4 4h0m3-15h0m23-5h0m2 15h0m7-15h0m11 13h0m4 0h0m11 6h0m18-4h0m3 2h0m7 2h0m5-13h0m1-8h0m0 7h0m16 5h0m7-11h0m8 11h0m18 0h0m15 9h0m2 1h0m4-12h0m25 5h0m7-13h0m34 1h0m0 16h0m16 0h0m2-18h0m120 9h0m407-8h0m7 9h0m34-10h0m34 3h0m4 17h0m2-16h0m-20 33h0m-9 5h0m-129 0h0m-17-19h0m-125 21h0m-17-3h0m-2-4h0m-185-1h0m-21-4h0m-86 13h0m-30 0h0m-11-12h0m-16-4h0m-1-2h0m-6-4h0m-28 7h0m-31 9h0m-2-13h0m-12 16h0m-15-3h0m-2-1h0m-8-13h0m-11 13h0m-5 7h0m-17-21h0m-9 7h0m-9-3h0m-16 15h0m0-14h0m-13 16h0m-7-23h0m-17 16h0m-3-14h0m-524 7h0m-29 1h0m-226 13h0m-10-18h0m-4 14h0m0-16h0m-27-1h0m-25 16h0m-22-5h0m-7 8h0m-3-13h0m-13-4h0m-13 4h0m-18-8h0m-6 16h0m-4 2h0m-6-9h0m-9 5h0m-23-7h0m-10 8h0m-3-6h0m-27 14h0m-9-2h0m-6-8h0m-3 1h0m-8 4h0m-3-6h0m-3 1h0m-8 10h0m-1-18h0m-19 3h0m-1 9h0m-2-16h0m-5 1h0m-1 12h0m-3 0h0m-31 7h0m-1 0h0m-6-9h0m-7 0h0m-3 11h0m-2-8h0m-33-7h0m-13 12h0m-10-18h0m-6 13h0m-1-2h0m-14 3h0m-15 5h0m-13-6h0m-10-3h0m-14 3h0m0 6h0m-3-10h0m-12 0h0m4 36h0m24-14h0m42 9h0m2 4h0m6-17h0m6 4h0m37 0h0m7 3h0m11-8h0m1-2h0m6 8h0m7 3h0m4-8h0m5-1h0m18 4h0m9 13h0m1-18h0m2 9h0m1 7h0m13-16h0m2 0h0m6-1h0m12-1h0m5 7h0m8 12h0m48-2h0m2 5h0m9-11h0m13 9h0m16-11h0m7 9h0m22-8h0m10-10h0m29 17h0m6-3h0m12 1h0m15-10h0m8 9h0m5-10h0m4 16h0m15 1h0m8-11h0m11 6h0m1 3h0m3-14h0m41 6h0m0 3h0m28-7h0m78-8h0m8 5h0m43 14h0m70 3h0m70-15h0m1-2h0m4 3h0m3 2h0m456 7h0m13-8h0m5-1h0m15-3h0m5 2h0m19-2h0m6 17h0m4-6h0m15-2h0m7 6h0m2-10h0m10 9h0m5 1h0m2-1h0m0-8h0m4 11h0m10-3h0m18 4h0m1-17h0m6 9h0m4-2h0m8-5h0m1 4h0m5 8h0m26-11h0m5-4h0m14 11h0m2-5h0m0-2h0m3-7h0m13 20h0m17-14h0m1 3h0m24-10h0m18 9h0m483 6h0m17 30h0m-27-21h0m-174 13h0m-10-12h0m-70 7h0m-208-8h0m-62 22h0m-16-20h0m-14 3h0m-3-1h0m-28-1h0m-37 5h0m-26-3h0m-24 8h0m-2-2h0m-1-4h0m-21 10h0m-1 4h0m-1-18h0m-4 0h0m-30 4h0m-12 12h0m-9-12h0m-20 13h0m-1-13h0m-2 11h0m-3-10h0m-13 7h0m-442-3h0m-42-7h0m-30 16h0m-15-1h0m-7 2h0m-12-8h0m-138-5h0m-4 0h0m-26 9h0m-20-19h0m-7 23h0m-8-4h0m-4-10h0m-21 0h0m-3-7h0m-1 1h0m-15 12h0m-7-11h0m-6 13h0m-9-3h0m-3 5h0m0-11h0m-11 4h0m-5-1h0m-16-8h0m-5 10h0m-4-3h0m-11-6h0m-5 10h0m-9-8h0m-8 16h0m-1-3h0m-8-19h0m-8 7h0m-12 8h0m-9 4h0m-14-16h0m-27 14h0m-20-7h0m-15-7h0m-3 11h0m-5 3h0m-2 1h0m-3-6h0m-9 4h0m-2-4h0m-4 11h0m-2-11h0m-5-1h0m-10-10h0m-7 3h0m-5-1h0m-6 17h0m-5-18h0m-9 3h0m-26 4h0m-4 2h0m-6 8h0m-5-12h0m-7 14h0m-6-17h0m-6 18h0m-1-17h0m-15-2h0m-3 5h0m-8 2h0m-2-6h0m-25-4h0m-14 4h0m-21 8h0m-12 2h0m-3-9h0m-1-1h0m-14 12h0m-5 26h0m1-10h0m9-2h0m2 0h0m22 9h0m9-7h0m20 14h0m12 1h0m11-10h0m6-3h0m20-2h0m2 1h0m0 0h0m4 10h0m17-19h0m12 11h0m33 4h0m5-10h0m3 18h0m8-22h0m27 16h0m8-8h0m13 8h0m5-3h0m0-11h0m5 9h0m6 3h0m10-1h0m6 8h0m3-5h0m9-17h0m3 9h0m4-7h0m33 12h0m26-8h0m1 5h0m9-5h0m56 9h0m12 1h0m17-14h0m25 2h0m13 0h0m29 8h0m18 3h0m168-7h0m544 1h0m5 13h0m1-8h0m0 0h0m37-1h0m12-6h0m25 6h0m21-7h0m17 2h0m27-4h0m0 9h0m12-13h0m8 5h0m13 6h0m9-3h0m5 5h0m12 6h0m1-18h0m25 9h0m10 13h0m0-9h0m10-2h0m19 9h0m15 1h0m13-2h0m12-9h0m9 5h0m6 0h0m7-3h0m1-3h0m7-5h0m12 9h0m7-8h0m276-2h0m7 25h0m-228 6h0m-22-11h0m-44 12h0m-12 10h0m-9-14h0m-2 13h0m-7-4h0m-24-14h0m-3 11h0m-15-7h0m-7 11h0m-17-10h0m-9-2h0m-15 13h0m-6-2h0m-25-1h0m-22-16h0m-15 19h0m-28-6h0m-23 3h0m-1 6h0m-13-3h0m0-18h0m-27 14h0m-19-7h0m-13 7h0m-725 2h0m-5 5h0m-1-11h0m-16 9h0m-1-20h0m-22 16h0m-20-10h0m-25 11h0m-5-9h0m-5-2h0m-93-2h0m-4 0h0m-20 10h0m-11-8h0m-54 12h0m-21-10h0m-13 4h0m-11-10h0m-8 6h0m-4 5h0m-35-2h0m-22 0h0m-10 5h0m-11-2h0m-4-13h0m-1 22h0m-30-12h0m-1-7h0m-4-1h0m-5 12h0m-2 2h0m-18-2h0m-17-8h0m-7 6h0m-1 10h0m-1-17h0m-5-4h0m-1 18h0m-1-1h0m-8-7h0m-21-12h0m-1 11h0m-6-10h0m0 14h0m-2-6h0m-12 5h0m-2 4h0m14 8h0m8 21h0m2-15h0m21 9h0m12 1h0m5-13h0m2 3h0m12 8h0m7-15h0m2 6h0m13-7h0m18 14h0m7-3h0m0 11h0m16-16h0m12 15h0m12-3h0m1 4h0m1-13h0m18 0h0m3 1h0m3 12h0m14 0h0m19-16h0m5 11h0m22-5h0m67 6h0m15-15h0m23 9h0m4-6h0m2-4h0m21 16h0m16-17h0m39 20h0m11-5h0m59-9h0m19 9h0m7-15h0m752 19h0m24-12h0m27 0h0m3 0h0m10 13h0m25-2h0m5-17h0m19 10h0m5 4h0m2-13h0m4 7h0m4 4h0m2-7h0m0 5h0m2-11h0m0 20h0m9-19h0m7 18h0m4-2h0m2-5h0m3 4h0m12-7h0m3 4h0m4 0h0m3-4h0m20 11h0m4-12h0m19 12h0m13-9h0m6-12h0m5 1h0m2 0h0m2 11h0m0 4h0m14 5h0m2-9h0m12 10h0m7-4h0m4-3h0m1-13h0m0 5h0m7-4h0m1-1h0m21 15h0m1-4h0m312 16h0m-20 13h0m-186-13h0m-131-4h0m-15 18h0m-1-1h0m-9-16h0m-3 2h0m-12 19h0m-5-16h0m-19 12h0m-7-15h0m-8-1h0m-4 1h0m-7 16h0m-12-8h0m-34 4h0m-4 6h0m-8-14h0m-15-7h0m-15 6h0m-5 11h0m-17 1h0m-15-6h0m-1-4h0m0 6h0m-20 3h0m-22-7h0m-860-10h0m-26 1h0m-6 8h0m-48-9h0m-69 9h0m-20-8h0m-5 8h0m-4 12h0m-4-4h0m-52-5h0m-1-8h0m-22 9h0m-5-2h0m-1-10h0m-5 18h0m-21 1h0m-16-13h0m-6 12h0m-49-4h0m-7-2h0m-10-1h0m-32 10h0m-7-21h0m-1 12h0m-14 0h0m-3 9h0m-31-12h0m-1-11h0m67 36h0m44 11h0m23-12h0m49 1h0m7 10h0m24-11h0m8 0h0m3 9h0m45 0h0m9-6h0m20-6h0m26 7h0m39 7h0m46-13h0m16-5h0m27-4h0m32 20h0m119-2h0m717-12h0m11 0h0m25 6h0m17 11h0m7-9h0m22-2h0m2-4h0m7 4h0m19-8h0m8 3h0m3 16h0m35-17h0m1 7h0m7 1h0m0-5h0m27-9h0m5 12h0m15-5h0m19 4h0m25-7h0m116 12h0m-119 9h0m-23 17h0m-43-15h0m-2 19h0m-22-22h0m-1 1h0m-13 0h0m-5 9h0m-28 8h0m-4-7h0m-2 2h0m-4-2h0m-23 12h0m-30-12h0m-4 1h0m-1 3h0m-40 1h0m-720 1h0m-98-8h0m-76 14h0m-4-14h0m-51 12h0m-8-7h0m-71-12h0m-57 11h0m-4-3h0m-55 7h0m-16-4h0m-36-12h0m-3-1h0m-38 16h0m-20 7h0m-5-18h0m-57 21h0m37 3h0m13-4h0m0 17h0m84-11h0m63 15h0m21-5h0m14-15h0m11 20h0m74-10h0m19-10h0m73 3h0m903 11h0m2 0h0m27 0h0m18 3h0m5-2h0m14-8h0m24-9h0m1 6h0m2-6h0m0 21h0m31-18h0m0 17h0m3 1h0m10-21h0m1 1h0m15 13h0m1-4h0m0-9h0m11 5h0m12 15h0m6-10h0m2-2h0m6 2h0m3 3h0m4-1h0m1 6h0m0-6h0m1-9h0m1 14h0m11 1h0m11-4h0m-38 13h0m-18 5h0m-38 8h0m-8-3h0m-7-7h0m-1-7h0m-2 15h0m-9 2h0m-1-13h0m-9 13h0m-1-16h0m-15 8h0m-3 13h0m0-13h0m-8 9h0m-8-6h0m-8 3h0m-29-14h0m-307 2h0m-70 14h0m-424-1h0m-98-12h0m-87 19h0m-15-1h0m-3-11h0m-9-9h0m-20 15h0m-10 5h0m-2-9h0m-4-10h0m-57 8h0m-102-5h0m-19-4h0m-50 11h0m-8-3h0m-5 7h0m14 29h0m8 0h0m22-2h0m87-17h0m95 6h0m16 11h0m45-12h0m227-5h0m424 0h0m17 1h0m30 3h0m22 9h0m261-13h0m6-1h0m21 21h0m1-18h0m18 1h0m16 10h0m1-5h0m1 6h0m6-1h0m3-9h0m29 3h0m7-4h0m11 2h0m16 7h0m3-2h0m4-10h0m5 17h0m3-5h0m0 0h0m6-6h0m5-3h0m7 4h0m12 2h0m1-4h0m-66 16h0m-17 2h0m-42 3h0m-32-4h0m-10 8h0m-264 3h0m-82 9h0m-529-7h0m-12 3h0m-2 0h0m-47-8h0m-39-8h0m-32-1h0m0 3h0m-12 4h0m-20 13h0m-69-19h0m-91 0h0m50 42h0m44-12h0m44-4h0m42 6h0m11-7h0m11 14h0m46-13h0m162 2h0m378 10h0m53 7h0m395-8h0m13-12h0m3 7h0m12 13h0m6 1h0m57-14h0m7 13h0m9-12h0m298 19h0m-116 10h0m-192-7h0m-50 10h0m-8-16h0m-10 12h0m-16 0h0m-27-8h0m-313 9h0m-137 4h0m-31-14h0m-609-4h0m-94 15h0m-8-7h0m-10-1h0m-28 3h0m122 13h0m648 17h0m79 0h0m412 4h0m87-18h0m169 5h0m103-1h0m-268 32h0m-4-3h0m0-8h0m-57-2h0m-6 5h0m-17 6h0m-424-4h0m464 16h0m30 16h0m7-17h0" stroke="#e8943c" stroke-width="5.2" stroke-linecap="round" fill="none"/>
<text x="317.5" y="1453" font-size="37">Myeloid</text>
<text x="442" y="1784.6" font-size="26.5" font-style="italic" text-anchor="end">8 samples</text>
<text x="433" y="1808" font-size="26.5" font-style="italic" text-anchor="end">7,986 cells</text>
<text x="858" y="1402" font-size="36.4">Endothelial</text>
<text x="1156" y="1785.5" font-size="26.5" font-style="italic" text-anchor="end">8 samples</text>
<text x="1162" y="1809" font-size="26.5" font-style="italic" text-anchor="end">10,672 cells</text>
<circle cx="1207.8" cy="1497.9" r="15.4" fill="#1d8a3c"/>
<text x="1238" y="1505.5" font-size="26.3" fill="#1c6e38">Sham</text>
<circle cx="1207.8" cy="1544.8" r="15.4" fill="#b61f28"/>
<text x="1238" y="1552.4" font-size="26.3" fill="#901b22">TAC</text>
<circle cx="1207.8" cy="1593.8" r="15.4" fill="#3b74a8"/>
<text x="1238" y="1601.4" font-size="26.3" fill="#2f6292">TAC JQ1</text>
<circle cx="1207.8" cy="1644.6" r="15.4" fill="#d98c3c"/>
<text x="1238" y="1638.6" font-size="26.3" fill="#c8853a">TAC JQ1</text>
<text x="1238" y="1663.3" font-size="26.3" fill="#c8853a">withdrawn</text>
<text x="1" y="358" font-size="44" fill="#000" font-weight="bold" font-style="normal" text-anchor="start" >c</text>
<text x="0" y="1383" font-size="44" fill="#000" font-weight="bold" font-style="normal" text-anchor="start" >d</text>
<text x="616" y="1382.4" font-size="44" fill="#000" font-weight="bold" font-style="normal" text-anchor="start" >e</text>
</svg>
</body></html>
